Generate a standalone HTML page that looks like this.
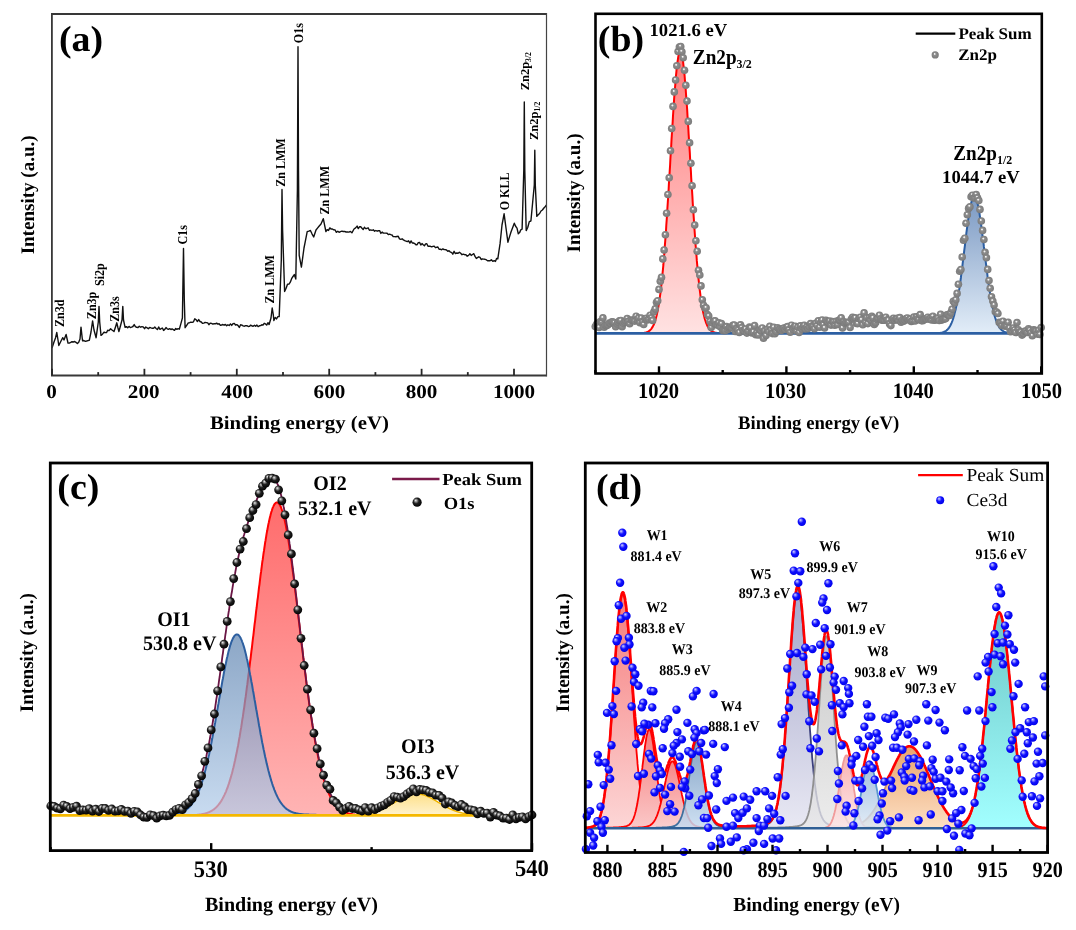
<!DOCTYPE html><html><head><meta charset="utf-8"><style>html,body{margin:0;padding:0;background:#fff;width:1076px;height:930px;overflow:hidden}svg{display:block;will-change:transform}</style></head><body><svg width="1076" height="930" viewBox="0 0 1076 930"><defs>
<radialGradient id="gd" cx="0.5" cy="0.5" r="0.55" fx="0.4" fy="0.34"><stop offset="0" stop-color="#ffffff"/><stop offset="0.14" stop-color="#e8e8e8"/><stop offset="0.32" stop-color="#8e8e8e"/><stop offset="0.8" stop-color="#7e7e7e"/><stop offset="1" stop-color="#767676"/></radialGradient>
<radialGradient id="bd" cx="0.45" cy="0.42" r="0.6" fx="0.34" fy="0.3"><stop offset="0" stop-color="#f0f0f0"/><stop offset="0.22" stop-color="#909090"/><stop offset="0.5" stop-color="#202020"/><stop offset="1" stop-color="#000"/></radialGradient>
<radialGradient id="ud" cx="0.45" cy="0.42" r="0.6" fx="0.34" fy="0.3"><stop offset="0" stop-color="#d8d8ff"/><stop offset="0.25" stop-color="#7070ff"/><stop offset="0.5" stop-color="#1010ff"/><stop offset="1" stop-color="#0000e8"/></radialGradient>
<linearGradient id="rb" x1="0" y1="0" x2="0" y2="1"><stop offset="0" stop-color="#ff7a7a"/><stop offset="1" stop-color="#ffe2e2"/></linearGradient>
<linearGradient id="bb" x1="0" y1="0" x2="0" y2="1"><stop offset="0" stop-color="#7a98c2"/><stop offset="1" stop-color="#e2edf8"/></linearGradient>
</defs><path d="M52 348 L54 342 L55.5 338 L56.8 332.5 L58 340 L58.8 345.5 L61 341 L62.8 337.7 L64 340 L66.1 334.5 L68 343 L69.3 343.1 L70.7 342.4 L72 341.7 L73.3 342 L74.7 341.5 L76 342.4 L77.4 343.5 L78.7 342.2 L80 339 L81 327.1 L82.2 338 L82.6 340.8 L83.9 340.5 L85.3 341.3 L86.6 341 L88 340.6 L89.3 340.3 L91 332 L92.6 320.9 L94 330 L96.1 337.7 L98.3 322 L99 306.4 L99.7 322 L101 335.4 L102.5 334.2 L104 332.2 L105.2 332.5 L106.5 332.6 L107.7 330.3 L109.1 330.6 L110.6 328.8 L112 330 L114 331.5 L115.5 327 L116.8 322.8 L118 328 L118.9 331.5 L120.5 325.8 L122 320 L122.8 306.4 L123.5 320 L125.1 327.4 L126.4 326.6 L127.7 327.7 L129 326.4 L130.3 327.5 L131.6 327.1 L132.9 326.5 L134.2 324.6 L135.4 326.6 L136.7 327.3 L138 327.6 L139.3 326.2 L140.6 327.2 L141.9 326.7 L143.2 326.9 L144.5 328.7 L145.8 327 L147.1 327.8 L148.4 328.7 L149.7 327.4 L151 327.9 L152.2 328.2 L153.5 328.2 L154.8 327.1 L156.1 328.4 L157.4 329.6 L158.7 327 L160 329.3 L161.2 328.7 L162.4 328 L163.6 330.4 L164.8 329.4 L166 327.6 L167.2 328.8 L168.4 329.3 L169.7 328.7 L170.9 329.5 L172.1 328.9 L173.3 329.6 L174.5 330.3 L175.7 328.5 L176.9 329.3 L178.1 328.7 L179.3 329.2 L180.9 323.6 L182.4 318 L183.5 248.4 L184.3 300 L185.1 327.7 L187 324.9 L188.3 322.9 L189.6 322.7 L190.9 322.2 L192.2 322.4 L193.5 321.8 L194.8 318.8 L196.1 319.8 L197.4 321.5 L198.7 319.6 L200 321.5 L201.3 322 L202.6 323.4 L203.8 323.1 L205.1 322.4 L206.4 322.6 L207.7 322.9 L208.9 324.7 L210.2 323.1 L211.5 323.4 L212.8 324.1 L214 323.8 L215.3 323.8 L216.6 323.1 L217.8 324.1 L219.1 323.8 L220.4 325.4 L221.6 325 L222.9 324.5 L224.1 325.2 L225.4 324.4 L226.7 325.7 L227.9 324.8 L229.2 325.5 L230.5 323.9 L231.7 325.4 L233 323.7 L234.3 323.4 L235.5 325 L236.8 324.6 L238.1 325.6 L239.3 327.5 L240.6 324.8 L241.9 325.1 L243.1 325.9 L244.4 326.2 L245.6 325.6 L246.9 325.7 L248.2 326.5 L249.4 326.4 L250.7 325.1 L252 326 L253.2 326.2 L254.5 325.3 L255.7 326.3 L256.9 325.1 L258.1 326.6 L259.4 325.8 L260.6 325.6 L261.8 324.8 L263 325.1 L264.2 323.3 L265.5 323.9 L266.7 325.1 L267.9 322.7 L269.1 324.5 L271 318 L272.2 308 L273.2 314 L273.9 320.6 L275.2 317.4 L276.5 318.9 L277.9 316.6 L279.2 316.6 L281.3 260 L282 189.5 L282.6 230 L284.6 291.5 L286.1 288.3 L287.5 284.2 L289 284.1 L290.3 282.2 L291.6 278.7 L293 276.5 L294.3 274.6 L295.8 279 L297.4 190 L298 46.8 L298.5 170 L299.2 255.3 L301.4 267.1 L302.7 257.6 L304 248 L305.6 239.8 L307.2 231.6 L308.8 231.1 L310.4 230.5 L312 233.8 L313.7 237 L316 230 L317.5 228.1 L319 226.2 L321 224 L323.3 218.7 L324.6 225.1 L325.9 231.5 L327.2 229.7 L328.5 230.5 L329.8 227.9 L331.1 229 L332.4 229 L333.7 229.8 L335 229.9 L336.4 232.3 L337.8 231.2 L339.1 232.3 L340.5 231.6 L341.9 231.1 L343.2 231.5 L344.6 231.4 L346 232 L347.5 231.9 L348.9 232.1 L350.4 231.4 L351.9 232.8 L354 229 L355.6 227.9 L357.1 226.1 L358.3 228.6 L359.5 226.8 L360.7 226.7 L362 228.3 L363.2 229.5 L364.4 227.2 L365.6 228.6 L366.8 228.5 L368.1 227.8 L369.4 230.3 L370.7 229.9 L372 230.3 L373.3 229.8 L374.6 231.2 L375.9 230.5 L377.2 231.2 L378.4 230.6 L379.7 230.8 L380.9 233.4 L382.1 232.1 L383.4 233.1 L384.6 233.1 L385.8 233.1 L387.1 233.3 L388.3 234.6 L389.5 234.1 L390.8 234.6 L392 235 L393.2 236.6 L394.5 236.6 L395.8 236.8 L397 236.5 L398.2 236.3 L399.5 238.9 L400.8 239.3 L402.1 238.8 L403.4 239.9 L404.7 240.6 L406 241.1 L407.3 241.6 L408.6 240.8 L409.9 243.1 L411.1 240.9 L412.3 243 L413.5 243 L414.7 243.6 L415.9 244.8 L417.1 244.7 L418.3 242.6 L419.5 242.4 L420.8 245 L422 243.6 L423.2 244.8 L424.4 245.8 L425.6 243.9 L426.8 243.7 L428 246.2 L429.2 246.2 L430.4 246.3 L431.7 246.9 L432.9 246.4 L434.2 246.1 L435.4 247.7 L436.6 247.3 L437.9 247 L439.1 249.3 L440.4 249.1 L441.6 249.8 L442.8 248.9 L444.1 249.5 L445.3 249.6 L446.5 250 L447.8 251.3 L449 250.7 L450.3 252.1 L451.5 252.4 L452.8 254.2 L454.1 251.3 L455.4 253.6 L456.8 253 L458.1 253.3 L459.4 252.2 L460.7 253.3 L462 254.7 L463.3 254.2 L464.6 254.7 L465.9 254.6 L467.2 256.2 L468.6 255.4 L469.9 253.8 L471.2 255.4 L472.5 254.5 L473.8 253.7 L475 256.4 L476.3 258.4 L477.5 257.6 L478.8 256.8 L480 257.3 L481.2 259.5 L482.5 258.9 L483.7 259.1 L485 259.3 L486.2 259.7 L487.5 260.7 L488.7 260.8 L490.1 260.7 L491.4 259.8 L492.8 261.4 L494.2 260.6 L495.4 261.4 L496.6 258.5 L497.8 258.8 L500.1 243.4 L502 225 L504.1 213.8 L506 228 L507.9 242.2 L509.4 237.1 L511 232 L512.6 227.7 L514.3 223.2 L515.6 226.3 L517 228.1 L518.3 233.8 L519.6 232.6 L520.8 229.8 L522.1 229.2 L523.8 170 L524.3 101.9 L524.8 170 L526.2 230.6 L527.8 227.3 L529.3 221.6 L530.9 221 L532.6 203 L534.3 185 L534.8 150.3 L535.3 185 L536.8 216.4 L538.2 214.7 L539.6 213.5 L541 211 L542.4 210 L543.7 208.3 L545.1 206.7 L546.5 205" fill="none" stroke="#111" stroke-width="1.4" stroke-linejoin="round"/><path d="M51.9 14.0 H546.5 M51.9 13.1 V376.4 M51.9 375.5 H546.5" fill="none" stroke="#383838" stroke-width="1.8"/><path d="M546.5 13.1 V376.4" stroke="#444" stroke-width="1.2"/><line x1="52" y1="375.5" x2="52" y2="368.8" stroke="#262626" stroke-width="1.8"/><line x1="98.2" y1="375.5" x2="98.2" y2="372.1" stroke="#262626" stroke-width="1.8"/><line x1="144.4" y1="375.5" x2="144.4" y2="368.8" stroke="#262626" stroke-width="1.8"/><line x1="190.6" y1="375.5" x2="190.6" y2="372.1" stroke="#262626" stroke-width="1.8"/><line x1="236.8" y1="375.5" x2="236.8" y2="368.8" stroke="#262626" stroke-width="1.8"/><line x1="283" y1="375.5" x2="283" y2="372.1" stroke="#262626" stroke-width="1.8"/><line x1="329.2" y1="375.5" x2="329.2" y2="368.8" stroke="#262626" stroke-width="1.8"/><line x1="375.4" y1="375.5" x2="375.4" y2="372.1" stroke="#262626" stroke-width="1.8"/><line x1="421.6" y1="375.5" x2="421.6" y2="368.8" stroke="#262626" stroke-width="1.8"/><line x1="467.8" y1="375.5" x2="467.8" y2="372.1" stroke="#262626" stroke-width="1.8"/><line x1="514" y1="375.5" x2="514" y2="368.8" stroke="#262626" stroke-width="1.8"/><path d="M643.3 333.3 L643.3 333 L643.6 332.9 L644 332.9 L644.4 332.8 L644.8 332.7 L645.1 332.7 L645.5 332.6 L645.9 332.5 L646.2 332.4 L646.6 332.2 L647 332.1 L647.4 332 L647.7 331.8 L648.1 331.6 L648.5 331.4 L648.9 331.1 L649.2 330.9 L649.6 330.6 L650 330.3 L650.3 329.9 L650.7 329.5 L651.1 329.1 L651.5 328.6 L651.8 328.1 L652.2 327.5 L652.6 326.9 L652.9 326.2 L653.3 325.5 L653.7 324.7 L654.1 323.8 L654.4 322.9 L654.8 321.8 L655.2 320.7 L655.5 319.5 L655.9 318.2 L656.3 316.8 L656.7 315.3 L657 313.7 L657.4 312 L657.8 310.1 L658.1 308.2 L658.5 306 L658.9 303.8 L659.3 301.4 L659.6 298.9 L660 296.2 L660.4 293.3 L660.8 290.4 L661.1 287.2 L661.5 283.9 L661.9 280.4 L662.2 276.7 L662.6 272.9 L663 268.9 L663.4 264.7 L663.7 260.3 L664.1 255.8 L664.5 251.1 L664.8 246.3 L665.2 241.3 L665.6 236.1 L666 230.8 L666.3 225.3 L666.7 219.7 L667.1 214 L667.4 208.2 L667.8 202.2 L668.2 196.2 L668.6 190.1 L668.9 183.9 L669.3 177.6 L669.7 171.3 L670.1 165 L670.4 158.7 L670.8 152.4 L671.2 146.1 L671.5 139.9 L671.9 133.7 L672.3 127.6 L672.7 121.6 L673 115.8 L673.4 110 L673.8 104.5 L674.1 99.1 L674.5 93.9 L674.9 89 L675.3 84.3 L675.6 79.8 L676 75.6 L676.4 71.7 L676.7 68.1 L677.1 64.9 L677.5 61.9 L677.9 59.3 L678.2 57.1 L678.6 55.2 L679 53.6 L679.3 52.5 L679.7 51.7 L680.1 51.3 L680.5 51.3 L680.8 51.7 L681.2 52.5 L681.6 53.7 L682 55.2 L682.3 57.1 L682.7 59.3 L683.1 61.9 L683.4 64.9 L683.8 68.2 L684.2 71.8 L684.6 75.7 L684.9 79.9 L685.3 84.3 L685.7 89 L686 94 L686.4 99.2 L686.8 104.5 L687.2 110.1 L687.5 115.8 L687.9 121.7 L688.3 127.7 L688.6 133.8 L689 139.9 L689.4 146.2 L689.8 152.4 L690.1 158.8 L690.5 165.1 L690.9 171.4 L691.2 177.7 L691.6 183.9 L692 190.1 L692.4 196.2 L692.7 202.3 L693.1 208.2 L693.5 214.1 L693.9 219.8 L694.2 225.4 L694.6 230.8 L695 236.2 L695.3 241.3 L695.7 246.3 L696.1 251.2 L696.5 255.9 L696.8 260.4 L697.2 264.7 L697.6 268.9 L697.9 272.9 L698.3 276.7 L698.7 280.4 L699.1 283.9 L699.4 287.2 L699.8 290.4 L700.2 293.4 L700.5 296.2 L700.9 298.9 L701.3 301.4 L701.7 303.8 L702 306.1 L702.4 308.2 L702.8 310.2 L703.1 312 L703.5 313.7 L703.9 315.3 L704.3 316.8 L704.6 318.2 L705 319.5 L705.4 320.7 L705.8 321.9 L706.1 322.9 L706.5 323.8 L706.9 324.7 L707.2 325.5 L707.6 326.3 L708 326.9 L708.4 327.6 L708.7 328.1 L709.1 328.6 L709.5 329.1 L709.8 329.5 L710.2 329.9 L710.6 330.3 L711 330.6 L711.3 330.9 L711.7 331.2 L712.1 331.4 L712.4 331.6 L712.8 331.8 L713.2 332 L713.6 332.1 L713.9 332.3 L714.3 332.4 L714.7 332.5 L715 332.6 L715.4 332.7 L715.8 332.7 L716.2 332.8 L716.5 332.9 L716.9 332.9 L717.3 333 L717.3 333.3 Z" fill="url(#rb)"/><path d="M643.3 333 L643.6 332.9 L644 332.9 L644.4 332.8 L644.8 332.7 L645.1 332.7 L645.5 332.6 L645.9 332.5 L646.2 332.4 L646.6 332.2 L647 332.1 L647.4 332 L647.7 331.8 L648.1 331.6 L648.5 331.4 L648.9 331.1 L649.2 330.9 L649.6 330.6 L650 330.3 L650.3 329.9 L650.7 329.5 L651.1 329.1 L651.5 328.6 L651.8 328.1 L652.2 327.5 L652.6 326.9 L652.9 326.2 L653.3 325.5 L653.7 324.7 L654.1 323.8 L654.4 322.9 L654.8 321.8 L655.2 320.7 L655.5 319.5 L655.9 318.2 L656.3 316.8 L656.7 315.3 L657 313.7 L657.4 312 L657.8 310.1 L658.1 308.2 L658.5 306 L658.9 303.8 L659.3 301.4 L659.6 298.9 L660 296.2 L660.4 293.3 L660.8 290.4 L661.1 287.2 L661.5 283.9 L661.9 280.4 L662.2 276.7 L662.6 272.9 L663 268.9 L663.4 264.7 L663.7 260.3 L664.1 255.8 L664.5 251.1 L664.8 246.3 L665.2 241.3 L665.6 236.1 L666 230.8 L666.3 225.3 L666.7 219.7 L667.1 214 L667.4 208.2 L667.8 202.2 L668.2 196.2 L668.6 190.1 L668.9 183.9 L669.3 177.6 L669.7 171.3 L670.1 165 L670.4 158.7 L670.8 152.4 L671.2 146.1 L671.5 139.9 L671.9 133.7 L672.3 127.6 L672.7 121.6 L673 115.8 L673.4 110 L673.8 104.5 L674.1 99.1 L674.5 93.9 L674.9 89 L675.3 84.3 L675.6 79.8 L676 75.6 L676.4 71.7 L676.7 68.1 L677.1 64.9 L677.5 61.9 L677.9 59.3 L678.2 57.1 L678.6 55.2 L679 53.6 L679.3 52.5 L679.7 51.7 L680.1 51.3 L680.5 51.3 L680.8 51.7 L681.2 52.5 L681.6 53.7 L682 55.2 L682.3 57.1 L682.7 59.3 L683.1 61.9 L683.4 64.9 L683.8 68.2 L684.2 71.8 L684.6 75.7 L684.9 79.9 L685.3 84.3 L685.7 89 L686 94 L686.4 99.2 L686.8 104.5 L687.2 110.1 L687.5 115.8 L687.9 121.7 L688.3 127.7 L688.6 133.8 L689 139.9 L689.4 146.2 L689.8 152.4 L690.1 158.8 L690.5 165.1 L690.9 171.4 L691.2 177.7 L691.6 183.9 L692 190.1 L692.4 196.2 L692.7 202.3 L693.1 208.2 L693.5 214.1 L693.9 219.8 L694.2 225.4 L694.6 230.8 L695 236.2 L695.3 241.3 L695.7 246.3 L696.1 251.2 L696.5 255.9 L696.8 260.4 L697.2 264.7 L697.6 268.9 L697.9 272.9 L698.3 276.7 L698.7 280.4 L699.1 283.9 L699.4 287.2 L699.8 290.4 L700.2 293.4 L700.5 296.2 L700.9 298.9 L701.3 301.4 L701.7 303.8 L702 306.1 L702.4 308.2 L702.8 310.2 L703.1 312 L703.5 313.7 L703.9 315.3 L704.3 316.8 L704.6 318.2 L705 319.5 L705.4 320.7 L705.8 321.9 L706.1 322.9 L706.5 323.8 L706.9 324.7 L707.2 325.5 L707.6 326.3 L708 326.9 L708.4 327.6 L708.7 328.1 L709.1 328.6 L709.5 329.1 L709.8 329.5 L710.2 329.9 L710.6 330.3 L711 330.6 L711.3 330.9 L711.7 331.2 L712.1 331.4 L712.4 331.6 L712.8 331.8 L713.2 332 L713.6 332.1 L713.9 332.3 L714.3 332.4 L714.7 332.5 L715 332.6 L715.4 332.7 L715.8 332.7 L716.2 332.8 L716.5 332.9 L716.9 332.9 L717.3 333" fill="none" stroke="#ff0000" stroke-width="2"/><path d="M939.3 333.3 L939.3 333 L939.7 333 L940 332.9 L940.4 332.9 L940.8 332.8 L941.2 332.7 L941.5 332.7 L941.9 332.6 L942.3 332.5 L942.6 332.4 L943 332.3 L943.4 332.1 L943.8 332 L944.1 331.8 L944.5 331.7 L944.9 331.5 L945.3 331.3 L945.6 331 L946 330.8 L946.4 330.5 L946.7 330.2 L947.1 329.9 L947.5 329.5 L947.9 329.1 L948.2 328.7 L948.6 328.3 L949 327.7 L949.3 327.2 L949.7 326.6 L950.1 326 L950.5 325.3 L950.8 324.6 L951.2 323.8 L951.6 322.9 L951.9 322 L952.3 321.1 L952.7 320 L953.1 318.9 L953.4 317.8 L953.8 316.5 L954.2 315.2 L954.5 313.8 L954.9 312.3 L955.3 310.8 L955.7 309.2 L956 307.4 L956.4 305.7 L956.8 303.8 L957.2 301.8 L957.5 299.8 L957.9 297.6 L958.3 295.4 L958.6 293.1 L959 290.7 L959.4 288.3 L959.8 285.7 L960.1 283.1 L960.5 280.5 L960.9 277.7 L961.2 274.9 L961.6 272.1 L962 269.1 L962.4 266.2 L962.7 263.2 L963.1 260.2 L963.5 257.1 L963.8 254 L964.2 250.9 L964.6 247.8 L965 244.8 L965.3 241.7 L965.7 238.7 L966.1 235.7 L966.4 232.7 L966.8 229.8 L967.2 226.9 L967.6 224.2 L967.9 221.5 L968.3 218.9 L968.7 216.4 L969.1 214 L969.4 211.7 L969.8 209.6 L970.2 207.6 L970.5 205.7 L970.9 204 L971.3 202.4 L971.7 201.1 L972 199.8 L972.4 198.8 L972.8 197.9 L973.1 197.2 L973.5 196.7 L973.9 196.4 L974.3 196.3 L974.6 196.4 L975 196.6 L975.4 197.1 L975.7 197.7 L976.1 198.5 L976.5 199.5 L976.9 200.7 L977.2 202 L977.6 203.5 L978 205.2 L978.4 207 L978.7 209 L979.1 211.1 L979.5 213.3 L979.8 215.6 L980.2 218.1 L980.6 220.7 L981 223.3 L981.3 226.1 L981.7 228.9 L982.1 231.8 L982.4 234.8 L982.8 237.8 L983.2 240.8 L983.6 243.8 L983.9 246.9 L984.3 250 L984.7 253.1 L985 256.2 L985.4 259.2 L985.8 262.3 L986.2 265.3 L986.5 268.3 L986.9 271.2 L987.3 274.1 L987.6 276.9 L988 279.6 L988.4 282.3 L988.8 285 L989.1 287.5 L989.5 290 L989.9 292.4 L990.3 294.7 L990.6 297 L991 299.1 L991.4 301.2 L991.7 303.2 L992.1 305.1 L992.5 306.9 L992.9 308.7 L993.2 310.3 L993.6 311.9 L994 313.4 L994.3 314.8 L994.7 316.1 L995.1 317.4 L995.5 318.6 L995.8 319.7 L996.2 320.8 L996.6 321.7 L996.9 322.7 L997.3 323.5 L997.7 324.3 L998.1 325.1 L998.4 325.8 L998.8 326.4 L999.2 327 L999.5 327.6 L999.9 328.1 L1000.3 328.6 L1000.7 329 L1001 329.4 L1001.4 329.8 L1001.8 330.1 L1002.2 330.4 L1002.5 330.7 L1002.9 331 L1003.3 331.2 L1003.6 331.4 L1004 331.6 L1004.4 331.8 L1004.8 332 L1005.1 332.1 L1005.5 332.2 L1005.9 332.3 L1006.2 332.5 L1006.6 332.5 L1007 332.6 L1007.4 332.7 L1007.7 332.8 L1008.1 332.8 L1008.5 332.9 L1008.8 332.9 L1009.2 333 L1009.2 333.3 Z" fill="url(#bb)"/><path d="M939.3 333 L939.7 333 L940 332.9 L940.4 332.9 L940.8 332.8 L941.2 332.7 L941.5 332.7 L941.9 332.6 L942.3 332.5 L942.6 332.4 L943 332.3 L943.4 332.1 L943.8 332 L944.1 331.8 L944.5 331.7 L944.9 331.5 L945.3 331.3 L945.6 331 L946 330.8 L946.4 330.5 L946.7 330.2 L947.1 329.9 L947.5 329.5 L947.9 329.1 L948.2 328.7 L948.6 328.3 L949 327.7 L949.3 327.2 L949.7 326.6 L950.1 326 L950.5 325.3 L950.8 324.6 L951.2 323.8 L951.6 322.9 L951.9 322 L952.3 321.1 L952.7 320 L953.1 318.9 L953.4 317.8 L953.8 316.5 L954.2 315.2 L954.5 313.8 L954.9 312.3 L955.3 310.8 L955.7 309.2 L956 307.4 L956.4 305.7 L956.8 303.8 L957.2 301.8 L957.5 299.8 L957.9 297.6 L958.3 295.4 L958.6 293.1 L959 290.7 L959.4 288.3 L959.8 285.7 L960.1 283.1 L960.5 280.5 L960.9 277.7 L961.2 274.9 L961.6 272.1 L962 269.1 L962.4 266.2 L962.7 263.2 L963.1 260.2 L963.5 257.1 L963.8 254 L964.2 250.9 L964.6 247.8 L965 244.8 L965.3 241.7 L965.7 238.7 L966.1 235.7 L966.4 232.7 L966.8 229.8 L967.2 226.9 L967.6 224.2 L967.9 221.5 L968.3 218.9 L968.7 216.4 L969.1 214 L969.4 211.7 L969.8 209.6 L970.2 207.6 L970.5 205.7 L970.9 204 L971.3 202.4 L971.7 201.1 L972 199.8 L972.4 198.8 L972.8 197.9 L973.1 197.2 L973.5 196.7 L973.9 196.4 L974.3 196.3 L974.6 196.4 L975 196.6 L975.4 197.1 L975.7 197.7 L976.1 198.5 L976.5 199.5 L976.9 200.7 L977.2 202 L977.6 203.5 L978 205.2 L978.4 207 L978.7 209 L979.1 211.1 L979.5 213.3 L979.8 215.6 L980.2 218.1 L980.6 220.7 L981 223.3 L981.3 226.1 L981.7 228.9 L982.1 231.8 L982.4 234.8 L982.8 237.8 L983.2 240.8 L983.6 243.8 L983.9 246.9 L984.3 250 L984.7 253.1 L985 256.2 L985.4 259.2 L985.8 262.3 L986.2 265.3 L986.5 268.3 L986.9 271.2 L987.3 274.1 L987.6 276.9 L988 279.6 L988.4 282.3 L988.8 285 L989.1 287.5 L989.5 290 L989.9 292.4 L990.3 294.7 L990.6 297 L991 299.1 L991.4 301.2 L991.7 303.2 L992.1 305.1 L992.5 306.9 L992.9 308.7 L993.2 310.3 L993.6 311.9 L994 313.4 L994.3 314.8 L994.7 316.1 L995.1 317.4 L995.5 318.6 L995.8 319.7 L996.2 320.8 L996.6 321.7 L996.9 322.7 L997.3 323.5 L997.7 324.3 L998.1 325.1 L998.4 325.8 L998.8 326.4 L999.2 327 L999.5 327.6 L999.9 328.1 L1000.3 328.6 L1000.7 329 L1001 329.4 L1001.4 329.8 L1001.8 330.1 L1002.2 330.4 L1002.5 330.7 L1002.9 331 L1003.3 331.2 L1003.6 331.4 L1004 331.6 L1004.4 331.8 L1004.8 332 L1005.1 332.1 L1005.5 332.2 L1005.9 332.3 L1006.2 332.5 L1006.6 332.5 L1007 332.6 L1007.4 332.7 L1007.7 332.8 L1008.1 332.8 L1008.5 332.9 L1008.8 332.9 L1009.2 333" fill="none" stroke="#2c5fa3" stroke-width="2"/><line x1="595.5" y1="333.3" x2="1041.8" y2="333.3" stroke="#2c5fa3" stroke-width="2.8"/><circle cx="595.3" cy="326.6" r="3.8" fill="url(#gd)"/><circle cx="596.6" cy="324.2" r="3.8" fill="url(#gd)"/><circle cx="597.8" cy="323.2" r="3.8" fill="url(#gd)"/><circle cx="599.1" cy="327.4" r="3.8" fill="url(#gd)"/><circle cx="600.4" cy="321.5" r="3.8" fill="url(#gd)"/><circle cx="601.7" cy="322" r="3.8" fill="url(#gd)"/><circle cx="602.9" cy="317.9" r="3.8" fill="url(#gd)"/><circle cx="604.2" cy="327.3" r="3.8" fill="url(#gd)"/><circle cx="605.5" cy="325.6" r="3.8" fill="url(#gd)"/><circle cx="606.8" cy="325.4" r="3.8" fill="url(#gd)"/><circle cx="608" cy="324.7" r="3.8" fill="url(#gd)"/><circle cx="609.3" cy="323.1" r="3.8" fill="url(#gd)"/><circle cx="610.6" cy="323.3" r="3.8" fill="url(#gd)"/><circle cx="611.9" cy="321.9" r="3.8" fill="url(#gd)"/><circle cx="613.1" cy="322" r="3.8" fill="url(#gd)"/><circle cx="614.4" cy="322.7" r="3.8" fill="url(#gd)"/><circle cx="615.7" cy="326.7" r="3.8" fill="url(#gd)"/><circle cx="617" cy="324" r="3.8" fill="url(#gd)"/><circle cx="618.2" cy="322.2" r="3.8" fill="url(#gd)"/><circle cx="619.5" cy="320.7" r="3.8" fill="url(#gd)"/><circle cx="620.8" cy="320.5" r="3.8" fill="url(#gd)"/><circle cx="622.1" cy="326.7" r="3.8" fill="url(#gd)"/><circle cx="623.3" cy="323.5" r="3.8" fill="url(#gd)"/><circle cx="624.6" cy="322.1" r="3.8" fill="url(#gd)"/><circle cx="625.9" cy="320.8" r="3.8" fill="url(#gd)"/><circle cx="627.2" cy="318.5" r="3.8" fill="url(#gd)"/><circle cx="628.4" cy="321.3" r="3.8" fill="url(#gd)"/><circle cx="629.7" cy="323.8" r="3.8" fill="url(#gd)"/><circle cx="631" cy="320.1" r="3.8" fill="url(#gd)"/><circle cx="632.2" cy="320.5" r="3.8" fill="url(#gd)"/><circle cx="633.5" cy="320.3" r="3.8" fill="url(#gd)"/><circle cx="634.8" cy="321.1" r="3.8" fill="url(#gd)"/><circle cx="636.1" cy="316.2" r="3.8" fill="url(#gd)"/><circle cx="637.3" cy="319.9" r="3.8" fill="url(#gd)"/><circle cx="638.6" cy="318" r="3.8" fill="url(#gd)"/><circle cx="639.9" cy="322.7" r="3.8" fill="url(#gd)"/><circle cx="641.2" cy="318.1" r="3.8" fill="url(#gd)"/><circle cx="642.4" cy="321.9" r="3.8" fill="url(#gd)"/><circle cx="643.7" cy="324.5" r="3.8" fill="url(#gd)"/><circle cx="645" cy="319.2" r="3.8" fill="url(#gd)"/><circle cx="646.3" cy="318.2" r="3.8" fill="url(#gd)"/><circle cx="647.5" cy="320" r="3.8" fill="url(#gd)"/><circle cx="648.8" cy="318.9" r="3.8" fill="url(#gd)"/><circle cx="650.1" cy="315.2" r="3.8" fill="url(#gd)"/><circle cx="651.4" cy="317.9" r="3.8" fill="url(#gd)"/><circle cx="652.6" cy="320.4" r="3.8" fill="url(#gd)"/><circle cx="653.9" cy="311.8" r="3.8" fill="url(#gd)"/><circle cx="655.2" cy="308.9" r="3.8" fill="url(#gd)"/><circle cx="656.5" cy="302.3" r="3.8" fill="url(#gd)"/><circle cx="657.7" cy="300.7" r="3.8" fill="url(#gd)"/><circle cx="659" cy="289.4" r="3.8" fill="url(#gd)"/><circle cx="660.3" cy="281.2" r="3.8" fill="url(#gd)"/><circle cx="661.5" cy="277.4" r="3.8" fill="url(#gd)"/><circle cx="662.8" cy="258.9" r="3.8" fill="url(#gd)"/><circle cx="664.1" cy="250" r="3.8" fill="url(#gd)"/><circle cx="665.4" cy="234.8" r="3.8" fill="url(#gd)"/><circle cx="666.6" cy="213.2" r="3.8" fill="url(#gd)"/><circle cx="667.9" cy="194.5" r="3.8" fill="url(#gd)"/><circle cx="669.2" cy="177.8" r="3.8" fill="url(#gd)"/><circle cx="670.5" cy="150.7" r="3.8" fill="url(#gd)"/><circle cx="671.7" cy="128.6" r="3.8" fill="url(#gd)"/><circle cx="673" cy="106.4" r="3.8" fill="url(#gd)"/><circle cx="674.3" cy="91.9" r="3.8" fill="url(#gd)"/><circle cx="675.6" cy="80" r="3.8" fill="url(#gd)"/><circle cx="676.8" cy="65.8" r="3.8" fill="url(#gd)"/><circle cx="678.1" cy="51.5" r="3.8" fill="url(#gd)"/><circle cx="679.4" cy="47" r="3.8" fill="url(#gd)"/><circle cx="680.7" cy="46.5" r="3.8" fill="url(#gd)"/><circle cx="681.9" cy="51.7" r="3.8" fill="url(#gd)"/><circle cx="683.2" cy="57.7" r="3.8" fill="url(#gd)"/><circle cx="684.5" cy="70.2" r="3.8" fill="url(#gd)"/><circle cx="685.8" cy="85.2" r="3.8" fill="url(#gd)"/><circle cx="687" cy="101.1" r="3.8" fill="url(#gd)"/><circle cx="688.3" cy="121.4" r="3.8" fill="url(#gd)"/><circle cx="689.6" cy="142.8" r="3.8" fill="url(#gd)"/><circle cx="690.9" cy="163.2" r="3.8" fill="url(#gd)"/><circle cx="692.1" cy="185.7" r="3.8" fill="url(#gd)"/><circle cx="693.4" cy="209.8" r="3.8" fill="url(#gd)"/><circle cx="694.7" cy="225.1" r="3.8" fill="url(#gd)"/><circle cx="695.9" cy="240.8" r="3.8" fill="url(#gd)"/><circle cx="697.2" cy="251.2" r="3.8" fill="url(#gd)"/><circle cx="698.5" cy="270.3" r="3.8" fill="url(#gd)"/><circle cx="699.8" cy="275" r="3.8" fill="url(#gd)"/><circle cx="701" cy="285.9" r="3.8" fill="url(#gd)"/><circle cx="702.3" cy="299.8" r="3.8" fill="url(#gd)"/><circle cx="703.6" cy="305.4" r="3.8" fill="url(#gd)"/><circle cx="704.9" cy="308.1" r="3.8" fill="url(#gd)"/><circle cx="706.1" cy="307.8" r="3.8" fill="url(#gd)"/><circle cx="707.4" cy="314.6" r="3.8" fill="url(#gd)"/><circle cx="708.7" cy="316" r="3.8" fill="url(#gd)"/><circle cx="710" cy="321.4" r="3.8" fill="url(#gd)"/><circle cx="711.2" cy="327.5" r="3.8" fill="url(#gd)"/><circle cx="712.5" cy="323" r="3.8" fill="url(#gd)"/><circle cx="713.8" cy="321.2" r="3.8" fill="url(#gd)"/><circle cx="715.1" cy="320.9" r="3.8" fill="url(#gd)"/><circle cx="716.3" cy="324.7" r="3.8" fill="url(#gd)"/><circle cx="717.6" cy="324.9" r="3.8" fill="url(#gd)"/><circle cx="718.9" cy="322.7" r="3.8" fill="url(#gd)"/><circle cx="720.2" cy="326.7" r="3.8" fill="url(#gd)"/><circle cx="721.4" cy="323.6" r="3.8" fill="url(#gd)"/><circle cx="722.7" cy="330.4" r="3.8" fill="url(#gd)"/><circle cx="724" cy="330.5" r="3.8" fill="url(#gd)"/><circle cx="725.2" cy="330.7" r="3.8" fill="url(#gd)"/><circle cx="726.5" cy="326.6" r="3.8" fill="url(#gd)"/><circle cx="727.8" cy="329.5" r="3.8" fill="url(#gd)"/><circle cx="729.1" cy="327.9" r="3.8" fill="url(#gd)"/><circle cx="730.3" cy="327.4" r="3.8" fill="url(#gd)"/><circle cx="731.6" cy="327.7" r="3.8" fill="url(#gd)"/><circle cx="732.9" cy="325.3" r="3.8" fill="url(#gd)"/><circle cx="734.2" cy="325.1" r="3.8" fill="url(#gd)"/><circle cx="735.4" cy="331.5" r="3.8" fill="url(#gd)"/><circle cx="736.7" cy="328.9" r="3.8" fill="url(#gd)"/><circle cx="738" cy="330.1" r="3.8" fill="url(#gd)"/><circle cx="739.3" cy="332.4" r="3.8" fill="url(#gd)"/><circle cx="740.5" cy="324.8" r="3.8" fill="url(#gd)"/><circle cx="741.8" cy="327.6" r="3.8" fill="url(#gd)"/><circle cx="743.1" cy="330.4" r="3.8" fill="url(#gd)"/><circle cx="744.4" cy="331.1" r="3.8" fill="url(#gd)"/><circle cx="745.6" cy="329" r="3.8" fill="url(#gd)"/><circle cx="746.9" cy="333.1" r="3.8" fill="url(#gd)"/><circle cx="748.2" cy="330.9" r="3.8" fill="url(#gd)"/><circle cx="749.5" cy="327" r="3.8" fill="url(#gd)"/><circle cx="750.7" cy="327.9" r="3.8" fill="url(#gd)"/><circle cx="752" cy="332.9" r="3.8" fill="url(#gd)"/><circle cx="753.3" cy="332" r="3.8" fill="url(#gd)"/><circle cx="754.6" cy="325.5" r="3.8" fill="url(#gd)"/><circle cx="755.8" cy="334.7" r="3.8" fill="url(#gd)"/><circle cx="757.1" cy="332.7" r="3.8" fill="url(#gd)"/><circle cx="758.4" cy="334.9" r="3.8" fill="url(#gd)"/><circle cx="759.6" cy="330.1" r="3.8" fill="url(#gd)"/><circle cx="760.9" cy="330.5" r="3.8" fill="url(#gd)"/><circle cx="762.2" cy="328.1" r="3.8" fill="url(#gd)"/><circle cx="763.5" cy="338.3" r="3.8" fill="url(#gd)"/><circle cx="764.7" cy="330.7" r="3.8" fill="url(#gd)"/><circle cx="766" cy="335.5" r="3.8" fill="url(#gd)"/><circle cx="767.3" cy="329.2" r="3.8" fill="url(#gd)"/><circle cx="768.6" cy="331.5" r="3.8" fill="url(#gd)"/><circle cx="769.8" cy="326.3" r="3.8" fill="url(#gd)"/><circle cx="771.1" cy="329.8" r="3.8" fill="url(#gd)"/><circle cx="772.4" cy="333.6" r="3.8" fill="url(#gd)"/><circle cx="773.7" cy="327.3" r="3.8" fill="url(#gd)"/><circle cx="774.9" cy="333.8" r="3.8" fill="url(#gd)"/><circle cx="776.2" cy="331.6" r="3.8" fill="url(#gd)"/><circle cx="777.5" cy="327.7" r="3.8" fill="url(#gd)"/><circle cx="778.8" cy="329.2" r="3.8" fill="url(#gd)"/><circle cx="780" cy="329.3" r="3.8" fill="url(#gd)"/><circle cx="781.3" cy="330.4" r="3.8" fill="url(#gd)"/><circle cx="782.6" cy="328.9" r="3.8" fill="url(#gd)"/><circle cx="783.9" cy="328.1" r="3.8" fill="url(#gd)"/><circle cx="785.1" cy="329.5" r="3.8" fill="url(#gd)"/><circle cx="786.4" cy="327.4" r="3.8" fill="url(#gd)"/><circle cx="787.7" cy="326.5" r="3.8" fill="url(#gd)"/><circle cx="788.9" cy="329.8" r="3.8" fill="url(#gd)"/><circle cx="790.2" cy="332.2" r="3.8" fill="url(#gd)"/><circle cx="791.5" cy="325.2" r="3.8" fill="url(#gd)"/><circle cx="792.8" cy="329.3" r="3.8" fill="url(#gd)"/><circle cx="794" cy="327.3" r="3.8" fill="url(#gd)"/><circle cx="795.3" cy="326.2" r="3.8" fill="url(#gd)"/><circle cx="796.6" cy="331.1" r="3.8" fill="url(#gd)"/><circle cx="797.9" cy="327" r="3.8" fill="url(#gd)"/><circle cx="799.1" cy="332.5" r="3.8" fill="url(#gd)"/><circle cx="800.4" cy="325.9" r="3.8" fill="url(#gd)"/><circle cx="801.7" cy="329" r="3.8" fill="url(#gd)"/><circle cx="803" cy="327.1" r="3.8" fill="url(#gd)"/><circle cx="804.2" cy="325.4" r="3.8" fill="url(#gd)"/><circle cx="805.5" cy="328.9" r="3.8" fill="url(#gd)"/><circle cx="806.8" cy="326.7" r="3.8" fill="url(#gd)"/><circle cx="808.1" cy="328.6" r="3.8" fill="url(#gd)"/><circle cx="809.3" cy="326.6" r="3.8" fill="url(#gd)"/><circle cx="810.6" cy="323.5" r="3.8" fill="url(#gd)"/><circle cx="811.9" cy="326" r="3.8" fill="url(#gd)"/><circle cx="813.2" cy="326.3" r="3.8" fill="url(#gd)"/><circle cx="814.4" cy="328.7" r="3.8" fill="url(#gd)"/><circle cx="815.7" cy="323.3" r="3.8" fill="url(#gd)"/><circle cx="817" cy="325.6" r="3.8" fill="url(#gd)"/><circle cx="818.3" cy="320.7" r="3.8" fill="url(#gd)"/><circle cx="819.5" cy="327.2" r="3.8" fill="url(#gd)"/><circle cx="820.8" cy="322.2" r="3.8" fill="url(#gd)"/><circle cx="822.1" cy="320" r="3.8" fill="url(#gd)"/><circle cx="823.3" cy="324.8" r="3.8" fill="url(#gd)"/><circle cx="824.6" cy="327.9" r="3.8" fill="url(#gd)"/><circle cx="825.9" cy="320.4" r="3.8" fill="url(#gd)"/><circle cx="827.2" cy="321.5" r="3.8" fill="url(#gd)"/><circle cx="828.4" cy="322.3" r="3.8" fill="url(#gd)"/><circle cx="829.7" cy="321" r="3.8" fill="url(#gd)"/><circle cx="831" cy="325.1" r="3.8" fill="url(#gd)"/><circle cx="832.3" cy="321.6" r="3.8" fill="url(#gd)"/><circle cx="833.5" cy="321.7" r="3.8" fill="url(#gd)"/><circle cx="834.8" cy="325.2" r="3.8" fill="url(#gd)"/><circle cx="836.1" cy="321.3" r="3.8" fill="url(#gd)"/><circle cx="837.4" cy="324.5" r="3.8" fill="url(#gd)"/><circle cx="838.6" cy="320.5" r="3.8" fill="url(#gd)"/><circle cx="839.9" cy="319.7" r="3.8" fill="url(#gd)"/><circle cx="841.2" cy="317.8" r="3.8" fill="url(#gd)"/><circle cx="842.5" cy="328" r="3.8" fill="url(#gd)"/><circle cx="843.7" cy="321.8" r="3.8" fill="url(#gd)"/><circle cx="845" cy="323.2" r="3.8" fill="url(#gd)"/><circle cx="846.3" cy="322.3" r="3.8" fill="url(#gd)"/><circle cx="847.6" cy="322.7" r="3.8" fill="url(#gd)"/><circle cx="848.8" cy="322.3" r="3.8" fill="url(#gd)"/><circle cx="850.1" cy="327.4" r="3.8" fill="url(#gd)"/><circle cx="851.4" cy="319" r="3.8" fill="url(#gd)"/><circle cx="852.6" cy="317.4" r="3.8" fill="url(#gd)"/><circle cx="853.9" cy="318.8" r="3.8" fill="url(#gd)"/><circle cx="855.2" cy="317.8" r="3.8" fill="url(#gd)"/><circle cx="856.5" cy="323.5" r="3.8" fill="url(#gd)"/><circle cx="857.7" cy="323.6" r="3.8" fill="url(#gd)"/><circle cx="859" cy="318.5" r="3.8" fill="url(#gd)"/><circle cx="860.3" cy="317.2" r="3.8" fill="url(#gd)"/><circle cx="861.6" cy="319.9" r="3.8" fill="url(#gd)"/><circle cx="862.8" cy="324.7" r="3.8" fill="url(#gd)"/><circle cx="864.1" cy="312.9" r="3.8" fill="url(#gd)"/><circle cx="865.4" cy="322.2" r="3.8" fill="url(#gd)"/><circle cx="866.7" cy="317.7" r="3.8" fill="url(#gd)"/><circle cx="867.9" cy="323.6" r="3.8" fill="url(#gd)"/><circle cx="869.2" cy="317.7" r="3.8" fill="url(#gd)"/><circle cx="870.5" cy="319.9" r="3.8" fill="url(#gd)"/><circle cx="871.8" cy="316.4" r="3.8" fill="url(#gd)"/><circle cx="873" cy="317.9" r="3.8" fill="url(#gd)"/><circle cx="874.3" cy="324.5" r="3.8" fill="url(#gd)"/><circle cx="875.6" cy="322.8" r="3.8" fill="url(#gd)"/><circle cx="876.9" cy="319.4" r="3.8" fill="url(#gd)"/><circle cx="878.1" cy="318.1" r="3.8" fill="url(#gd)"/><circle cx="879.4" cy="315.2" r="3.8" fill="url(#gd)"/><circle cx="880.7" cy="319.3" r="3.8" fill="url(#gd)"/><circle cx="882" cy="320.3" r="3.8" fill="url(#gd)"/><circle cx="883.2" cy="320.2" r="3.8" fill="url(#gd)"/><circle cx="884.5" cy="320.1" r="3.8" fill="url(#gd)"/><circle cx="885.8" cy="317.2" r="3.8" fill="url(#gd)"/><circle cx="887" cy="320.1" r="3.8" fill="url(#gd)"/><circle cx="888.3" cy="320.2" r="3.8" fill="url(#gd)"/><circle cx="889.6" cy="323.9" r="3.8" fill="url(#gd)"/><circle cx="890.9" cy="325.6" r="3.8" fill="url(#gd)"/><circle cx="892.1" cy="320" r="3.8" fill="url(#gd)"/><circle cx="893.4" cy="318.3" r="3.8" fill="url(#gd)"/><circle cx="894.7" cy="320.2" r="3.8" fill="url(#gd)"/><circle cx="896" cy="318.7" r="3.8" fill="url(#gd)"/><circle cx="897.2" cy="318.4" r="3.8" fill="url(#gd)"/><circle cx="898.5" cy="320.3" r="3.8" fill="url(#gd)"/><circle cx="899.8" cy="317.6" r="3.8" fill="url(#gd)"/><circle cx="901.1" cy="322.2" r="3.8" fill="url(#gd)"/><circle cx="902.3" cy="320.3" r="3.8" fill="url(#gd)"/><circle cx="903.6" cy="321.3" r="3.8" fill="url(#gd)"/><circle cx="904.9" cy="320.1" r="3.8" fill="url(#gd)"/><circle cx="906.2" cy="318.6" r="3.8" fill="url(#gd)"/><circle cx="907.4" cy="318" r="3.8" fill="url(#gd)"/><circle cx="908.7" cy="320" r="3.8" fill="url(#gd)"/><circle cx="910" cy="319.2" r="3.8" fill="url(#gd)"/><circle cx="911.3" cy="321.4" r="3.8" fill="url(#gd)"/><circle cx="912.5" cy="320.8" r="3.8" fill="url(#gd)"/><circle cx="913.8" cy="317" r="3.8" fill="url(#gd)"/><circle cx="915.1" cy="320.9" r="3.8" fill="url(#gd)"/><circle cx="916.3" cy="316.9" r="3.8" fill="url(#gd)"/><circle cx="917.6" cy="318.8" r="3.8" fill="url(#gd)"/><circle cx="918.9" cy="319.7" r="3.8" fill="url(#gd)"/><circle cx="920.2" cy="314.6" r="3.8" fill="url(#gd)"/><circle cx="921.4" cy="320.6" r="3.8" fill="url(#gd)"/><circle cx="922.7" cy="320.7" r="3.8" fill="url(#gd)"/><circle cx="924" cy="319.8" r="3.8" fill="url(#gd)"/><circle cx="925.3" cy="318.9" r="3.8" fill="url(#gd)"/><circle cx="926.5" cy="319" r="3.8" fill="url(#gd)"/><circle cx="927.8" cy="317.2" r="3.8" fill="url(#gd)"/><circle cx="929.1" cy="319.1" r="3.8" fill="url(#gd)"/><circle cx="930.4" cy="318.3" r="3.8" fill="url(#gd)"/><circle cx="931.6" cy="320" r="3.8" fill="url(#gd)"/><circle cx="932.9" cy="316.3" r="3.8" fill="url(#gd)"/><circle cx="934.2" cy="320.2" r="3.8" fill="url(#gd)"/><circle cx="935.5" cy="319.9" r="3.8" fill="url(#gd)"/><circle cx="936.7" cy="318.9" r="3.8" fill="url(#gd)"/><circle cx="938" cy="318" r="3.8" fill="url(#gd)"/><circle cx="939.3" cy="320.5" r="3.8" fill="url(#gd)"/><circle cx="940.6" cy="314.3" r="3.8" fill="url(#gd)"/><circle cx="941.8" cy="320.1" r="3.8" fill="url(#gd)"/><circle cx="943.1" cy="319.2" r="3.8" fill="url(#gd)"/><circle cx="944.4" cy="318.9" r="3.8" fill="url(#gd)"/><circle cx="945.7" cy="318.6" r="3.8" fill="url(#gd)"/><circle cx="946.9" cy="314.8" r="3.8" fill="url(#gd)"/><circle cx="948.2" cy="314.7" r="3.8" fill="url(#gd)"/><circle cx="949.5" cy="315.5" r="3.8" fill="url(#gd)"/><circle cx="950.7" cy="312.7" r="3.8" fill="url(#gd)"/><circle cx="952" cy="309.2" r="3.8" fill="url(#gd)"/><circle cx="953.3" cy="301.2" r="3.8" fill="url(#gd)"/><circle cx="954.6" cy="303" r="3.8" fill="url(#gd)"/><circle cx="955.8" cy="299.8" r="3.8" fill="url(#gd)"/><circle cx="957.1" cy="293.4" r="3.8" fill="url(#gd)"/><circle cx="958.4" cy="284.3" r="3.8" fill="url(#gd)"/><circle cx="959.7" cy="271.3" r="3.8" fill="url(#gd)"/><circle cx="960.9" cy="269.5" r="3.8" fill="url(#gd)"/><circle cx="962.2" cy="257" r="3.8" fill="url(#gd)"/><circle cx="963.5" cy="240.3" r="3.8" fill="url(#gd)"/><circle cx="964.8" cy="238.2" r="3.8" fill="url(#gd)"/><circle cx="966" cy="223.3" r="3.8" fill="url(#gd)"/><circle cx="967.3" cy="214.7" r="3.8" fill="url(#gd)"/><circle cx="968.6" cy="208.4" r="3.8" fill="url(#gd)"/><circle cx="969.9" cy="206.7" r="3.8" fill="url(#gd)"/><circle cx="971.1" cy="196.8" r="3.8" fill="url(#gd)"/><circle cx="972.4" cy="195.2" r="3.8" fill="url(#gd)"/><circle cx="973.7" cy="198" r="3.8" fill="url(#gd)"/><circle cx="975" cy="197.7" r="3.8" fill="url(#gd)"/><circle cx="976.2" cy="194.5" r="3.8" fill="url(#gd)"/><circle cx="977.5" cy="197.8" r="3.8" fill="url(#gd)"/><circle cx="978.8" cy="200.6" r="3.8" fill="url(#gd)"/><circle cx="980" cy="209.4" r="3.8" fill="url(#gd)"/><circle cx="981.3" cy="221" r="3.8" fill="url(#gd)"/><circle cx="982.6" cy="230.4" r="3.8" fill="url(#gd)"/><circle cx="983.9" cy="239.5" r="3.8" fill="url(#gd)"/><circle cx="985.1" cy="252.4" r="3.8" fill="url(#gd)"/><circle cx="986.4" cy="257.7" r="3.8" fill="url(#gd)"/><circle cx="987.7" cy="269.4" r="3.8" fill="url(#gd)"/><circle cx="989" cy="280.6" r="3.8" fill="url(#gd)"/><circle cx="990.2" cy="288.3" r="3.8" fill="url(#gd)"/><circle cx="991.5" cy="296.8" r="3.8" fill="url(#gd)"/><circle cx="992.8" cy="301.1" r="3.8" fill="url(#gd)"/><circle cx="994.1" cy="305" r="3.8" fill="url(#gd)"/><circle cx="995.3" cy="311.7" r="3.8" fill="url(#gd)"/><circle cx="996.6" cy="312" r="3.8" fill="url(#gd)"/><circle cx="997.9" cy="313.5" r="3.8" fill="url(#gd)"/><circle cx="999.2" cy="322.4" r="3.8" fill="url(#gd)"/><circle cx="1000.4" cy="322.8" r="3.8" fill="url(#gd)"/><circle cx="1001.7" cy="325.5" r="3.8" fill="url(#gd)"/><circle cx="1003" cy="321.2" r="3.8" fill="url(#gd)"/><circle cx="1004.3" cy="325.9" r="3.8" fill="url(#gd)"/><circle cx="1005.5" cy="325.9" r="3.8" fill="url(#gd)"/><circle cx="1006.8" cy="325.8" r="3.8" fill="url(#gd)"/><circle cx="1008.1" cy="322.3" r="3.8" fill="url(#gd)"/><circle cx="1009.4" cy="328.1" r="3.8" fill="url(#gd)"/><circle cx="1010.6" cy="331.8" r="3.8" fill="url(#gd)"/><circle cx="1011.9" cy="330.6" r="3.8" fill="url(#gd)"/><circle cx="1013.2" cy="328.1" r="3.8" fill="url(#gd)"/><circle cx="1014.4" cy="330" r="3.8" fill="url(#gd)"/><circle cx="1015.7" cy="332.4" r="3.8" fill="url(#gd)"/><circle cx="1017" cy="322.6" r="3.8" fill="url(#gd)"/><circle cx="1018.3" cy="329.9" r="3.8" fill="url(#gd)"/><circle cx="1019.5" cy="331.8" r="3.8" fill="url(#gd)"/><circle cx="1020.8" cy="332.2" r="3.8" fill="url(#gd)"/><circle cx="1022.1" cy="335.1" r="3.8" fill="url(#gd)"/><circle cx="1023.4" cy="333.5" r="3.8" fill="url(#gd)"/><circle cx="1024.6" cy="331.2" r="3.8" fill="url(#gd)"/><circle cx="1025.9" cy="331.1" r="3.8" fill="url(#gd)"/><circle cx="1027.2" cy="332.5" r="3.8" fill="url(#gd)"/><circle cx="1028.5" cy="328.8" r="3.8" fill="url(#gd)"/><circle cx="1029.7" cy="330.2" r="3.8" fill="url(#gd)"/><circle cx="1031" cy="332.8" r="3.8" fill="url(#gd)"/><circle cx="1032.3" cy="335.8" r="3.8" fill="url(#gd)"/><circle cx="1033.6" cy="329.9" r="3.8" fill="url(#gd)"/><circle cx="1034.8" cy="330.2" r="3.8" fill="url(#gd)"/><circle cx="1036.1" cy="330.9" r="3.8" fill="url(#gd)"/><circle cx="1037.4" cy="334.1" r="3.8" fill="url(#gd)"/><circle cx="1038.7" cy="330.2" r="3.8" fill="url(#gd)"/><circle cx="1039.9" cy="334.4" r="3.8" fill="url(#gd)"/><circle cx="1041.2" cy="327.6" r="3.8" fill="url(#gd)"/><rect x="595.5" y="13.8" width="446.3" height="359.7" fill="none" stroke="#000" stroke-width="2.6"/><line x1="595.3" y1="373.5" x2="595.3" y2="370" stroke="#000" stroke-width="2.4"/><line x1="659" y1="373.5" x2="659" y2="366.3" stroke="#000" stroke-width="2.4"/><line x1="722.7" y1="373.5" x2="722.7" y2="370" stroke="#000" stroke-width="2.4"/><line x1="786.4" y1="373.5" x2="786.4" y2="366.3" stroke="#000" stroke-width="2.4"/><line x1="850.1" y1="373.5" x2="850.1" y2="370" stroke="#000" stroke-width="2.4"/><line x1="913.8" y1="373.5" x2="913.8" y2="366.3" stroke="#000" stroke-width="2.4"/><line x1="977.5" y1="373.5" x2="977.5" y2="370" stroke="#000" stroke-width="2.4"/><line x1="1041.2" y1="373.5" x2="1041.2" y2="366.3" stroke="#000" stroke-width="2.4"/><line x1="915.7" y1="33.6" x2="955.3" y2="33.6" stroke="#000" stroke-width="2.4"/><circle cx="935.2" cy="54.9" r="3.6" fill="url(#gd)"/><defs><linearGradient id="cr" x1="0" y1="0" x2="0" y2="1"><stop offset="0" stop-color="#ff6c6c"/><stop offset="1" stop-color="#ffb4b4"/></linearGradient><linearGradient id="cb" x1="0" y1="0" x2="0" y2="1"><stop offset="0" stop-color="#5f84b0"/><stop offset="1" stop-color="#b3cdea"/></linearGradient><linearGradient id="cy" x1="0" y1="0" x2="0" y2="1"><stop offset="0" stop-color="#fde08a"/><stop offset="1" stop-color="#fff3cf"/></linearGradient></defs><path d="M193.3 815.4 L193.3 815.1 L193.7 815.1 L194 815.1 L194.3 815 L194.6 815 L194.9 815 L195.3 815 L195.6 815 L195.9 814.9 L196.2 814.9 L196.5 814.9 L196.9 814.9 L197.2 814.8 L197.5 814.8 L197.8 814.8 L198.1 814.7 L198.5 814.7 L198.8 814.7 L199.1 814.6 L199.4 814.6 L199.8 814.5 L200.1 814.5 L200.4 814.5 L200.7 814.4 L201 814.4 L201.4 814.3 L201.7 814.3 L202 814.2 L202.3 814.1 L202.6 814.1 L203 814 L203.3 813.9 L203.6 813.9 L203.9 813.8 L204.2 813.7 L204.6 813.7 L204.9 813.6 L205.2 813.5 L205.5 813.4 L205.8 813.3 L206.2 813.2 L206.5 813.1 L206.8 813 L207.1 812.9 L207.5 812.8 L207.8 812.7 L208.1 812.5 L208.4 812.4 L208.7 812.3 L209.1 812.1 L209.4 812 L209.7 811.8 L210 811.7 L210.3 811.5 L210.7 811.4 L211 811.2 L211.3 811 L211.6 810.8 L211.9 810.6 L212.3 810.4 L212.6 810.2 L212.9 810 L213.2 809.8 L213.6 809.5 L213.9 809.3 L214.2 809.1 L214.5 808.8 L214.8 808.5 L215.2 808.3 L215.5 808 L215.8 807.7 L216.1 807.4 L216.4 807.1 L216.8 806.7 L217.1 806.4 L217.4 806 L217.7 805.7 L218 805.3 L218.4 804.9 L218.7 804.5 L219 804.1 L219.3 803.7 L219.7 803.3 L220 802.8 L220.3 802.4 L220.6 801.9 L220.9 801.4 L221.3 800.9 L221.6 800.4 L221.9 799.8 L222.2 799.3 L222.5 798.7 L222.9 798.1 L223.2 797.5 L223.5 796.9 L223.8 796.3 L224.1 795.6 L224.5 794.9 L224.8 794.2 L225.1 793.5 L225.4 792.8 L225.8 792 L226.1 791.3 L226.4 790.5 L226.7 789.7 L227 788.8 L227.4 788 L227.7 787.1 L228 786.2 L228.3 785.3 L228.6 784.4 L229 783.4 L229.3 782.4 L229.6 781.4 L229.9 780.4 L230.2 779.3 L230.6 778.2 L230.9 777.1 L231.2 776 L231.5 774.8 L231.9 773.6 L232.2 772.4 L232.5 771.2 L232.8 769.9 L233.1 768.6 L233.5 767.3 L233.8 766 L234.1 764.6 L234.4 763.2 L234.7 761.8 L235.1 760.3 L235.4 758.8 L235.7 757.3 L236 755.8 L236.3 754.2 L236.7 752.6 L237 751 L237.3 749.4 L237.6 747.7 L238 746 L238.3 744.3 L238.6 742.5 L238.9 740.7 L239.2 738.9 L239.6 737 L239.9 735.2 L240.2 733.2 L240.5 731.3 L240.8 729.4 L241.2 727.4 L241.5 725.3 L241.8 723.3 L242.1 721.2 L242.4 719.1 L242.8 717 L243.1 714.9 L243.4 712.7 L243.7 710.5 L244.1 708.3 L244.4 706 L244.7 703.7 L245 701.4 L245.3 699.1 L245.7 696.7 L246 694.4 L246.3 692 L246.6 689.6 L246.9 687.1 L247.3 684.7 L247.6 682.2 L247.9 679.7 L248.2 677.2 L248.5 674.7 L248.9 672.1 L249.2 669.5 L249.5 667 L249.8 664.4 L250.1 661.7 L250.5 659.1 L250.8 656.5 L251.1 653.8 L251.4 651.2 L251.8 648.5 L252.1 645.8 L252.4 643.1 L252.7 640.5 L253 637.8 L253.4 635.1 L253.7 632.4 L254 629.6 L254.3 626.9 L254.6 624.2 L255 621.5 L255.3 618.8 L255.6 616.1 L255.9 613.4 L256.2 610.7 L256.6 608 L256.9 605.3 L257.2 602.6 L257.5 600 L257.9 597.3 L258.2 594.7 L258.5 592.1 L258.8 589.4 L259.1 586.9 L259.5 584.3 L259.8 581.7 L260.1 579.2 L260.4 576.6 L260.7 574.2 L261.1 571.7 L261.4 569.2 L261.7 566.8 L262 564.4 L262.3 562 L262.7 559.7 L263 557.4 L263.3 555.1 L263.6 552.9 L264 550.7 L264.3 548.5 L264.6 546.4 L264.9 544.3 L265.2 542.2 L265.6 540.2 L265.9 538.2 L266.2 536.3 L266.5 534.4 L266.8 532.6 L267.2 530.8 L267.5 529 L267.8 527.3 L268.1 525.7 L268.4 524.1 L268.8 522.5 L269.1 521 L269.4 519.6 L269.7 518.2 L270.1 516.9 L270.4 515.6 L270.7 514.3 L271 513.2 L271.3 512.1 L271.7 511 L272 510 L272.3 509.1 L272.6 508.2 L272.9 507.4 L273.3 506.6 L273.6 505.9 L273.9 505.3 L274.2 504.7 L274.5 504.2 L274.9 503.8 L275.2 503.4 L275.5 503.1 L275.8 502.8 L276.2 502.6 L276.5 502.5 L276.8 502.4 L277.1 502.4 L277.4 502.5 L277.8 502.6 L278.1 502.8 L278.4 503 L278.7 503.4 L279 503.7 L279.4 504.2 L279.7 504.7 L280 505.2 L280.3 505.9 L280.6 506.6 L281 507.3 L281.3 508.1 L281.6 509 L281.9 509.9 L282.3 510.9 L282.6 512 L282.9 513.1 L283.2 514.3 L283.5 515.5 L283.9 516.8 L284.2 518.1 L284.5 519.5 L284.8 520.9 L285.1 522.4 L285.5 524 L285.8 525.6 L286.1 527.2 L286.4 528.9 L286.7 530.7 L287.1 532.5 L287.4 534.3 L287.7 536.2 L288 538.1 L288.4 540.1 L288.7 542.1 L289 544.2 L289.3 546.2 L289.6 548.4 L290 550.5 L290.3 552.7 L290.6 555 L290.9 557.3 L291.2 559.6 L291.6 561.9 L291.9 564.3 L292.2 566.7 L292.5 569.1 L292.8 571.5 L293.2 574 L293.5 576.5 L293.8 579 L294.1 581.6 L294.4 584.1 L294.8 586.7 L295.1 589.3 L295.4 591.9 L295.7 594.5 L296.1 597.2 L296.4 599.8 L296.7 602.5 L297 605.2 L297.3 607.8 L297.7 610.5 L298 613.2 L298.3 615.9 L298.6 618.6 L298.9 621.3 L299.3 624.1 L299.6 626.8 L299.9 629.5 L300.2 632.2 L300.5 634.9 L300.9 637.6 L301.2 640.3 L301.5 643 L301.8 645.7 L302.2 648.4 L302.5 651 L302.8 653.7 L303.1 656.3 L303.4 659 L303.8 661.6 L304.1 664.2 L304.4 666.8 L304.7 669.4 L305 671.9 L305.4 674.5 L305.7 677 L306 679.6 L306.3 682 L306.6 684.5 L307 687 L307.3 689.4 L307.6 691.8 L307.9 694.2 L308.3 696.6 L308.6 699 L308.9 701.3 L309.2 703.6 L309.5 705.9 L309.9 708.1 L310.2 710.3 L310.5 712.6 L310.8 714.7 L311.1 716.9 L311.5 719 L311.8 721.1 L312.1 723.2 L312.4 725.2 L312.7 727.2 L313.1 729.2 L313.4 731.2 L313.7 733.1 L314 735 L314.4 736.9 L314.7 738.8 L315 740.6 L315.3 742.4 L315.6 744.1 L316 745.9 L316.3 747.6 L316.6 749.3 L316.9 750.9 L317.2 752.5 L317.6 754.1 L317.9 755.7 L318.2 757.2 L318.5 758.8 L318.8 760.2 L319.2 761.7 L319.5 763.1 L319.8 764.5 L320.1 765.9 L320.5 767.2 L320.8 768.5 L321.1 769.8 L321.4 771.1 L321.7 772.3 L322.1 773.6 L322.4 774.7 L322.7 775.9 L323 777 L323.3 778.1 L323.7 779.2 L324 780.3 L324.3 781.3 L324.6 782.3 L324.9 783.3 L325.3 784.3 L325.6 785.2 L325.9 786.2 L326.2 787.1 L326.6 787.9 L326.9 788.8 L327.2 789.6 L327.5 790.4 L327.8 791.2 L328.2 792 L328.5 792.7 L328.8 793.5 L329.1 794.2 L329.4 794.9 L329.8 795.6 L330.1 796.2 L330.4 796.9 L330.7 797.5 L331 798.1 L331.4 798.7 L331.7 799.2 L332 799.8 L332.3 800.3 L332.7 800.9 L333 801.4 L333.3 801.8 L333.6 802.3 L333.9 802.8 L334.3 803.2 L334.6 803.7 L334.9 804.1 L335.2 804.5 L335.5 804.9 L335.9 805.3 L336.2 805.7 L336.5 806 L336.8 806.4 L337.1 806.7 L337.5 807 L337.8 807.4 L338.1 807.7 L338.4 808 L338.7 808.2 L339.1 808.5 L339.4 808.8 L339.7 809 L340 809.3 L340.4 809.5 L340.7 809.8 L341 810 L341.3 810.2 L341.6 810.4 L342 810.6 L342.3 810.8 L342.6 811 L342.9 811.2 L343.2 811.3 L343.6 811.5 L343.9 811.7 L344.2 811.8 L344.5 812 L344.8 812.1 L345.2 812.3 L345.5 812.4 L345.8 812.5 L346.1 812.6 L346.5 812.8 L346.8 812.9 L347.1 813 L347.4 813.1 L347.7 813.2 L348.1 813.3 L348.4 813.4 L348.7 813.5 L349 813.6 L349.3 813.6 L349.7 813.7 L350 813.8 L350.3 813.9 L350.6 813.9 L350.9 814 L351.3 814.1 L351.6 814.1 L351.9 814.2 L352.2 814.2 L352.6 814.3 L352.9 814.4 L353.2 814.4 L353.5 814.5 L353.8 814.5 L354.2 814.5 L354.5 814.6 L354.8 814.6 L355.1 814.7 L355.4 814.7 L355.8 814.7 L356.1 814.8 L356.4 814.8 L356.7 814.8 L357 814.9 L357.4 814.9 L357.7 814.9 L358 814.9 L358.3 815 L358.7 815 L359 815 L359.3 815 L359.6 815 L359.9 815.1 L360.3 815.1 L360.6 815.1 L360.6 815.4 Z" fill="url(#cr)"/><path d="M193.3 815.1 L193.7 815.1 L194 815.1 L194.3 815 L194.6 815 L194.9 815 L195.3 815 L195.6 815 L195.9 814.9 L196.2 814.9 L196.5 814.9 L196.9 814.9 L197.2 814.8 L197.5 814.8 L197.8 814.8 L198.1 814.7 L198.5 814.7 L198.8 814.7 L199.1 814.6 L199.4 814.6 L199.8 814.5 L200.1 814.5 L200.4 814.5 L200.7 814.4 L201 814.4 L201.4 814.3 L201.7 814.3 L202 814.2 L202.3 814.1 L202.6 814.1 L203 814 L203.3 813.9 L203.6 813.9 L203.9 813.8 L204.2 813.7 L204.6 813.7 L204.9 813.6 L205.2 813.5 L205.5 813.4 L205.8 813.3 L206.2 813.2 L206.5 813.1 L206.8 813 L207.1 812.9 L207.5 812.8 L207.8 812.7 L208.1 812.5 L208.4 812.4 L208.7 812.3 L209.1 812.1 L209.4 812 L209.7 811.8 L210 811.7 L210.3 811.5 L210.7 811.4 L211 811.2 L211.3 811 L211.6 810.8 L211.9 810.6 L212.3 810.4 L212.6 810.2 L212.9 810 L213.2 809.8 L213.6 809.5 L213.9 809.3 L214.2 809.1 L214.5 808.8 L214.8 808.5 L215.2 808.3 L215.5 808 L215.8 807.7 L216.1 807.4 L216.4 807.1 L216.8 806.7 L217.1 806.4 L217.4 806 L217.7 805.7 L218 805.3 L218.4 804.9 L218.7 804.5 L219 804.1 L219.3 803.7 L219.7 803.3 L220 802.8 L220.3 802.4 L220.6 801.9 L220.9 801.4 L221.3 800.9 L221.6 800.4 L221.9 799.8 L222.2 799.3 L222.5 798.7 L222.9 798.1 L223.2 797.5 L223.5 796.9 L223.8 796.3 L224.1 795.6 L224.5 794.9 L224.8 794.2 L225.1 793.5 L225.4 792.8 L225.8 792 L226.1 791.3 L226.4 790.5 L226.7 789.7 L227 788.8 L227.4 788 L227.7 787.1 L228 786.2 L228.3 785.3 L228.6 784.4 L229 783.4 L229.3 782.4 L229.6 781.4 L229.9 780.4 L230.2 779.3 L230.6 778.2 L230.9 777.1 L231.2 776 L231.5 774.8 L231.9 773.6 L232.2 772.4 L232.5 771.2 L232.8 769.9 L233.1 768.6 L233.5 767.3 L233.8 766 L234.1 764.6 L234.4 763.2 L234.7 761.8 L235.1 760.3 L235.4 758.8 L235.7 757.3 L236 755.8 L236.3 754.2 L236.7 752.6 L237 751 L237.3 749.4 L237.6 747.7 L238 746 L238.3 744.3 L238.6 742.5 L238.9 740.7 L239.2 738.9 L239.6 737 L239.9 735.2 L240.2 733.2 L240.5 731.3 L240.8 729.4 L241.2 727.4 L241.5 725.3 L241.8 723.3 L242.1 721.2 L242.4 719.1 L242.8 717 L243.1 714.9 L243.4 712.7 L243.7 710.5 L244.1 708.3 L244.4 706 L244.7 703.7 L245 701.4 L245.3 699.1 L245.7 696.7 L246 694.4 L246.3 692 L246.6 689.6 L246.9 687.1 L247.3 684.7 L247.6 682.2 L247.9 679.7 L248.2 677.2 L248.5 674.7 L248.9 672.1 L249.2 669.5 L249.5 667 L249.8 664.4 L250.1 661.7 L250.5 659.1 L250.8 656.5 L251.1 653.8 L251.4 651.2 L251.8 648.5 L252.1 645.8 L252.4 643.1 L252.7 640.5 L253 637.8 L253.4 635.1 L253.7 632.4 L254 629.6 L254.3 626.9 L254.6 624.2 L255 621.5 L255.3 618.8 L255.6 616.1 L255.9 613.4 L256.2 610.7 L256.6 608 L256.9 605.3 L257.2 602.6 L257.5 600 L257.9 597.3 L258.2 594.7 L258.5 592.1 L258.8 589.4 L259.1 586.9 L259.5 584.3 L259.8 581.7 L260.1 579.2 L260.4 576.6 L260.7 574.2 L261.1 571.7 L261.4 569.2 L261.7 566.8 L262 564.4 L262.3 562 L262.7 559.7 L263 557.4 L263.3 555.1 L263.6 552.9 L264 550.7 L264.3 548.5 L264.6 546.4 L264.9 544.3 L265.2 542.2 L265.6 540.2 L265.9 538.2 L266.2 536.3 L266.5 534.4 L266.8 532.6 L267.2 530.8 L267.5 529 L267.8 527.3 L268.1 525.7 L268.4 524.1 L268.8 522.5 L269.1 521 L269.4 519.6 L269.7 518.2 L270.1 516.9 L270.4 515.6 L270.7 514.3 L271 513.2 L271.3 512.1 L271.7 511 L272 510 L272.3 509.1 L272.6 508.2 L272.9 507.4 L273.3 506.6 L273.6 505.9 L273.9 505.3 L274.2 504.7 L274.5 504.2 L274.9 503.8 L275.2 503.4 L275.5 503.1 L275.8 502.8 L276.2 502.6 L276.5 502.5 L276.8 502.4 L277.1 502.4 L277.4 502.5 L277.8 502.6 L278.1 502.8 L278.4 503 L278.7 503.4 L279 503.7 L279.4 504.2 L279.7 504.7 L280 505.2 L280.3 505.9 L280.6 506.6 L281 507.3 L281.3 508.1 L281.6 509 L281.9 509.9 L282.3 510.9 L282.6 512 L282.9 513.1 L283.2 514.3 L283.5 515.5 L283.9 516.8 L284.2 518.1 L284.5 519.5 L284.8 520.9 L285.1 522.4 L285.5 524 L285.8 525.6 L286.1 527.2 L286.4 528.9 L286.7 530.7 L287.1 532.5 L287.4 534.3 L287.7 536.2 L288 538.1 L288.4 540.1 L288.7 542.1 L289 544.2 L289.3 546.2 L289.6 548.4 L290 550.5 L290.3 552.7 L290.6 555 L290.9 557.3 L291.2 559.6 L291.6 561.9 L291.9 564.3 L292.2 566.7 L292.5 569.1 L292.8 571.5 L293.2 574 L293.5 576.5 L293.8 579 L294.1 581.6 L294.4 584.1 L294.8 586.7 L295.1 589.3 L295.4 591.9 L295.7 594.5 L296.1 597.2 L296.4 599.8 L296.7 602.5 L297 605.2 L297.3 607.8 L297.7 610.5 L298 613.2 L298.3 615.9 L298.6 618.6 L298.9 621.3 L299.3 624.1 L299.6 626.8 L299.9 629.5 L300.2 632.2 L300.5 634.9 L300.9 637.6 L301.2 640.3 L301.5 643 L301.8 645.7 L302.2 648.4 L302.5 651 L302.8 653.7 L303.1 656.3 L303.4 659 L303.8 661.6 L304.1 664.2 L304.4 666.8 L304.7 669.4 L305 671.9 L305.4 674.5 L305.7 677 L306 679.6 L306.3 682 L306.6 684.5 L307 687 L307.3 689.4 L307.6 691.8 L307.9 694.2 L308.3 696.6 L308.6 699 L308.9 701.3 L309.2 703.6 L309.5 705.9 L309.9 708.1 L310.2 710.3 L310.5 712.6 L310.8 714.7 L311.1 716.9 L311.5 719 L311.8 721.1 L312.1 723.2 L312.4 725.2 L312.7 727.2 L313.1 729.2 L313.4 731.2 L313.7 733.1 L314 735 L314.4 736.9 L314.7 738.8 L315 740.6 L315.3 742.4 L315.6 744.1 L316 745.9 L316.3 747.6 L316.6 749.3 L316.9 750.9 L317.2 752.5 L317.6 754.1 L317.9 755.7 L318.2 757.2 L318.5 758.8 L318.8 760.2 L319.2 761.7 L319.5 763.1 L319.8 764.5 L320.1 765.9 L320.5 767.2 L320.8 768.5 L321.1 769.8 L321.4 771.1 L321.7 772.3 L322.1 773.6 L322.4 774.7 L322.7 775.9 L323 777 L323.3 778.1 L323.7 779.2 L324 780.3 L324.3 781.3 L324.6 782.3 L324.9 783.3 L325.3 784.3 L325.6 785.2 L325.9 786.2 L326.2 787.1 L326.6 787.9 L326.9 788.8 L327.2 789.6 L327.5 790.4 L327.8 791.2 L328.2 792 L328.5 792.7 L328.8 793.5 L329.1 794.2 L329.4 794.9 L329.8 795.6 L330.1 796.2 L330.4 796.9 L330.7 797.5 L331 798.1 L331.4 798.7 L331.7 799.2 L332 799.8 L332.3 800.3 L332.7 800.9 L333 801.4 L333.3 801.8 L333.6 802.3 L333.9 802.8 L334.3 803.2 L334.6 803.7 L334.9 804.1 L335.2 804.5 L335.5 804.9 L335.9 805.3 L336.2 805.7 L336.5 806 L336.8 806.4 L337.1 806.7 L337.5 807 L337.8 807.4 L338.1 807.7 L338.4 808 L338.7 808.2 L339.1 808.5 L339.4 808.8 L339.7 809 L340 809.3 L340.4 809.5 L340.7 809.8 L341 810 L341.3 810.2 L341.6 810.4 L342 810.6 L342.3 810.8 L342.6 811 L342.9 811.2 L343.2 811.3 L343.6 811.5 L343.9 811.7 L344.2 811.8 L344.5 812 L344.8 812.1 L345.2 812.3 L345.5 812.4 L345.8 812.5 L346.1 812.6 L346.5 812.8 L346.8 812.9 L347.1 813 L347.4 813.1 L347.7 813.2 L348.1 813.3 L348.4 813.4 L348.7 813.5 L349 813.6 L349.3 813.6 L349.7 813.7 L350 813.8 L350.3 813.9 L350.6 813.9 L350.9 814 L351.3 814.1 L351.6 814.1 L351.9 814.2 L352.2 814.2 L352.6 814.3 L352.9 814.4 L353.2 814.4 L353.5 814.5 L353.8 814.5 L354.2 814.5 L354.5 814.6 L354.8 814.6 L355.1 814.7 L355.4 814.7 L355.8 814.7 L356.1 814.8 L356.4 814.8 L356.7 814.8 L357 814.9 L357.4 814.9 L357.7 814.9 L358 814.9 L358.3 815 L358.7 815 L359 815 L359.3 815 L359.6 815 L359.9 815.1 L360.3 815.1 L360.6 815.1" fill="none" stroke="#ff0000" stroke-width="2"/><path d="M130.4 815.4 L130.4 815.1 L130.7 815.1 L131.1 815.1 L131.4 815.1 L131.7 815.1 L132 815.1 L132.3 815.1 L132.7 815.1 L133 815.1 L133.3 815.1 L133.6 815.1 L133.9 815.1 L134.3 815.1 L134.6 815.1 L134.9 815.1 L135.2 815.1 L135.5 815.1 L135.9 815.1 L136.2 815.1 L136.5 815.1 L136.8 815.1 L137.2 815.1 L137.5 815.1 L137.8 815.1 L138.1 815.1 L138.4 815.1 L138.8 815 L139.1 815 L139.4 815 L139.7 815 L140 815 L140.4 815 L140.7 815 L141 815 L141.3 815 L141.6 815 L142 815 L142.3 815 L142.6 815 L142.9 815 L143.3 815 L143.6 815 L143.9 815 L144.2 815 L144.5 815 L144.9 815 L145.2 815 L145.5 815 L145.8 815 L146.1 815 L146.5 815 L146.8 815 L147.1 815 L147.4 815 L147.7 815 L148.1 815 L148.4 815 L148.7 815 L149 815 L149.4 815 L149.7 815 L150 815 L150.3 815 L150.6 814.9 L151 814.9 L151.3 814.9 L151.6 814.9 L151.9 814.9 L152.2 814.9 L152.6 814.9 L152.9 814.9 L153.2 814.9 L153.5 814.9 L153.8 814.9 L154.2 814.9 L154.5 814.9 L154.8 814.9 L155.1 814.9 L155.5 814.9 L155.8 814.9 L156.1 814.9 L156.4 814.9 L156.7 814.9 L157.1 814.9 L157.4 814.9 L157.7 814.9 L158 814.8 L158.3 814.8 L158.7 814.8 L159 814.8 L159.3 814.8 L159.6 814.8 L159.9 814.8 L160.3 814.8 L160.6 814.8 L160.9 814.8 L161.2 814.8 L161.5 814.8 L161.9 814.8 L162.2 814.8 L162.5 814.7 L162.8 814.7 L163.2 814.7 L163.5 814.7 L163.8 814.7 L164.1 814.7 L164.4 814.7 L164.8 814.7 L165.1 814.7 L165.4 814.6 L165.7 814.6 L166 814.6 L166.4 814.6 L166.7 814.6 L167 814.6 L167.3 814.5 L167.6 814.5 L168 814.5 L168.3 814.5 L168.6 814.5 L168.9 814.5 L169.3 814.4 L169.6 814.4 L169.9 814.4 L170.2 814.4 L170.5 814.3 L170.9 814.3 L171.2 814.3 L171.5 814.2 L171.8 814.2 L172.1 814.2 L172.5 814.1 L172.8 814.1 L173.1 814.1 L173.4 814 L173.7 814 L174.1 813.9 L174.4 813.9 L174.7 813.8 L175 813.8 L175.4 813.7 L175.7 813.7 L176 813.6 L176.3 813.6 L176.6 813.5 L177 813.4 L177.3 813.4 L177.6 813.3 L177.9 813.2 L178.2 813.2 L178.6 813.1 L178.9 813 L179.2 812.9 L179.5 812.8 L179.8 812.7 L180.2 812.6 L180.5 812.5 L180.8 812.4 L181.1 812.3 L181.5 812.1 L181.8 812 L182.1 811.9 L182.4 811.8 L182.7 811.6 L183.1 811.5 L183.4 811.3 L183.7 811.1 L184 811 L184.3 810.8 L184.7 810.6 L185 810.4 L185.3 810.2 L185.6 810 L185.9 809.8 L186.3 809.6 L186.6 809.4 L186.9 809.1 L187.2 808.9 L187.6 808.6 L187.9 808.3 L188.2 808.1 L188.5 807.8 L188.8 807.5 L189.2 807.2 L189.5 806.9 L189.8 806.5 L190.1 806.2 L190.4 805.8 L190.8 805.5 L191.1 805.1 L191.4 804.7 L191.7 804.3 L192 803.8 L192.4 803.4 L192.7 803 L193 802.5 L193.3 802 L193.7 801.5 L194 801 L194.3 800.5 L194.6 799.9 L194.9 799.4 L195.3 798.8 L195.6 798.2 L195.9 797.6 L196.2 797 L196.5 796.3 L196.9 795.6 L197.2 795 L197.5 794.2 L197.8 793.5 L198.1 792.8 L198.5 792 L198.8 791.2 L199.1 790.4 L199.4 789.6 L199.8 788.7 L200.1 787.9 L200.4 787 L200.7 786.1 L201 785.1 L201.4 784.2 L201.7 783.2 L202 782.2 L202.3 781.2 L202.6 780.1 L203 779.1 L203.3 778 L203.6 776.8 L203.9 775.7 L204.2 774.5 L204.6 773.4 L204.9 772.2 L205.2 770.9 L205.5 769.7 L205.8 768.4 L206.2 767.1 L206.5 765.8 L206.8 764.4 L207.1 763.1 L207.5 761.7 L207.8 760.3 L208.1 758.8 L208.4 757.4 L208.7 755.9 L209.1 754.4 L209.4 752.9 L209.7 751.3 L210 749.8 L210.3 748.2 L210.7 746.6 L211 745 L211.3 743.3 L211.6 741.7 L211.9 740 L212.3 738.3 L212.6 736.6 L212.9 734.9 L213.2 733.2 L213.6 731.4 L213.9 729.6 L214.2 727.9 L214.5 726.1 L214.8 724.3 L215.2 722.5 L215.5 720.7 L215.8 718.8 L216.1 717 L216.4 715.2 L216.8 713.3 L217.1 711.5 L217.4 709.6 L217.7 707.8 L218 705.9 L218.4 704 L218.7 702.2 L219 700.3 L219.3 698.5 L219.7 696.6 L220 694.8 L220.3 692.9 L220.6 691.1 L220.9 689.3 L221.3 687.4 L221.6 685.6 L221.9 683.8 L222.2 682.1 L222.5 680.3 L222.9 678.5 L223.2 676.8 L223.5 675.1 L223.8 673.4 L224.1 671.7 L224.5 670.1 L224.8 668.4 L225.1 666.8 L225.4 665.3 L225.8 663.7 L226.1 662.2 L226.4 660.7 L226.7 659.2 L227 657.8 L227.4 656.4 L227.7 655 L228 653.7 L228.3 652.4 L228.6 651.1 L229 649.9 L229.3 648.7 L229.6 647.6 L229.9 646.5 L230.2 645.4 L230.6 644.4 L230.9 643.4 L231.2 642.5 L231.5 641.6 L231.9 640.8 L232.2 640 L232.5 639.3 L232.8 638.6 L233.1 638 L233.5 637.4 L233.8 636.9 L234.1 636.4 L234.4 635.9 L234.7 635.6 L235.1 635.2 L235.4 635 L235.7 634.8 L236 634.6 L236.3 634.5 L236.7 634.4 L237 634.4 L237.3 634.5 L237.6 634.6 L238 634.7 L238.3 634.9 L238.6 635.2 L238.9 635.5 L239.2 635.9 L239.6 636.3 L239.9 636.7 L240.2 637.3 L240.5 637.8 L240.8 638.5 L241.2 639.1 L241.5 639.9 L241.8 640.6 L242.1 641.5 L242.4 642.3 L242.8 643.2 L243.1 644.2 L243.4 645.2 L243.7 646.2 L244.1 647.3 L244.4 648.5 L244.7 649.6 L245 650.8 L245.3 652.1 L245.7 653.4 L246 654.7 L246.3 656.1 L246.6 657.5 L246.9 658.9 L247.3 660.3 L247.6 661.8 L247.9 663.4 L248.2 664.9 L248.5 666.5 L248.9 668.1 L249.2 669.7 L249.5 671.4 L249.8 673 L250.1 674.7 L250.5 676.4 L250.8 678.2 L251.1 679.9 L251.4 681.7 L251.8 683.4 L252.1 685.2 L252.4 687 L252.7 688.8 L253 690.7 L253.4 692.5 L253.7 694.3 L254 696.2 L254.3 698 L254.6 699.9 L255 701.8 L255.3 703.6 L255.6 705.5 L255.9 707.3 L256.2 709.2 L256.6 711 L256.9 712.9 L257.2 714.7 L257.5 716.6 L257.9 718.4 L258.2 720.2 L258.5 722.1 L258.8 723.9 L259.1 725.7 L259.5 727.5 L259.8 729.2 L260.1 731 L260.4 732.8 L260.7 734.5 L261.1 736.2 L261.4 737.9 L261.7 739.6 L262 741.3 L262.3 743 L262.7 744.6 L263 746.2 L263.3 747.8 L263.6 749.4 L264 751 L264.3 752.5 L264.6 754 L264.9 755.5 L265.2 757 L265.6 758.5 L265.9 759.9 L266.2 761.3 L266.5 762.7 L266.8 764.1 L267.2 765.5 L267.5 766.8 L267.8 768.1 L268.1 769.4 L268.4 770.6 L268.8 771.9 L269.1 773.1 L269.4 774.3 L269.7 775.4 L270.1 776.6 L270.4 777.7 L270.7 778.8 L271 779.9 L271.3 780.9 L271.7 782 L272 783 L272.3 784 L272.6 784.9 L272.9 785.9 L273.3 786.8 L273.6 787.7 L273.9 788.5 L274.2 789.4 L274.5 790.2 L274.9 791 L275.2 791.8 L275.5 792.6 L275.8 793.4 L276.2 794.1 L276.5 794.8 L276.8 795.5 L277.1 796.2 L277.4 796.8 L277.8 797.4 L278.1 798.1 L278.4 798.7 L278.7 799.2 L279 799.8 L279.4 800.4 L279.7 800.9 L280 801.4 L280.3 801.9 L280.6 802.4 L281 802.9 L281.3 803.3 L281.6 803.7 L281.9 804.2 L282.3 804.6 L282.6 805 L282.9 805.4 L283.2 805.7 L283.5 806.1 L283.9 806.4 L284.2 806.8 L284.5 807.1 L284.8 807.4 L285.1 807.7 L285.5 808 L285.8 808.3 L286.1 808.6 L286.4 808.8 L286.7 809.1 L287.1 809.3 L287.4 809.5 L287.7 809.8 L288 810 L288.4 810.2 L288.7 810.4 L289 810.6 L289.3 810.8 L289.6 810.9 L290 811.1 L290.3 811.3 L290.6 811.4 L290.9 811.6 L291.2 811.7 L291.6 811.9 L291.9 812 L292.2 812.1 L292.5 812.2 L292.8 812.4 L293.2 812.5 L293.5 812.6 L293.8 812.7 L294.1 812.8 L294.4 812.9 L294.8 813 L295.1 813.1 L295.4 813.1 L295.7 813.2 L296.1 813.3 L296.4 813.4 L296.7 813.4 L297 813.5 L297.3 813.6 L297.7 813.6 L298 813.7 L298.3 813.7 L298.6 813.8 L298.9 813.8 L299.3 813.9 L299.6 813.9 L299.9 814 L300.2 814 L300.5 814.1 L300.9 814.1 L301.2 814.1 L301.5 814.2 L301.8 814.2 L302.2 814.2 L302.5 814.3 L302.8 814.3 L303.1 814.3 L303.4 814.4 L303.8 814.4 L304.1 814.4 L304.4 814.4 L304.7 814.4 L305 814.5 L305.4 814.5 L305.7 814.5 L306 814.5 L306.3 814.5 L306.6 814.6 L307 814.6 L307.3 814.6 L307.6 814.6 L307.9 814.6 L308.3 814.6 L308.6 814.6 L308.9 814.7 L309.2 814.7 L309.5 814.7 L309.9 814.7 L310.2 814.7 L310.5 814.7 L310.8 814.7 L311.1 814.7 L311.5 814.7 L311.8 814.8 L312.1 814.8 L312.4 814.8 L312.7 814.8 L313.1 814.8 L313.4 814.8 L313.7 814.8 L314 814.8 L314.4 814.8 L314.7 814.8 L315 814.8 L315.3 814.8 L315.6 814.8 L316 814.8 L316.3 814.9 L316.6 814.9 L316.9 814.9 L317.2 814.9 L317.6 814.9 L317.9 814.9 L318.2 814.9 L318.5 814.9 L318.8 814.9 L319.2 814.9 L319.5 814.9 L319.8 814.9 L320.1 814.9 L320.5 814.9 L320.8 814.9 L321.1 814.9 L321.4 814.9 L321.7 814.9 L322.1 814.9 L322.4 814.9 L322.7 814.9 L323 814.9 L323.3 815 L323.7 815 L324 815 L324.3 815 L324.6 815 L324.9 815 L325.3 815 L325.6 815 L325.9 815 L326.2 815 L326.6 815 L326.9 815 L327.2 815 L327.5 815 L327.8 815 L328.2 815 L328.5 815 L328.8 815 L329.1 815 L329.4 815 L329.8 815 L330.1 815 L330.4 815 L330.7 815 L331 815 L331.4 815 L331.7 815 L332 815 L332.3 815 L332.7 815 L333 815 L333.3 815 L333.6 815 L333.9 815 L334.3 815 L334.6 815 L334.9 815 L335.2 815.1 L335.5 815.1 L335.9 815.1 L336.2 815.1 L336.5 815.1 L336.8 815.1 L337.1 815.1 L337.5 815.1 L337.8 815.1 L338.1 815.1 L338.4 815.1 L338.7 815.1 L339.1 815.1 L339.4 815.1 L339.7 815.1 L340 815.1 L340.4 815.1 L340.7 815.1 L341 815.1 L341.3 815.1 L341.6 815.1 L342 815.1 L342.3 815.1 L342.6 815.1 L342.9 815.1 L343.2 815.1 L343.2 815.4 Z" fill="url(#cb)" fill-opacity="0.72"/><path d="M130.4 815.1 L130.7 815.1 L131.1 815.1 L131.4 815.1 L131.7 815.1 L132 815.1 L132.3 815.1 L132.7 815.1 L133 815.1 L133.3 815.1 L133.6 815.1 L133.9 815.1 L134.3 815.1 L134.6 815.1 L134.9 815.1 L135.2 815.1 L135.5 815.1 L135.9 815.1 L136.2 815.1 L136.5 815.1 L136.8 815.1 L137.2 815.1 L137.5 815.1 L137.8 815.1 L138.1 815.1 L138.4 815.1 L138.8 815 L139.1 815 L139.4 815 L139.7 815 L140 815 L140.4 815 L140.7 815 L141 815 L141.3 815 L141.6 815 L142 815 L142.3 815 L142.6 815 L142.9 815 L143.3 815 L143.6 815 L143.9 815 L144.2 815 L144.5 815 L144.9 815 L145.2 815 L145.5 815 L145.8 815 L146.1 815 L146.5 815 L146.8 815 L147.1 815 L147.4 815 L147.7 815 L148.1 815 L148.4 815 L148.7 815 L149 815 L149.4 815 L149.7 815 L150 815 L150.3 815 L150.6 814.9 L151 814.9 L151.3 814.9 L151.6 814.9 L151.9 814.9 L152.2 814.9 L152.6 814.9 L152.9 814.9 L153.2 814.9 L153.5 814.9 L153.8 814.9 L154.2 814.9 L154.5 814.9 L154.8 814.9 L155.1 814.9 L155.5 814.9 L155.8 814.9 L156.1 814.9 L156.4 814.9 L156.7 814.9 L157.1 814.9 L157.4 814.9 L157.7 814.9 L158 814.8 L158.3 814.8 L158.7 814.8 L159 814.8 L159.3 814.8 L159.6 814.8 L159.9 814.8 L160.3 814.8 L160.6 814.8 L160.9 814.8 L161.2 814.8 L161.5 814.8 L161.9 814.8 L162.2 814.8 L162.5 814.7 L162.8 814.7 L163.2 814.7 L163.5 814.7 L163.8 814.7 L164.1 814.7 L164.4 814.7 L164.8 814.7 L165.1 814.7 L165.4 814.6 L165.7 814.6 L166 814.6 L166.4 814.6 L166.7 814.6 L167 814.6 L167.3 814.5 L167.6 814.5 L168 814.5 L168.3 814.5 L168.6 814.5 L168.9 814.5 L169.3 814.4 L169.6 814.4 L169.9 814.4 L170.2 814.4 L170.5 814.3 L170.9 814.3 L171.2 814.3 L171.5 814.2 L171.8 814.2 L172.1 814.2 L172.5 814.1 L172.8 814.1 L173.1 814.1 L173.4 814 L173.7 814 L174.1 813.9 L174.4 813.9 L174.7 813.8 L175 813.8 L175.4 813.7 L175.7 813.7 L176 813.6 L176.3 813.6 L176.6 813.5 L177 813.4 L177.3 813.4 L177.6 813.3 L177.9 813.2 L178.2 813.2 L178.6 813.1 L178.9 813 L179.2 812.9 L179.5 812.8 L179.8 812.7 L180.2 812.6 L180.5 812.5 L180.8 812.4 L181.1 812.3 L181.5 812.1 L181.8 812 L182.1 811.9 L182.4 811.8 L182.7 811.6 L183.1 811.5 L183.4 811.3 L183.7 811.1 L184 811 L184.3 810.8 L184.7 810.6 L185 810.4 L185.3 810.2 L185.6 810 L185.9 809.8 L186.3 809.6 L186.6 809.4 L186.9 809.1 L187.2 808.9 L187.6 808.6 L187.9 808.3 L188.2 808.1 L188.5 807.8 L188.8 807.5 L189.2 807.2 L189.5 806.9 L189.8 806.5 L190.1 806.2 L190.4 805.8 L190.8 805.5 L191.1 805.1 L191.4 804.7 L191.7 804.3 L192 803.8 L192.4 803.4 L192.7 803 L193 802.5 L193.3 802 L193.7 801.5 L194 801 L194.3 800.5 L194.6 799.9 L194.9 799.4 L195.3 798.8 L195.6 798.2 L195.9 797.6 L196.2 797 L196.5 796.3 L196.9 795.6 L197.2 795 L197.5 794.2 L197.8 793.5 L198.1 792.8 L198.5 792 L198.8 791.2 L199.1 790.4 L199.4 789.6 L199.8 788.7 L200.1 787.9 L200.4 787 L200.7 786.1 L201 785.1 L201.4 784.2 L201.7 783.2 L202 782.2 L202.3 781.2 L202.6 780.1 L203 779.1 L203.3 778 L203.6 776.8 L203.9 775.7 L204.2 774.5 L204.6 773.4 L204.9 772.2 L205.2 770.9 L205.5 769.7 L205.8 768.4 L206.2 767.1 L206.5 765.8 L206.8 764.4 L207.1 763.1 L207.5 761.7 L207.8 760.3 L208.1 758.8 L208.4 757.4 L208.7 755.9 L209.1 754.4 L209.4 752.9 L209.7 751.3 L210 749.8 L210.3 748.2 L210.7 746.6 L211 745 L211.3 743.3 L211.6 741.7 L211.9 740 L212.3 738.3 L212.6 736.6 L212.9 734.9 L213.2 733.2 L213.6 731.4 L213.9 729.6 L214.2 727.9 L214.5 726.1 L214.8 724.3 L215.2 722.5 L215.5 720.7 L215.8 718.8 L216.1 717 L216.4 715.2 L216.8 713.3 L217.1 711.5 L217.4 709.6 L217.7 707.8 L218 705.9 L218.4 704 L218.7 702.2 L219 700.3 L219.3 698.5 L219.7 696.6 L220 694.8 L220.3 692.9 L220.6 691.1 L220.9 689.3 L221.3 687.4 L221.6 685.6 L221.9 683.8 L222.2 682.1 L222.5 680.3 L222.9 678.5 L223.2 676.8 L223.5 675.1 L223.8 673.4 L224.1 671.7 L224.5 670.1 L224.8 668.4 L225.1 666.8 L225.4 665.3 L225.8 663.7 L226.1 662.2 L226.4 660.7 L226.7 659.2 L227 657.8 L227.4 656.4 L227.7 655 L228 653.7 L228.3 652.4 L228.6 651.1 L229 649.9 L229.3 648.7 L229.6 647.6 L229.9 646.5 L230.2 645.4 L230.6 644.4 L230.9 643.4 L231.2 642.5 L231.5 641.6 L231.9 640.8 L232.2 640 L232.5 639.3 L232.8 638.6 L233.1 638 L233.5 637.4 L233.8 636.9 L234.1 636.4 L234.4 635.9 L234.7 635.6 L235.1 635.2 L235.4 635 L235.7 634.8 L236 634.6 L236.3 634.5 L236.7 634.4 L237 634.4 L237.3 634.5 L237.6 634.6 L238 634.7 L238.3 634.9 L238.6 635.2 L238.9 635.5 L239.2 635.9 L239.6 636.3 L239.9 636.7 L240.2 637.3 L240.5 637.8 L240.8 638.5 L241.2 639.1 L241.5 639.9 L241.8 640.6 L242.1 641.5 L242.4 642.3 L242.8 643.2 L243.1 644.2 L243.4 645.2 L243.7 646.2 L244.1 647.3 L244.4 648.5 L244.7 649.6 L245 650.8 L245.3 652.1 L245.7 653.4 L246 654.7 L246.3 656.1 L246.6 657.5 L246.9 658.9 L247.3 660.3 L247.6 661.8 L247.9 663.4 L248.2 664.9 L248.5 666.5 L248.9 668.1 L249.2 669.7 L249.5 671.4 L249.8 673 L250.1 674.7 L250.5 676.4 L250.8 678.2 L251.1 679.9 L251.4 681.7 L251.8 683.4 L252.1 685.2 L252.4 687 L252.7 688.8 L253 690.7 L253.4 692.5 L253.7 694.3 L254 696.2 L254.3 698 L254.6 699.9 L255 701.8 L255.3 703.6 L255.6 705.5 L255.9 707.3 L256.2 709.2 L256.6 711 L256.9 712.9 L257.2 714.7 L257.5 716.6 L257.9 718.4 L258.2 720.2 L258.5 722.1 L258.8 723.9 L259.1 725.7 L259.5 727.5 L259.8 729.2 L260.1 731 L260.4 732.8 L260.7 734.5 L261.1 736.2 L261.4 737.9 L261.7 739.6 L262 741.3 L262.3 743 L262.7 744.6 L263 746.2 L263.3 747.8 L263.6 749.4 L264 751 L264.3 752.5 L264.6 754 L264.9 755.5 L265.2 757 L265.6 758.5 L265.9 759.9 L266.2 761.3 L266.5 762.7 L266.8 764.1 L267.2 765.5 L267.5 766.8 L267.8 768.1 L268.1 769.4 L268.4 770.6 L268.8 771.9 L269.1 773.1 L269.4 774.3 L269.7 775.4 L270.1 776.6 L270.4 777.7 L270.7 778.8 L271 779.9 L271.3 780.9 L271.7 782 L272 783 L272.3 784 L272.6 784.9 L272.9 785.9 L273.3 786.8 L273.6 787.7 L273.9 788.5 L274.2 789.4 L274.5 790.2 L274.9 791 L275.2 791.8 L275.5 792.6 L275.8 793.4 L276.2 794.1 L276.5 794.8 L276.8 795.5 L277.1 796.2 L277.4 796.8 L277.8 797.4 L278.1 798.1 L278.4 798.7 L278.7 799.2 L279 799.8 L279.4 800.4 L279.7 800.9 L280 801.4 L280.3 801.9 L280.6 802.4 L281 802.9 L281.3 803.3 L281.6 803.7 L281.9 804.2 L282.3 804.6 L282.6 805 L282.9 805.4 L283.2 805.7 L283.5 806.1 L283.9 806.4 L284.2 806.8 L284.5 807.1 L284.8 807.4 L285.1 807.7 L285.5 808 L285.8 808.3 L286.1 808.6 L286.4 808.8 L286.7 809.1 L287.1 809.3 L287.4 809.5 L287.7 809.8 L288 810 L288.4 810.2 L288.7 810.4 L289 810.6 L289.3 810.8 L289.6 810.9 L290 811.1 L290.3 811.3 L290.6 811.4 L290.9 811.6 L291.2 811.7 L291.6 811.9 L291.9 812 L292.2 812.1 L292.5 812.2 L292.8 812.4 L293.2 812.5 L293.5 812.6 L293.8 812.7 L294.1 812.8 L294.4 812.9 L294.8 813 L295.1 813.1 L295.4 813.1 L295.7 813.2 L296.1 813.3 L296.4 813.4 L296.7 813.4 L297 813.5 L297.3 813.6 L297.7 813.6 L298 813.7 L298.3 813.7 L298.6 813.8 L298.9 813.8 L299.3 813.9 L299.6 813.9 L299.9 814 L300.2 814 L300.5 814.1 L300.9 814.1 L301.2 814.1 L301.5 814.2 L301.8 814.2 L302.2 814.2 L302.5 814.3 L302.8 814.3 L303.1 814.3 L303.4 814.4 L303.8 814.4 L304.1 814.4 L304.4 814.4 L304.7 814.4 L305 814.5 L305.4 814.5 L305.7 814.5 L306 814.5 L306.3 814.5 L306.6 814.6 L307 814.6 L307.3 814.6 L307.6 814.6 L307.9 814.6 L308.3 814.6 L308.6 814.6 L308.9 814.7 L309.2 814.7 L309.5 814.7 L309.9 814.7 L310.2 814.7 L310.5 814.7 L310.8 814.7 L311.1 814.7 L311.5 814.7 L311.8 814.8 L312.1 814.8 L312.4 814.8 L312.7 814.8 L313.1 814.8 L313.4 814.8 L313.7 814.8 L314 814.8 L314.4 814.8 L314.7 814.8 L315 814.8 L315.3 814.8 L315.6 814.8 L316 814.8 L316.3 814.9 L316.6 814.9 L316.9 814.9 L317.2 814.9 L317.6 814.9 L317.9 814.9 L318.2 814.9 L318.5 814.9 L318.8 814.9 L319.2 814.9 L319.5 814.9 L319.8 814.9 L320.1 814.9 L320.5 814.9 L320.8 814.9 L321.1 814.9 L321.4 814.9 L321.7 814.9 L322.1 814.9 L322.4 814.9 L322.7 814.9 L323 814.9 L323.3 815 L323.7 815 L324 815 L324.3 815 L324.6 815 L324.9 815 L325.3 815 L325.6 815 L325.9 815 L326.2 815 L326.6 815 L326.9 815 L327.2 815 L327.5 815 L327.8 815 L328.2 815 L328.5 815 L328.8 815 L329.1 815 L329.4 815 L329.8 815 L330.1 815 L330.4 815 L330.7 815 L331 815 L331.4 815 L331.7 815 L332 815 L332.3 815 L332.7 815 L333 815 L333.3 815 L333.6 815 L333.9 815 L334.3 815 L334.6 815 L334.9 815 L335.2 815.1 L335.5 815.1 L335.9 815.1 L336.2 815.1 L336.5 815.1 L336.8 815.1 L337.1 815.1 L337.5 815.1 L337.8 815.1 L338.1 815.1 L338.4 815.1 L338.7 815.1 L339.1 815.1 L339.4 815.1 L339.7 815.1 L340 815.1 L340.4 815.1 L340.7 815.1 L341 815.1 L341.3 815.1 L341.6 815.1 L342 815.1 L342.3 815.1 L342.6 815.1 L342.9 815.1 L343.2 815.1" fill="none" stroke="#2d5fa0" stroke-width="2"/><path d="M352.9 815.4 L352.9 815.1 L353.2 815.1 L353.5 815.1 L353.8 815.1 L354.2 815 L354.5 815 L354.8 815 L355.1 815 L355.4 815 L355.8 815 L356.1 814.9 L356.4 814.9 L356.7 814.9 L357 814.9 L357.4 814.9 L357.7 814.8 L358 814.8 L358.3 814.8 L358.7 814.8 L359 814.7 L359.3 814.7 L359.6 814.7 L359.9 814.7 L360.3 814.6 L360.6 814.6 L360.9 814.6 L361.2 814.5 L361.5 814.5 L361.9 814.5 L362.2 814.4 L362.5 814.4 L362.8 814.4 L363.1 814.3 L363.5 814.3 L363.8 814.2 L364.1 814.2 L364.4 814.2 L364.8 814.1 L365.1 814.1 L365.4 814 L365.7 814 L366 813.9 L366.4 813.9 L366.7 813.8 L367 813.8 L367.3 813.7 L367.6 813.7 L368 813.6 L368.3 813.5 L368.6 813.5 L368.9 813.4 L369.2 813.3 L369.6 813.3 L369.9 813.2 L370.2 813.1 L370.5 813.1 L370.9 813 L371.2 812.9 L371.5 812.8 L371.8 812.8 L372.1 812.7 L372.5 812.6 L372.8 812.5 L373.1 812.4 L373.4 812.3 L373.7 812.2 L374.1 812.2 L374.4 812.1 L374.7 812 L375 811.9 L375.3 811.8 L375.7 811.7 L376 811.6 L376.3 811.5 L376.6 811.3 L377 811.2 L377.3 811.1 L377.6 811 L377.9 810.9 L378.2 810.8 L378.6 810.7 L378.9 810.5 L379.2 810.4 L379.5 810.3 L379.8 810.2 L380.2 810 L380.5 809.9 L380.8 809.8 L381.1 809.6 L381.4 809.5 L381.8 809.3 L382.1 809.2 L382.4 809 L382.7 808.9 L383 808.8 L383.4 808.6 L383.7 808.4 L384 808.3 L384.3 808.1 L384.7 808 L385 807.8 L385.3 807.7 L385.6 807.5 L385.9 807.3 L386.3 807.2 L386.6 807 L386.9 806.8 L387.2 806.6 L387.5 806.5 L387.9 806.3 L388.2 806.1 L388.5 805.9 L388.8 805.8 L389.1 805.6 L389.5 805.4 L389.8 805.2 L390.1 805 L390.4 804.8 L390.8 804.7 L391.1 804.5 L391.4 804.3 L391.7 804.1 L392 803.9 L392.4 803.7 L392.7 803.5 L393 803.3 L393.3 803.1 L393.6 802.9 L394 802.8 L394.3 802.6 L394.6 802.4 L394.9 802.2 L395.2 802 L395.6 801.8 L395.9 801.6 L396.2 801.4 L396.5 801.2 L396.9 801 L397.2 800.8 L397.5 800.6 L397.8 800.4 L398.1 800.3 L398.5 800.1 L398.8 799.9 L399.1 799.7 L399.4 799.5 L399.7 799.3 L400.1 799.2 L400.4 799 L400.7 798.8 L401 798.6 L401.3 798.4 L401.7 798.3 L402 798.1 L402.3 797.9 L402.6 797.8 L403 797.6 L403.3 797.4 L403.6 797.3 L403.9 797.1 L404.2 797 L404.6 796.8 L404.9 796.7 L405.2 796.5 L405.5 796.4 L405.8 796.2 L406.2 796.1 L406.5 796 L406.8 795.8 L407.1 795.7 L407.4 795.6 L407.8 795.5 L408.1 795.4 L408.4 795.2 L408.7 795.1 L409.1 795 L409.4 794.9 L409.7 794.8 L410 794.7 L410.3 794.6 L410.7 794.6 L411 794.5 L411.3 794.4 L411.6 794.3 L411.9 794.3 L412.3 794.2 L412.6 794.1 L412.9 794.1 L413.2 794 L413.5 794 L413.9 794 L414.2 793.9 L414.5 793.9 L414.8 793.9 L415.2 793.8 L415.5 793.8 L415.8 793.8 L416.1 793.8 L416.4 793.8 L416.8 793.8 L417.1 793.8 L417.4 793.8 L417.7 793.8 L418 793.9 L418.4 793.9 L418.7 793.9 L419 793.9 L419.3 794 L419.6 794 L420 794.1 L420.3 794.1 L420.6 794.2 L420.9 794.2 L421.3 794.3 L421.6 794.4 L421.9 794.4 L422.2 794.5 L422.5 794.6 L422.9 794.7 L423.2 794.8 L423.5 794.9 L423.8 795 L424.1 795.1 L424.5 795.2 L424.8 795.3 L425.1 795.4 L425.4 795.5 L425.7 795.7 L426.1 795.8 L426.4 795.9 L426.7 796 L427 796.2 L427.3 796.3 L427.7 796.5 L428 796.6 L428.3 796.7 L428.6 796.9 L429 797 L429.3 797.2 L429.6 797.4 L429.9 797.5 L430.2 797.7 L430.6 797.9 L430.9 798 L431.2 798.2 L431.5 798.4 L431.8 798.5 L432.2 798.7 L432.5 798.9 L432.8 799.1 L433.1 799.2 L433.4 799.4 L433.8 799.6 L434.1 799.8 L434.4 800 L434.7 800.2 L435.1 800.4 L435.4 800.5 L435.7 800.7 L436 800.9 L436.3 801.1 L436.7 801.3 L437 801.5 L437.3 801.7 L437.6 801.9 L437.9 802.1 L438.3 802.3 L438.6 802.5 L438.9 802.7 L439.2 802.9 L439.5 803 L439.9 803.2 L440.2 803.4 L440.5 803.6 L440.8 803.8 L441.2 804 L441.5 804.2 L441.8 804.4 L442.1 804.6 L442.4 804.8 L442.8 804.9 L443.1 805.1 L443.4 805.3 L443.7 805.5 L444 805.7 L444.4 805.9 L444.7 806 L445 806.2 L445.3 806.4 L445.6 806.6 L446 806.7 L446.3 806.9 L446.6 807.1 L446.9 807.2 L447.3 807.4 L447.6 807.6 L447.9 807.7 L448.2 807.9 L448.5 808.1 L448.9 808.2 L449.2 808.4 L449.5 808.5 L449.8 808.7 L450.1 808.8 L450.5 809 L450.8 809.1 L451.1 809.3 L451.4 809.4 L451.7 809.6 L452.1 809.7 L452.4 809.8 L452.7 810 L453 810.1 L453.4 810.2 L453.7 810.3 L454 810.5 L454.3 810.6 L454.6 810.7 L455 810.8 L455.3 811 L455.6 811.1 L455.9 811.2 L456.2 811.3 L456.6 811.4 L456.9 811.5 L457.2 811.6 L457.5 811.7 L457.8 811.8 L458.2 811.9 L458.5 812 L458.8 812.1 L459.1 812.2 L459.5 812.3 L459.8 812.4 L460.1 812.5 L460.4 812.6 L460.7 812.6 L461.1 812.7 L461.4 812.8 L461.7 812.9 L462 813 L462.3 813 L462.7 813.1 L463 813.2 L463.3 813.2 L463.6 813.3 L463.9 813.4 L464.3 813.4 L464.6 813.5 L464.9 813.6 L465.2 813.6 L465.6 813.7 L465.9 813.7 L466.2 813.8 L466.5 813.8 L466.8 813.9 L467.2 813.9 L467.5 814 L467.8 814 L468.1 814.1 L468.4 814.1 L468.8 814.2 L469.1 814.2 L469.4 814.3 L469.7 814.3 L470 814.3 L470.4 814.4 L470.7 814.4 L471 814.5 L471.3 814.5 L471.6 814.5 L472 814.6 L472.3 814.6 L472.6 814.6 L472.9 814.6 L473.3 814.7 L473.6 814.7 L473.9 814.7 L474.2 814.8 L474.5 814.8 L474.9 814.8 L475.2 814.8 L475.5 814.8 L475.8 814.9 L476.1 814.9 L476.5 814.9 L476.8 814.9 L477.1 814.9 L477.4 815 L477.7 815 L478.1 815 L478.4 815 L478.7 815 L479 815 L479.4 815.1 L479.7 815.1 L480 815.1 L480 815.4 Z" fill="url(#cy)"/><path d="M352.9 815.1 L353.2 815.1 L353.5 815.1 L353.8 815.1 L354.2 815 L354.5 815 L354.8 815 L355.1 815 L355.4 815 L355.8 815 L356.1 814.9 L356.4 814.9 L356.7 814.9 L357 814.9 L357.4 814.9 L357.7 814.8 L358 814.8 L358.3 814.8 L358.7 814.8 L359 814.7 L359.3 814.7 L359.6 814.7 L359.9 814.7 L360.3 814.6 L360.6 814.6 L360.9 814.6 L361.2 814.5 L361.5 814.5 L361.9 814.5 L362.2 814.4 L362.5 814.4 L362.8 814.4 L363.1 814.3 L363.5 814.3 L363.8 814.2 L364.1 814.2 L364.4 814.2 L364.8 814.1 L365.1 814.1 L365.4 814 L365.7 814 L366 813.9 L366.4 813.9 L366.7 813.8 L367 813.8 L367.3 813.7 L367.6 813.7 L368 813.6 L368.3 813.5 L368.6 813.5 L368.9 813.4 L369.2 813.3 L369.6 813.3 L369.9 813.2 L370.2 813.1 L370.5 813.1 L370.9 813 L371.2 812.9 L371.5 812.8 L371.8 812.8 L372.1 812.7 L372.5 812.6 L372.8 812.5 L373.1 812.4 L373.4 812.3 L373.7 812.2 L374.1 812.2 L374.4 812.1 L374.7 812 L375 811.9 L375.3 811.8 L375.7 811.7 L376 811.6 L376.3 811.5 L376.6 811.3 L377 811.2 L377.3 811.1 L377.6 811 L377.9 810.9 L378.2 810.8 L378.6 810.7 L378.9 810.5 L379.2 810.4 L379.5 810.3 L379.8 810.2 L380.2 810 L380.5 809.9 L380.8 809.8 L381.1 809.6 L381.4 809.5 L381.8 809.3 L382.1 809.2 L382.4 809 L382.7 808.9 L383 808.8 L383.4 808.6 L383.7 808.4 L384 808.3 L384.3 808.1 L384.7 808 L385 807.8 L385.3 807.7 L385.6 807.5 L385.9 807.3 L386.3 807.2 L386.6 807 L386.9 806.8 L387.2 806.6 L387.5 806.5 L387.9 806.3 L388.2 806.1 L388.5 805.9 L388.8 805.8 L389.1 805.6 L389.5 805.4 L389.8 805.2 L390.1 805 L390.4 804.8 L390.8 804.7 L391.1 804.5 L391.4 804.3 L391.7 804.1 L392 803.9 L392.4 803.7 L392.7 803.5 L393 803.3 L393.3 803.1 L393.6 802.9 L394 802.8 L394.3 802.6 L394.6 802.4 L394.9 802.2 L395.2 802 L395.6 801.8 L395.9 801.6 L396.2 801.4 L396.5 801.2 L396.9 801 L397.2 800.8 L397.5 800.6 L397.8 800.4 L398.1 800.3 L398.5 800.1 L398.8 799.9 L399.1 799.7 L399.4 799.5 L399.7 799.3 L400.1 799.2 L400.4 799 L400.7 798.8 L401 798.6 L401.3 798.4 L401.7 798.3 L402 798.1 L402.3 797.9 L402.6 797.8 L403 797.6 L403.3 797.4 L403.6 797.3 L403.9 797.1 L404.2 797 L404.6 796.8 L404.9 796.7 L405.2 796.5 L405.5 796.4 L405.8 796.2 L406.2 796.1 L406.5 796 L406.8 795.8 L407.1 795.7 L407.4 795.6 L407.8 795.5 L408.1 795.4 L408.4 795.2 L408.7 795.1 L409.1 795 L409.4 794.9 L409.7 794.8 L410 794.7 L410.3 794.6 L410.7 794.6 L411 794.5 L411.3 794.4 L411.6 794.3 L411.9 794.3 L412.3 794.2 L412.6 794.1 L412.9 794.1 L413.2 794 L413.5 794 L413.9 794 L414.2 793.9 L414.5 793.9 L414.8 793.9 L415.2 793.8 L415.5 793.8 L415.8 793.8 L416.1 793.8 L416.4 793.8 L416.8 793.8 L417.1 793.8 L417.4 793.8 L417.7 793.8 L418 793.9 L418.4 793.9 L418.7 793.9 L419 793.9 L419.3 794 L419.6 794 L420 794.1 L420.3 794.1 L420.6 794.2 L420.9 794.2 L421.3 794.3 L421.6 794.4 L421.9 794.4 L422.2 794.5 L422.5 794.6 L422.9 794.7 L423.2 794.8 L423.5 794.9 L423.8 795 L424.1 795.1 L424.5 795.2 L424.8 795.3 L425.1 795.4 L425.4 795.5 L425.7 795.7 L426.1 795.8 L426.4 795.9 L426.7 796 L427 796.2 L427.3 796.3 L427.7 796.5 L428 796.6 L428.3 796.7 L428.6 796.9 L429 797 L429.3 797.2 L429.6 797.4 L429.9 797.5 L430.2 797.7 L430.6 797.9 L430.9 798 L431.2 798.2 L431.5 798.4 L431.8 798.5 L432.2 798.7 L432.5 798.9 L432.8 799.1 L433.1 799.2 L433.4 799.4 L433.8 799.6 L434.1 799.8 L434.4 800 L434.7 800.2 L435.1 800.4 L435.4 800.5 L435.7 800.7 L436 800.9 L436.3 801.1 L436.7 801.3 L437 801.5 L437.3 801.7 L437.6 801.9 L437.9 802.1 L438.3 802.3 L438.6 802.5 L438.9 802.7 L439.2 802.9 L439.5 803 L439.9 803.2 L440.2 803.4 L440.5 803.6 L440.8 803.8 L441.2 804 L441.5 804.2 L441.8 804.4 L442.1 804.6 L442.4 804.8 L442.8 804.9 L443.1 805.1 L443.4 805.3 L443.7 805.5 L444 805.7 L444.4 805.9 L444.7 806 L445 806.2 L445.3 806.4 L445.6 806.6 L446 806.7 L446.3 806.9 L446.6 807.1 L446.9 807.2 L447.3 807.4 L447.6 807.6 L447.9 807.7 L448.2 807.9 L448.5 808.1 L448.9 808.2 L449.2 808.4 L449.5 808.5 L449.8 808.7 L450.1 808.8 L450.5 809 L450.8 809.1 L451.1 809.3 L451.4 809.4 L451.7 809.6 L452.1 809.7 L452.4 809.8 L452.7 810 L453 810.1 L453.4 810.2 L453.7 810.3 L454 810.5 L454.3 810.6 L454.6 810.7 L455 810.8 L455.3 811 L455.6 811.1 L455.9 811.2 L456.2 811.3 L456.6 811.4 L456.9 811.5 L457.2 811.6 L457.5 811.7 L457.8 811.8 L458.2 811.9 L458.5 812 L458.8 812.1 L459.1 812.2 L459.5 812.3 L459.8 812.4 L460.1 812.5 L460.4 812.6 L460.7 812.6 L461.1 812.7 L461.4 812.8 L461.7 812.9 L462 813 L462.3 813 L462.7 813.1 L463 813.2 L463.3 813.2 L463.6 813.3 L463.9 813.4 L464.3 813.4 L464.6 813.5 L464.9 813.6 L465.2 813.6 L465.6 813.7 L465.9 813.7 L466.2 813.8 L466.5 813.8 L466.8 813.9 L467.2 813.9 L467.5 814 L467.8 814 L468.1 814.1 L468.4 814.1 L468.8 814.2 L469.1 814.2 L469.4 814.3 L469.7 814.3 L470 814.3 L470.4 814.4 L470.7 814.4 L471 814.5 L471.3 814.5 L471.6 814.5 L472 814.6 L472.3 814.6 L472.6 814.6 L472.9 814.6 L473.3 814.7 L473.6 814.7 L473.9 814.7 L474.2 814.8 L474.5 814.8 L474.9 814.8 L475.2 814.8 L475.5 814.8 L475.8 814.9 L476.1 814.9 L476.5 814.9 L476.8 814.9 L477.1 814.9 L477.4 815 L477.7 815 L478.1 815 L478.4 815 L478.7 815 L479 815 L479.4 815.1 L479.7 815.1 L480 815.1" fill="none" stroke="#f0b400" stroke-width="1.5"/><line x1="50.3" y1="815.4" x2="531.7" y2="815.4" stroke="#f5b800" stroke-width="2.6"/><path d="M50.8 806.3 L51.1 806.3 L51.4 806.4 L51.8 806.4 L52.1 806.4 L52.4 806.4 L52.7 806.5 L53 806.5 L53.4 806.5 L53.7 806.6 L54 806.6 L54.3 806.6 L54.7 806.7 L55 806.7 L55.3 806.7 L55.6 806.7 L55.9 806.8 L56.3 806.8 L56.6 806.8 L56.9 806.9 L57.2 806.9 L57.5 806.9 L57.9 807 L58.2 807 L58.5 807 L58.8 807 L59.1 807.1 L59.5 807.1 L59.8 807.1 L60.1 807.2 L60.4 807.2 L60.8 807.2 L61.1 807.2 L61.4 807.3 L61.7 807.3 L62 807.3 L62.4 807.4 L62.7 807.4 L63 807.4 L63.3 807.5 L63.6 807.5 L64 807.5 L64.3 807.5 L64.6 807.6 L64.9 807.6 L65.2 807.6 L65.6 807.7 L65.9 807.7 L66.2 807.7 L66.5 807.8 L66.9 807.8 L67.2 807.8 L67.5 807.8 L67.8 807.9 L68.1 807.9 L68.5 807.9 L68.8 808 L69.1 808 L69.4 808 L69.7 808 L70.1 808.1 L70.4 808.1 L70.7 808.1 L71 808.2 L71.3 808.2 L71.7 808.2 L72 808.3 L72.3 808.3 L72.6 808.3 L72.9 808.3 L73.3 808.4 L73.6 808.4 L73.9 808.4 L74.2 808.5 L74.6 808.5 L74.9 808.5 L75.2 808.5 L75.5 808.6 L75.8 808.6 L76.2 808.6 L76.5 808.7 L76.8 808.7 L77.1 808.7 L77.4 808.8 L77.8 808.8 L78.1 808.8 L78.4 808.8 L78.7 808.9 L79 808.9 L79.4 808.9 L79.7 809 L80 809 L80.3 809 L80.7 809 L81 809.1 L81.3 809.1 L81.6 809.1 L81.9 809.2 L82.3 809.2 L82.6 809.2 L82.9 809.3 L83.2 809.3 L83.5 809.3 L83.9 809.3 L84.2 809.3 L84.5 809.3 L84.8 809.3 L85.1 809.3 L85.5 809.3 L85.8 809.3 L86.1 809.3 L86.4 809.4 L86.8 809.4 L87.1 809.4 L87.4 809.4 L87.7 809.4 L88 809.4 L88.4 809.4 L88.7 809.4 L89 809.4 L89.3 809.4 L89.6 809.5 L90 809.5 L90.3 809.5 L90.6 809.5 L90.9 809.5 L91.2 809.5 L91.6 809.5 L91.9 809.5 L92.2 809.5 L92.5 809.5 L92.9 809.5 L93.2 809.6 L93.5 809.6 L93.8 809.6 L94.1 809.6 L94.5 809.6 L94.8 809.6 L95.1 809.6 L95.4 809.6 L95.7 809.6 L96.1 809.6 L96.4 809.6 L96.7 809.7 L97 809.7 L97.3 809.7 L97.7 809.7 L98 809.7 L98.3 809.7 L98.6 809.7 L99 809.7 L99.3 809.7 L99.6 809.7 L99.9 809.7 L100.2 809.8 L100.6 809.8 L100.9 809.8 L101.2 809.8 L101.5 809.8 L101.8 809.8 L102.2 809.8 L102.5 809.8 L102.8 809.8 L103.1 809.8 L103.4 809.8 L103.8 809.9 L104.1 809.9 L104.4 809.9 L104.7 809.9 L105.1 809.9 L105.4 809.9 L105.7 809.9 L106 809.9 L106.3 809.9 L106.7 809.9 L107 809.9 L107.3 810 L107.6 810 L107.9 810 L108.3 810 L108.6 810 L108.9 810 L109.2 810 L109.5 810 L109.9 810 L110.2 810 L110.5 810 L110.8 810.1 L111.2 810.1 L111.5 810.1 L111.8 810.1 L112.1 810.1 L112.4 810.1 L112.8 810.1 L113.1 810.1 L113.4 810.1 L113.7 810.1 L114 810.1 L114.4 810.2 L114.7 810.2 L115 810.2 L115.3 810.2 L115.6 810.2 L116 810.3 L116.3 810.3 L116.6 810.4 L116.9 810.4 L117.2 810.4 L117.6 810.5 L117.9 810.5 L118.2 810.5 L118.5 810.6 L118.9 810.6 L119.2 810.6 L119.5 810.7 L119.8 810.7 L120.1 810.8 L120.5 810.8 L120.8 810.8 L121.1 810.9 L121.4 810.9 L121.7 810.9 L122.1 811 L122.4 811 L122.7 811 L123 811.1 L123.3 811.1 L123.7 811.2 L124 811.2 L124.3 811.2 L124.6 811.3 L125 811.3 L125.3 811.3 L125.6 811.4 L125.9 811.4 L126.2 811.4 L126.6 811.5 L126.9 811.5 L127.2 811.5 L127.5 811.6 L127.8 811.6 L128.2 811.7 L128.5 811.7 L128.8 811.7 L129.1 811.8 L129.4 811.8 L129.8 811.8 L130.1 811.9 L130.4 811.9 L130.7 811.9 L131.1 812 L131.4 812 L131.7 812 L132 812.1 L132.3 812.1 L132.7 812.2 L133 812.2 L133.3 812.2 L133.6 812.3 L133.9 812.3 L134.3 812.3 L134.6 812.4 L134.9 812.4 L135.2 812.4 L135.5 812.5 L135.9 812.5 L136.2 812.5 L136.5 812.6 L136.8 812.6 L137.2 812.7 L137.5 812.7 L137.8 812.7 L138.1 812.8 L138.4 812.8 L138.8 812.8 L139.1 812.9 L139.4 812.9 L139.7 812.9 L140 813 L140.4 813 L140.7 813 L141 813.1 L141.3 813.2 L141.6 813.2 L142 813.3 L142.3 813.3 L142.6 813.4 L142.9 813.4 L143.3 813.5 L143.6 813.5 L143.9 813.6 L144.2 813.6 L144.5 813.7 L144.9 813.8 L145.2 813.8 L145.5 813.9 L145.8 813.9 L146.1 814 L146.5 814 L146.8 814.1 L147.1 814.1 L147.4 814.2 L147.7 814.2 L148.1 814.3 L148.4 814.4 L148.7 814.4 L149 814.5 L149.4 814.5 L149.7 814.6 L150 814.6 L150.3 814.7 L150.6 814.7 L151 814.8 L151.3 814.8 L151.6 814.9 L151.9 814.9 L152.2 815 L152.6 815.1 L152.9 815.1 L153.2 815.2 L153.5 815.2 L153.8 815.3 L154.2 815.3 L154.5 815.4 L154.8 815.4 L155.1 815.5 L155.5 815.5 L155.8 815.6 L156.1 815.6 L156.4 815.7 L156.7 815.7 L157.1 815.8 L157.4 815.8 L157.7 815.9 L158 815.9 L158.3 816 L158.7 816 L159 816.1 L159.3 816.1 L159.6 816.2 L159.9 816.2 L160.3 816.3 L160.6 816.3 L160.9 816.4 L161.2 816.4 L161.5 816.5 L161.9 816.5 L162.2 816.6 L162.5 816.6 L162.8 816.7 L163.2 816.7 L163.5 816.6 L163.8 816.5 L164.1 816.4 L164.4 816.3 L164.8 816.2 L165.1 816.1 L165.4 816 L165.7 815.9 L166 815.8 L166.4 815.7 L166.7 815.6 L167 815.5 L167.3 815.4 L167.6 815.3 L168 815.2 L168.3 815.1 L168.6 815 L168.9 814.9 L169.3 814.8 L169.6 814.7 L169.9 814.6 L170.2 814.4 L170.5 814.3 L170.9 814.2 L171.2 814.1 L171.5 814 L171.8 813.9 L172.1 813.8 L172.5 813.6 L172.8 813.5 L173.1 813.4 L173.4 813.3 L173.7 813.1 L174.1 813 L174.4 812.9 L174.7 812.7 L175 812.6 L175.4 812.5 L175.7 812.3 L176 812.2 L176.3 812 L176.6 811.9 L177 811.7 L177.3 811.6 L177.6 811.4 L177.9 811.2 L178.2 811.1 L178.6 810.9 L178.9 810.7 L179.2 810.6 L179.5 810.4 L179.8 810.2 L180.2 810 L180.5 809.8 L180.8 809.6 L181.1 809.4 L181.5 809.2 L181.8 809 L182.1 808.8 L182.4 808.5 L182.7 808.3 L183.1 808.1 L183.4 807.8 L183.7 807.6 L184 807.3 L184.3 807.1 L184.7 806.8 L185 806.5 L185.3 806.2 L185.6 805.9 L185.9 805.6 L186.3 805.3 L186.6 805 L186.9 804.7 L187.2 804.4 L187.6 804.1 L187.9 803.7 L188.2 803.4 L188.5 803 L188.8 802.7 L189.2 802.3 L189.5 801.9 L189.8 801.5 L190.1 801 L190.4 800.6 L190.8 800.2 L191.1 799.7 L191.4 799.2 L191.7 798.7 L192 798.2 L192.4 797.7 L192.7 797.2 L193 796.6 L193.3 796.1 L193.7 795.5 L194 794.9 L194.3 794.3 L194.6 793.7 L194.9 793 L195.3 792.4 L195.6 791.7 L195.9 791 L196.2 790.2 L196.5 789.5 L196.9 788.7 L197.2 788 L197.5 787.2 L197.8 786.3 L198.1 785.5 L198.5 784.6 L198.8 783.7 L199.1 782.8 L199.4 781.9 L199.8 780.9 L200.1 780 L200.4 779 L200.7 777.9 L201 776.9 L201.4 775.8 L201.7 774.7 L202 773.6 L202.3 772.4 L202.6 771.3 L203 770.1 L203.3 768.8 L203.6 767.6 L203.9 766.3 L204.2 765 L204.6 763.7 L204.9 762.3 L205.2 761 L205.5 759.7 L205.8 758.3 L206.2 756.9 L206.5 755.5 L206.8 754 L207.1 752.5 L207.5 751 L207.8 749.5 L208.1 748 L208.4 746.4 L208.7 744.8 L209.1 743.1 L209.4 741.5 L209.7 739.8 L210 738 L210.3 736.3 L210.7 734.5 L211 732.7 L211.3 730.9 L211.6 729.1 L211.9 727.2 L212.3 725.3 L212.6 723.4 L212.9 721.5 L213.2 719.5 L213.6 717.6 L213.9 715.5 L214.2 713.5 L214.5 711.5 L214.8 709.4 L215.2 707.3 L215.5 705.2 L215.8 703.1 L216.1 701 L216.4 698.8 L216.8 696.6 L217.1 694.5 L217.4 692.3 L217.7 690 L218 687.8 L218.4 685.6 L218.7 683.3 L219 681 L219.3 678.8 L219.7 676.5 L220 674.2 L220.3 671.9 L220.6 669.6 L220.9 667.2 L221.3 664.9 L221.6 662.6 L221.9 660.3 L222.2 657.9 L222.5 655.6 L222.9 653.3 L223.2 650.9 L223.5 648.6 L223.8 646.3 L224.1 643.9 L224.5 641.6 L224.8 639.3 L225.1 637 L225.4 634.6 L225.8 632.3 L226.1 630 L226.4 627.8 L226.7 625.5 L227 623.2 L227.4 621 L227.7 618.8 L228 616.6 L228.3 614.4 L228.6 612.3 L229 610.2 L229.3 608 L229.6 605.9 L229.9 603.9 L230.2 601.8 L230.6 599.7 L230.9 597.7 L231.2 595.7 L231.5 593.7 L231.9 591.8 L232.2 589.8 L232.5 587.9 L232.8 586 L233.1 584.1 L233.5 582.3 L233.8 580.4 L234.1 578.6 L234.4 576.9 L234.7 575.1 L235.1 573.4 L235.4 571.7 L235.7 570 L236 568.4 L236.3 566.7 L236.7 565.1 L237 563.5 L237.3 562 L237.6 560.5 L238 559 L238.3 557.5 L238.6 556 L238.9 554.6 L239.2 553.2 L239.6 551.8 L239.9 550.5 L240.2 549.1 L240.5 547.8 L240.8 546.5 L241.2 545.3 L241.5 544 L241.8 542.8 L242.1 541.6 L242.4 540.4 L242.8 539.3 L243.1 538.1 L243.4 537 L243.7 535.9 L244.1 534.8 L244.4 533.7 L244.7 532.7 L245 531.6 L245.3 530.6 L245.7 529.6 L246 528.6 L246.3 527.6 L246.6 526.6 L246.9 525.7 L247.3 524.7 L247.6 523.8 L247.9 522.9 L248.2 522 L248.5 521.1 L248.9 520.2 L249.2 519.3 L249.5 518.4 L249.8 517.5 L250.1 516.6 L250.5 515.8 L250.8 514.9 L251.1 514.1 L251.4 513.2 L251.8 512.4 L252.1 511.5 L252.4 510.7 L252.7 509.9 L253 509.1 L253.4 508.2 L253.7 507.4 L254 506.6 L254.3 505.8 L254.6 505 L255 504.2 L255.3 503.4 L255.6 502.6 L255.9 501.8 L256.2 501 L256.6 500.2 L256.9 499.4 L257.2 498.7 L257.5 497.9 L257.9 497.1 L258.2 496.4 L258.5 495.6 L258.8 494.8 L259.1 494.1 L259.5 493.4 L259.8 492.6 L260.1 491.9 L260.4 491.2 L260.7 490.5 L261.1 489.8 L261.4 489.1 L261.7 488.5 L262 487.8 L262.3 487.2 L262.7 486.5 L263 485.9 L263.3 485.3 L263.6 484.7 L264 484.1 L264.3 483.5 L264.6 483 L264.9 482.5 L265.2 482 L265.6 481.5 L265.9 481 L266.2 480.5 L266.5 480.1 L266.8 479.7 L267.2 479.3 L267.5 479 L267.8 478.6 L268.1 478.3 L268.4 478 L268.8 477.8 L269.1 477.5 L269.4 477.4 L269.7 477.2 L270.1 477.1 L270.4 476.9 L270.7 476.9 L271 476.8 L271.3 476.8 L271.7 476.9 L272 476.9 L272.3 477.1 L272.6 477.2 L272.9 477.4 L273.3 477.6 L273.6 477.9 L273.9 478.2 L274.2 478.5 L274.5 478.9 L274.9 479.3 L275.2 479.8 L275.5 480.3 L275.8 480.8 L276.2 481.3 L276.5 481.9 L276.8 482.5 L277.1 483.2 L277.4 483.9 L277.8 484.6 L278.1 485.4 L278.4 486.3 L278.7 487.2 L279 488.1 L279.4 489.1 L279.7 490.2 L280 491.3 L280.3 492.4 L280.6 493.6 L281 494.8 L281.3 496 L281.6 497.4 L281.9 498.7 L282.3 500.1 L282.6 501.6 L282.9 503.1 L283.2 504.6 L283.5 506.2 L283.9 507.8 L284.2 509.5 L284.5 511.2 L284.8 513 L285.1 514.8 L285.5 516.6 L285.8 518.5 L286.1 520.4 L286.4 522.3 L286.7 524.3 L287.1 526.4 L287.4 528.4 L287.7 530.6 L288 532.7 L288.4 534.9 L288.7 537.1 L289 539.3 L289.3 541.6 L289.6 543.9 L290 546.2 L290.3 548.6 L290.6 551 L290.9 553.4 L291.2 555.9 L291.6 558.4 L291.9 560.9 L292.2 563.4 L292.5 565.9 L292.8 568.5 L293.2 571.1 L293.5 573.7 L293.8 576.3 L294.1 578.9 L294.4 581.6 L294.8 584.3 L295.1 586.9 L295.4 589.6 L295.7 592.3 L296.1 595.1 L296.4 597.8 L296.7 600.5 L297 603.3 L297.3 606 L297.7 608.8 L298 611.5 L298.3 614.3 L298.6 617 L298.9 619.8 L299.3 622.5 L299.6 625.3 L299.9 628.1 L300.2 630.8 L300.5 633.6 L300.9 636.3 L301.2 639 L301.5 641.8 L301.8 644.5 L302.2 647.2 L302.5 649.9 L302.8 652.6 L303.1 655.3 L303.4 657.9 L303.8 660.6 L304.1 663.2 L304.4 665.8 L304.7 668.4 L305 671 L305.4 673.6 L305.7 676.1 L306 678.7 L306.3 681.2 L306.6 683.7 L307 686.2 L307.3 688.6 L307.6 691 L307.9 693.4 L308.3 695.7 L308.6 698.1 L308.9 700.4 L309.2 702.6 L309.5 704.9 L309.9 707.1 L310.2 709.3 L310.5 711.5 L310.8 713.6 L311.1 715.8 L311.5 717.9 L311.8 719.9 L312.1 722 L312.4 724 L312.7 726 L313.1 727.9 L313.4 729.9 L313.7 731.8 L314 733.6 L314.4 735.5 L314.7 737.3 L315 739.1 L315.3 740.8 L315.6 742.6 L316 744.3 L316.3 745.9 L316.6 747.6 L316.9 749.2 L317.2 750.8 L317.6 752.4 L317.9 753.9 L318.2 755.4 L318.5 756.9 L318.8 758.3 L319.2 759.7 L319.5 761.1 L319.8 762.5 L320.1 763.8 L320.5 765.1 L320.8 766.4 L321.1 767.7 L321.4 768.9 L321.7 770.1 L322.1 771.3 L322.4 772.4 L322.7 773.5 L323 774.6 L323.3 775.7 L323.7 776.8 L324 777.8 L324.3 778.8 L324.6 779.8 L324.9 780.8 L325.3 781.7 L325.6 782.6 L325.9 783.5 L326.2 784.4 L326.6 785.3 L326.9 786.1 L327.2 786.9 L327.5 787.7 L327.8 788.5 L328.2 789.2 L328.5 790 L328.8 790.7 L329.1 791.3 L329.4 792 L329.8 792.7 L330.1 793.3 L330.4 793.9 L330.7 794.5 L331 795.1 L331.4 795.7 L331.7 796.2 L332 796.7 L332.3 797.3 L332.7 797.8 L333 798.2 L333.3 798.7 L333.6 799.2 L333.9 799.6 L334.3 800 L334.6 800.4 L334.9 800.8 L335.2 801.2 L335.5 801.6 L335.9 802 L336.2 802.3 L336.5 802.6 L336.8 803 L337.1 803.3 L337.5 803.6 L337.8 803.9 L338.1 804.2 L338.4 804.4 L338.7 804.7 L339.1 804.9 L339.4 805.2 L339.7 805.4 L340 805.6 L340.4 805.9 L340.7 806.1 L341 806.3 L341.3 806.4 L341.6 806.6 L342 806.8 L342.3 807 L342.6 807.1 L342.9 807.3 L343.2 807.4 L343.6 807.6 L343.9 807.7 L344.2 807.8 L344.5 808 L344.8 808.1 L345.2 808.2 L345.5 808.3 L345.8 808.4 L346.1 808.5 L346.5 808.6 L346.8 808.7 L347.1 808.7 L347.4 808.8 L347.7 808.9 L348.1 808.9 L348.4 809 L348.7 809.1 L349 809.1 L349.3 809.2 L349.7 809.3 L350 809.4 L350.3 809.5 L350.6 809.6 L350.9 809.6 L351.3 809.7 L351.6 809.8 L351.9 809.9 L352.2 809.9 L352.6 810 L352.9 810 L353.2 810.1 L353.5 810.2 L353.8 810.2 L354.2 810.3 L354.5 810.3 L354.8 810.4 L355.1 810.4 L355.4 810.4 L355.8 810.5 L356.1 810.5 L356.4 810.6 L356.7 810.6 L357 810.6 L357.4 810.6 L357.7 810.7 L358 810.7 L358.3 810.7 L358.7 810.7 L359 810.8 L359.3 810.8 L359.6 810.8 L359.9 810.8 L360.3 810.8 L360.6 810.8 L360.9 810.8 L361.2 810.8 L361.5 810.8 L361.9 810.8 L362.2 810.8 L362.5 810.8 L362.8 810.8 L363.1 810.8 L363.5 810.8 L363.8 810.8 L364.1 810.8 L364.4 810.8 L364.8 810.8 L365.1 810.8 L365.4 810.8 L365.7 810.7 L366 810.7 L366.4 810.7 L366.7 810.7 L367 810.6 L367.3 810.6 L367.6 810.6 L368 810.6 L368.3 810.5 L368.6 810.5 L368.9 810.5 L369.2 810.4 L369.6 810.4 L369.9 810.3 L370.2 810.3 L370.5 810.2 L370.9 810.2 L371.2 810.1 L371.5 810.1 L371.8 810 L372.1 809.9 L372.5 809.8 L372.8 809.7 L373.1 809.7 L373.4 809.6 L373.7 809.5 L374.1 809.4 L374.4 809.3 L374.7 809.1 L375 809 L375.3 808.9 L375.7 808.8 L376 808.7 L376.3 808.6 L376.6 808.5 L377 808.4 L377.3 808.2 L377.6 808.1 L377.9 808 L378.2 807.9 L378.6 807.7 L378.9 807.6 L379.2 807.5 L379.5 807.3 L379.8 807.2 L380.2 807 L380.5 806.9 L380.8 806.7 L381.1 806.6 L381.4 806.5 L381.8 806.3 L382.1 806.1 L382.4 806 L382.7 805.8 L383 805.7 L383.4 805.5 L383.7 805.3 L384 805.2 L384.3 805 L384.7 804.8 L385 804.7 L385.3 804.5 L385.6 804.3 L385.9 804.1 L386.3 804 L386.6 803.8 L386.9 803.6 L387.2 803.4 L387.5 803.2 L387.9 803.1 L388.2 802.9 L388.5 802.7 L388.8 802.5 L389.1 802.3 L389.5 802.1 L389.8 801.9 L390.1 801.7 L390.4 801.5 L390.8 801.3 L391.1 801.1 L391.4 800.9 L391.7 800.7 L392 800.5 L392.4 800.3 L392.7 800.1 L393 799.9 L393.3 799.7 L393.6 799.5 L394 799.3 L394.3 799.1 L394.6 798.9 L394.9 798.7 L395.2 798.5 L395.6 798.3 L395.9 798.1 L396.2 797.9 L396.5 797.7 L396.9 797.5 L397.2 797.3 L397.5 797.1 L397.8 796.9 L398.1 796.7 L398.5 796.5 L398.8 796.3 L399.1 796.1 L399.4 795.9 L399.7 795.7 L400.1 795.5 L400.4 795.3 L400.7 795.1 L401 794.9 L401.3 794.7 L401.7 794.6 L402 794.4 L402.3 794.2 L402.6 794 L403 793.8 L403.3 793.7 L403.6 793.5 L403.9 793.3 L404.2 793.2 L404.6 793 L404.9 792.8 L405.2 792.7 L405.5 792.5 L405.8 792.4 L406.2 792.2 L406.5 792.1 L406.8 792 L407.1 791.8 L407.4 791.7 L407.8 791.5 L408.1 791.4 L408.4 791.3 L408.7 791.2 L409.1 791.1 L409.4 791 L409.7 790.8 L410 790.7 L410.3 790.6 L410.7 790.5 L411 790.5 L411.3 790.4 L411.6 790.3 L411.9 790.2 L412.3 790.1 L412.6 790.1 L412.9 790 L413.2 789.9 L413.5 789.9 L413.9 789.8 L414.2 789.8 L414.5 789.7 L414.8 789.7 L415.2 789.6 L415.5 789.6 L415.8 789.5 L416.1 789.5 L416.4 789.5 L416.8 789.5 L417.1 789.5 L417.4 789.5 L417.7 789.5 L418 789.5 L418.4 789.5 L418.7 789.5 L419 789.5 L419.3 789.5 L419.6 789.5 L420 789.5 L420.3 789.6 L420.6 789.6 L420.9 789.7 L421.3 789.7 L421.6 789.8 L421.9 789.8 L422.2 789.9 L422.5 789.9 L422.9 790 L423.2 790.1 L423.5 790.1 L423.8 790.2 L424.1 790.3 L424.5 790.4 L424.8 790.5 L425.1 790.6 L425.4 790.7 L425.7 790.8 L426.1 790.9 L426.4 791 L426.7 791.1 L427 791.2 L427.3 791.3 L427.7 791.5 L428 791.6 L428.3 791.7 L428.6 791.8 L429 792 L429.3 792.1 L429.6 792.3 L429.9 792.4 L430.2 792.5 L430.6 792.7 L430.9 792.8 L431.2 793 L431.5 793.1 L431.8 793.3 L432.2 793.4 L432.5 793.6 L432.8 793.8 L433.1 793.9 L433.4 794.1 L433.8 794.2 L434.1 794.4 L434.4 794.6 L434.7 794.7 L435.1 794.9 L435.4 795.1 L435.7 795.3 L436 795.4 L436.3 795.6 L436.7 795.8 L437 795.9 L437.3 796.1 L437.6 796.3 L437.9 796.5 L438.3 796.6 L438.6 796.8 L438.9 797 L439.2 797.1 L439.5 797.3 L439.9 797.5 L440.2 797.7 L440.5 797.8 L440.8 798 L441.2 798.2 L441.5 798.3 L441.8 798.5 L442.1 798.7 L442.4 798.9 L442.8 799 L443.1 799.2 L443.4 799.3 L443.7 799.5 L444 799.7 L444.4 799.8 L444.7 800 L445 800.2 L445.3 800.3 L445.6 800.5 L446 800.6 L446.3 800.8 L446.6 801 L446.9 801.1 L447.3 801.3 L447.6 801.4 L447.9 801.6 L448.2 801.7 L448.5 801.9 L448.9 802 L449.2 802.2 L449.5 802.3 L449.8 802.5 L450.1 802.6 L450.5 802.8 L450.8 802.9 L451.1 803 L451.4 803.2 L451.7 803.3 L452.1 803.4 L452.4 803.6 L452.7 803.7 L453 803.8 L453.4 803.9 L453.7 804.1 L454 804.2 L454.3 804.3 L454.6 804.4 L455 804.5 L455.3 804.6 L455.6 804.7 L455.9 804.8 L456.2 804.9 L456.6 805 L456.9 805.1 L457.2 805.2 L457.5 805.3 L457.8 805.4 L458.2 805.5 L458.5 805.6 L458.8 805.7 L459.1 805.8 L459.5 805.9 L459.8 805.9 L460.1 806 L460.4 806.1 L460.7 806.2 L461.1 806.2 L461.4 806.3 L461.7 806.4 L462 806.5 L462.3 806.5 L462.7 806.6 L463 806.6 L463.3 806.7 L463.6 806.8 L463.9 806.8 L464.3 806.9 L464.6 806.9 L464.9 807.1 L465.2 807.2 L465.6 807.3 L465.9 807.5 L466.2 807.6 L466.5 807.7 L466.8 807.8 L467.2 808 L467.5 808.1 L467.8 808.2 L468.1 808.3 L468.4 808.5 L468.8 808.6 L469.1 808.7 L469.4 808.8 L469.7 808.9 L470 809 L470.4 809.2 L470.7 809.3 L471 809.4 L471.3 809.5 L471.6 809.6 L472 809.7 L472.3 809.8 L472.6 809.9 L472.9 810 L473.3 810.1 L473.6 810.2 L473.9 810.3 L474.2 810.4 L474.5 810.5 L474.9 810.6 L475.2 810.7 L475.5 810.8 L475.8 810.9 L476.1 811 L476.5 811.1 L476.8 811.2 L477.1 811.3 L477.4 811.4 L477.7 811.5 L478.1 811.6 L478.4 811.7 L478.7 811.8 L479 811.9 L479.4 811.9 L479.7 812 L480 812.1 L480.3 812.2 L480.6 812.3 L481 812.4 L481.3 812.5 L481.6 812.6 L481.9 812.6 L482.2 812.7 L482.6 812.8 L482.9 812.9 L483.2 813 L483.5 813.1 L483.8 813.2 L484.2 813.2 L484.5 813.3 L484.8 813.4 L485.1 813.5 L485.5 813.5 L485.8 813.6 L486.1 813.7 L486.4 813.8 L486.7 813.8 L487.1 813.9 L487.4 814 L487.7 814.1 L488 814.1 L488.3 814.2 L488.7 814.3 L489 814.4 L489.3 814.4 L489.6 814.5 L489.9 814.6 L490.3 814.7 L490.6 814.7 L490.9 814.8 L491.2 814.9 L491.6 815 L491.9 815 L492.2 815.1 L492.5 815.2 L492.8 815.3 L493.2 815.3 L493.5 815.4 L493.8 815.5 L494.1 815.5 L494.4 815.6 L494.8 815.7 L495.1 815.8 L495.4 815.8 L495.7 815.9 L496 816 L496.4 816 L496.7 816.1 L497 816.2 L497.3 816.3 L497.7 816.3 L498 816.4 L498.3 816.5 L498.6 816.5 L498.9 816.6 L499.3 816.7 L499.6 816.8 L499.9 816.8 L500.2 816.8 L500.5 816.9 L500.9 816.9 L501.2 816.9 L501.5 816.9 L501.8 816.9 L502.1 816.9 L502.5 817 L502.8 817 L503.1 817 L503.4 817 L503.8 817 L504.1 817 L504.4 817.1 L504.7 817.1 L505 817.1 L505.4 817.1 L505.7 817.1 L506 817.1 L506.3 817.1 L506.6 817.2 L507 817.2 L507.3 817.2 L507.6 817.2 L507.9 817.2 L508.2 817.2 L508.6 817.3 L508.9 817.3 L509.2 817.3 L509.5 817.3 L509.9 817.3 L510.2 817.3 L510.5 817.3 L510.8 817.4 L511.1 817.4 L511.5 817.4 L511.8 817.4 L512.1 817.4 L512.4 817.4 L512.7 817.5 L513.1 817.5 L513.4 817.5 L513.7 817.5 L514 817.5 L514.3 817.5 L514.7 817.5 L515 817.6 L515.3 817.6 L515.6 817.6 L515.9 817.6 L516.3 817.6 L516.6 817.6 L516.9 817.6 L517.2 817.7 L517.6 817.7 L517.9 817.7 L518.2 817.7 L518.5 817.7 L518.8 817.7 L519.2 817.8 L519.5 817.8 L519.8 817.8 L520.1 817.8 L520.4 817.8 L520.8 817.8 L521.1 817.8 L521.4 817.9 L521.7 817.9 L522 817.9 L522.4 817.9 L522.7 817.9 L523 817.9 L523.3 818 L523.7 818 L524 818 L524.3 818 L524.6 818 L524.9 818 L525.3 818 L525.6 818.1 L525.9 818.1 L526.2 818.1 L526.5 818.1 L526.9 818.1 L527.2 818.1 L527.5 818.1 L527.8 818.2 L528.1 818.2 L528.5 818.2 L528.8 818.2 L529.1 818.2 L529.4 818.2 L529.8 818.3 L530.1 818.3 L530.4 818.3 L530.7 818.3 L531 818.3 L531.4 818.3 L531.7 818.3 L532 818.4" fill="none" stroke="#6a1645" stroke-width="1.8"/><circle cx="50.8" cy="806" r="4.4" fill="url(#bd)"/><circle cx="54" cy="806.3" r="4.4" fill="url(#bd)"/><circle cx="57.2" cy="808.2" r="4.4" fill="url(#bd)"/><circle cx="60.4" cy="808.9" r="4.4" fill="url(#bd)"/><circle cx="63.6" cy="805.1" r="4.4" fill="url(#bd)"/><circle cx="66.8" cy="806.3" r="4.4" fill="url(#bd)"/><circle cx="70" cy="808.6" r="4.4" fill="url(#bd)"/><circle cx="73.3" cy="807.3" r="4.4" fill="url(#bd)"/><circle cx="76.5" cy="806.2" r="4.4" fill="url(#bd)"/><circle cx="79.7" cy="810.6" r="4.4" fill="url(#bd)"/><circle cx="82.9" cy="810" r="4.4" fill="url(#bd)"/><circle cx="86.1" cy="810.1" r="4.4" fill="url(#bd)"/><circle cx="89.3" cy="808.7" r="4.4" fill="url(#bd)"/><circle cx="92.5" cy="811.2" r="4.4" fill="url(#bd)"/><circle cx="95.7" cy="809.2" r="4.4" fill="url(#bd)"/><circle cx="98.9" cy="811.5" r="4.4" fill="url(#bd)"/><circle cx="102.1" cy="808.4" r="4.4" fill="url(#bd)"/><circle cx="105.3" cy="808.5" r="4.4" fill="url(#bd)"/><circle cx="108.5" cy="810.3" r="4.4" fill="url(#bd)"/><circle cx="111.8" cy="809" r="4.4" fill="url(#bd)"/><circle cx="115" cy="811.2" r="4.4" fill="url(#bd)"/><circle cx="118.2" cy="810.9" r="4.4" fill="url(#bd)"/><circle cx="121.4" cy="809.4" r="4.4" fill="url(#bd)"/><circle cx="124.6" cy="811.4" r="4.4" fill="url(#bd)"/><circle cx="127.8" cy="811.1" r="4.4" fill="url(#bd)"/><circle cx="131" cy="813.4" r="4.4" fill="url(#bd)"/><circle cx="134.2" cy="811.3" r="4.4" fill="url(#bd)"/><circle cx="137.4" cy="812" r="4.4" fill="url(#bd)"/><circle cx="140.6" cy="815" r="4.4" fill="url(#bd)"/><circle cx="143.8" cy="817.2" r="4.4" fill="url(#bd)"/><circle cx="147" cy="817.3" r="4.4" fill="url(#bd)"/><circle cx="150.2" cy="814.8" r="4.4" fill="url(#bd)"/><circle cx="153.5" cy="815.6" r="4.4" fill="url(#bd)"/><circle cx="156.7" cy="818.2" r="4.4" fill="url(#bd)"/><circle cx="159.9" cy="816" r="4.4" fill="url(#bd)"/><circle cx="163.1" cy="815.2" r="4.4" fill="url(#bd)"/><circle cx="166.3" cy="815.9" r="4.4" fill="url(#bd)"/><circle cx="169.5" cy="815.4" r="4.4" fill="url(#bd)"/><circle cx="172.7" cy="812.2" r="4.4" fill="url(#bd)"/><circle cx="175.9" cy="809.6" r="4.4" fill="url(#bd)"/><circle cx="179.1" cy="808.3" r="4.4" fill="url(#bd)"/><circle cx="182.3" cy="809.7" r="4.4" fill="url(#bd)"/><circle cx="185.5" cy="804.8" r="4.4" fill="url(#bd)"/><circle cx="188.7" cy="802.5" r="4.4" fill="url(#bd)"/><circle cx="192" cy="798.7" r="4.4" fill="url(#bd)"/><circle cx="195.2" cy="793.5" r="4.4" fill="url(#bd)"/><circle cx="198.4" cy="784.4" r="4.4" fill="url(#bd)"/><circle cx="201.6" cy="775.8" r="4.4" fill="url(#bd)"/><circle cx="204.8" cy="761.3" r="4.4" fill="url(#bd)"/><circle cx="208" cy="747.9" r="4.4" fill="url(#bd)"/><circle cx="211.2" cy="729.9" r="4.4" fill="url(#bd)"/><circle cx="214.4" cy="714" r="4.4" fill="url(#bd)"/><circle cx="217.6" cy="690.8" r="4.4" fill="url(#bd)"/><circle cx="220.8" cy="666.9" r="4.4" fill="url(#bd)"/><circle cx="224" cy="644.2" r="4.4" fill="url(#bd)"/><circle cx="227.2" cy="621.4" r="4.4" fill="url(#bd)"/><circle cx="230.4" cy="601.6" r="4.4" fill="url(#bd)"/><circle cx="233.7" cy="578.6" r="4.4" fill="url(#bd)"/><circle cx="236.9" cy="562.5" r="4.4" fill="url(#bd)"/><circle cx="240.1" cy="549.1" r="4.4" fill="url(#bd)"/><circle cx="243.3" cy="541.5" r="4.4" fill="url(#bd)"/><circle cx="246.5" cy="528.6" r="4.4" fill="url(#bd)"/><circle cx="249.7" cy="517.7" r="4.4" fill="url(#bd)"/><circle cx="252.9" cy="510.5" r="4.4" fill="url(#bd)"/><circle cx="256.1" cy="504.6" r="4.4" fill="url(#bd)"/><circle cx="259.3" cy="493.3" r="4.4" fill="url(#bd)"/><circle cx="262.5" cy="486.2" r="4.4" fill="url(#bd)"/><circle cx="265.7" cy="483.1" r="4.4" fill="url(#bd)"/><circle cx="268.9" cy="478.4" r="4.4" fill="url(#bd)"/><circle cx="272.2" cy="478.1" r="4.4" fill="url(#bd)"/><circle cx="275.4" cy="479.2" r="4.4" fill="url(#bd)"/><circle cx="278.6" cy="489.8" r="4.4" fill="url(#bd)"/><circle cx="281.8" cy="500.8" r="4.4" fill="url(#bd)"/><circle cx="285" cy="514.8" r="4.4" fill="url(#bd)"/><circle cx="288.2" cy="534.9" r="4.4" fill="url(#bd)"/><circle cx="291.4" cy="553.9" r="4.4" fill="url(#bd)"/><circle cx="294.6" cy="583.9" r="4.4" fill="url(#bd)"/><circle cx="297.8" cy="609.8" r="4.4" fill="url(#bd)"/><circle cx="301" cy="638.3" r="4.4" fill="url(#bd)"/><circle cx="304.2" cy="665.5" r="4.4" fill="url(#bd)"/><circle cx="307.4" cy="689.2" r="4.4" fill="url(#bd)"/><circle cx="310.6" cy="709.8" r="4.4" fill="url(#bd)"/><circle cx="313.9" cy="733.2" r="4.4" fill="url(#bd)"/><circle cx="317.1" cy="748.7" r="4.4" fill="url(#bd)"/><circle cx="320.3" cy="763.9" r="4.4" fill="url(#bd)"/><circle cx="323.5" cy="775.2" r="4.4" fill="url(#bd)"/><circle cx="326.7" cy="785.1" r="4.4" fill="url(#bd)"/><circle cx="329.9" cy="789.2" r="4.4" fill="url(#bd)"/><circle cx="333.1" cy="800.4" r="4.4" fill="url(#bd)"/><circle cx="336.3" cy="802.8" r="4.4" fill="url(#bd)"/><circle cx="339.5" cy="807.1" r="4.4" fill="url(#bd)"/><circle cx="342.7" cy="810.4" r="4.4" fill="url(#bd)"/><circle cx="345.9" cy="808.5" r="4.4" fill="url(#bd)"/><circle cx="349.1" cy="806.3" r="4.4" fill="url(#bd)"/><circle cx="352.4" cy="808.5" r="4.4" fill="url(#bd)"/><circle cx="355.6" cy="808.5" r="4.4" fill="url(#bd)"/><circle cx="358.8" cy="809.9" r="4.4" fill="url(#bd)"/><circle cx="362" cy="811" r="4.4" fill="url(#bd)"/><circle cx="365.2" cy="807.6" r="4.4" fill="url(#bd)"/><circle cx="368.4" cy="811.1" r="4.4" fill="url(#bd)"/><circle cx="371.6" cy="807.7" r="4.4" fill="url(#bd)"/><circle cx="374.8" cy="809.6" r="4.4" fill="url(#bd)"/><circle cx="378" cy="807.8" r="4.4" fill="url(#bd)"/><circle cx="381.2" cy="806.1" r="4.4" fill="url(#bd)"/><circle cx="384.4" cy="804.8" r="4.4" fill="url(#bd)"/><circle cx="387.6" cy="802.3" r="4.4" fill="url(#bd)"/><circle cx="390.8" cy="800.3" r="4.4" fill="url(#bd)"/><circle cx="394.1" cy="796.6" r="4.4" fill="url(#bd)"/><circle cx="397.3" cy="797.2" r="4.4" fill="url(#bd)"/><circle cx="400.5" cy="798.2" r="4.4" fill="url(#bd)"/><circle cx="403.7" cy="796.6" r="4.4" fill="url(#bd)"/><circle cx="406.9" cy="794" r="4.4" fill="url(#bd)"/><circle cx="410.1" cy="791.8" r="4.4" fill="url(#bd)"/><circle cx="413.3" cy="788.8" r="4.4" fill="url(#bd)"/><circle cx="416.5" cy="791.8" r="4.4" fill="url(#bd)"/><circle cx="419.7" cy="789.4" r="4.4" fill="url(#bd)"/><circle cx="422.9" cy="789.9" r="4.4" fill="url(#bd)"/><circle cx="426.1" cy="790.4" r="4.4" fill="url(#bd)"/><circle cx="429.3" cy="792.3" r="4.4" fill="url(#bd)"/><circle cx="432.6" cy="792.9" r="4.4" fill="url(#bd)"/><circle cx="435.8" cy="795.2" r="4.4" fill="url(#bd)"/><circle cx="439" cy="795.3" r="4.4" fill="url(#bd)"/><circle cx="442.2" cy="798.1" r="4.4" fill="url(#bd)"/><circle cx="445.4" cy="804" r="4.4" fill="url(#bd)"/><circle cx="448.6" cy="801.8" r="4.4" fill="url(#bd)"/><circle cx="451.8" cy="803" r="4.4" fill="url(#bd)"/><circle cx="455" cy="805.4" r="4.4" fill="url(#bd)"/><circle cx="458.2" cy="806.7" r="4.4" fill="url(#bd)"/><circle cx="461.4" cy="804.5" r="4.4" fill="url(#bd)"/><circle cx="464.6" cy="806.6" r="4.4" fill="url(#bd)"/><circle cx="467.8" cy="809.7" r="4.4" fill="url(#bd)"/><circle cx="471" cy="809.8" r="4.4" fill="url(#bd)"/><circle cx="474.3" cy="810.6" r="4.4" fill="url(#bd)"/><circle cx="477.5" cy="813.9" r="4.4" fill="url(#bd)"/><circle cx="480.7" cy="811.2" r="4.4" fill="url(#bd)"/><circle cx="483.9" cy="813.3" r="4.4" fill="url(#bd)"/><circle cx="487.1" cy="813.1" r="4.4" fill="url(#bd)"/><circle cx="490.3" cy="817.1" r="4.4" fill="url(#bd)"/><circle cx="493.5" cy="812.3" r="4.4" fill="url(#bd)"/><circle cx="496.7" cy="815.1" r="4.4" fill="url(#bd)"/><circle cx="499.9" cy="816" r="4.4" fill="url(#bd)"/><circle cx="503.1" cy="818.1" r="4.4" fill="url(#bd)"/><circle cx="506.3" cy="818.1" r="4.4" fill="url(#bd)"/><circle cx="509.5" cy="819.5" r="4.4" fill="url(#bd)"/><circle cx="512.8" cy="814.9" r="4.4" fill="url(#bd)"/><circle cx="516" cy="818.8" r="4.4" fill="url(#bd)"/><circle cx="519.2" cy="817.3" r="4.4" fill="url(#bd)"/><circle cx="522.4" cy="816.8" r="4.4" fill="url(#bd)"/><circle cx="525.6" cy="818.9" r="4.4" fill="url(#bd)"/><circle cx="528.8" cy="816.7" r="4.4" fill="url(#bd)"/><circle cx="532" cy="815" r="4.4" fill="url(#bd)"/><rect x="50.3" y="463.0" width="481.4" height="387.6" fill="none" stroke="#000" stroke-width="2.8"/><line x1="50.8" y1="850.6" x2="50.8" y2="847.1" stroke="#000" stroke-width="2.4"/><line x1="211.2" y1="850.6" x2="211.2" y2="843.1" stroke="#000" stroke-width="2.4"/><line x1="371.6" y1="850.6" x2="371.6" y2="847.1" stroke="#000" stroke-width="2.4"/><line x1="532" y1="850.6" x2="532" y2="843.1" stroke="#000" stroke-width="2.4"/><line x1="392.1" y1="479" x2="439.5" y2="479" stroke="#7a1a4a" stroke-width="2.4"/><circle cx="417.1" cy="502.2" r="4.6" fill="url(#bd)"/><defs><linearGradient id="dg0" x1="0" y1="0" x2="0" y2="1"><stop offset="0" stop-color="#f67c7c"/><stop offset="1" stop-color="#fcd6d6"/></linearGradient><linearGradient id="dg1" x1="0" y1="0" x2="0" y2="1"><stop offset="0" stop-color="#f57a7a"/><stop offset="1" stop-color="#fbc8c8"/></linearGradient><linearGradient id="dg2" x1="0" y1="0" x2="0" y2="1"><stop offset="0" stop-color="#f78484"/><stop offset="1" stop-color="#fbd0d0"/></linearGradient><linearGradient id="dg3" x1="0" y1="0" x2="0" y2="1"><stop offset="0" stop-color="#6f93bb"/><stop offset="1" stop-color="#c6dbf0"/></linearGradient><linearGradient id="dg4" x1="0" y1="0" x2="0" y2="1"><stop offset="0" stop-color="#9a9cc4"/><stop offset="1" stop-color="#e6e6f2"/></linearGradient><linearGradient id="dg5" x1="0" y1="0" x2="0" y2="1"><stop offset="0" stop-color="#bdbdbd"/><stop offset="1" stop-color="#e8e8e8"/></linearGradient><linearGradient id="dg6" x1="0" y1="0" x2="0" y2="1"><stop offset="0" stop-color="#f7a4a4"/><stop offset="1" stop-color="#fde6e6"/></linearGradient><linearGradient id="dg7" x1="0" y1="0" x2="0" y2="1"><stop offset="0" stop-color="#86acd4"/><stop offset="1" stop-color="#dde9f6"/></linearGradient><linearGradient id="dg8" x1="0" y1="0" x2="0" y2="1"><stop offset="0" stop-color="#e9a46e"/><stop offset="1" stop-color="#fde0c4"/></linearGradient><linearGradient id="dg9" x1="0" y1="0" x2="0" y2="1"><stop offset="0" stop-color="#6ec7c7"/><stop offset="1" stop-color="#a2ffff"/></linearGradient></defs><path d="M842.5 828.3 L842.5 827.9 L842.7 827.9 L842.9 827.9 L843 827.9 L843.2 827.8 L843.4 827.8 L843.6 827.8 L843.8 827.8 L844 827.8 L844.1 827.8 L844.3 827.8 L844.5 827.7 L844.7 827.7 L844.9 827.7 L845.1 827.7 L845.3 827.7 L845.4 827.7 L845.6 827.6 L845.8 827.6 L846 827.6 L846.2 827.6 L846.4 827.6 L846.6 827.5 L846.7 827.5 L846.9 827.5 L847.1 827.5 L847.3 827.5 L847.5 827.4 L847.7 827.4 L847.8 827.4 L848 827.4 L848.2 827.3 L848.4 827.3 L848.6 827.3 L848.8 827.3 L849 827.2 L849.1 827.2 L849.3 827.2 L849.5 827.1 L849.7 827.1 L849.9 827.1 L850.1 827 L850.2 827 L850.4 827 L850.6 826.9 L850.8 826.9 L851 826.9 L851.2 826.8 L851.4 826.8 L851.5 826.8 L851.7 826.7 L851.9 826.7 L852.1 826.6 L852.3 826.6 L852.5 826.6 L852.7 826.5 L852.8 826.5 L853 826.4 L853.2 826.4 L853.4 826.3 L853.6 826.3 L853.8 826.2 L853.9 826.2 L854.1 826.1 L854.3 826.1 L854.5 826 L854.7 826 L854.9 825.9 L855.1 825.8 L855.2 825.8 L855.4 825.7 L855.6 825.7 L855.8 825.6 L856 825.5 L856.2 825.5 L856.4 825.4 L856.5 825.3 L856.7 825.3 L856.9 825.2 L857.1 825.1 L857.3 825.1 L857.5 825 L857.6 824.9 L857.8 824.8 L858 824.7 L858.2 824.7 L858.4 824.6 L858.6 824.5 L858.8 824.4 L858.9 824.3 L859.1 824.2 L859.3 824.1 L859.5 824.1 L859.7 824 L859.9 823.9 L860.1 823.8 L860.2 823.7 L860.4 823.6 L860.6 823.5 L860.8 823.4 L861 823.3 L861.2 823.1 L861.3 823 L861.5 822.9 L861.7 822.8 L861.9 822.7 L862.1 822.6 L862.3 822.5 L862.5 822.3 L862.6 822.2 L862.8 822.1 L863 822 L863.2 821.8 L863.4 821.7 L863.6 821.6 L863.8 821.4 L863.9 821.3 L864.1 821.2 L864.3 821 L864.5 820.9 L864.7 820.7 L864.9 820.6 L865 820.4 L865.2 820.3 L865.4 820.1 L865.6 819.9 L865.8 819.8 L866 819.6 L866.2 819.5 L866.3 819.3 L866.5 819.1 L866.7 818.9 L866.9 818.8 L867.1 818.6 L867.3 818.4 L867.5 818.2 L867.6 818 L867.8 817.8 L868 817.6 L868.2 817.5 L868.4 817.3 L868.6 817.1 L868.7 816.9 L868.9 816.6 L869.1 816.4 L869.3 816.2 L869.5 816 L869.7 815.8 L869.9 815.6 L870 815.4 L870.2 815.1 L870.4 814.9 L870.6 814.7 L870.8 814.4 L871 814.2 L871.2 814 L871.3 813.7 L871.5 813.5 L871.7 813.2 L871.9 813 L872.1 812.7 L872.3 812.5 L872.4 812.2 L872.6 812 L872.8 811.7 L873 811.4 L873.2 811.1 L873.4 810.9 L873.6 810.6 L873.7 810.3 L873.9 810 L874.1 809.7 L874.3 809.5 L874.5 809.2 L874.7 808.9 L874.8 808.6 L875 808.3 L875.2 808 L875.4 807.7 L875.6 807.4 L875.8 807 L876 806.7 L876.1 806.4 L876.3 806.1 L876.5 805.8 L876.7 805.4 L876.9 805.1 L877.1 804.8 L877.3 804.4 L877.4 804.1 L877.6 803.8 L877.8 803.4 L878 803.1 L878.2 802.7 L878.4 802.4 L878.5 802 L878.7 801.7 L878.9 801.3 L879.1 800.9 L879.3 800.6 L879.5 800.2 L879.7 799.8 L879.8 799.5 L880 799.1 L880.2 798.7 L880.4 798.3 L880.6 798 L880.8 797.6 L881 797.2 L881.1 796.8 L881.3 796.4 L881.5 796 L881.7 795.6 L881.9 795.2 L882.1 794.8 L882.2 794.4 L882.4 794 L882.6 793.6 L882.8 793.2 L883 792.8 L883.2 792.4 L883.4 791.9 L883.5 791.5 L883.7 791.1 L883.9 790.7 L884.1 790.3 L884.3 789.8 L884.5 789.4 L884.7 789 L884.8 788.6 L885 788.1 L885.2 787.7 L885.4 787.3 L885.6 786.8 L885.8 786.4 L885.9 786 L886.1 785.5 L886.3 785.1 L886.5 784.7 L886.7 784.2 L886.9 783.8 L887.1 783.3 L887.2 782.9 L887.4 782.5 L887.6 782 L887.8 781.6 L888 781.1 L888.2 780.7 L888.4 780.2 L888.5 779.8 L888.7 779.4 L888.9 778.9 L889.1 778.5 L889.3 778 L889.5 777.6 L889.6 777.1 L889.8 776.7 L890 776.2 L890.2 775.8 L890.4 775.4 L890.6 774.9 L890.8 774.5 L890.9 774 L891.1 773.6 L891.3 773.2 L891.5 772.7 L891.7 772.3 L891.9 771.8 L892.1 771.4 L892.2 771 L892.4 770.5 L892.6 770.1 L892.8 769.7 L893 769.3 L893.2 768.8 L893.3 768.4 L893.5 768 L893.7 767.6 L893.9 767.2 L894.1 766.7 L894.3 766.3 L894.5 765.9 L894.6 765.5 L894.8 765.1 L895 764.7 L895.2 764.3 L895.4 763.9 L895.6 763.5 L895.7 763.1 L895.9 762.7 L896.1 762.3 L896.3 761.9 L896.5 761.6 L896.7 761.2 L896.9 760.8 L897 760.4 L897.2 760.1 L897.4 759.7 L897.6 759.3 L897.8 759 L898 758.6 L898.2 758.3 L898.3 757.9 L898.5 757.6 L898.7 757.3 L898.9 756.9 L899.1 756.6 L899.3 756.3 L899.4 756 L899.6 755.6 L899.8 755.3 L900 755 L900.2 754.7 L900.4 754.4 L900.6 754.1 L900.7 753.8 L900.9 753.6 L901.1 753.3 L901.3 753 L901.5 752.7 L901.7 752.5 L901.9 752.2 L902 752 L902.2 751.7 L902.4 751.5 L902.6 751.3 L902.8 751 L903 750.8 L903.1 750.6 L903.3 750.4 L903.5 750.2 L903.7 750 L903.9 749.8 L904.1 749.6 L904.3 749.4 L904.4 749.2 L904.6 749 L904.8 748.9 L905 748.7 L905.2 748.6 L905.4 748.4 L905.6 748.3 L905.7 748.1 L905.9 748 L906.1 747.9 L906.3 747.8 L906.5 747.7 L906.7 747.6 L906.8 747.5 L907 747.4 L907.2 747.3 L907.4 747.2 L907.6 747.1 L907.8 747.1 L908 747 L908.1 747 L908.3 746.9 L908.5 746.9 L908.7 746.9 L908.9 746.8 L909.1 746.8 L909.3 746.8 L909.4 746.8 L909.6 746.8 L909.8 746.8 L910 746.8 L910.2 746.8 L910.4 746.9 L910.5 746.9 L910.7 746.9 L910.9 747 L911.1 747.1 L911.3 747.1 L911.5 747.2 L911.7 747.3 L911.8 747.3 L912 747.4 L912.2 747.5 L912.4 747.6 L912.6 747.7 L912.8 747.8 L913 747.9 L913.1 748.1 L913.3 748.2 L913.5 748.3 L913.7 748.5 L913.9 748.6 L914.1 748.8 L914.2 749 L914.4 749.1 L914.6 749.3 L914.8 749.5 L915 749.7 L915.2 749.9 L915.4 750.1 L915.5 750.3 L915.7 750.5 L915.9 750.7 L916.1 750.9 L916.3 751.1 L916.5 751.4 L916.6 751.6 L916.8 751.8 L917 752.1 L917.2 752.3 L917.4 752.6 L917.6 752.9 L917.8 753.1 L917.9 753.4 L918.1 753.7 L918.3 754 L918.5 754.3 L918.7 754.6 L918.9 754.9 L919.1 755.2 L919.2 755.5 L919.4 755.8 L919.6 756.1 L919.8 756.4 L920 756.7 L920.2 757.1 L920.3 757.4 L920.5 757.8 L920.7 758.1 L920.9 758.4 L921.1 758.8 L921.3 759.1 L921.5 759.5 L921.6 759.9 L921.8 760.2 L922 760.6 L922.2 761 L922.4 761.4 L922.6 761.7 L922.8 762.1 L922.9 762.5 L923.1 762.9 L923.3 763.3 L923.5 763.7 L923.7 764.1 L923.9 764.5 L924 764.9 L924.2 765.3 L924.4 765.7 L924.6 766.1 L924.8 766.5 L925 766.9 L925.2 767.3 L925.3 767.8 L925.5 768.2 L925.7 768.6 L925.9 769 L926.1 769.5 L926.3 769.9 L926.5 770.3 L926.6 770.7 L926.8 771.2 L927 771.6 L927.2 772 L927.4 772.5 L927.6 772.9 L927.7 773.4 L927.9 773.8 L928.1 774.2 L928.3 774.7 L928.5 775.1 L928.7 775.6 L928.9 776 L929 776.4 L929.2 776.9 L929.4 777.3 L929.6 777.8 L929.8 778.2 L930 778.7 L930.2 779.1 L930.3 779.6 L930.5 780 L930.7 780.4 L930.9 780.9 L931.1 781.3 L931.3 781.8 L931.4 782.2 L931.6 782.7 L931.8 783.1 L932 783.5 L932.2 784 L932.4 784.4 L932.6 784.9 L932.7 785.3 L932.9 785.7 L933.1 786.2 L933.3 786.6 L933.5 787 L933.7 787.5 L933.9 787.9 L934 788.3 L934.2 788.8 L934.4 789.2 L934.6 789.6 L934.8 790 L935 790.5 L935.1 790.9 L935.3 791.3 L935.5 791.7 L935.7 792.1 L935.9 792.5 L936.1 793 L936.3 793.4 L936.4 793.8 L936.6 794.2 L936.8 794.6 L937 795 L937.2 795.4 L937.4 795.8 L937.5 796.2 L937.7 796.6 L937.9 797 L938.1 797.4 L938.3 797.7 L938.5 798.1 L938.7 798.5 L938.8 798.9 L939 799.3 L939.2 799.6 L939.4 800 L939.6 800.4 L939.8 800.7 L940 801.1 L940.1 801.5 L940.3 801.8 L940.5 802.2 L940.7 802.5 L940.9 802.9 L941.1 803.2 L941.2 803.6 L941.4 803.9 L941.6 804.3 L941.8 804.6 L942 804.9 L942.2 805.3 L942.4 805.6 L942.5 805.9 L942.7 806.2 L942.9 806.6 L943.1 806.9 L943.3 807.2 L943.5 807.5 L943.7 807.8 L943.8 808.1 L944 808.4 L944.2 808.7 L944.4 809 L944.6 809.3 L944.8 809.6 L944.9 809.9 L945.1 810.2 L945.3 810.4 L945.5 810.7 L945.7 811 L945.9 811.3 L946.1 811.5 L946.2 811.8 L946.4 812.1 L946.6 812.3 L946.8 812.6 L947 812.8 L947.2 813.1 L947.4 813.3 L947.5 813.6 L947.7 813.8 L947.9 814.1 L948.1 814.3 L948.3 814.5 L948.5 814.8 L948.6 815 L948.8 815.2 L949 815.5 L949.2 815.7 L949.4 815.9 L949.6 816.1 L949.8 816.3 L949.9 816.5 L950.1 816.7 L950.3 816.9 L950.5 817.1 L950.7 817.3 L950.9 817.5 L951.1 817.7 L951.2 817.9 L951.4 818.1 L951.6 818.3 L951.8 818.5 L952 818.7 L952.2 818.8 L952.3 819 L952.5 819.2 L952.7 819.4 L952.9 819.5 L953.1 819.7 L953.3 819.9 L953.5 820 L953.6 820.2 L953.8 820.3 L954 820.5 L954.2 820.6 L954.4 820.8 L954.6 820.9 L954.8 821.1 L954.9 821.2 L955.1 821.4 L955.3 821.5 L955.5 821.6 L955.7 821.8 L955.9 821.9 L956 822 L956.2 822.1 L956.4 822.3 L956.6 822.4 L956.8 822.5 L957 822.6 L957.2 822.8 L957.3 822.9 L957.5 823 L957.7 823.1 L957.9 823.2 L958.1 823.3 L958.3 823.4 L958.5 823.5 L958.6 823.6 L958.8 823.7 L959 823.8 L959.2 823.9 L959.4 824 L959.6 824.1 L959.7 824.2 L959.9 824.3 L960.1 824.4 L960.3 824.5 L960.5 824.5 L960.7 824.6 L960.9 824.7 L961 824.8 L961.2 824.9 L961.4 824.9 L961.6 825 L961.8 825.1 L962 825.2 L962.1 825.2 L962.3 825.3 L962.5 825.4 L962.7 825.4 L962.9 825.5 L963.1 825.6 L963.3 825.6 L963.4 825.7 L963.6 825.8 L963.8 825.8 L964 825.9 L964.2 825.9 L964.4 826 L964.6 826 L964.7 826.1 L964.9 826.1 L965.1 826.2 L965.3 826.2 L965.5 826.3 L965.7 826.3 L965.8 826.4 L966 826.4 L966.2 826.5 L966.4 826.5 L966.6 826.6 L966.8 826.6 L967 826.7 L967.1 826.7 L967.3 826.7 L967.5 826.8 L967.7 826.8 L967.9 826.9 L968.1 826.9 L968.3 826.9 L968.4 827 L968.6 827 L968.8 827 L969 827.1 L969.2 827.1 L969.4 827.1 L969.5 827.2 L969.7 827.2 L969.9 827.2 L970.1 827.2 L970.3 827.3 L970.5 827.3 L970.7 827.3 L970.8 827.3 L971 827.4 L971.2 827.4 L971.4 827.4 L971.6 827.4 L971.8 827.5 L972 827.5 L972.1 827.5 L972.3 827.5 L972.5 827.6 L972.7 827.6 L972.9 827.6 L973.1 827.6 L973.2 827.6 L973.4 827.7 L973.6 827.7 L973.8 827.7 L974 827.7 L974.2 827.7 L974.4 827.7 L974.5 827.8 L974.7 827.8 L974.9 827.8 L975.1 827.8 L975.3 827.8 L975.5 827.8 L975.7 827.8 L975.8 827.9 L976 827.9 L976.2 827.9 L976.4 827.9 L976.4 828.3 Z" fill="url(#dg8)" fill-opacity="1.0"/><path d="M842.5 827.9 L842.7 827.9 L842.9 827.9 L843 827.9 L843.2 827.8 L843.4 827.8 L843.6 827.8 L843.8 827.8 L844 827.8 L844.1 827.8 L844.3 827.8 L844.5 827.7 L844.7 827.7 L844.9 827.7 L845.1 827.7 L845.3 827.7 L845.4 827.7 L845.6 827.6 L845.8 827.6 L846 827.6 L846.2 827.6 L846.4 827.6 L846.6 827.5 L846.7 827.5 L846.9 827.5 L847.1 827.5 L847.3 827.5 L847.5 827.4 L847.7 827.4 L847.8 827.4 L848 827.4 L848.2 827.3 L848.4 827.3 L848.6 827.3 L848.8 827.3 L849 827.2 L849.1 827.2 L849.3 827.2 L849.5 827.1 L849.7 827.1 L849.9 827.1 L850.1 827 L850.2 827 L850.4 827 L850.6 826.9 L850.8 826.9 L851 826.9 L851.2 826.8 L851.4 826.8 L851.5 826.8 L851.7 826.7 L851.9 826.7 L852.1 826.6 L852.3 826.6 L852.5 826.6 L852.7 826.5 L852.8 826.5 L853 826.4 L853.2 826.4 L853.4 826.3 L853.6 826.3 L853.8 826.2 L853.9 826.2 L854.1 826.1 L854.3 826.1 L854.5 826 L854.7 826 L854.9 825.9 L855.1 825.8 L855.2 825.8 L855.4 825.7 L855.6 825.7 L855.8 825.6 L856 825.5 L856.2 825.5 L856.4 825.4 L856.5 825.3 L856.7 825.3 L856.9 825.2 L857.1 825.1 L857.3 825.1 L857.5 825 L857.6 824.9 L857.8 824.8 L858 824.7 L858.2 824.7 L858.4 824.6 L858.6 824.5 L858.8 824.4 L858.9 824.3 L859.1 824.2 L859.3 824.1 L859.5 824.1 L859.7 824 L859.9 823.9 L860.1 823.8 L860.2 823.7 L860.4 823.6 L860.6 823.5 L860.8 823.4 L861 823.3 L861.2 823.1 L861.3 823 L861.5 822.9 L861.7 822.8 L861.9 822.7 L862.1 822.6 L862.3 822.5 L862.5 822.3 L862.6 822.2 L862.8 822.1 L863 822 L863.2 821.8 L863.4 821.7 L863.6 821.6 L863.8 821.4 L863.9 821.3 L864.1 821.2 L864.3 821 L864.5 820.9 L864.7 820.7 L864.9 820.6 L865 820.4 L865.2 820.3 L865.4 820.1 L865.6 819.9 L865.8 819.8 L866 819.6 L866.2 819.5 L866.3 819.3 L866.5 819.1 L866.7 818.9 L866.9 818.8 L867.1 818.6 L867.3 818.4 L867.5 818.2 L867.6 818 L867.8 817.8 L868 817.6 L868.2 817.5 L868.4 817.3 L868.6 817.1 L868.7 816.9 L868.9 816.6 L869.1 816.4 L869.3 816.2 L869.5 816 L869.7 815.8 L869.9 815.6 L870 815.4 L870.2 815.1 L870.4 814.9 L870.6 814.7 L870.8 814.4 L871 814.2 L871.2 814 L871.3 813.7 L871.5 813.5 L871.7 813.2 L871.9 813 L872.1 812.7 L872.3 812.5 L872.4 812.2 L872.6 812 L872.8 811.7 L873 811.4 L873.2 811.1 L873.4 810.9 L873.6 810.6 L873.7 810.3 L873.9 810 L874.1 809.7 L874.3 809.5 L874.5 809.2 L874.7 808.9 L874.8 808.6 L875 808.3 L875.2 808 L875.4 807.7 L875.6 807.4 L875.8 807 L876 806.7 L876.1 806.4 L876.3 806.1 L876.5 805.8 L876.7 805.4 L876.9 805.1 L877.1 804.8 L877.3 804.4 L877.4 804.1 L877.6 803.8 L877.8 803.4 L878 803.1 L878.2 802.7 L878.4 802.4 L878.5 802 L878.7 801.7 L878.9 801.3 L879.1 800.9 L879.3 800.6 L879.5 800.2 L879.7 799.8 L879.8 799.5 L880 799.1 L880.2 798.7 L880.4 798.3 L880.6 798 L880.8 797.6 L881 797.2 L881.1 796.8 L881.3 796.4 L881.5 796 L881.7 795.6 L881.9 795.2 L882.1 794.8 L882.2 794.4 L882.4 794 L882.6 793.6 L882.8 793.2 L883 792.8 L883.2 792.4 L883.4 791.9 L883.5 791.5 L883.7 791.1 L883.9 790.7 L884.1 790.3 L884.3 789.8 L884.5 789.4 L884.7 789 L884.8 788.6 L885 788.1 L885.2 787.7 L885.4 787.3 L885.6 786.8 L885.8 786.4 L885.9 786 L886.1 785.5 L886.3 785.1 L886.5 784.7 L886.7 784.2 L886.9 783.8 L887.1 783.3 L887.2 782.9 L887.4 782.5 L887.6 782 L887.8 781.6 L888 781.1 L888.2 780.7 L888.4 780.2 L888.5 779.8 L888.7 779.4 L888.9 778.9 L889.1 778.5 L889.3 778 L889.5 777.6 L889.6 777.1 L889.8 776.7 L890 776.2 L890.2 775.8 L890.4 775.4 L890.6 774.9 L890.8 774.5 L890.9 774 L891.1 773.6 L891.3 773.2 L891.5 772.7 L891.7 772.3 L891.9 771.8 L892.1 771.4 L892.2 771 L892.4 770.5 L892.6 770.1 L892.8 769.7 L893 769.3 L893.2 768.8 L893.3 768.4 L893.5 768 L893.7 767.6 L893.9 767.2 L894.1 766.7 L894.3 766.3 L894.5 765.9 L894.6 765.5 L894.8 765.1 L895 764.7 L895.2 764.3 L895.4 763.9 L895.6 763.5 L895.7 763.1 L895.9 762.7 L896.1 762.3 L896.3 761.9 L896.5 761.6 L896.7 761.2 L896.9 760.8 L897 760.4 L897.2 760.1 L897.4 759.7 L897.6 759.3 L897.8 759 L898 758.6 L898.2 758.3 L898.3 757.9 L898.5 757.6 L898.7 757.3 L898.9 756.9 L899.1 756.6 L899.3 756.3 L899.4 756 L899.6 755.6 L899.8 755.3 L900 755 L900.2 754.7 L900.4 754.4 L900.6 754.1 L900.7 753.8 L900.9 753.6 L901.1 753.3 L901.3 753 L901.5 752.7 L901.7 752.5 L901.9 752.2 L902 752 L902.2 751.7 L902.4 751.5 L902.6 751.3 L902.8 751 L903 750.8 L903.1 750.6 L903.3 750.4 L903.5 750.2 L903.7 750 L903.9 749.8 L904.1 749.6 L904.3 749.4 L904.4 749.2 L904.6 749 L904.8 748.9 L905 748.7 L905.2 748.6 L905.4 748.4 L905.6 748.3 L905.7 748.1 L905.9 748 L906.1 747.9 L906.3 747.8 L906.5 747.7 L906.7 747.6 L906.8 747.5 L907 747.4 L907.2 747.3 L907.4 747.2 L907.6 747.1 L907.8 747.1 L908 747 L908.1 747 L908.3 746.9 L908.5 746.9 L908.7 746.9 L908.9 746.8 L909.1 746.8 L909.3 746.8 L909.4 746.8 L909.6 746.8 L909.8 746.8 L910 746.8 L910.2 746.8 L910.4 746.9 L910.5 746.9 L910.7 746.9 L910.9 747 L911.1 747.1 L911.3 747.1 L911.5 747.2 L911.7 747.3 L911.8 747.3 L912 747.4 L912.2 747.5 L912.4 747.6 L912.6 747.7 L912.8 747.8 L913 747.9 L913.1 748.1 L913.3 748.2 L913.5 748.3 L913.7 748.5 L913.9 748.6 L914.1 748.8 L914.2 749 L914.4 749.1 L914.6 749.3 L914.8 749.5 L915 749.7 L915.2 749.9 L915.4 750.1 L915.5 750.3 L915.7 750.5 L915.9 750.7 L916.1 750.9 L916.3 751.1 L916.5 751.4 L916.6 751.6 L916.8 751.8 L917 752.1 L917.2 752.3 L917.4 752.6 L917.6 752.9 L917.8 753.1 L917.9 753.4 L918.1 753.7 L918.3 754 L918.5 754.3 L918.7 754.6 L918.9 754.9 L919.1 755.2 L919.2 755.5 L919.4 755.8 L919.6 756.1 L919.8 756.4 L920 756.7 L920.2 757.1 L920.3 757.4 L920.5 757.8 L920.7 758.1 L920.9 758.4 L921.1 758.8 L921.3 759.1 L921.5 759.5 L921.6 759.9 L921.8 760.2 L922 760.6 L922.2 761 L922.4 761.4 L922.6 761.7 L922.8 762.1 L922.9 762.5 L923.1 762.9 L923.3 763.3 L923.5 763.7 L923.7 764.1 L923.9 764.5 L924 764.9 L924.2 765.3 L924.4 765.7 L924.6 766.1 L924.8 766.5 L925 766.9 L925.2 767.3 L925.3 767.8 L925.5 768.2 L925.7 768.6 L925.9 769 L926.1 769.5 L926.3 769.9 L926.5 770.3 L926.6 770.7 L926.8 771.2 L927 771.6 L927.2 772 L927.4 772.5 L927.6 772.9 L927.7 773.4 L927.9 773.8 L928.1 774.2 L928.3 774.7 L928.5 775.1 L928.7 775.6 L928.9 776 L929 776.4 L929.2 776.9 L929.4 777.3 L929.6 777.8 L929.8 778.2 L930 778.7 L930.2 779.1 L930.3 779.6 L930.5 780 L930.7 780.4 L930.9 780.9 L931.1 781.3 L931.3 781.8 L931.4 782.2 L931.6 782.7 L931.8 783.1 L932 783.5 L932.2 784 L932.4 784.4 L932.6 784.9 L932.7 785.3 L932.9 785.7 L933.1 786.2 L933.3 786.6 L933.5 787 L933.7 787.5 L933.9 787.9 L934 788.3 L934.2 788.8 L934.4 789.2 L934.6 789.6 L934.8 790 L935 790.5 L935.1 790.9 L935.3 791.3 L935.5 791.7 L935.7 792.1 L935.9 792.5 L936.1 793 L936.3 793.4 L936.4 793.8 L936.6 794.2 L936.8 794.6 L937 795 L937.2 795.4 L937.4 795.8 L937.5 796.2 L937.7 796.6 L937.9 797 L938.1 797.4 L938.3 797.7 L938.5 798.1 L938.7 798.5 L938.8 798.9 L939 799.3 L939.2 799.6 L939.4 800 L939.6 800.4 L939.8 800.7 L940 801.1 L940.1 801.5 L940.3 801.8 L940.5 802.2 L940.7 802.5 L940.9 802.9 L941.1 803.2 L941.2 803.6 L941.4 803.9 L941.6 804.3 L941.8 804.6 L942 804.9 L942.2 805.3 L942.4 805.6 L942.5 805.9 L942.7 806.2 L942.9 806.6 L943.1 806.9 L943.3 807.2 L943.5 807.5 L943.7 807.8 L943.8 808.1 L944 808.4 L944.2 808.7 L944.4 809 L944.6 809.3 L944.8 809.6 L944.9 809.9 L945.1 810.2 L945.3 810.4 L945.5 810.7 L945.7 811 L945.9 811.3 L946.1 811.5 L946.2 811.8 L946.4 812.1 L946.6 812.3 L946.8 812.6 L947 812.8 L947.2 813.1 L947.4 813.3 L947.5 813.6 L947.7 813.8 L947.9 814.1 L948.1 814.3 L948.3 814.5 L948.5 814.8 L948.6 815 L948.8 815.2 L949 815.5 L949.2 815.7 L949.4 815.9 L949.6 816.1 L949.8 816.3 L949.9 816.5 L950.1 816.7 L950.3 816.9 L950.5 817.1 L950.7 817.3 L950.9 817.5 L951.1 817.7 L951.2 817.9 L951.4 818.1 L951.6 818.3 L951.8 818.5 L952 818.7 L952.2 818.8 L952.3 819 L952.5 819.2 L952.7 819.4 L952.9 819.5 L953.1 819.7 L953.3 819.9 L953.5 820 L953.6 820.2 L953.8 820.3 L954 820.5 L954.2 820.6 L954.4 820.8 L954.6 820.9 L954.8 821.1 L954.9 821.2 L955.1 821.4 L955.3 821.5 L955.5 821.6 L955.7 821.8 L955.9 821.9 L956 822 L956.2 822.1 L956.4 822.3 L956.6 822.4 L956.8 822.5 L957 822.6 L957.2 822.8 L957.3 822.9 L957.5 823 L957.7 823.1 L957.9 823.2 L958.1 823.3 L958.3 823.4 L958.5 823.5 L958.6 823.6 L958.8 823.7 L959 823.8 L959.2 823.9 L959.4 824 L959.6 824.1 L959.7 824.2 L959.9 824.3 L960.1 824.4 L960.3 824.5 L960.5 824.5 L960.7 824.6 L960.9 824.7 L961 824.8 L961.2 824.9 L961.4 824.9 L961.6 825 L961.8 825.1 L962 825.2 L962.1 825.2 L962.3 825.3 L962.5 825.4 L962.7 825.4 L962.9 825.5 L963.1 825.6 L963.3 825.6 L963.4 825.7 L963.6 825.8 L963.8 825.8 L964 825.9 L964.2 825.9 L964.4 826 L964.6 826 L964.7 826.1 L964.9 826.1 L965.1 826.2 L965.3 826.2 L965.5 826.3 L965.7 826.3 L965.8 826.4 L966 826.4 L966.2 826.5 L966.4 826.5 L966.6 826.6 L966.8 826.6 L967 826.7 L967.1 826.7 L967.3 826.7 L967.5 826.8 L967.7 826.8 L967.9 826.9 L968.1 826.9 L968.3 826.9 L968.4 827 L968.6 827 L968.8 827 L969 827.1 L969.2 827.1 L969.4 827.1 L969.5 827.2 L969.7 827.2 L969.9 827.2 L970.1 827.2 L970.3 827.3 L970.5 827.3 L970.7 827.3 L970.8 827.3 L971 827.4 L971.2 827.4 L971.4 827.4 L971.6 827.4 L971.8 827.5 L972 827.5 L972.1 827.5 L972.3 827.5 L972.5 827.6 L972.7 827.6 L972.9 827.6 L973.1 827.6 L973.2 827.6 L973.4 827.7 L973.6 827.7 L973.8 827.7 L974 827.7 L974.2 827.7 L974.4 827.7 L974.5 827.8 L974.7 827.8 L974.9 827.8 L975.1 827.8 L975.3 827.8 L975.5 827.8 L975.7 827.8 L975.8 827.9 L976 827.9 L976.2 827.9 L976.4 827.9" fill="none" stroke="#c99070" stroke-width="1.8"/><path d="M590 828.3 L590 827.9 L590.2 827.9 L590.4 827.8 L590.6 827.8 L590.8 827.8 L590.9 827.7 L591.1 827.7 L591.3 827.6 L591.5 827.6 L591.7 827.5 L591.9 827.5 L592 827.4 L592.2 827.4 L592.4 827.3 L592.6 827.2 L592.8 827.2 L593 827.1 L593.2 827 L593.3 826.9 L593.5 826.8 L593.7 826.7 L593.9 826.6 L594.1 826.5 L594.3 826.4 L594.5 826.3 L594.6 826.1 L594.8 826 L595 825.8 L595.2 825.7 L595.4 825.5 L595.6 825.4 L595.7 825.2 L595.9 825 L596.1 824.8 L596.3 824.6 L596.5 824.4 L596.7 824.1 L596.9 823.9 L597 823.6 L597.2 823.4 L597.4 823.1 L597.6 822.8 L597.8 822.5 L598 822.2 L598.2 821.8 L598.3 821.5 L598.5 821.1 L598.7 820.7 L598.9 820.3 L599.1 819.9 L599.3 819.4 L599.4 818.9 L599.6 818.5 L599.8 817.9 L600 817.4 L600.2 816.9 L600.4 816.3 L600.6 815.7 L600.7 815.1 L600.9 814.4 L601.1 813.7 L601.3 813 L601.5 812.3 L601.7 811.5 L601.9 810.8 L602 809.9 L602.2 809.1 L602.4 808.2 L602.6 807.3 L602.8 806.4 L603 805.4 L603.1 804.4 L603.3 803.3 L603.5 802.2 L603.7 801.1 L603.9 800 L604.1 798.8 L604.3 797.6 L604.4 796.3 L604.6 795 L604.8 793.7 L605 792.3 L605.2 790.9 L605.4 789.4 L605.6 787.9 L605.7 786.4 L605.9 784.8 L606.1 783.2 L606.3 781.5 L606.5 779.8 L606.7 778 L606.8 776.2 L607 774.4 L607.2 772.5 L607.4 770.6 L607.6 768.7 L607.8 766.6 L608 764.6 L608.1 762.5 L608.3 760.4 L608.5 758.2 L608.7 756 L608.9 753.8 L609.1 751.5 L609.2 749.2 L609.4 746.8 L609.6 744.4 L609.8 742 L610 739.5 L610.2 737 L610.4 734.5 L610.5 731.9 L610.7 729.3 L610.9 726.7 L611.1 724.1 L611.3 721.4 L611.5 718.7 L611.7 716 L611.8 713.2 L612 710.4 L612.2 707.7 L612.4 704.9 L612.6 702.1 L612.8 699.2 L612.9 696.4 L613.1 693.6 L613.3 690.7 L613.5 687.9 L613.7 685 L613.9 682.2 L614.1 679.3 L614.2 676.5 L614.4 673.6 L614.6 670.8 L614.8 668 L615 665.2 L615.2 662.4 L615.4 659.7 L615.5 657 L615.7 654.3 L615.9 651.6 L616.1 648.9 L616.3 646.3 L616.5 643.8 L616.6 641.2 L616.8 638.7 L617 636.3 L617.2 633.9 L617.4 631.5 L617.6 629.2 L617.8 627 L617.9 624.8 L618.1 622.7 L618.3 620.6 L618.5 618.6 L618.7 616.6 L618.9 614.8 L619.1 613 L619.2 611.2 L619.4 609.6 L619.6 608 L619.8 606.5 L620 605.1 L620.2 603.8 L620.3 602.5 L620.5 601.3 L620.7 600.3 L620.9 599.3 L621.1 598.3 L621.3 597.5 L621.5 596.8 L621.6 596.2 L621.8 595.6 L622 595.2 L622.2 594.8 L622.4 594.5 L622.6 594.4 L622.8 594.3 L622.9 594.3 L623.1 594.4 L623.3 594.6 L623.5 594.9 L623.7 595.3 L623.9 595.8 L624 596.4 L624.2 597.1 L624.4 597.8 L624.6 598.7 L624.8 599.6 L625 600.7 L625.2 601.8 L625.3 603 L625.5 604.3 L625.7 605.7 L625.9 607.1 L626.1 608.6 L626.3 610.2 L626.5 611.9 L626.6 613.7 L626.8 615.5 L627 617.4 L627.2 619.4 L627.4 621.4 L627.6 623.5 L627.7 625.7 L627.9 627.9 L628.1 630.1 L628.3 632.5 L628.5 634.8 L628.7 637.2 L628.9 639.7 L629 642.2 L629.2 644.8 L629.4 647.4 L629.6 650 L629.8 652.6 L630 655.3 L630.1 658.1 L630.3 660.8 L630.5 663.6 L630.7 666.3 L630.9 669.1 L631.1 671.9 L631.3 674.8 L631.4 677.6 L631.6 680.5 L631.8 683.3 L632 686.2 L632.2 689 L632.4 691.9 L632.6 694.7 L632.7 697.5 L632.9 700.4 L633.1 703.2 L633.3 706 L633.5 708.8 L633.7 711.6 L633.8 714.3 L634 717 L634.2 719.8 L634.4 722.5 L634.6 725.1 L634.8 727.8 L635 730.4 L635.1 733 L635.3 735.5 L635.5 738 L635.7 740.5 L635.9 743 L636.1 745.4 L636.3 747.8 L636.4 750.1 L636.6 752.4 L636.8 754.7 L637 756.9 L637.2 759.1 L637.4 761.2 L637.5 763.4 L637.7 765.4 L637.9 767.5 L638.1 769.4 L638.3 771.4 L638.5 773.3 L638.7 775.1 L638.8 777 L639 778.7 L639.2 780.5 L639.4 782.2 L639.6 783.8 L639.8 785.4 L640 787 L640.1 788.5 L640.3 790 L640.5 791.4 L640.7 792.8 L640.9 794.2 L641.1 795.5 L641.2 796.8 L641.4 798.1 L641.6 799.3 L641.8 800.4 L642 801.6 L642.2 802.7 L642.4 803.7 L642.5 804.8 L642.7 805.8 L642.9 806.7 L643.1 807.7 L643.3 808.6 L643.5 809.4 L643.7 810.3 L643.8 811.1 L644 811.8 L644.2 812.6 L644.4 813.3 L644.6 814 L644.8 814.7 L644.9 815.3 L645.1 815.9 L645.3 816.5 L645.5 817.1 L645.7 817.6 L645.9 818.2 L646.1 818.7 L646.2 819.1 L646.4 819.6 L646.6 820 L646.8 820.4 L647 820.9 L647.2 821.2 L647.4 821.6 L647.5 822 L647.7 822.3 L647.9 822.6 L648.1 822.9 L648.3 823.2 L648.5 823.5 L648.6 823.7 L648.8 824 L649 824.2 L649.2 824.5 L649.4 824.7 L649.6 824.9 L649.8 825.1 L649.9 825.3 L650.1 825.4 L650.3 825.6 L650.5 825.8 L650.7 825.9 L650.9 826 L651.1 826.2 L651.2 826.3 L651.4 826.4 L651.6 826.5 L651.8 826.7 L652 826.8 L652.2 826.8 L652.3 826.9 L652.5 827 L652.7 827.1 L652.9 827.2 L653.1 827.3 L653.3 827.3 L653.5 827.4 L653.6 827.4 L653.8 827.5 L654 827.6 L654.2 827.6 L654.4 827.6 L654.6 827.7 L654.7 827.7 L654.9 827.8 L655.1 827.8 L655.3 827.8 L655.5 827.9 L655.5 828.3 Z" fill="url(#dg0)" fill-opacity="1.0"/><path d="M590 827.9 L590.2 827.9 L590.4 827.8 L590.6 827.8 L590.8 827.8 L590.9 827.7 L591.1 827.7 L591.3 827.6 L591.5 827.6 L591.7 827.5 L591.9 827.5 L592 827.4 L592.2 827.4 L592.4 827.3 L592.6 827.2 L592.8 827.2 L593 827.1 L593.2 827 L593.3 826.9 L593.5 826.8 L593.7 826.7 L593.9 826.6 L594.1 826.5 L594.3 826.4 L594.5 826.3 L594.6 826.1 L594.8 826 L595 825.8 L595.2 825.7 L595.4 825.5 L595.6 825.4 L595.7 825.2 L595.9 825 L596.1 824.8 L596.3 824.6 L596.5 824.4 L596.7 824.1 L596.9 823.9 L597 823.6 L597.2 823.4 L597.4 823.1 L597.6 822.8 L597.8 822.5 L598 822.2 L598.2 821.8 L598.3 821.5 L598.5 821.1 L598.7 820.7 L598.9 820.3 L599.1 819.9 L599.3 819.4 L599.4 818.9 L599.6 818.5 L599.8 817.9 L600 817.4 L600.2 816.9 L600.4 816.3 L600.6 815.7 L600.7 815.1 L600.9 814.4 L601.1 813.7 L601.3 813 L601.5 812.3 L601.7 811.5 L601.9 810.8 L602 809.9 L602.2 809.1 L602.4 808.2 L602.6 807.3 L602.8 806.4 L603 805.4 L603.1 804.4 L603.3 803.3 L603.5 802.2 L603.7 801.1 L603.9 800 L604.1 798.8 L604.3 797.6 L604.4 796.3 L604.6 795 L604.8 793.7 L605 792.3 L605.2 790.9 L605.4 789.4 L605.6 787.9 L605.7 786.4 L605.9 784.8 L606.1 783.2 L606.3 781.5 L606.5 779.8 L606.7 778 L606.8 776.2 L607 774.4 L607.2 772.5 L607.4 770.6 L607.6 768.7 L607.8 766.6 L608 764.6 L608.1 762.5 L608.3 760.4 L608.5 758.2 L608.7 756 L608.9 753.8 L609.1 751.5 L609.2 749.2 L609.4 746.8 L609.6 744.4 L609.8 742 L610 739.5 L610.2 737 L610.4 734.5 L610.5 731.9 L610.7 729.3 L610.9 726.7 L611.1 724.1 L611.3 721.4 L611.5 718.7 L611.7 716 L611.8 713.2 L612 710.4 L612.2 707.7 L612.4 704.9 L612.6 702.1 L612.8 699.2 L612.9 696.4 L613.1 693.6 L613.3 690.7 L613.5 687.9 L613.7 685 L613.9 682.2 L614.1 679.3 L614.2 676.5 L614.4 673.6 L614.6 670.8 L614.8 668 L615 665.2 L615.2 662.4 L615.4 659.7 L615.5 657 L615.7 654.3 L615.9 651.6 L616.1 648.9 L616.3 646.3 L616.5 643.8 L616.6 641.2 L616.8 638.7 L617 636.3 L617.2 633.9 L617.4 631.5 L617.6 629.2 L617.8 627 L617.9 624.8 L618.1 622.7 L618.3 620.6 L618.5 618.6 L618.7 616.6 L618.9 614.8 L619.1 613 L619.2 611.2 L619.4 609.6 L619.6 608 L619.8 606.5 L620 605.1 L620.2 603.8 L620.3 602.5 L620.5 601.3 L620.7 600.3 L620.9 599.3 L621.1 598.3 L621.3 597.5 L621.5 596.8 L621.6 596.2 L621.8 595.6 L622 595.2 L622.2 594.8 L622.4 594.5 L622.6 594.4 L622.8 594.3 L622.9 594.3 L623.1 594.4 L623.3 594.6 L623.5 594.9 L623.7 595.3 L623.9 595.8 L624 596.4 L624.2 597.1 L624.4 597.8 L624.6 598.7 L624.8 599.6 L625 600.7 L625.2 601.8 L625.3 603 L625.5 604.3 L625.7 605.7 L625.9 607.1 L626.1 608.6 L626.3 610.2 L626.5 611.9 L626.6 613.7 L626.8 615.5 L627 617.4 L627.2 619.4 L627.4 621.4 L627.6 623.5 L627.7 625.7 L627.9 627.9 L628.1 630.1 L628.3 632.5 L628.5 634.8 L628.7 637.2 L628.9 639.7 L629 642.2 L629.2 644.8 L629.4 647.4 L629.6 650 L629.8 652.6 L630 655.3 L630.1 658.1 L630.3 660.8 L630.5 663.6 L630.7 666.3 L630.9 669.1 L631.1 671.9 L631.3 674.8 L631.4 677.6 L631.6 680.5 L631.8 683.3 L632 686.2 L632.2 689 L632.4 691.9 L632.6 694.7 L632.7 697.5 L632.9 700.4 L633.1 703.2 L633.3 706 L633.5 708.8 L633.7 711.6 L633.8 714.3 L634 717 L634.2 719.8 L634.4 722.5 L634.6 725.1 L634.8 727.8 L635 730.4 L635.1 733 L635.3 735.5 L635.5 738 L635.7 740.5 L635.9 743 L636.1 745.4 L636.3 747.8 L636.4 750.1 L636.6 752.4 L636.8 754.7 L637 756.9 L637.2 759.1 L637.4 761.2 L637.5 763.4 L637.7 765.4 L637.9 767.5 L638.1 769.4 L638.3 771.4 L638.5 773.3 L638.7 775.1 L638.8 777 L639 778.7 L639.2 780.5 L639.4 782.2 L639.6 783.8 L639.8 785.4 L640 787 L640.1 788.5 L640.3 790 L640.5 791.4 L640.7 792.8 L640.9 794.2 L641.1 795.5 L641.2 796.8 L641.4 798.1 L641.6 799.3 L641.8 800.4 L642 801.6 L642.2 802.7 L642.4 803.7 L642.5 804.8 L642.7 805.8 L642.9 806.7 L643.1 807.7 L643.3 808.6 L643.5 809.4 L643.7 810.3 L643.8 811.1 L644 811.8 L644.2 812.6 L644.4 813.3 L644.6 814 L644.8 814.7 L644.9 815.3 L645.1 815.9 L645.3 816.5 L645.5 817.1 L645.7 817.6 L645.9 818.2 L646.1 818.7 L646.2 819.1 L646.4 819.6 L646.6 820 L646.8 820.4 L647 820.9 L647.2 821.2 L647.4 821.6 L647.5 822 L647.7 822.3 L647.9 822.6 L648.1 822.9 L648.3 823.2 L648.5 823.5 L648.6 823.7 L648.8 824 L649 824.2 L649.2 824.5 L649.4 824.7 L649.6 824.9 L649.8 825.1 L649.9 825.3 L650.1 825.4 L650.3 825.6 L650.5 825.8 L650.7 825.9 L650.9 826 L651.1 826.2 L651.2 826.3 L651.4 826.4 L651.6 826.5 L651.8 826.7 L652 826.8 L652.2 826.8 L652.3 826.9 L652.5 827 L652.7 827.1 L652.9 827.2 L653.1 827.3 L653.3 827.3 L653.5 827.4 L653.6 827.4 L653.8 827.5 L654 827.6 L654.2 827.6 L654.4 827.6 L654.6 827.7 L654.7 827.7 L654.9 827.8 L655.1 827.8 L655.3 827.8 L655.5 827.9" fill="none" stroke="#ff0000" stroke-width="1.8"/><path d="M599.6 828.3 L599.6 827.9 L599.8 827.9 L600 827.9 L600.2 827.9 L600.4 827.9 L600.6 827.9 L600.7 827.9 L600.9 827.9 L601.1 827.9 L601.3 827.9 L601.5 827.9 L601.7 827.9 L601.9 827.9 L602 827.9 L602.2 827.9 L602.4 827.9 L602.6 827.8 L602.8 827.8 L603 827.8 L603.1 827.8 L603.3 827.8 L603.5 827.8 L603.7 827.8 L603.9 827.8 L604.1 827.8 L604.3 827.8 L604.4 827.8 L604.6 827.8 L604.8 827.8 L605 827.8 L605.2 827.8 L605.4 827.8 L605.6 827.8 L605.7 827.8 L605.9 827.8 L606.1 827.8 L606.3 827.8 L606.5 827.8 L606.7 827.8 L606.8 827.8 L607 827.8 L607.2 827.7 L607.4 827.7 L607.6 827.7 L607.8 827.7 L608 827.7 L608.1 827.7 L608.3 827.7 L608.5 827.7 L608.7 827.7 L608.9 827.7 L609.1 827.7 L609.2 827.7 L609.4 827.7 L609.6 827.7 L609.8 827.7 L610 827.7 L610.2 827.7 L610.4 827.7 L610.5 827.7 L610.7 827.6 L610.9 827.6 L611.1 827.6 L611.3 827.6 L611.5 827.6 L611.7 827.6 L611.8 827.6 L612 827.6 L612.2 827.6 L612.4 827.6 L612.6 827.6 L612.8 827.6 L612.9 827.6 L613.1 827.6 L613.3 827.6 L613.5 827.5 L613.7 827.5 L613.9 827.5 L614.1 827.5 L614.2 827.5 L614.4 827.5 L614.6 827.5 L614.8 827.5 L615 827.5 L615.2 827.5 L615.4 827.5 L615.5 827.5 L615.7 827.4 L615.9 827.4 L616.1 827.4 L616.3 827.4 L616.5 827.4 L616.6 827.4 L616.8 827.4 L617 827.4 L617.2 827.4 L617.4 827.4 L617.6 827.4 L617.8 827.3 L617.9 827.3 L618.1 827.3 L618.3 827.3 L618.5 827.3 L618.7 827.3 L618.9 827.3 L619.1 827.3 L619.2 827.2 L619.4 827.2 L619.6 827.2 L619.8 827.2 L620 827.2 L620.2 827.2 L620.3 827.2 L620.5 827.1 L620.7 827.1 L620.9 827.1 L621.1 827.1 L621.3 827.1 L621.5 827.1 L621.6 827 L621.8 827 L622 827 L622.2 827 L622.4 827 L622.6 826.9 L622.8 826.9 L622.9 826.9 L623.1 826.9 L623.3 826.8 L623.5 826.8 L623.7 826.8 L623.9 826.8 L624 826.7 L624.2 826.7 L624.4 826.7 L624.6 826.6 L624.8 826.6 L625 826.5 L625.2 826.5 L625.3 826.5 L625.5 826.4 L625.7 826.4 L625.9 826.3 L626.1 826.3 L626.3 826.2 L626.5 826.1 L626.6 826.1 L626.8 826 L627 825.9 L627.2 825.9 L627.4 825.8 L627.6 825.7 L627.7 825.6 L627.9 825.5 L628.1 825.4 L628.3 825.3 L628.5 825.2 L628.7 825.1 L628.9 825 L629 824.8 L629.2 824.7 L629.4 824.6 L629.6 824.4 L629.8 824.2 L630 824.1 L630.1 823.9 L630.3 823.7 L630.5 823.5 L630.7 823.3 L630.9 823 L631.1 822.8 L631.3 822.5 L631.4 822.3 L631.6 822 L631.8 821.7 L632 821.4 L632.2 821.1 L632.4 820.7 L632.6 820.4 L632.7 820 L632.9 819.6 L633.1 819.2 L633.3 818.8 L633.5 818.3 L633.7 817.9 L633.8 817.4 L634 816.9 L634.2 816.3 L634.4 815.8 L634.6 815.2 L634.8 814.6 L635 813.9 L635.1 813.3 L635.3 812.6 L635.5 811.9 L635.7 811.2 L635.9 810.4 L636.1 809.6 L636.3 808.8 L636.4 808 L636.6 807.1 L636.8 806.2 L637 805.3 L637.2 804.3 L637.4 803.3 L637.5 802.3 L637.7 801.3 L637.9 800.2 L638.1 799.1 L638.3 798 L638.5 796.8 L638.7 795.6 L638.8 794.4 L639 793.2 L639.2 791.9 L639.4 790.6 L639.6 789.3 L639.8 788 L640 786.6 L640.1 785.2 L640.3 783.8 L640.5 782.4 L640.7 781 L640.9 779.5 L641.1 778 L641.2 776.5 L641.4 775 L641.6 773.5 L641.8 772 L642 770.5 L642.2 768.9 L642.4 767.4 L642.5 765.9 L642.7 764.3 L642.9 762.8 L643.1 761.3 L643.3 759.7 L643.5 758.2 L643.7 756.7 L643.8 755.2 L644 753.7 L644.2 752.3 L644.4 750.8 L644.6 749.4 L644.8 748.1 L644.9 746.7 L645.1 745.4 L645.3 744.1 L645.5 742.8 L645.7 741.6 L645.9 740.5 L646.1 739.3 L646.2 738.3 L646.4 737.2 L646.6 736.3 L646.8 735.4 L647 734.5 L647.2 733.7 L647.4 733 L647.5 732.3 L647.7 731.7 L647.9 731.1 L648.1 730.7 L648.3 730.2 L648.5 729.9 L648.6 729.7 L648.8 729.5 L649 729.3 L649.2 729.3 L649.4 729.3 L649.6 729.4 L649.8 729.6 L649.9 729.9 L650.1 730.2 L650.3 730.6 L650.5 731 L650.7 731.6 L650.9 732.2 L651.1 732.8 L651.2 733.5 L651.4 734.3 L651.6 735.2 L651.8 736.1 L652 737 L652.2 738.1 L652.3 739.1 L652.5 740.2 L652.7 741.4 L652.9 742.6 L653.1 743.8 L653.3 745.1 L653.5 746.4 L653.6 747.8 L653.8 749.2 L654 750.6 L654.2 752 L654.4 753.4 L654.6 754.9 L654.7 756.4 L654.9 757.9 L655.1 759.4 L655.3 760.9 L655.5 762.5 L655.7 764 L655.9 765.6 L656 767.1 L656.2 768.6 L656.4 770.2 L656.6 771.7 L656.8 773.2 L657 774.7 L657.2 776.2 L657.3 777.7 L657.5 779.2 L657.7 780.7 L657.9 782.1 L658.1 783.5 L658.3 784.9 L658.4 786.3 L658.6 787.7 L658.8 789 L659 790.4 L659.2 791.6 L659.4 792.9 L659.6 794.2 L659.7 795.4 L659.9 796.6 L660.1 797.7 L660.3 798.9 L660.5 800 L660.7 801 L660.9 802.1 L661 803.1 L661.2 804.1 L661.4 805.1 L661.6 806 L661.8 806.9 L662 807.8 L662.1 808.6 L662.3 809.5 L662.5 810.3 L662.7 811 L662.9 811.8 L663.1 812.5 L663.3 813.2 L663.4 813.8 L663.6 814.5 L663.8 815.1 L664 815.6 L664.2 816.2 L664.4 816.8 L664.6 817.3 L664.7 817.8 L664.9 818.2 L665.1 818.7 L665.3 819.1 L665.5 819.5 L665.7 819.9 L665.8 820.3 L666 820.7 L666.2 821 L666.4 821.3 L666.6 821.7 L666.8 821.9 L667 822.2 L667.1 822.5 L667.3 822.8 L667.5 823 L667.7 823.2 L667.9 823.4 L668.1 823.6 L668.3 823.8 L668.4 824 L668.6 824.2 L668.8 824.4 L669 824.5 L669.2 824.7 L669.4 824.8 L669.5 824.9 L669.7 825.1 L669.9 825.2 L670.1 825.3 L670.3 825.4 L670.5 825.5 L670.7 825.6 L670.8 825.7 L671 825.8 L671.2 825.9 L671.4 825.9 L671.6 826 L671.8 826.1 L672 826.1 L672.1 826.2 L672.3 826.3 L672.5 826.3 L672.7 826.4 L672.9 826.4 L673.1 826.5 L673.2 826.5 L673.4 826.5 L673.6 826.6 L673.8 826.6 L674 826.7 L674.2 826.7 L674.4 826.7 L674.5 826.8 L674.7 826.8 L674.9 826.8 L675.1 826.8 L675.3 826.9 L675.5 826.9 L675.6 826.9 L675.8 826.9 L676 827 L676.2 827 L676.4 827 L676.6 827 L676.8 827 L676.9 827.1 L677.1 827.1 L677.3 827.1 L677.5 827.1 L677.7 827.1 L677.9 827.1 L678.1 827.2 L678.2 827.2 L678.4 827.2 L678.6 827.2 L678.8 827.2 L679 827.2 L679.2 827.2 L679.3 827.3 L679.5 827.3 L679.7 827.3 L679.9 827.3 L680.1 827.3 L680.3 827.3 L680.5 827.3 L680.6 827.3 L680.8 827.3 L681 827.4 L681.2 827.4 L681.4 827.4 L681.6 827.4 L681.8 827.4 L681.9 827.4 L682.1 827.4 L682.3 827.4 L682.5 827.4 L682.7 827.4 L682.9 827.5 L683 827.5 L683.2 827.5 L683.4 827.5 L683.6 827.5 L683.8 827.5 L684 827.5 L684.2 827.5 L684.3 827.5 L684.5 827.5 L684.7 827.5 L684.9 827.5 L685.1 827.6 L685.3 827.6 L685.5 827.6 L685.6 827.6 L685.8 827.6 L686 827.6 L686.2 827.6 L686.4 827.6 L686.6 827.6 L686.7 827.6 L686.9 827.6 L687.1 827.6 L687.3 827.6 L687.5 827.6 L687.7 827.6 L687.9 827.7 L688 827.7 L688.2 827.7 L688.4 827.7 L688.6 827.7 L688.8 827.7 L689 827.7 L689.2 827.7 L689.3 827.7 L689.5 827.7 L689.7 827.7 L689.9 827.7 L690.1 827.7 L690.3 827.7 L690.4 827.7 L690.6 827.7 L690.8 827.7 L691 827.7 L691.2 827.7 L691.4 827.8 L691.6 827.8 L691.7 827.8 L691.9 827.8 L692.1 827.8 L692.3 827.8 L692.5 827.8 L692.7 827.8 L692.9 827.8 L693 827.8 L693.2 827.8 L693.4 827.8 L693.6 827.8 L693.8 827.8 L694 827.8 L694.1 827.8 L694.3 827.8 L694.5 827.8 L694.7 827.8 L694.9 827.8 L695.1 827.8 L695.3 827.8 L695.4 827.8 L695.6 827.8 L695.8 827.8 L696 827.9 L696.2 827.9 L696.4 827.9 L696.5 827.9 L696.7 827.9 L696.9 827.9 L697.1 827.9 L697.3 827.9 L697.5 827.9 L697.7 827.9 L697.8 827.9 L698 827.9 L698.2 827.9 L698.4 827.9 L698.6 827.9 L698.8 827.9 L698.8 828.3 Z" fill="url(#dg1)" fill-opacity="1.0"/><path d="M599.6 827.9 L599.8 827.9 L600 827.9 L600.2 827.9 L600.4 827.9 L600.6 827.9 L600.7 827.9 L600.9 827.9 L601.1 827.9 L601.3 827.9 L601.5 827.9 L601.7 827.9 L601.9 827.9 L602 827.9 L602.2 827.9 L602.4 827.9 L602.6 827.8 L602.8 827.8 L603 827.8 L603.1 827.8 L603.3 827.8 L603.5 827.8 L603.7 827.8 L603.9 827.8 L604.1 827.8 L604.3 827.8 L604.4 827.8 L604.6 827.8 L604.8 827.8 L605 827.8 L605.2 827.8 L605.4 827.8 L605.6 827.8 L605.7 827.8 L605.9 827.8 L606.1 827.8 L606.3 827.8 L606.5 827.8 L606.7 827.8 L606.8 827.8 L607 827.8 L607.2 827.7 L607.4 827.7 L607.6 827.7 L607.8 827.7 L608 827.7 L608.1 827.7 L608.3 827.7 L608.5 827.7 L608.7 827.7 L608.9 827.7 L609.1 827.7 L609.2 827.7 L609.4 827.7 L609.6 827.7 L609.8 827.7 L610 827.7 L610.2 827.7 L610.4 827.7 L610.5 827.7 L610.7 827.6 L610.9 827.6 L611.1 827.6 L611.3 827.6 L611.5 827.6 L611.7 827.6 L611.8 827.6 L612 827.6 L612.2 827.6 L612.4 827.6 L612.6 827.6 L612.8 827.6 L612.9 827.6 L613.1 827.6 L613.3 827.6 L613.5 827.5 L613.7 827.5 L613.9 827.5 L614.1 827.5 L614.2 827.5 L614.4 827.5 L614.6 827.5 L614.8 827.5 L615 827.5 L615.2 827.5 L615.4 827.5 L615.5 827.5 L615.7 827.4 L615.9 827.4 L616.1 827.4 L616.3 827.4 L616.5 827.4 L616.6 827.4 L616.8 827.4 L617 827.4 L617.2 827.4 L617.4 827.4 L617.6 827.4 L617.8 827.3 L617.9 827.3 L618.1 827.3 L618.3 827.3 L618.5 827.3 L618.7 827.3 L618.9 827.3 L619.1 827.3 L619.2 827.2 L619.4 827.2 L619.6 827.2 L619.8 827.2 L620 827.2 L620.2 827.2 L620.3 827.2 L620.5 827.1 L620.7 827.1 L620.9 827.1 L621.1 827.1 L621.3 827.1 L621.5 827.1 L621.6 827 L621.8 827 L622 827 L622.2 827 L622.4 827 L622.6 826.9 L622.8 826.9 L622.9 826.9 L623.1 826.9 L623.3 826.8 L623.5 826.8 L623.7 826.8 L623.9 826.8 L624 826.7 L624.2 826.7 L624.4 826.7 L624.6 826.6 L624.8 826.6 L625 826.5 L625.2 826.5 L625.3 826.5 L625.5 826.4 L625.7 826.4 L625.9 826.3 L626.1 826.3 L626.3 826.2 L626.5 826.1 L626.6 826.1 L626.8 826 L627 825.9 L627.2 825.9 L627.4 825.8 L627.6 825.7 L627.7 825.6 L627.9 825.5 L628.1 825.4 L628.3 825.3 L628.5 825.2 L628.7 825.1 L628.9 825 L629 824.8 L629.2 824.7 L629.4 824.6 L629.6 824.4 L629.8 824.2 L630 824.1 L630.1 823.9 L630.3 823.7 L630.5 823.5 L630.7 823.3 L630.9 823 L631.1 822.8 L631.3 822.5 L631.4 822.3 L631.6 822 L631.8 821.7 L632 821.4 L632.2 821.1 L632.4 820.7 L632.6 820.4 L632.7 820 L632.9 819.6 L633.1 819.2 L633.3 818.8 L633.5 818.3 L633.7 817.9 L633.8 817.4 L634 816.9 L634.2 816.3 L634.4 815.8 L634.6 815.2 L634.8 814.6 L635 813.9 L635.1 813.3 L635.3 812.6 L635.5 811.9 L635.7 811.2 L635.9 810.4 L636.1 809.6 L636.3 808.8 L636.4 808 L636.6 807.1 L636.8 806.2 L637 805.3 L637.2 804.3 L637.4 803.3 L637.5 802.3 L637.7 801.3 L637.9 800.2 L638.1 799.1 L638.3 798 L638.5 796.8 L638.7 795.6 L638.8 794.4 L639 793.2 L639.2 791.9 L639.4 790.6 L639.6 789.3 L639.8 788 L640 786.6 L640.1 785.2 L640.3 783.8 L640.5 782.4 L640.7 781 L640.9 779.5 L641.1 778 L641.2 776.5 L641.4 775 L641.6 773.5 L641.8 772 L642 770.5 L642.2 768.9 L642.4 767.4 L642.5 765.9 L642.7 764.3 L642.9 762.8 L643.1 761.3 L643.3 759.7 L643.5 758.2 L643.7 756.7 L643.8 755.2 L644 753.7 L644.2 752.3 L644.4 750.8 L644.6 749.4 L644.8 748.1 L644.9 746.7 L645.1 745.4 L645.3 744.1 L645.5 742.8 L645.7 741.6 L645.9 740.5 L646.1 739.3 L646.2 738.3 L646.4 737.2 L646.6 736.3 L646.8 735.4 L647 734.5 L647.2 733.7 L647.4 733 L647.5 732.3 L647.7 731.7 L647.9 731.1 L648.1 730.7 L648.3 730.2 L648.5 729.9 L648.6 729.7 L648.8 729.5 L649 729.3 L649.2 729.3 L649.4 729.3 L649.6 729.4 L649.8 729.6 L649.9 729.9 L650.1 730.2 L650.3 730.6 L650.5 731 L650.7 731.6 L650.9 732.2 L651.1 732.8 L651.2 733.5 L651.4 734.3 L651.6 735.2 L651.8 736.1 L652 737 L652.2 738.1 L652.3 739.1 L652.5 740.2 L652.7 741.4 L652.9 742.6 L653.1 743.8 L653.3 745.1 L653.5 746.4 L653.6 747.8 L653.8 749.2 L654 750.6 L654.2 752 L654.4 753.4 L654.6 754.9 L654.7 756.4 L654.9 757.9 L655.1 759.4 L655.3 760.9 L655.5 762.5 L655.7 764 L655.9 765.6 L656 767.1 L656.2 768.6 L656.4 770.2 L656.6 771.7 L656.8 773.2 L657 774.7 L657.2 776.2 L657.3 777.7 L657.5 779.2 L657.7 780.7 L657.9 782.1 L658.1 783.5 L658.3 784.9 L658.4 786.3 L658.6 787.7 L658.8 789 L659 790.4 L659.2 791.6 L659.4 792.9 L659.6 794.2 L659.7 795.4 L659.9 796.6 L660.1 797.7 L660.3 798.9 L660.5 800 L660.7 801 L660.9 802.1 L661 803.1 L661.2 804.1 L661.4 805.1 L661.6 806 L661.8 806.9 L662 807.8 L662.1 808.6 L662.3 809.5 L662.5 810.3 L662.7 811 L662.9 811.8 L663.1 812.5 L663.3 813.2 L663.4 813.8 L663.6 814.5 L663.8 815.1 L664 815.6 L664.2 816.2 L664.4 816.8 L664.6 817.3 L664.7 817.8 L664.9 818.2 L665.1 818.7 L665.3 819.1 L665.5 819.5 L665.7 819.9 L665.8 820.3 L666 820.7 L666.2 821 L666.4 821.3 L666.6 821.7 L666.8 821.9 L667 822.2 L667.1 822.5 L667.3 822.8 L667.5 823 L667.7 823.2 L667.9 823.4 L668.1 823.6 L668.3 823.8 L668.4 824 L668.6 824.2 L668.8 824.4 L669 824.5 L669.2 824.7 L669.4 824.8 L669.5 824.9 L669.7 825.1 L669.9 825.2 L670.1 825.3 L670.3 825.4 L670.5 825.5 L670.7 825.6 L670.8 825.7 L671 825.8 L671.2 825.9 L671.4 825.9 L671.6 826 L671.8 826.1 L672 826.1 L672.1 826.2 L672.3 826.3 L672.5 826.3 L672.7 826.4 L672.9 826.4 L673.1 826.5 L673.2 826.5 L673.4 826.5 L673.6 826.6 L673.8 826.6 L674 826.7 L674.2 826.7 L674.4 826.7 L674.5 826.8 L674.7 826.8 L674.9 826.8 L675.1 826.8 L675.3 826.9 L675.5 826.9 L675.6 826.9 L675.8 826.9 L676 827 L676.2 827 L676.4 827 L676.6 827 L676.8 827 L676.9 827.1 L677.1 827.1 L677.3 827.1 L677.5 827.1 L677.7 827.1 L677.9 827.1 L678.1 827.2 L678.2 827.2 L678.4 827.2 L678.6 827.2 L678.8 827.2 L679 827.2 L679.2 827.2 L679.3 827.3 L679.5 827.3 L679.7 827.3 L679.9 827.3 L680.1 827.3 L680.3 827.3 L680.5 827.3 L680.6 827.3 L680.8 827.3 L681 827.4 L681.2 827.4 L681.4 827.4 L681.6 827.4 L681.8 827.4 L681.9 827.4 L682.1 827.4 L682.3 827.4 L682.5 827.4 L682.7 827.4 L682.9 827.5 L683 827.5 L683.2 827.5 L683.4 827.5 L683.6 827.5 L683.8 827.5 L684 827.5 L684.2 827.5 L684.3 827.5 L684.5 827.5 L684.7 827.5 L684.9 827.5 L685.1 827.6 L685.3 827.6 L685.5 827.6 L685.6 827.6 L685.8 827.6 L686 827.6 L686.2 827.6 L686.4 827.6 L686.6 827.6 L686.7 827.6 L686.9 827.6 L687.1 827.6 L687.3 827.6 L687.5 827.6 L687.7 827.6 L687.9 827.7 L688 827.7 L688.2 827.7 L688.4 827.7 L688.6 827.7 L688.8 827.7 L689 827.7 L689.2 827.7 L689.3 827.7 L689.5 827.7 L689.7 827.7 L689.9 827.7 L690.1 827.7 L690.3 827.7 L690.4 827.7 L690.6 827.7 L690.8 827.7 L691 827.7 L691.2 827.7 L691.4 827.8 L691.6 827.8 L691.7 827.8 L691.9 827.8 L692.1 827.8 L692.3 827.8 L692.5 827.8 L692.7 827.8 L692.9 827.8 L693 827.8 L693.2 827.8 L693.4 827.8 L693.6 827.8 L693.8 827.8 L694 827.8 L694.1 827.8 L694.3 827.8 L694.5 827.8 L694.7 827.8 L694.9 827.8 L695.1 827.8 L695.3 827.8 L695.4 827.8 L695.6 827.8 L695.8 827.8 L696 827.9 L696.2 827.9 L696.4 827.9 L696.5 827.9 L696.7 827.9 L696.9 827.9 L697.1 827.9 L697.3 827.9 L697.5 827.9 L697.7 827.9 L697.8 827.9 L698 827.9 L698.2 827.9 L698.4 827.9 L698.6 827.9 L698.8 827.9" fill="none" stroke="#ff0000" stroke-width="1.8"/><path d="M625.2 828.3 L625.2 827.9 L625.3 827.9 L625.5 827.9 L625.7 827.9 L625.9 827.9 L626.1 827.9 L626.3 827.9 L626.5 827.9 L626.6 827.9 L626.8 827.9 L627 827.9 L627.2 827.9 L627.4 827.9 L627.6 827.9 L627.7 827.9 L627.9 827.8 L628.1 827.8 L628.3 827.8 L628.5 827.8 L628.7 827.8 L628.9 827.8 L629 827.8 L629.2 827.8 L629.4 827.8 L629.6 827.8 L629.8 827.8 L630 827.8 L630.1 827.8 L630.3 827.8 L630.5 827.8 L630.7 827.8 L630.9 827.8 L631.1 827.8 L631.3 827.8 L631.4 827.8 L631.6 827.8 L631.8 827.8 L632 827.8 L632.2 827.8 L632.4 827.7 L632.6 827.7 L632.7 827.7 L632.9 827.7 L633.1 827.7 L633.3 827.7 L633.5 827.7 L633.7 827.7 L633.8 827.7 L634 827.7 L634.2 827.7 L634.4 827.7 L634.6 827.7 L634.8 827.7 L635 827.7 L635.1 827.7 L635.3 827.7 L635.5 827.7 L635.7 827.6 L635.9 827.6 L636.1 827.6 L636.3 827.6 L636.4 827.6 L636.6 827.6 L636.8 827.6 L637 827.6 L637.2 827.6 L637.4 827.6 L637.5 827.6 L637.7 827.6 L637.9 827.6 L638.1 827.6 L638.3 827.5 L638.5 827.5 L638.7 827.5 L638.8 827.5 L639 827.5 L639.2 827.5 L639.4 827.5 L639.6 827.5 L639.8 827.5 L640 827.5 L640.1 827.5 L640.3 827.4 L640.5 827.4 L640.7 827.4 L640.9 827.4 L641.1 827.4 L641.2 827.4 L641.4 827.4 L641.6 827.4 L641.8 827.3 L642 827.3 L642.2 827.3 L642.4 827.3 L642.5 827.3 L642.7 827.3 L642.9 827.2 L643.1 827.2 L643.3 827.2 L643.5 827.2 L643.7 827.2 L643.8 827.1 L644 827.1 L644.2 827.1 L644.4 827.1 L644.6 827 L644.8 827 L644.9 827 L645.1 827 L645.3 826.9 L645.5 826.9 L645.7 826.9 L645.9 826.8 L646.1 826.8 L646.2 826.7 L646.4 826.7 L646.6 826.7 L646.8 826.6 L647 826.6 L647.2 826.5 L647.4 826.5 L647.5 826.4 L647.7 826.3 L647.9 826.3 L648.1 826.2 L648.3 826.2 L648.5 826.1 L648.6 826 L648.8 825.9 L649 825.9 L649.2 825.8 L649.4 825.7 L649.6 825.6 L649.8 825.5 L649.9 825.4 L650.1 825.3 L650.3 825.2 L650.5 825.1 L650.7 824.9 L650.9 824.8 L651.1 824.7 L651.2 824.5 L651.4 824.4 L651.6 824.2 L651.8 824.1 L652 823.9 L652.2 823.7 L652.3 823.5 L652.5 823.3 L652.7 823.1 L652.9 822.9 L653.1 822.7 L653.3 822.5 L653.5 822.3 L653.6 822 L653.8 821.8 L654 821.5 L654.2 821.2 L654.4 820.9 L654.6 820.6 L654.7 820.3 L654.9 820 L655.1 819.7 L655.3 819.3 L655.5 819 L655.7 818.6 L655.9 818.2 L656 817.9 L656.2 817.5 L656.4 817 L656.6 816.6 L656.8 816.2 L657 815.7 L657.2 815.2 L657.3 814.7 L657.5 814.3 L657.7 813.7 L657.9 813.2 L658.1 812.7 L658.3 812.1 L658.4 811.5 L658.6 811 L658.8 810.4 L659 809.8 L659.2 809.1 L659.4 808.5 L659.6 807.8 L659.7 807.2 L659.9 806.5 L660.1 805.8 L660.3 805.1 L660.5 804.4 L660.7 803.6 L660.9 802.9 L661 802.1 L661.2 801.3 L661.4 800.6 L661.6 799.8 L661.8 799 L662 798.1 L662.1 797.3 L662.3 796.5 L662.5 795.6 L662.7 794.8 L662.9 793.9 L663.1 793.1 L663.3 792.2 L663.4 791.3 L663.6 790.4 L663.8 789.5 L664 788.7 L664.2 787.8 L664.4 786.9 L664.6 786 L664.7 785.1 L664.9 784.2 L665.1 783.3 L665.3 782.4 L665.5 781.5 L665.7 780.7 L665.8 779.8 L666 778.9 L666.2 778.1 L666.4 777.2 L666.6 776.4 L666.8 775.6 L667 774.7 L667.1 773.9 L667.3 773.2 L667.5 772.4 L667.7 771.6 L667.9 770.9 L668.1 770.2 L668.3 769.5 L668.4 768.8 L668.6 768.2 L668.8 767.5 L669 766.9 L669.2 766.4 L669.4 765.8 L669.5 765.3 L669.7 764.8 L669.9 764.3 L670.1 763.9 L670.3 763.5 L670.5 763.1 L670.7 762.8 L670.8 762.5 L671 762.2 L671.2 762 L671.4 761.8 L671.6 761.6 L671.8 761.5 L672 761.4 L672.1 761.3 L672.3 761.3 L672.5 761.3 L672.7 761.4 L672.9 761.5 L673.1 761.6 L673.2 761.7 L673.4 761.9 L673.6 762.2 L673.8 762.4 L674 762.7 L674.2 763.1 L674.4 763.4 L674.5 763.8 L674.7 764.3 L674.9 764.7 L675.1 765.2 L675.3 765.7 L675.5 766.3 L675.6 766.9 L675.8 767.5 L676 768.1 L676.2 768.7 L676.4 769.4 L676.6 770.1 L676.8 770.8 L676.9 771.6 L677.1 772.3 L677.3 773.1 L677.5 773.9 L677.7 774.7 L677.9 775.5 L678.1 776.3 L678.2 777.1 L678.4 778 L678.6 778.8 L678.8 779.7 L679 780.6 L679.2 781.5 L679.3 782.3 L679.5 783.2 L679.7 784.1 L679.9 785 L680.1 785.9 L680.3 786.8 L680.5 787.7 L680.6 788.6 L680.8 789.5 L681 790.3 L681.2 791.2 L681.4 792.1 L681.6 793 L681.8 793.8 L681.9 794.7 L682.1 795.6 L682.3 796.4 L682.5 797.2 L682.7 798.1 L682.9 798.9 L683 799.7 L683.2 800.5 L683.4 801.3 L683.6 802 L683.8 802.8 L684 803.5 L684.2 804.3 L684.3 805 L684.5 805.7 L684.7 806.4 L684.9 807.1 L685.1 807.8 L685.3 808.4 L685.5 809.1 L685.6 809.7 L685.8 810.3 L686 810.9 L686.2 811.5 L686.4 812.1 L686.6 812.6 L686.7 813.2 L686.9 813.7 L687.1 814.2 L687.3 814.7 L687.5 815.2 L687.7 815.7 L687.9 816.1 L688 816.6 L688.2 817 L688.4 817.4 L688.6 817.8 L688.8 818.2 L689 818.6 L689.2 819 L689.3 819.3 L689.5 819.6 L689.7 820 L689.9 820.3 L690.1 820.6 L690.3 820.9 L690.4 821.2 L690.6 821.5 L690.8 821.7 L691 822 L691.2 822.2 L691.4 822.5 L691.6 822.7 L691.7 822.9 L691.9 823.1 L692.1 823.3 L692.3 823.5 L692.5 823.7 L692.7 823.9 L692.9 824 L693 824.2 L693.2 824.4 L693.4 824.5 L693.6 824.6 L693.8 824.8 L694 824.9 L694.1 825 L694.3 825.2 L694.5 825.3 L694.7 825.4 L694.9 825.5 L695.1 825.6 L695.3 825.7 L695.4 825.8 L695.6 825.8 L695.8 825.9 L696 826 L696.2 826.1 L696.4 826.2 L696.5 826.2 L696.7 826.3 L696.9 826.3 L697.1 826.4 L697.3 826.5 L697.5 826.5 L697.7 826.6 L697.8 826.6 L698 826.7 L698.2 826.7 L698.4 826.7 L698.6 826.8 L698.8 826.8 L699 826.9 L699.1 826.9 L699.3 826.9 L699.5 827 L699.7 827 L699.9 827 L700.1 827 L700.2 827.1 L700.4 827.1 L700.6 827.1 L700.8 827.1 L701 827.2 L701.2 827.2 L701.4 827.2 L701.5 827.2 L701.7 827.2 L701.9 827.3 L702.1 827.3 L702.3 827.3 L702.5 827.3 L702.7 827.3 L702.8 827.3 L703 827.3 L703.2 827.4 L703.4 827.4 L703.6 827.4 L703.8 827.4 L703.9 827.4 L704.1 827.4 L704.3 827.4 L704.5 827.4 L704.7 827.5 L704.9 827.5 L705.1 827.5 L705.2 827.5 L705.4 827.5 L705.6 827.5 L705.8 827.5 L706 827.5 L706.2 827.5 L706.4 827.5 L706.5 827.6 L706.7 827.6 L706.9 827.6 L707.1 827.6 L707.3 827.6 L707.5 827.6 L707.6 827.6 L707.8 827.6 L708 827.6 L708.2 827.6 L708.4 827.6 L708.6 827.6 L708.8 827.6 L708.9 827.6 L709.1 827.7 L709.3 827.7 L709.5 827.7 L709.7 827.7 L709.9 827.7 L710.1 827.7 L710.2 827.7 L710.4 827.7 L710.6 827.7 L710.8 827.7 L711 827.7 L711.2 827.7 L711.3 827.7 L711.5 827.7 L711.7 827.7 L711.9 827.7 L712.1 827.7 L712.3 827.7 L712.5 827.8 L712.6 827.8 L712.8 827.8 L713 827.8 L713.2 827.8 L713.4 827.8 L713.6 827.8 L713.8 827.8 L713.9 827.8 L714.1 827.8 L714.3 827.8 L714.5 827.8 L714.7 827.8 L714.9 827.8 L715 827.8 L715.2 827.8 L715.4 827.8 L715.6 827.8 L715.8 827.8 L716 827.8 L716.2 827.8 L716.3 827.8 L716.5 827.8 L716.7 827.8 L716.9 827.9 L717.1 827.9 L717.3 827.9 L717.5 827.9 L717.6 827.9 L717.8 827.9 L718 827.9 L718.2 827.9 L718.4 827.9 L718.6 827.9 L718.7 827.9 L718.9 827.9 L719.1 827.9 L719.3 827.9 L719.5 827.9 L719.5 828.3 Z" fill="url(#dg2)" fill-opacity="1.0"/><path d="M625.2 827.9 L625.3 827.9 L625.5 827.9 L625.7 827.9 L625.9 827.9 L626.1 827.9 L626.3 827.9 L626.5 827.9 L626.6 827.9 L626.8 827.9 L627 827.9 L627.2 827.9 L627.4 827.9 L627.6 827.9 L627.7 827.9 L627.9 827.8 L628.1 827.8 L628.3 827.8 L628.5 827.8 L628.7 827.8 L628.9 827.8 L629 827.8 L629.2 827.8 L629.4 827.8 L629.6 827.8 L629.8 827.8 L630 827.8 L630.1 827.8 L630.3 827.8 L630.5 827.8 L630.7 827.8 L630.9 827.8 L631.1 827.8 L631.3 827.8 L631.4 827.8 L631.6 827.8 L631.8 827.8 L632 827.8 L632.2 827.8 L632.4 827.7 L632.6 827.7 L632.7 827.7 L632.9 827.7 L633.1 827.7 L633.3 827.7 L633.5 827.7 L633.7 827.7 L633.8 827.7 L634 827.7 L634.2 827.7 L634.4 827.7 L634.6 827.7 L634.8 827.7 L635 827.7 L635.1 827.7 L635.3 827.7 L635.5 827.7 L635.7 827.6 L635.9 827.6 L636.1 827.6 L636.3 827.6 L636.4 827.6 L636.6 827.6 L636.8 827.6 L637 827.6 L637.2 827.6 L637.4 827.6 L637.5 827.6 L637.7 827.6 L637.9 827.6 L638.1 827.6 L638.3 827.5 L638.5 827.5 L638.7 827.5 L638.8 827.5 L639 827.5 L639.2 827.5 L639.4 827.5 L639.6 827.5 L639.8 827.5 L640 827.5 L640.1 827.5 L640.3 827.4 L640.5 827.4 L640.7 827.4 L640.9 827.4 L641.1 827.4 L641.2 827.4 L641.4 827.4 L641.6 827.4 L641.8 827.3 L642 827.3 L642.2 827.3 L642.4 827.3 L642.5 827.3 L642.7 827.3 L642.9 827.2 L643.1 827.2 L643.3 827.2 L643.5 827.2 L643.7 827.2 L643.8 827.1 L644 827.1 L644.2 827.1 L644.4 827.1 L644.6 827 L644.8 827 L644.9 827 L645.1 827 L645.3 826.9 L645.5 826.9 L645.7 826.9 L645.9 826.8 L646.1 826.8 L646.2 826.7 L646.4 826.7 L646.6 826.7 L646.8 826.6 L647 826.6 L647.2 826.5 L647.4 826.5 L647.5 826.4 L647.7 826.3 L647.9 826.3 L648.1 826.2 L648.3 826.2 L648.5 826.1 L648.6 826 L648.8 825.9 L649 825.9 L649.2 825.8 L649.4 825.7 L649.6 825.6 L649.8 825.5 L649.9 825.4 L650.1 825.3 L650.3 825.2 L650.5 825.1 L650.7 824.9 L650.9 824.8 L651.1 824.7 L651.2 824.5 L651.4 824.4 L651.6 824.2 L651.8 824.1 L652 823.9 L652.2 823.7 L652.3 823.5 L652.5 823.3 L652.7 823.1 L652.9 822.9 L653.1 822.7 L653.3 822.5 L653.5 822.3 L653.6 822 L653.8 821.8 L654 821.5 L654.2 821.2 L654.4 820.9 L654.6 820.6 L654.7 820.3 L654.9 820 L655.1 819.7 L655.3 819.3 L655.5 819 L655.7 818.6 L655.9 818.2 L656 817.9 L656.2 817.5 L656.4 817 L656.6 816.6 L656.8 816.2 L657 815.7 L657.2 815.2 L657.3 814.7 L657.5 814.3 L657.7 813.7 L657.9 813.2 L658.1 812.7 L658.3 812.1 L658.4 811.5 L658.6 811 L658.8 810.4 L659 809.8 L659.2 809.1 L659.4 808.5 L659.6 807.8 L659.7 807.2 L659.9 806.5 L660.1 805.8 L660.3 805.1 L660.5 804.4 L660.7 803.6 L660.9 802.9 L661 802.1 L661.2 801.3 L661.4 800.6 L661.6 799.8 L661.8 799 L662 798.1 L662.1 797.3 L662.3 796.5 L662.5 795.6 L662.7 794.8 L662.9 793.9 L663.1 793.1 L663.3 792.2 L663.4 791.3 L663.6 790.4 L663.8 789.5 L664 788.7 L664.2 787.8 L664.4 786.9 L664.6 786 L664.7 785.1 L664.9 784.2 L665.1 783.3 L665.3 782.4 L665.5 781.5 L665.7 780.7 L665.8 779.8 L666 778.9 L666.2 778.1 L666.4 777.2 L666.6 776.4 L666.8 775.6 L667 774.7 L667.1 773.9 L667.3 773.2 L667.5 772.4 L667.7 771.6 L667.9 770.9 L668.1 770.2 L668.3 769.5 L668.4 768.8 L668.6 768.2 L668.8 767.5 L669 766.9 L669.2 766.4 L669.4 765.8 L669.5 765.3 L669.7 764.8 L669.9 764.3 L670.1 763.9 L670.3 763.5 L670.5 763.1 L670.7 762.8 L670.8 762.5 L671 762.2 L671.2 762 L671.4 761.8 L671.6 761.6 L671.8 761.5 L672 761.4 L672.1 761.3 L672.3 761.3 L672.5 761.3 L672.7 761.4 L672.9 761.5 L673.1 761.6 L673.2 761.7 L673.4 761.9 L673.6 762.2 L673.8 762.4 L674 762.7 L674.2 763.1 L674.4 763.4 L674.5 763.8 L674.7 764.3 L674.9 764.7 L675.1 765.2 L675.3 765.7 L675.5 766.3 L675.6 766.9 L675.8 767.5 L676 768.1 L676.2 768.7 L676.4 769.4 L676.6 770.1 L676.8 770.8 L676.9 771.6 L677.1 772.3 L677.3 773.1 L677.5 773.9 L677.7 774.7 L677.9 775.5 L678.1 776.3 L678.2 777.1 L678.4 778 L678.6 778.8 L678.8 779.7 L679 780.6 L679.2 781.5 L679.3 782.3 L679.5 783.2 L679.7 784.1 L679.9 785 L680.1 785.9 L680.3 786.8 L680.5 787.7 L680.6 788.6 L680.8 789.5 L681 790.3 L681.2 791.2 L681.4 792.1 L681.6 793 L681.8 793.8 L681.9 794.7 L682.1 795.6 L682.3 796.4 L682.5 797.2 L682.7 798.1 L682.9 798.9 L683 799.7 L683.2 800.5 L683.4 801.3 L683.6 802 L683.8 802.8 L684 803.5 L684.2 804.3 L684.3 805 L684.5 805.7 L684.7 806.4 L684.9 807.1 L685.1 807.8 L685.3 808.4 L685.5 809.1 L685.6 809.7 L685.8 810.3 L686 810.9 L686.2 811.5 L686.4 812.1 L686.6 812.6 L686.7 813.2 L686.9 813.7 L687.1 814.2 L687.3 814.7 L687.5 815.2 L687.7 815.7 L687.9 816.1 L688 816.6 L688.2 817 L688.4 817.4 L688.6 817.8 L688.8 818.2 L689 818.6 L689.2 819 L689.3 819.3 L689.5 819.6 L689.7 820 L689.9 820.3 L690.1 820.6 L690.3 820.9 L690.4 821.2 L690.6 821.5 L690.8 821.7 L691 822 L691.2 822.2 L691.4 822.5 L691.6 822.7 L691.7 822.9 L691.9 823.1 L692.1 823.3 L692.3 823.5 L692.5 823.7 L692.7 823.9 L692.9 824 L693 824.2 L693.2 824.4 L693.4 824.5 L693.6 824.6 L693.8 824.8 L694 824.9 L694.1 825 L694.3 825.2 L694.5 825.3 L694.7 825.4 L694.9 825.5 L695.1 825.6 L695.3 825.7 L695.4 825.8 L695.6 825.8 L695.8 825.9 L696 826 L696.2 826.1 L696.4 826.2 L696.5 826.2 L696.7 826.3 L696.9 826.3 L697.1 826.4 L697.3 826.5 L697.5 826.5 L697.7 826.6 L697.8 826.6 L698 826.7 L698.2 826.7 L698.4 826.7 L698.6 826.8 L698.8 826.8 L699 826.9 L699.1 826.9 L699.3 826.9 L699.5 827 L699.7 827 L699.9 827 L700.1 827 L700.2 827.1 L700.4 827.1 L700.6 827.1 L700.8 827.1 L701 827.2 L701.2 827.2 L701.4 827.2 L701.5 827.2 L701.7 827.2 L701.9 827.3 L702.1 827.3 L702.3 827.3 L702.5 827.3 L702.7 827.3 L702.8 827.3 L703 827.3 L703.2 827.4 L703.4 827.4 L703.6 827.4 L703.8 827.4 L703.9 827.4 L704.1 827.4 L704.3 827.4 L704.5 827.4 L704.7 827.5 L704.9 827.5 L705.1 827.5 L705.2 827.5 L705.4 827.5 L705.6 827.5 L705.8 827.5 L706 827.5 L706.2 827.5 L706.4 827.5 L706.5 827.6 L706.7 827.6 L706.9 827.6 L707.1 827.6 L707.3 827.6 L707.5 827.6 L707.6 827.6 L707.8 827.6 L708 827.6 L708.2 827.6 L708.4 827.6 L708.6 827.6 L708.8 827.6 L708.9 827.6 L709.1 827.7 L709.3 827.7 L709.5 827.7 L709.7 827.7 L709.9 827.7 L710.1 827.7 L710.2 827.7 L710.4 827.7 L710.6 827.7 L710.8 827.7 L711 827.7 L711.2 827.7 L711.3 827.7 L711.5 827.7 L711.7 827.7 L711.9 827.7 L712.1 827.7 L712.3 827.7 L712.5 827.8 L712.6 827.8 L712.8 827.8 L713 827.8 L713.2 827.8 L713.4 827.8 L713.6 827.8 L713.8 827.8 L713.9 827.8 L714.1 827.8 L714.3 827.8 L714.5 827.8 L714.7 827.8 L714.9 827.8 L715 827.8 L715.2 827.8 L715.4 827.8 L715.6 827.8 L715.8 827.8 L716 827.8 L716.2 827.8 L716.3 827.8 L716.5 827.8 L716.7 827.8 L716.9 827.9 L717.1 827.9 L717.3 827.9 L717.5 827.9 L717.6 827.9 L717.8 827.9 L718 827.9 L718.2 827.9 L718.4 827.9 L718.6 827.9 L718.7 827.9 L718.9 827.9 L719.1 827.9 L719.3 827.9 L719.5 827.9" fill="none" stroke="#ff0000" stroke-width="1.8"/><path d="M649 828.3 L649 827.9 L649.2 827.9 L649.4 827.9 L649.6 827.9 L649.8 827.9 L649.9 827.9 L650.1 827.9 L650.3 827.9 L650.5 827.9 L650.7 827.9 L650.9 827.9 L651.1 827.9 L651.2 827.9 L651.4 827.9 L651.6 827.9 L651.8 827.8 L652 827.8 L652.2 827.8 L652.3 827.8 L652.5 827.8 L652.7 827.8 L652.9 827.8 L653.1 827.8 L653.3 827.8 L653.5 827.8 L653.6 827.8 L653.8 827.8 L654 827.8 L654.2 827.8 L654.4 827.8 L654.6 827.8 L654.7 827.8 L654.9 827.8 L655.1 827.8 L655.3 827.8 L655.5 827.8 L655.7 827.8 L655.9 827.8 L656 827.8 L656.2 827.7 L656.4 827.7 L656.6 827.7 L656.8 827.7 L657 827.7 L657.2 827.7 L657.3 827.7 L657.5 827.7 L657.7 827.7 L657.9 827.7 L658.1 827.7 L658.3 827.7 L658.4 827.7 L658.6 827.7 L658.8 827.7 L659 827.7 L659.2 827.7 L659.4 827.7 L659.6 827.6 L659.7 827.6 L659.9 827.6 L660.1 827.6 L660.3 827.6 L660.5 827.6 L660.7 827.6 L660.9 827.6 L661 827.6 L661.2 827.6 L661.4 827.6 L661.6 827.6 L661.8 827.6 L662 827.6 L662.1 827.6 L662.3 827.5 L662.5 827.5 L662.7 827.5 L662.9 827.5 L663.1 827.5 L663.3 827.5 L663.4 827.5 L663.6 827.5 L663.8 827.5 L664 827.5 L664.2 827.5 L664.4 827.4 L664.6 827.4 L664.7 827.4 L664.9 827.4 L665.1 827.4 L665.3 827.4 L665.5 827.4 L665.7 827.4 L665.8 827.4 L666 827.4 L666.2 827.3 L666.4 827.3 L666.6 827.3 L666.8 827.3 L667 827.3 L667.1 827.3 L667.3 827.3 L667.5 827.3 L667.7 827.2 L667.9 827.2 L668.1 827.2 L668.3 827.2 L668.4 827.2 L668.6 827.2 L668.8 827.1 L669 827.1 L669.2 827.1 L669.4 827.1 L669.5 827.1 L669.7 827 L669.9 827 L670.1 827 L670.3 827 L670.5 826.9 L670.7 826.9 L670.8 826.9 L671 826.9 L671.2 826.8 L671.4 826.8 L671.6 826.8 L671.8 826.7 L672 826.7 L672.1 826.6 L672.3 826.6 L672.5 826.6 L672.7 826.5 L672.9 826.5 L673.1 826.4 L673.2 826.4 L673.4 826.3 L673.6 826.2 L673.8 826.2 L674 826.1 L674.2 826 L674.4 826 L674.5 825.9 L674.7 825.8 L674.9 825.7 L675.1 825.6 L675.3 825.5 L675.5 825.4 L675.6 825.3 L675.8 825.2 L676 825.1 L676.2 824.9 L676.4 824.8 L676.6 824.7 L676.8 824.5 L676.9 824.4 L677.1 824.2 L677.3 824 L677.5 823.8 L677.7 823.6 L677.9 823.4 L678.1 823.2 L678.2 823 L678.4 822.8 L678.6 822.5 L678.8 822.2 L679 822 L679.2 821.7 L679.3 821.4 L679.5 821.1 L679.7 820.7 L679.9 820.4 L680.1 820 L680.3 819.6 L680.5 819.3 L680.6 818.8 L680.8 818.4 L681 818 L681.2 817.5 L681.4 817 L681.6 816.5 L681.8 816 L681.9 815.4 L682.1 814.9 L682.3 814.3 L682.5 813.7 L682.7 813 L682.9 812.4 L683 811.7 L683.2 811 L683.4 810.3 L683.6 809.6 L683.8 808.8 L684 808 L684.2 807.2 L684.3 806.4 L684.5 805.5 L684.7 804.6 L684.9 803.7 L685.1 802.8 L685.3 801.8 L685.5 800.9 L685.6 799.9 L685.8 798.8 L686 797.8 L686.2 796.7 L686.4 795.7 L686.6 794.5 L686.7 793.4 L686.9 792.3 L687.1 791.1 L687.3 790 L687.5 788.8 L687.7 787.6 L687.9 786.3 L688 785.1 L688.2 783.9 L688.4 782.6 L688.6 781.3 L688.8 780.1 L689 778.8 L689.2 777.5 L689.3 776.2 L689.5 774.9 L689.7 773.6 L689.9 772.3 L690.1 771 L690.3 769.7 L690.4 768.4 L690.6 767.2 L690.8 765.9 L691 764.7 L691.2 763.4 L691.4 762.2 L691.6 761 L691.7 759.8 L691.9 758.6 L692.1 757.5 L692.3 756.4 L692.5 755.3 L692.7 754.3 L692.9 753.2 L693 752.2 L693.2 751.3 L693.4 750.4 L693.6 749.5 L693.8 748.7 L694 747.9 L694.1 747.1 L694.3 746.4 L694.5 745.8 L694.7 745.2 L694.9 744.7 L695.1 744.2 L695.3 743.7 L695.4 743.4 L695.6 743 L695.8 742.8 L696 742.6 L696.2 742.4 L696.4 742.3 L696.5 742.3 L696.7 742.3 L696.9 742.4 L697.1 742.6 L697.3 742.8 L697.5 743.1 L697.7 743.4 L697.8 743.8 L698 744.2 L698.2 744.7 L698.4 745.3 L698.6 745.9 L698.8 746.5 L699 747.2 L699.1 748 L699.3 748.7 L699.5 749.6 L699.7 750.5 L699.9 751.4 L700.1 752.3 L700.2 753.3 L700.4 754.4 L700.6 755.4 L700.8 756.5 L701 757.6 L701.2 758.8 L701.4 759.9 L701.5 761.1 L701.7 762.3 L701.9 763.5 L702.1 764.8 L702.3 766 L702.5 767.3 L702.7 768.6 L702.8 769.9 L703 771.1 L703.2 772.4 L703.4 773.7 L703.6 775 L703.8 776.3 L703.9 777.6 L704.1 778.9 L704.3 780.2 L704.5 781.5 L704.7 782.7 L704.9 784 L705.1 785.2 L705.2 786.5 L705.4 787.7 L705.6 788.9 L705.8 790.1 L706 791.2 L706.2 792.4 L706.4 793.5 L706.5 794.7 L706.7 795.8 L706.9 796.8 L707.1 797.9 L707.3 798.9 L707.5 800 L707.6 801 L707.8 801.9 L708 802.9 L708.2 803.8 L708.4 804.7 L708.6 805.6 L708.8 806.4 L708.9 807.3 L709.1 808.1 L709.3 808.9 L709.5 809.6 L709.7 810.4 L709.9 811.1 L710.1 811.8 L710.2 812.5 L710.4 813.1 L710.6 813.7 L710.8 814.3 L711 814.9 L711.2 815.5 L711.3 816 L711.5 816.6 L711.7 817.1 L711.9 817.5 L712.1 818 L712.3 818.5 L712.5 818.9 L712.6 819.3 L712.8 819.7 L713 820.1 L713.2 820.4 L713.4 820.8 L713.6 821.1 L713.8 821.4 L713.9 821.7 L714.1 822 L714.3 822.3 L714.5 822.5 L714.7 822.8 L714.9 823 L715 823.2 L715.2 823.5 L715.4 823.7 L715.6 823.9 L715.8 824 L716 824.2 L716.2 824.4 L716.3 824.5 L716.5 824.7 L716.7 824.8 L716.9 825 L717.1 825.1 L717.3 825.2 L717.5 825.3 L717.6 825.4 L717.8 825.5 L718 825.6 L718.2 825.7 L718.4 825.8 L718.6 825.9 L718.7 826 L718.9 826 L719.1 826.1 L719.3 826.2 L719.5 826.2 L719.7 826.3 L719.9 826.4 L720 826.4 L720.2 826.5 L720.4 826.5 L720.6 826.6 L720.8 826.6 L721 826.6 L721.1 826.7 L721.3 826.7 L721.5 826.8 L721.7 826.8 L721.9 826.8 L722.1 826.9 L722.3 826.9 L722.4 826.9 L722.6 826.9 L722.8 827 L723 827 L723.2 827 L723.4 827 L723.6 827.1 L723.7 827.1 L723.9 827.1 L724.1 827.1 L724.3 827.1 L724.5 827.2 L724.7 827.2 L724.8 827.2 L725 827.2 L725.2 827.2 L725.4 827.2 L725.6 827.3 L725.8 827.3 L726 827.3 L726.1 827.3 L726.3 827.3 L726.5 827.3 L726.7 827.3 L726.9 827.3 L727.1 827.4 L727.3 827.4 L727.4 827.4 L727.6 827.4 L727.8 827.4 L728 827.4 L728.2 827.4 L728.4 827.4 L728.5 827.4 L728.7 827.5 L728.9 827.5 L729.1 827.5 L729.3 827.5 L729.5 827.5 L729.7 827.5 L729.8 827.5 L730 827.5 L730.2 827.5 L730.4 827.5 L730.6 827.5 L730.8 827.5 L731 827.6 L731.1 827.6 L731.3 827.6 L731.5 827.6 L731.7 827.6 L731.9 827.6 L732.1 827.6 L732.2 827.6 L732.4 827.6 L732.6 827.6 L732.8 827.6 L733 827.6 L733.2 827.6 L733.4 827.6 L733.5 827.6 L733.7 827.7 L733.9 827.7 L734.1 827.7 L734.3 827.7 L734.5 827.7 L734.7 827.7 L734.8 827.7 L735 827.7 L735.2 827.7 L735.4 827.7 L735.6 827.7 L735.8 827.7 L735.9 827.7 L736.1 827.7 L736.3 827.7 L736.5 827.7 L736.7 827.7 L736.9 827.7 L737.1 827.8 L737.2 827.8 L737.4 827.8 L737.6 827.8 L737.8 827.8 L738 827.8 L738.2 827.8 L738.4 827.8 L738.5 827.8 L738.7 827.8 L738.9 827.8 L739.1 827.8 L739.3 827.8 L739.5 827.8 L739.6 827.8 L739.8 827.8 L740 827.8 L740.2 827.8 L740.4 827.8 L740.6 827.8 L740.8 827.8 L740.9 827.8 L741.1 827.8 L741.3 827.8 L741.5 827.9 L741.7 827.9 L741.9 827.9 L742 827.9 L742.2 827.9 L742.4 827.9 L742.6 827.9 L742.8 827.9 L743 827.9 L743.2 827.9 L743.3 827.9 L743.5 827.9 L743.7 827.9 L743.9 827.9 L744.1 827.9 L744.1 828.3 Z" fill="url(#dg3)" fill-opacity="0.85"/><path d="M649 827.9 L649.2 827.9 L649.4 827.9 L649.6 827.9 L649.8 827.9 L649.9 827.9 L650.1 827.9 L650.3 827.9 L650.5 827.9 L650.7 827.9 L650.9 827.9 L651.1 827.9 L651.2 827.9 L651.4 827.9 L651.6 827.9 L651.8 827.8 L652 827.8 L652.2 827.8 L652.3 827.8 L652.5 827.8 L652.7 827.8 L652.9 827.8 L653.1 827.8 L653.3 827.8 L653.5 827.8 L653.6 827.8 L653.8 827.8 L654 827.8 L654.2 827.8 L654.4 827.8 L654.6 827.8 L654.7 827.8 L654.9 827.8 L655.1 827.8 L655.3 827.8 L655.5 827.8 L655.7 827.8 L655.9 827.8 L656 827.8 L656.2 827.7 L656.4 827.7 L656.6 827.7 L656.8 827.7 L657 827.7 L657.2 827.7 L657.3 827.7 L657.5 827.7 L657.7 827.7 L657.9 827.7 L658.1 827.7 L658.3 827.7 L658.4 827.7 L658.6 827.7 L658.8 827.7 L659 827.7 L659.2 827.7 L659.4 827.7 L659.6 827.6 L659.7 827.6 L659.9 827.6 L660.1 827.6 L660.3 827.6 L660.5 827.6 L660.7 827.6 L660.9 827.6 L661 827.6 L661.2 827.6 L661.4 827.6 L661.6 827.6 L661.8 827.6 L662 827.6 L662.1 827.6 L662.3 827.5 L662.5 827.5 L662.7 827.5 L662.9 827.5 L663.1 827.5 L663.3 827.5 L663.4 827.5 L663.6 827.5 L663.8 827.5 L664 827.5 L664.2 827.5 L664.4 827.4 L664.6 827.4 L664.7 827.4 L664.9 827.4 L665.1 827.4 L665.3 827.4 L665.5 827.4 L665.7 827.4 L665.8 827.4 L666 827.4 L666.2 827.3 L666.4 827.3 L666.6 827.3 L666.8 827.3 L667 827.3 L667.1 827.3 L667.3 827.3 L667.5 827.3 L667.7 827.2 L667.9 827.2 L668.1 827.2 L668.3 827.2 L668.4 827.2 L668.6 827.2 L668.8 827.1 L669 827.1 L669.2 827.1 L669.4 827.1 L669.5 827.1 L669.7 827 L669.9 827 L670.1 827 L670.3 827 L670.5 826.9 L670.7 826.9 L670.8 826.9 L671 826.9 L671.2 826.8 L671.4 826.8 L671.6 826.8 L671.8 826.7 L672 826.7 L672.1 826.6 L672.3 826.6 L672.5 826.6 L672.7 826.5 L672.9 826.5 L673.1 826.4 L673.2 826.4 L673.4 826.3 L673.6 826.2 L673.8 826.2 L674 826.1 L674.2 826 L674.4 826 L674.5 825.9 L674.7 825.8 L674.9 825.7 L675.1 825.6 L675.3 825.5 L675.5 825.4 L675.6 825.3 L675.8 825.2 L676 825.1 L676.2 824.9 L676.4 824.8 L676.6 824.7 L676.8 824.5 L676.9 824.4 L677.1 824.2 L677.3 824 L677.5 823.8 L677.7 823.6 L677.9 823.4 L678.1 823.2 L678.2 823 L678.4 822.8 L678.6 822.5 L678.8 822.2 L679 822 L679.2 821.7 L679.3 821.4 L679.5 821.1 L679.7 820.7 L679.9 820.4 L680.1 820 L680.3 819.6 L680.5 819.3 L680.6 818.8 L680.8 818.4 L681 818 L681.2 817.5 L681.4 817 L681.6 816.5 L681.8 816 L681.9 815.4 L682.1 814.9 L682.3 814.3 L682.5 813.7 L682.7 813 L682.9 812.4 L683 811.7 L683.2 811 L683.4 810.3 L683.6 809.6 L683.8 808.8 L684 808 L684.2 807.2 L684.3 806.4 L684.5 805.5 L684.7 804.6 L684.9 803.7 L685.1 802.8 L685.3 801.8 L685.5 800.9 L685.6 799.9 L685.8 798.8 L686 797.8 L686.2 796.7 L686.4 795.7 L686.6 794.5 L686.7 793.4 L686.9 792.3 L687.1 791.1 L687.3 790 L687.5 788.8 L687.7 787.6 L687.9 786.3 L688 785.1 L688.2 783.9 L688.4 782.6 L688.6 781.3 L688.8 780.1 L689 778.8 L689.2 777.5 L689.3 776.2 L689.5 774.9 L689.7 773.6 L689.9 772.3 L690.1 771 L690.3 769.7 L690.4 768.4 L690.6 767.2 L690.8 765.9 L691 764.7 L691.2 763.4 L691.4 762.2 L691.6 761 L691.7 759.8 L691.9 758.6 L692.1 757.5 L692.3 756.4 L692.5 755.3 L692.7 754.3 L692.9 753.2 L693 752.2 L693.2 751.3 L693.4 750.4 L693.6 749.5 L693.8 748.7 L694 747.9 L694.1 747.1 L694.3 746.4 L694.5 745.8 L694.7 745.2 L694.9 744.7 L695.1 744.2 L695.3 743.7 L695.4 743.4 L695.6 743 L695.8 742.8 L696 742.6 L696.2 742.4 L696.4 742.3 L696.5 742.3 L696.7 742.3 L696.9 742.4 L697.1 742.6 L697.3 742.8 L697.5 743.1 L697.7 743.4 L697.8 743.8 L698 744.2 L698.2 744.7 L698.4 745.3 L698.6 745.9 L698.8 746.5 L699 747.2 L699.1 748 L699.3 748.7 L699.5 749.6 L699.7 750.5 L699.9 751.4 L700.1 752.3 L700.2 753.3 L700.4 754.4 L700.6 755.4 L700.8 756.5 L701 757.6 L701.2 758.8 L701.4 759.9 L701.5 761.1 L701.7 762.3 L701.9 763.5 L702.1 764.8 L702.3 766 L702.5 767.3 L702.7 768.6 L702.8 769.9 L703 771.1 L703.2 772.4 L703.4 773.7 L703.6 775 L703.8 776.3 L703.9 777.6 L704.1 778.9 L704.3 780.2 L704.5 781.5 L704.7 782.7 L704.9 784 L705.1 785.2 L705.2 786.5 L705.4 787.7 L705.6 788.9 L705.8 790.1 L706 791.2 L706.2 792.4 L706.4 793.5 L706.5 794.7 L706.7 795.8 L706.9 796.8 L707.1 797.9 L707.3 798.9 L707.5 800 L707.6 801 L707.8 801.9 L708 802.9 L708.2 803.8 L708.4 804.7 L708.6 805.6 L708.8 806.4 L708.9 807.3 L709.1 808.1 L709.3 808.9 L709.5 809.6 L709.7 810.4 L709.9 811.1 L710.1 811.8 L710.2 812.5 L710.4 813.1 L710.6 813.7 L710.8 814.3 L711 814.9 L711.2 815.5 L711.3 816 L711.5 816.6 L711.7 817.1 L711.9 817.5 L712.1 818 L712.3 818.5 L712.5 818.9 L712.6 819.3 L712.8 819.7 L713 820.1 L713.2 820.4 L713.4 820.8 L713.6 821.1 L713.8 821.4 L713.9 821.7 L714.1 822 L714.3 822.3 L714.5 822.5 L714.7 822.8 L714.9 823 L715 823.2 L715.2 823.5 L715.4 823.7 L715.6 823.9 L715.8 824 L716 824.2 L716.2 824.4 L716.3 824.5 L716.5 824.7 L716.7 824.8 L716.9 825 L717.1 825.1 L717.3 825.2 L717.5 825.3 L717.6 825.4 L717.8 825.5 L718 825.6 L718.2 825.7 L718.4 825.8 L718.6 825.9 L718.7 826 L718.9 826 L719.1 826.1 L719.3 826.2 L719.5 826.2 L719.7 826.3 L719.9 826.4 L720 826.4 L720.2 826.5 L720.4 826.5 L720.6 826.6 L720.8 826.6 L721 826.6 L721.1 826.7 L721.3 826.7 L721.5 826.8 L721.7 826.8 L721.9 826.8 L722.1 826.9 L722.3 826.9 L722.4 826.9 L722.6 826.9 L722.8 827 L723 827 L723.2 827 L723.4 827 L723.6 827.1 L723.7 827.1 L723.9 827.1 L724.1 827.1 L724.3 827.1 L724.5 827.2 L724.7 827.2 L724.8 827.2 L725 827.2 L725.2 827.2 L725.4 827.2 L725.6 827.3 L725.8 827.3 L726 827.3 L726.1 827.3 L726.3 827.3 L726.5 827.3 L726.7 827.3 L726.9 827.3 L727.1 827.4 L727.3 827.4 L727.4 827.4 L727.6 827.4 L727.8 827.4 L728 827.4 L728.2 827.4 L728.4 827.4 L728.5 827.4 L728.7 827.5 L728.9 827.5 L729.1 827.5 L729.3 827.5 L729.5 827.5 L729.7 827.5 L729.8 827.5 L730 827.5 L730.2 827.5 L730.4 827.5 L730.6 827.5 L730.8 827.5 L731 827.6 L731.1 827.6 L731.3 827.6 L731.5 827.6 L731.7 827.6 L731.9 827.6 L732.1 827.6 L732.2 827.6 L732.4 827.6 L732.6 827.6 L732.8 827.6 L733 827.6 L733.2 827.6 L733.4 827.6 L733.5 827.6 L733.7 827.7 L733.9 827.7 L734.1 827.7 L734.3 827.7 L734.5 827.7 L734.7 827.7 L734.8 827.7 L735 827.7 L735.2 827.7 L735.4 827.7 L735.6 827.7 L735.8 827.7 L735.9 827.7 L736.1 827.7 L736.3 827.7 L736.5 827.7 L736.7 827.7 L736.9 827.7 L737.1 827.8 L737.2 827.8 L737.4 827.8 L737.6 827.8 L737.8 827.8 L738 827.8 L738.2 827.8 L738.4 827.8 L738.5 827.8 L738.7 827.8 L738.9 827.8 L739.1 827.8 L739.3 827.8 L739.5 827.8 L739.6 827.8 L739.8 827.8 L740 827.8 L740.2 827.8 L740.4 827.8 L740.6 827.8 L740.8 827.8 L740.9 827.8 L741.1 827.8 L741.3 827.8 L741.5 827.9 L741.7 827.9 L741.9 827.9 L742 827.9 L742.2 827.9 L742.4 827.9 L742.6 827.9 L742.8 827.9 L743 827.9 L743.2 827.9 L743.3 827.9 L743.5 827.9 L743.7 827.9 L743.9 827.9 L744.1 827.9" fill="none" stroke="#3f6f9e" stroke-width="1.8"/><path d="M707.5 828.3 L707.5 827.9 L707.6 827.9 L707.8 827.9 L708 827.9 L708.2 827.9 L708.4 827.9 L708.6 827.9 L708.8 827.9 L708.9 827.9 L709.1 827.9 L709.3 827.9 L709.5 827.9 L709.7 827.9 L709.9 827.9 L710.1 827.9 L710.2 827.9 L710.4 827.9 L710.6 827.9 L710.8 827.9 L711 827.9 L711.2 827.9 L711.3 827.9 L711.5 827.9 L711.7 827.9 L711.9 827.9 L712.1 827.9 L712.3 827.9 L712.5 827.9 L712.6 827.8 L712.8 827.8 L713 827.8 L713.2 827.8 L713.4 827.8 L713.6 827.8 L713.8 827.8 L713.9 827.8 L714.1 827.8 L714.3 827.8 L714.5 827.8 L714.7 827.8 L714.9 827.8 L715 827.8 L715.2 827.8 L715.4 827.8 L715.6 827.8 L715.8 827.8 L716 827.8 L716.2 827.8 L716.3 827.8 L716.5 827.8 L716.7 827.8 L716.9 827.8 L717.1 827.8 L717.3 827.8 L717.5 827.8 L717.6 827.8 L717.8 827.8 L718 827.8 L718.2 827.8 L718.4 827.8 L718.6 827.8 L718.7 827.8 L718.9 827.8 L719.1 827.8 L719.3 827.8 L719.5 827.8 L719.7 827.8 L719.9 827.8 L720 827.8 L720.2 827.8 L720.4 827.8 L720.6 827.8 L720.8 827.8 L721 827.7 L721.1 827.7 L721.3 827.7 L721.5 827.7 L721.7 827.7 L721.9 827.7 L722.1 827.7 L722.3 827.7 L722.4 827.7 L722.6 827.7 L722.8 827.7 L723 827.7 L723.2 827.7 L723.4 827.7 L723.6 827.7 L723.7 827.7 L723.9 827.7 L724.1 827.7 L724.3 827.7 L724.5 827.7 L724.7 827.7 L724.8 827.7 L725 827.7 L725.2 827.7 L725.4 827.7 L725.6 827.7 L725.8 827.7 L726 827.7 L726.1 827.7 L726.3 827.7 L726.5 827.7 L726.7 827.7 L726.9 827.7 L727.1 827.7 L727.3 827.6 L727.4 827.6 L727.6 827.6 L727.8 827.6 L728 827.6 L728.2 827.6 L728.4 827.6 L728.5 827.6 L728.7 827.6 L728.9 827.6 L729.1 827.6 L729.3 827.6 L729.5 827.6 L729.7 827.6 L729.8 827.6 L730 827.6 L730.2 827.6 L730.4 827.6 L730.6 827.6 L730.8 827.6 L731 827.6 L731.1 827.6 L731.3 827.6 L731.5 827.6 L731.7 827.6 L731.9 827.6 L732.1 827.6 L732.2 827.5 L732.4 827.5 L732.6 827.5 L732.8 827.5 L733 827.5 L733.2 827.5 L733.4 827.5 L733.5 827.5 L733.7 827.5 L733.9 827.5 L734.1 827.5 L734.3 827.5 L734.5 827.5 L734.7 827.5 L734.8 827.5 L735 827.5 L735.2 827.5 L735.4 827.5 L735.6 827.5 L735.8 827.5 L735.9 827.5 L736.1 827.5 L736.3 827.4 L736.5 827.4 L736.7 827.4 L736.9 827.4 L737.1 827.4 L737.2 827.4 L737.4 827.4 L737.6 827.4 L737.8 827.4 L738 827.4 L738.2 827.4 L738.4 827.4 L738.5 827.4 L738.7 827.4 L738.9 827.4 L739.1 827.4 L739.3 827.4 L739.5 827.4 L739.6 827.4 L739.8 827.3 L740 827.3 L740.2 827.3 L740.4 827.3 L740.6 827.3 L740.8 827.3 L740.9 827.3 L741.1 827.3 L741.3 827.3 L741.5 827.3 L741.7 827.3 L741.9 827.3 L742 827.3 L742.2 827.3 L742.4 827.3 L742.6 827.3 L742.8 827.2 L743 827.2 L743.2 827.2 L743.3 827.2 L743.5 827.2 L743.7 827.2 L743.9 827.2 L744.1 827.2 L744.3 827.2 L744.5 827.2 L744.6 827.2 L744.8 827.2 L745 827.2 L745.2 827.1 L745.4 827.1 L745.6 827.1 L745.7 827.1 L745.9 827.1 L746.1 827.1 L746.3 827.1 L746.5 827.1 L746.7 827.1 L746.9 827.1 L747 827.1 L747.2 827.1 L747.4 827 L747.6 827 L747.8 827 L748 827 L748.2 827 L748.3 827 L748.5 827 L748.7 827 L748.9 827 L749.1 827 L749.3 827 L749.4 826.9 L749.6 826.9 L749.8 826.9 L750 826.9 L750.2 826.9 L750.4 826.9 L750.6 826.9 L750.7 826.9 L750.9 826.9 L751.1 826.9 L751.3 826.8 L751.5 826.8 L751.7 826.8 L751.9 826.8 L752 826.8 L752.2 826.8 L752.4 826.8 L752.6 826.8 L752.8 826.8 L753 826.7 L753.1 826.7 L753.3 826.7 L753.5 826.7 L753.7 826.7 L753.9 826.7 L754.1 826.7 L754.3 826.6 L754.4 826.6 L754.6 826.6 L754.8 826.6 L755 826.6 L755.2 826.6 L755.4 826.6 L755.6 826.5 L755.7 826.5 L755.9 826.5 L756.1 826.5 L756.3 826.5 L756.5 826.5 L756.7 826.5 L756.8 826.4 L757 826.4 L757.2 826.4 L757.4 826.4 L757.6 826.4 L757.8 826.4 L758 826.3 L758.1 826.3 L758.3 826.3 L758.5 826.3 L758.7 826.3 L758.9 826.2 L759.1 826.2 L759.3 826.2 L759.4 826.2 L759.6 826.2 L759.8 826.1 L760 826.1 L760.2 826.1 L760.4 826.1 L760.5 826 L760.7 826 L760.9 826 L761.1 826 L761.3 825.9 L761.5 825.9 L761.7 825.9 L761.8 825.9 L762 825.8 L762.2 825.8 L762.4 825.8 L762.6 825.7 L762.8 825.7 L762.9 825.7 L763.1 825.6 L763.3 825.6 L763.5 825.6 L763.7 825.5 L763.9 825.5 L764.1 825.4 L764.2 825.4 L764.4 825.3 L764.6 825.3 L764.8 825.2 L765 825.2 L765.2 825.1 L765.4 825.1 L765.5 825 L765.7 825 L765.9 824.9 L766.1 824.8 L766.3 824.8 L766.5 824.7 L766.6 824.6 L766.8 824.6 L767 824.5 L767.2 824.4 L767.4 824.3 L767.6 824.2 L767.8 824.1 L767.9 824 L768.1 823.9 L768.3 823.8 L768.5 823.7 L768.7 823.6 L768.9 823.4 L769.1 823.3 L769.2 823.2 L769.4 823 L769.6 822.9 L769.8 822.7 L770 822.6 L770.2 822.4 L770.3 822.2 L770.5 822 L770.7 821.8 L770.9 821.6 L771.1 821.4 L771.3 821.2 L771.5 820.9 L771.6 820.7 L771.8 820.4 L772 820.2 L772.2 819.9 L772.4 819.6 L772.6 819.3 L772.8 819 L772.9 818.6 L773.1 818.3 L773.3 817.9 L773.5 817.6 L773.7 817.2 L773.9 816.7 L774 816.3 L774.2 815.9 L774.4 815.4 L774.6 814.9 L774.8 814.4 L775 813.9 L775.2 813.3 L775.3 812.8 L775.5 812.2 L775.7 811.6 L775.9 810.9 L776.1 810.3 L776.3 809.6 L776.5 808.9 L776.6 808.1 L776.8 807.3 L777 806.5 L777.2 805.7 L777.4 804.9 L777.6 804 L777.7 803.1 L777.9 802.1 L778.1 801.1 L778.3 800.1 L778.5 799.1 L778.7 798 L778.9 796.9 L779 795.7 L779.2 794.5 L779.4 793.3 L779.6 792.1 L779.8 790.8 L780 789.4 L780.2 788 L780.3 786.6 L780.5 785.2 L780.7 783.7 L780.9 782.2 L781.1 780.6 L781.3 779 L781.4 777.3 L781.6 775.6 L781.8 773.9 L782 772.1 L782.2 770.3 L782.4 768.4 L782.6 766.5 L782.7 764.5 L782.9 762.6 L783.1 760.5 L783.3 758.5 L783.5 756.3 L783.7 754.2 L783.8 752 L784 749.8 L784.2 747.5 L784.4 745.2 L784.6 742.8 L784.8 740.4 L785 738 L785.1 735.6 L785.3 733.1 L785.5 730.5 L785.7 728 L785.9 725.4 L786.1 722.8 L786.3 720.1 L786.4 717.4 L786.6 714.7 L786.8 712 L787 709.2 L787.2 706.5 L787.4 703.7 L787.5 700.9 L787.7 698 L787.9 695.2 L788.1 692.3 L788.3 689.5 L788.5 686.6 L788.7 683.7 L788.8 680.8 L789 677.9 L789.2 675 L789.4 672.2 L789.6 669.3 L789.8 666.4 L790 663.5 L790.1 660.7 L790.3 657.9 L790.5 655 L790.7 652.3 L790.9 649.5 L791.1 646.7 L791.2 644 L791.4 641.3 L791.6 638.7 L791.8 636.1 L792 633.5 L792.2 631 L792.4 628.5 L792.5 626.1 L792.7 623.7 L792.9 621.4 L793.1 619.1 L793.3 616.9 L793.5 614.7 L793.7 612.7 L793.8 610.7 L794 608.7 L794.2 606.9 L794.4 605.1 L794.6 603.4 L794.8 601.7 L794.9 600.2 L795.1 598.7 L795.3 597.4 L795.5 596.1 L795.7 594.9 L795.9 593.8 L796.1 592.8 L796.2 591.9 L796.4 591.1 L796.6 590.4 L796.8 589.8 L797 589.3 L797.2 588.9 L797.4 588.6 L797.5 588.4 L797.7 588.3 L797.9 588.3 L798.1 588.4 L798.3 588.7 L798.5 589 L798.6 589.4 L798.8 590 L799 590.6 L799.2 591.3 L799.4 592.2 L799.6 593.1 L799.8 594.1 L799.9 595.2 L800.1 596.5 L800.3 597.8 L800.5 599.2 L800.7 600.6 L800.9 602.2 L801.1 603.9 L801.2 605.6 L801.4 607.4 L801.6 609.3 L801.8 611.3 L802 613.3 L802.2 615.4 L802.3 617.5 L802.5 619.8 L802.7 622.1 L802.9 624.4 L803.1 626.8 L803.3 629.2 L803.5 631.7 L803.6 634.3 L803.8 636.9 L804 639.5 L804.2 642.1 L804.4 644.8 L804.6 647.6 L804.8 650.3 L804.9 653.1 L805.1 655.9 L805.3 658.7 L805.5 661.5 L805.7 664.4 L805.9 667.3 L806 670.1 L806.2 673 L806.4 675.9 L806.6 678.8 L806.8 681.7 L807 684.6 L807.2 687.4 L807.3 690.3 L807.5 693.2 L807.7 696 L807.9 698.9 L808.1 701.7 L808.3 704.5 L808.4 707.3 L808.6 710.1 L808.8 712.8 L809 715.5 L809.2 718.2 L809.4 720.9 L809.6 723.5 L809.7 726.2 L809.9 728.7 L810.1 731.3 L810.3 733.8 L810.5 736.3 L810.7 738.7 L810.9 741.2 L811 743.5 L811.2 745.9 L811.4 748.2 L811.6 750.4 L811.8 752.7 L812 754.8 L812.1 757 L812.3 759.1 L812.5 761.1 L812.7 763.2 L812.9 765.1 L813.1 767.1 L813.3 769 L813.4 770.8 L813.6 772.6 L813.8 774.4 L814 776.1 L814.2 777.8 L814.4 779.5 L814.6 781.1 L814.7 782.6 L814.9 784.1 L815.1 785.6 L815.3 787.1 L815.5 788.5 L815.7 789.8 L815.8 791.2 L816 792.4 L816.2 793.7 L816.4 794.9 L816.6 796.1 L816.8 797.2 L817 798.3 L817.1 799.4 L817.3 800.4 L817.5 801.4 L817.7 802.4 L817.9 803.3 L818.1 804.2 L818.3 805.1 L818.4 806 L818.6 806.8 L818.8 807.6 L819 808.3 L819.2 809.1 L819.4 809.8 L819.5 810.5 L819.7 811.1 L819.9 811.7 L820.1 812.4 L820.3 812.9 L820.5 813.5 L820.7 814 L820.8 814.6 L821 815.1 L821.2 815.5 L821.4 816 L821.6 816.4 L821.8 816.9 L822 817.3 L822.1 817.7 L822.3 818 L822.5 818.4 L822.7 818.7 L822.9 819.1 L823.1 819.4 L823.2 819.7 L823.4 820 L823.6 820.3 L823.8 820.5 L824 820.8 L824.2 821 L824.4 821.2 L824.5 821.5 L824.7 821.7 L824.9 821.9 L825.1 822.1 L825.3 822.3 L825.5 822.4 L825.7 822.6 L825.8 822.8 L826 822.9 L826.2 823.1 L826.4 823.2 L826.6 823.3 L826.8 823.5 L826.9 823.6 L827.1 823.7 L827.3 823.8 L827.5 823.9 L827.7 824 L827.9 824.1 L828.1 824.2 L828.2 824.3 L828.4 824.4 L828.6 824.5 L828.8 824.6 L829 824.6 L829.2 824.7 L829.3 824.8 L829.5 824.9 L829.7 824.9 L829.9 825 L830.1 825 L830.3 825.1 L830.5 825.2 L830.6 825.2 L830.8 825.3 L831 825.3 L831.2 825.4 L831.4 825.4 L831.6 825.4 L831.8 825.5 L831.9 825.5 L832.1 825.6 L832.3 825.6 L832.5 825.6 L832.7 825.7 L832.9 825.7 L833 825.7 L833.2 825.8 L833.4 825.8 L833.6 825.8 L833.8 825.9 L834 825.9 L834.2 825.9 L834.3 825.9 L834.5 826 L834.7 826 L834.9 826 L835.1 826 L835.3 826.1 L835.5 826.1 L835.6 826.1 L835.8 826.1 L836 826.2 L836.2 826.2 L836.4 826.2 L836.6 826.2 L836.7 826.2 L836.9 826.3 L837.1 826.3 L837.3 826.3 L837.5 826.3 L837.7 826.3 L837.9 826.4 L838 826.4 L838.2 826.4 L838.4 826.4 L838.6 826.4 L838.8 826.4 L839 826.5 L839.2 826.5 L839.3 826.5 L839.5 826.5 L839.7 826.5 L839.9 826.5 L840.1 826.6 L840.3 826.6 L840.4 826.6 L840.6 826.6 L840.8 826.6 L841 826.6 L841.2 826.6 L841.4 826.7 L841.6 826.7 L841.7 826.7 L841.9 826.7 L842.1 826.7 L842.3 826.7 L842.5 826.7 L842.7 826.7 L842.9 826.8 L843 826.8 L843.2 826.8 L843.4 826.8 L843.6 826.8 L843.8 826.8 L844 826.8 L844.1 826.8 L844.3 826.8 L844.5 826.9 L844.7 826.9 L844.9 826.9 L845.1 826.9 L845.3 826.9 L845.4 826.9 L845.6 826.9 L845.8 826.9 L846 826.9 L846.2 827 L846.4 827 L846.6 827 L846.7 827 L846.9 827 L847.1 827 L847.3 827 L847.5 827 L847.7 827 L847.8 827 L848 827 L848.2 827.1 L848.4 827.1 L848.6 827.1 L848.8 827.1 L849 827.1 L849.1 827.1 L849.3 827.1 L849.5 827.1 L849.7 827.1 L849.9 827.1 L850.1 827.1 L850.2 827.1 L850.4 827.2 L850.6 827.2 L850.8 827.2 L851 827.2 L851.2 827.2 L851.4 827.2 L851.5 827.2 L851.7 827.2 L851.9 827.2 L852.1 827.2 L852.3 827.2 L852.5 827.2 L852.7 827.2 L852.8 827.2 L853 827.3 L853.2 827.3 L853.4 827.3 L853.6 827.3 L853.8 827.3 L853.9 827.3 L854.1 827.3 L854.3 827.3 L854.5 827.3 L854.7 827.3 L854.9 827.3 L855.1 827.3 L855.2 827.3 L855.4 827.3 L855.6 827.3 L855.8 827.3 L856 827.4 L856.2 827.4 L856.4 827.4 L856.5 827.4 L856.7 827.4 L856.9 827.4 L857.1 827.4 L857.3 827.4 L857.5 827.4 L857.6 827.4 L857.8 827.4 L858 827.4 L858.2 827.4 L858.4 827.4 L858.6 827.4 L858.8 827.4 L858.9 827.4 L859.1 827.4 L859.3 827.4 L859.5 827.5 L859.7 827.5 L859.9 827.5 L860.1 827.5 L860.2 827.5 L860.4 827.5 L860.6 827.5 L860.8 827.5 L861 827.5 L861.2 827.5 L861.3 827.5 L861.5 827.5 L861.7 827.5 L861.9 827.5 L862.1 827.5 L862.3 827.5 L862.5 827.5 L862.6 827.5 L862.8 827.5 L863 827.5 L863.2 827.5 L863.4 827.5 L863.6 827.6 L863.8 827.6 L863.9 827.6 L864.1 827.6 L864.3 827.6 L864.5 827.6 L864.7 827.6 L864.9 827.6 L865 827.6 L865.2 827.6 L865.4 827.6 L865.6 827.6 L865.8 827.6 L866 827.6 L866.2 827.6 L866.3 827.6 L866.5 827.6 L866.7 827.6 L866.9 827.6 L867.1 827.6 L867.3 827.6 L867.5 827.6 L867.6 827.6 L867.8 827.6 L868 827.6 L868.2 827.6 L868.4 827.6 L868.6 827.7 L868.7 827.7 L868.9 827.7 L869.1 827.7 L869.3 827.7 L869.5 827.7 L869.7 827.7 L869.9 827.7 L870 827.7 L870.2 827.7 L870.4 827.7 L870.6 827.7 L870.8 827.7 L871 827.7 L871.2 827.7 L871.3 827.7 L871.5 827.7 L871.7 827.7 L871.9 827.7 L872.1 827.7 L872.3 827.7 L872.4 827.7 L872.6 827.7 L872.8 827.7 L873 827.7 L873.2 827.7 L873.4 827.7 L873.6 827.7 L873.7 827.7 L873.9 827.7 L874.1 827.7 L874.3 827.7 L874.5 827.7 L874.7 827.7 L874.8 827.8 L875 827.8 L875.2 827.8 L875.4 827.8 L875.6 827.8 L875.8 827.8 L876 827.8 L876.1 827.8 L876.3 827.8 L876.5 827.8 L876.7 827.8 L876.9 827.8 L877.1 827.8 L877.3 827.8 L877.4 827.8 L877.6 827.8 L877.8 827.8 L878 827.8 L878.2 827.8 L878.4 827.8 L878.5 827.8 L878.7 827.8 L878.9 827.8 L879.1 827.8 L879.3 827.8 L879.5 827.8 L879.7 827.8 L879.8 827.8 L880 827.8 L880.2 827.8 L880.4 827.8 L880.6 827.8 L880.8 827.8 L881 827.8 L881.1 827.8 L881.3 827.8 L881.5 827.8 L881.7 827.8 L881.9 827.8 L882.1 827.8 L882.2 827.8 L882.4 827.8 L882.6 827.8 L882.8 827.8 L883 827.9 L883.2 827.9 L883.4 827.9 L883.5 827.9 L883.7 827.9 L883.9 827.9 L884.1 827.9 L884.3 827.9 L884.5 827.9 L884.7 827.9 L884.8 827.9 L885 827.9 L885.2 827.9 L885.4 827.9 L885.6 827.9 L885.8 827.9 L885.9 827.9 L886.1 827.9 L886.3 827.9 L886.5 827.9 L886.7 827.9 L886.9 827.9 L887.1 827.9 L887.2 827.9 L887.4 827.9 L887.6 827.9 L887.8 827.9 L888 827.9 L888.2 827.9 L888.2 828.3 Z" fill="url(#dg4)" fill-opacity="0.9"/><path d="M707.5 827.9 L707.6 827.9 L707.8 827.9 L708 827.9 L708.2 827.9 L708.4 827.9 L708.6 827.9 L708.8 827.9 L708.9 827.9 L709.1 827.9 L709.3 827.9 L709.5 827.9 L709.7 827.9 L709.9 827.9 L710.1 827.9 L710.2 827.9 L710.4 827.9 L710.6 827.9 L710.8 827.9 L711 827.9 L711.2 827.9 L711.3 827.9 L711.5 827.9 L711.7 827.9 L711.9 827.9 L712.1 827.9 L712.3 827.9 L712.5 827.9 L712.6 827.8 L712.8 827.8 L713 827.8 L713.2 827.8 L713.4 827.8 L713.6 827.8 L713.8 827.8 L713.9 827.8 L714.1 827.8 L714.3 827.8 L714.5 827.8 L714.7 827.8 L714.9 827.8 L715 827.8 L715.2 827.8 L715.4 827.8 L715.6 827.8 L715.8 827.8 L716 827.8 L716.2 827.8 L716.3 827.8 L716.5 827.8 L716.7 827.8 L716.9 827.8 L717.1 827.8 L717.3 827.8 L717.5 827.8 L717.6 827.8 L717.8 827.8 L718 827.8 L718.2 827.8 L718.4 827.8 L718.6 827.8 L718.7 827.8 L718.9 827.8 L719.1 827.8 L719.3 827.8 L719.5 827.8 L719.7 827.8 L719.9 827.8 L720 827.8 L720.2 827.8 L720.4 827.8 L720.6 827.8 L720.8 827.8 L721 827.7 L721.1 827.7 L721.3 827.7 L721.5 827.7 L721.7 827.7 L721.9 827.7 L722.1 827.7 L722.3 827.7 L722.4 827.7 L722.6 827.7 L722.8 827.7 L723 827.7 L723.2 827.7 L723.4 827.7 L723.6 827.7 L723.7 827.7 L723.9 827.7 L724.1 827.7 L724.3 827.7 L724.5 827.7 L724.7 827.7 L724.8 827.7 L725 827.7 L725.2 827.7 L725.4 827.7 L725.6 827.7 L725.8 827.7 L726 827.7 L726.1 827.7 L726.3 827.7 L726.5 827.7 L726.7 827.7 L726.9 827.7 L727.1 827.7 L727.3 827.6 L727.4 827.6 L727.6 827.6 L727.8 827.6 L728 827.6 L728.2 827.6 L728.4 827.6 L728.5 827.6 L728.7 827.6 L728.9 827.6 L729.1 827.6 L729.3 827.6 L729.5 827.6 L729.7 827.6 L729.8 827.6 L730 827.6 L730.2 827.6 L730.4 827.6 L730.6 827.6 L730.8 827.6 L731 827.6 L731.1 827.6 L731.3 827.6 L731.5 827.6 L731.7 827.6 L731.9 827.6 L732.1 827.6 L732.2 827.5 L732.4 827.5 L732.6 827.5 L732.8 827.5 L733 827.5 L733.2 827.5 L733.4 827.5 L733.5 827.5 L733.7 827.5 L733.9 827.5 L734.1 827.5 L734.3 827.5 L734.5 827.5 L734.7 827.5 L734.8 827.5 L735 827.5 L735.2 827.5 L735.4 827.5 L735.6 827.5 L735.8 827.5 L735.9 827.5 L736.1 827.5 L736.3 827.4 L736.5 827.4 L736.7 827.4 L736.9 827.4 L737.1 827.4 L737.2 827.4 L737.4 827.4 L737.6 827.4 L737.8 827.4 L738 827.4 L738.2 827.4 L738.4 827.4 L738.5 827.4 L738.7 827.4 L738.9 827.4 L739.1 827.4 L739.3 827.4 L739.5 827.4 L739.6 827.4 L739.8 827.3 L740 827.3 L740.2 827.3 L740.4 827.3 L740.6 827.3 L740.8 827.3 L740.9 827.3 L741.1 827.3 L741.3 827.3 L741.5 827.3 L741.7 827.3 L741.9 827.3 L742 827.3 L742.2 827.3 L742.4 827.3 L742.6 827.3 L742.8 827.2 L743 827.2 L743.2 827.2 L743.3 827.2 L743.5 827.2 L743.7 827.2 L743.9 827.2 L744.1 827.2 L744.3 827.2 L744.5 827.2 L744.6 827.2 L744.8 827.2 L745 827.2 L745.2 827.1 L745.4 827.1 L745.6 827.1 L745.7 827.1 L745.9 827.1 L746.1 827.1 L746.3 827.1 L746.5 827.1 L746.7 827.1 L746.9 827.1 L747 827.1 L747.2 827.1 L747.4 827 L747.6 827 L747.8 827 L748 827 L748.2 827 L748.3 827 L748.5 827 L748.7 827 L748.9 827 L749.1 827 L749.3 827 L749.4 826.9 L749.6 826.9 L749.8 826.9 L750 826.9 L750.2 826.9 L750.4 826.9 L750.6 826.9 L750.7 826.9 L750.9 826.9 L751.1 826.9 L751.3 826.8 L751.5 826.8 L751.7 826.8 L751.9 826.8 L752 826.8 L752.2 826.8 L752.4 826.8 L752.6 826.8 L752.8 826.8 L753 826.7 L753.1 826.7 L753.3 826.7 L753.5 826.7 L753.7 826.7 L753.9 826.7 L754.1 826.7 L754.3 826.6 L754.4 826.6 L754.6 826.6 L754.8 826.6 L755 826.6 L755.2 826.6 L755.4 826.6 L755.6 826.5 L755.7 826.5 L755.9 826.5 L756.1 826.5 L756.3 826.5 L756.5 826.5 L756.7 826.5 L756.8 826.4 L757 826.4 L757.2 826.4 L757.4 826.4 L757.6 826.4 L757.8 826.4 L758 826.3 L758.1 826.3 L758.3 826.3 L758.5 826.3 L758.7 826.3 L758.9 826.2 L759.1 826.2 L759.3 826.2 L759.4 826.2 L759.6 826.2 L759.8 826.1 L760 826.1 L760.2 826.1 L760.4 826.1 L760.5 826 L760.7 826 L760.9 826 L761.1 826 L761.3 825.9 L761.5 825.9 L761.7 825.9 L761.8 825.9 L762 825.8 L762.2 825.8 L762.4 825.8 L762.6 825.7 L762.8 825.7 L762.9 825.7 L763.1 825.6 L763.3 825.6 L763.5 825.6 L763.7 825.5 L763.9 825.5 L764.1 825.4 L764.2 825.4 L764.4 825.3 L764.6 825.3 L764.8 825.2 L765 825.2 L765.2 825.1 L765.4 825.1 L765.5 825 L765.7 825 L765.9 824.9 L766.1 824.8 L766.3 824.8 L766.5 824.7 L766.6 824.6 L766.8 824.6 L767 824.5 L767.2 824.4 L767.4 824.3 L767.6 824.2 L767.8 824.1 L767.9 824 L768.1 823.9 L768.3 823.8 L768.5 823.7 L768.7 823.6 L768.9 823.4 L769.1 823.3 L769.2 823.2 L769.4 823 L769.6 822.9 L769.8 822.7 L770 822.6 L770.2 822.4 L770.3 822.2 L770.5 822 L770.7 821.8 L770.9 821.6 L771.1 821.4 L771.3 821.2 L771.5 820.9 L771.6 820.7 L771.8 820.4 L772 820.2 L772.2 819.9 L772.4 819.6 L772.6 819.3 L772.8 819 L772.9 818.6 L773.1 818.3 L773.3 817.9 L773.5 817.6 L773.7 817.2 L773.9 816.7 L774 816.3 L774.2 815.9 L774.4 815.4 L774.6 814.9 L774.8 814.4 L775 813.9 L775.2 813.3 L775.3 812.8 L775.5 812.2 L775.7 811.6 L775.9 810.9 L776.1 810.3 L776.3 809.6 L776.5 808.9 L776.6 808.1 L776.8 807.3 L777 806.5 L777.2 805.7 L777.4 804.9 L777.6 804 L777.7 803.1 L777.9 802.1 L778.1 801.1 L778.3 800.1 L778.5 799.1 L778.7 798 L778.9 796.9 L779 795.7 L779.2 794.5 L779.4 793.3 L779.6 792.1 L779.8 790.8 L780 789.4 L780.2 788 L780.3 786.6 L780.5 785.2 L780.7 783.7 L780.9 782.2 L781.1 780.6 L781.3 779 L781.4 777.3 L781.6 775.6 L781.8 773.9 L782 772.1 L782.2 770.3 L782.4 768.4 L782.6 766.5 L782.7 764.5 L782.9 762.6 L783.1 760.5 L783.3 758.5 L783.5 756.3 L783.7 754.2 L783.8 752 L784 749.8 L784.2 747.5 L784.4 745.2 L784.6 742.8 L784.8 740.4 L785 738 L785.1 735.6 L785.3 733.1 L785.5 730.5 L785.7 728 L785.9 725.4 L786.1 722.8 L786.3 720.1 L786.4 717.4 L786.6 714.7 L786.8 712 L787 709.2 L787.2 706.5 L787.4 703.7 L787.5 700.9 L787.7 698 L787.9 695.2 L788.1 692.3 L788.3 689.5 L788.5 686.6 L788.7 683.7 L788.8 680.8 L789 677.9 L789.2 675 L789.4 672.2 L789.6 669.3 L789.8 666.4 L790 663.5 L790.1 660.7 L790.3 657.9 L790.5 655 L790.7 652.3 L790.9 649.5 L791.1 646.7 L791.2 644 L791.4 641.3 L791.6 638.7 L791.8 636.1 L792 633.5 L792.2 631 L792.4 628.5 L792.5 626.1 L792.7 623.7 L792.9 621.4 L793.1 619.1 L793.3 616.9 L793.5 614.7 L793.7 612.7 L793.8 610.7 L794 608.7 L794.2 606.9 L794.4 605.1 L794.6 603.4 L794.8 601.7 L794.9 600.2 L795.1 598.7 L795.3 597.4 L795.5 596.1 L795.7 594.9 L795.9 593.8 L796.1 592.8 L796.2 591.9 L796.4 591.1 L796.6 590.4 L796.8 589.8 L797 589.3 L797.2 588.9 L797.4 588.6 L797.5 588.4 L797.7 588.3 L797.9 588.3 L798.1 588.4 L798.3 588.7 L798.5 589 L798.6 589.4 L798.8 590 L799 590.6 L799.2 591.3 L799.4 592.2 L799.6 593.1 L799.8 594.1 L799.9 595.2 L800.1 596.5 L800.3 597.8 L800.5 599.2 L800.7 600.6 L800.9 602.2 L801.1 603.9 L801.2 605.6 L801.4 607.4 L801.6 609.3 L801.8 611.3 L802 613.3 L802.2 615.4 L802.3 617.5 L802.5 619.8 L802.7 622.1 L802.9 624.4 L803.1 626.8 L803.3 629.2 L803.5 631.7 L803.6 634.3 L803.8 636.9 L804 639.5 L804.2 642.1 L804.4 644.8 L804.6 647.6 L804.8 650.3 L804.9 653.1 L805.1 655.9 L805.3 658.7 L805.5 661.5 L805.7 664.4 L805.9 667.3 L806 670.1 L806.2 673 L806.4 675.9 L806.6 678.8 L806.8 681.7 L807 684.6 L807.2 687.4 L807.3 690.3 L807.5 693.2 L807.7 696 L807.9 698.9 L808.1 701.7 L808.3 704.5 L808.4 707.3 L808.6 710.1 L808.8 712.8 L809 715.5 L809.2 718.2 L809.4 720.9 L809.6 723.5 L809.7 726.2 L809.9 728.7 L810.1 731.3 L810.3 733.8 L810.5 736.3 L810.7 738.7 L810.9 741.2 L811 743.5 L811.2 745.9 L811.4 748.2 L811.6 750.4 L811.8 752.7 L812 754.8 L812.1 757 L812.3 759.1 L812.5 761.1 L812.7 763.2 L812.9 765.1 L813.1 767.1 L813.3 769 L813.4 770.8 L813.6 772.6 L813.8 774.4 L814 776.1 L814.2 777.8 L814.4 779.5 L814.6 781.1 L814.7 782.6 L814.9 784.1 L815.1 785.6 L815.3 787.1 L815.5 788.5 L815.7 789.8 L815.8 791.2 L816 792.4 L816.2 793.7 L816.4 794.9 L816.6 796.1 L816.8 797.2 L817 798.3 L817.1 799.4 L817.3 800.4 L817.5 801.4 L817.7 802.4 L817.9 803.3 L818.1 804.2 L818.3 805.1 L818.4 806 L818.6 806.8 L818.8 807.6 L819 808.3 L819.2 809.1 L819.4 809.8 L819.5 810.5 L819.7 811.1 L819.9 811.7 L820.1 812.4 L820.3 812.9 L820.5 813.5 L820.7 814 L820.8 814.6 L821 815.1 L821.2 815.5 L821.4 816 L821.6 816.4 L821.8 816.9 L822 817.3 L822.1 817.7 L822.3 818 L822.5 818.4 L822.7 818.7 L822.9 819.1 L823.1 819.4 L823.2 819.7 L823.4 820 L823.6 820.3 L823.8 820.5 L824 820.8 L824.2 821 L824.4 821.2 L824.5 821.5 L824.7 821.7 L824.9 821.9 L825.1 822.1 L825.3 822.3 L825.5 822.4 L825.7 822.6 L825.8 822.8 L826 822.9 L826.2 823.1 L826.4 823.2 L826.6 823.3 L826.8 823.5 L826.9 823.6 L827.1 823.7 L827.3 823.8 L827.5 823.9 L827.7 824 L827.9 824.1 L828.1 824.2 L828.2 824.3 L828.4 824.4 L828.6 824.5 L828.8 824.6 L829 824.6 L829.2 824.7 L829.3 824.8 L829.5 824.9 L829.7 824.9 L829.9 825 L830.1 825 L830.3 825.1 L830.5 825.2 L830.6 825.2 L830.8 825.3 L831 825.3 L831.2 825.4 L831.4 825.4 L831.6 825.4 L831.8 825.5 L831.9 825.5 L832.1 825.6 L832.3 825.6 L832.5 825.6 L832.7 825.7 L832.9 825.7 L833 825.7 L833.2 825.8 L833.4 825.8 L833.6 825.8 L833.8 825.9 L834 825.9 L834.2 825.9 L834.3 825.9 L834.5 826 L834.7 826 L834.9 826 L835.1 826 L835.3 826.1 L835.5 826.1 L835.6 826.1 L835.8 826.1 L836 826.2 L836.2 826.2 L836.4 826.2 L836.6 826.2 L836.7 826.2 L836.9 826.3 L837.1 826.3 L837.3 826.3 L837.5 826.3 L837.7 826.3 L837.9 826.4 L838 826.4 L838.2 826.4 L838.4 826.4 L838.6 826.4 L838.8 826.4 L839 826.5 L839.2 826.5 L839.3 826.5 L839.5 826.5 L839.7 826.5 L839.9 826.5 L840.1 826.6 L840.3 826.6 L840.4 826.6 L840.6 826.6 L840.8 826.6 L841 826.6 L841.2 826.6 L841.4 826.7 L841.6 826.7 L841.7 826.7 L841.9 826.7 L842.1 826.7 L842.3 826.7 L842.5 826.7 L842.7 826.7 L842.9 826.8 L843 826.8 L843.2 826.8 L843.4 826.8 L843.6 826.8 L843.8 826.8 L844 826.8 L844.1 826.8 L844.3 826.8 L844.5 826.9 L844.7 826.9 L844.9 826.9 L845.1 826.9 L845.3 826.9 L845.4 826.9 L845.6 826.9 L845.8 826.9 L846 826.9 L846.2 827 L846.4 827 L846.6 827 L846.7 827 L846.9 827 L847.1 827 L847.3 827 L847.5 827 L847.7 827 L847.8 827 L848 827 L848.2 827.1 L848.4 827.1 L848.6 827.1 L848.8 827.1 L849 827.1 L849.1 827.1 L849.3 827.1 L849.5 827.1 L849.7 827.1 L849.9 827.1 L850.1 827.1 L850.2 827.1 L850.4 827.2 L850.6 827.2 L850.8 827.2 L851 827.2 L851.2 827.2 L851.4 827.2 L851.5 827.2 L851.7 827.2 L851.9 827.2 L852.1 827.2 L852.3 827.2 L852.5 827.2 L852.7 827.2 L852.8 827.2 L853 827.3 L853.2 827.3 L853.4 827.3 L853.6 827.3 L853.8 827.3 L853.9 827.3 L854.1 827.3 L854.3 827.3 L854.5 827.3 L854.7 827.3 L854.9 827.3 L855.1 827.3 L855.2 827.3 L855.4 827.3 L855.6 827.3 L855.8 827.3 L856 827.4 L856.2 827.4 L856.4 827.4 L856.5 827.4 L856.7 827.4 L856.9 827.4 L857.1 827.4 L857.3 827.4 L857.5 827.4 L857.6 827.4 L857.8 827.4 L858 827.4 L858.2 827.4 L858.4 827.4 L858.6 827.4 L858.8 827.4 L858.9 827.4 L859.1 827.4 L859.3 827.4 L859.5 827.5 L859.7 827.5 L859.9 827.5 L860.1 827.5 L860.2 827.5 L860.4 827.5 L860.6 827.5 L860.8 827.5 L861 827.5 L861.2 827.5 L861.3 827.5 L861.5 827.5 L861.7 827.5 L861.9 827.5 L862.1 827.5 L862.3 827.5 L862.5 827.5 L862.6 827.5 L862.8 827.5 L863 827.5 L863.2 827.5 L863.4 827.5 L863.6 827.6 L863.8 827.6 L863.9 827.6 L864.1 827.6 L864.3 827.6 L864.5 827.6 L864.7 827.6 L864.9 827.6 L865 827.6 L865.2 827.6 L865.4 827.6 L865.6 827.6 L865.8 827.6 L866 827.6 L866.2 827.6 L866.3 827.6 L866.5 827.6 L866.7 827.6 L866.9 827.6 L867.1 827.6 L867.3 827.6 L867.5 827.6 L867.6 827.6 L867.8 827.6 L868 827.6 L868.2 827.6 L868.4 827.6 L868.6 827.7 L868.7 827.7 L868.9 827.7 L869.1 827.7 L869.3 827.7 L869.5 827.7 L869.7 827.7 L869.9 827.7 L870 827.7 L870.2 827.7 L870.4 827.7 L870.6 827.7 L870.8 827.7 L871 827.7 L871.2 827.7 L871.3 827.7 L871.5 827.7 L871.7 827.7 L871.9 827.7 L872.1 827.7 L872.3 827.7 L872.4 827.7 L872.6 827.7 L872.8 827.7 L873 827.7 L873.2 827.7 L873.4 827.7 L873.6 827.7 L873.7 827.7 L873.9 827.7 L874.1 827.7 L874.3 827.7 L874.5 827.7 L874.7 827.7 L874.8 827.8 L875 827.8 L875.2 827.8 L875.4 827.8 L875.6 827.8 L875.8 827.8 L876 827.8 L876.1 827.8 L876.3 827.8 L876.5 827.8 L876.7 827.8 L876.9 827.8 L877.1 827.8 L877.3 827.8 L877.4 827.8 L877.6 827.8 L877.8 827.8 L878 827.8 L878.2 827.8 L878.4 827.8 L878.5 827.8 L878.7 827.8 L878.9 827.8 L879.1 827.8 L879.3 827.8 L879.5 827.8 L879.7 827.8 L879.8 827.8 L880 827.8 L880.2 827.8 L880.4 827.8 L880.6 827.8 L880.8 827.8 L881 827.8 L881.1 827.8 L881.3 827.8 L881.5 827.8 L881.7 827.8 L881.9 827.8 L882.1 827.8 L882.2 827.8 L882.4 827.8 L882.6 827.8 L882.8 827.8 L883 827.9 L883.2 827.9 L883.4 827.9 L883.5 827.9 L883.7 827.9 L883.9 827.9 L884.1 827.9 L884.3 827.9 L884.5 827.9 L884.7 827.9 L884.8 827.9 L885 827.9 L885.2 827.9 L885.4 827.9 L885.6 827.9 L885.8 827.9 L885.9 827.9 L886.1 827.9 L886.3 827.9 L886.5 827.9 L886.7 827.9 L886.9 827.9 L887.1 827.9 L887.2 827.9 L887.4 827.9 L887.6 827.9 L887.8 827.9 L888 827.9 L888.2 827.9" fill="none" stroke="#3a3f7c" stroke-width="1.8"/><path d="M759.4 828.3 L759.4 827.9 L759.6 827.9 L759.8 827.9 L760 827.9 L760.2 827.9 L760.4 827.9 L760.5 827.9 L760.7 827.9 L760.9 827.9 L761.1 827.9 L761.3 827.9 L761.5 827.9 L761.7 827.9 L761.8 827.9 L762 827.9 L762.2 827.9 L762.4 827.9 L762.6 827.9 L762.8 827.9 L762.9 827.9 L763.1 827.9 L763.3 827.8 L763.5 827.8 L763.7 827.8 L763.9 827.8 L764.1 827.8 L764.2 827.8 L764.4 827.8 L764.6 827.8 L764.8 827.8 L765 827.8 L765.2 827.8 L765.4 827.8 L765.5 827.8 L765.7 827.8 L765.9 827.8 L766.1 827.8 L766.3 827.8 L766.5 827.8 L766.6 827.8 L766.8 827.8 L767 827.8 L767.2 827.8 L767.4 827.8 L767.6 827.8 L767.8 827.8 L767.9 827.8 L768.1 827.8 L768.3 827.8 L768.5 827.8 L768.7 827.8 L768.9 827.8 L769.1 827.8 L769.2 827.8 L769.4 827.7 L769.6 827.7 L769.8 827.7 L770 827.7 L770.2 827.7 L770.3 827.7 L770.5 827.7 L770.7 827.7 L770.9 827.7 L771.1 827.7 L771.3 827.7 L771.5 827.7 L771.6 827.7 L771.8 827.7 L772 827.7 L772.2 827.7 L772.4 827.7 L772.6 827.7 L772.8 827.7 L772.9 827.7 L773.1 827.7 L773.3 827.7 L773.5 827.7 L773.7 827.7 L773.9 827.7 L774 827.7 L774.2 827.6 L774.4 827.6 L774.6 827.6 L774.8 827.6 L775 827.6 L775.2 827.6 L775.3 827.6 L775.5 827.6 L775.7 827.6 L775.9 827.6 L776.1 827.6 L776.3 827.6 L776.5 827.6 L776.6 827.6 L776.8 827.6 L777 827.6 L777.2 827.6 L777.4 827.6 L777.6 827.6 L777.7 827.6 L777.9 827.5 L778.1 827.5 L778.3 827.5 L778.5 827.5 L778.7 827.5 L778.9 827.5 L779 827.5 L779.2 827.5 L779.4 827.5 L779.6 827.5 L779.8 827.5 L780 827.5 L780.2 827.5 L780.3 827.5 L780.5 827.5 L780.7 827.5 L780.9 827.4 L781.1 827.4 L781.3 827.4 L781.4 827.4 L781.6 827.4 L781.8 827.4 L782 827.4 L782.2 827.4 L782.4 827.4 L782.6 827.4 L782.7 827.4 L782.9 827.4 L783.1 827.4 L783.3 827.4 L783.5 827.3 L783.7 827.3 L783.8 827.3 L784 827.3 L784.2 827.3 L784.4 827.3 L784.6 827.3 L784.8 827.3 L785 827.3 L785.1 827.3 L785.3 827.3 L785.5 827.3 L785.7 827.2 L785.9 827.2 L786.1 827.2 L786.3 827.2 L786.4 827.2 L786.6 827.2 L786.8 827.2 L787 827.2 L787.2 827.2 L787.4 827.2 L787.5 827.1 L787.7 827.1 L787.9 827.1 L788.1 827.1 L788.3 827.1 L788.5 827.1 L788.7 827.1 L788.8 827.1 L789 827.1 L789.2 827 L789.4 827 L789.6 827 L789.8 827 L790 827 L790.1 827 L790.3 827 L790.5 827 L790.7 826.9 L790.9 826.9 L791.1 826.9 L791.2 826.9 L791.4 826.9 L791.6 826.9 L791.8 826.9 L792 826.8 L792.2 826.8 L792.4 826.8 L792.5 826.8 L792.7 826.8 L792.9 826.8 L793.1 826.7 L793.3 826.7 L793.5 826.7 L793.7 826.7 L793.8 826.7 L794 826.7 L794.2 826.6 L794.4 826.6 L794.6 826.6 L794.8 826.6 L794.9 826.6 L795.1 826.5 L795.3 826.5 L795.5 826.5 L795.7 826.5 L795.9 826.4 L796.1 826.4 L796.2 826.4 L796.4 826.4 L796.6 826.3 L796.8 826.3 L797 826.3 L797.2 826.2 L797.4 826.2 L797.5 826.2 L797.7 826.1 L797.9 826.1 L798.1 826.1 L798.3 826 L798.5 826 L798.6 825.9 L798.8 825.9 L799 825.8 L799.2 825.8 L799.4 825.7 L799.6 825.7 L799.8 825.6 L799.9 825.6 L800.1 825.5 L800.3 825.4 L800.5 825.4 L800.7 825.3 L800.9 825.2 L801.1 825.1 L801.2 825.1 L801.4 825 L801.6 824.9 L801.8 824.8 L802 824.7 L802.2 824.6 L802.3 824.4 L802.5 824.3 L802.7 824.2 L802.9 824 L803.1 823.9 L803.3 823.7 L803.5 823.6 L803.6 823.4 L803.8 823.2 L804 823 L804.2 822.8 L804.4 822.6 L804.6 822.4 L804.8 822.1 L804.9 821.9 L805.1 821.6 L805.3 821.3 L805.5 821 L805.7 820.7 L805.9 820.4 L806 820 L806.2 819.7 L806.4 819.3 L806.6 818.9 L806.8 818.5 L807 818 L807.2 817.6 L807.3 817.1 L807.5 816.5 L807.7 816 L807.9 815.4 L808.1 814.8 L808.3 814.2 L808.4 813.6 L808.6 812.9 L808.8 812.2 L809 811.4 L809.2 810.7 L809.4 809.9 L809.6 809 L809.7 808.1 L809.9 807.2 L810.1 806.3 L810.3 805.3 L810.5 804.3 L810.7 803.2 L810.9 802.1 L811 800.9 L811.2 799.7 L811.4 798.5 L811.6 797.2 L811.8 795.9 L812 794.5 L812.1 793.1 L812.3 791.6 L812.5 790.1 L812.7 788.5 L812.9 786.9 L813.1 785.3 L813.3 783.6 L813.4 781.8 L813.6 780 L813.8 778.2 L814 776.3 L814.2 774.3 L814.4 772.3 L814.6 770.3 L814.7 768.2 L814.9 766.1 L815.1 763.9 L815.3 761.7 L815.5 759.4 L815.7 757.1 L815.8 754.7 L816 752.3 L816.2 749.9 L816.4 747.4 L816.6 744.9 L816.8 742.4 L817 739.8 L817.1 737.2 L817.3 734.6 L817.5 731.9 L817.7 729.2 L817.9 726.5 L818.1 723.8 L818.3 721.1 L818.4 718.3 L818.6 715.5 L818.8 712.8 L819 710 L819.2 707.2 L819.4 704.4 L819.5 701.6 L819.7 698.9 L819.9 696.1 L820.1 693.4 L820.3 690.7 L820.5 688 L820.7 685.3 L820.8 682.7 L821 680.1 L821.2 677.5 L821.4 675 L821.6 672.5 L821.8 670.1 L822 667.7 L822.1 665.4 L822.3 663.1 L822.5 660.9 L822.7 658.8 L822.9 656.8 L823.1 654.8 L823.2 652.9 L823.4 651.1 L823.6 649.4 L823.8 647.8 L824 646.2 L824.2 644.8 L824.4 643.5 L824.5 642.3 L824.7 641.2 L824.9 640.2 L825.1 639.3 L825.3 638.5 L825.5 637.8 L825.7 637.3 L825.8 636.9 L826 636.6 L826.2 636.4 L826.4 636.3 L826.6 636.4 L826.8 636.5 L826.9 636.8 L827.1 637.2 L827.3 637.8 L827.5 638.4 L827.7 639.2 L827.9 640.1 L828.1 641.1 L828.2 642.2 L828.4 643.4 L828.6 644.7 L828.8 646.1 L829 647.6 L829.2 649.2 L829.3 650.9 L829.5 652.7 L829.7 654.6 L829.9 656.6 L830.1 658.6 L830.3 660.7 L830.5 662.9 L830.6 665.1 L830.8 667.4 L831 669.8 L831.2 672.2 L831.4 674.7 L831.6 677.2 L831.8 679.8 L831.9 682.4 L832.1 685 L832.3 687.7 L832.5 690.4 L832.7 693.1 L832.9 695.9 L833 698.6 L833.2 701.4 L833.4 704.1 L833.6 706.9 L833.8 709.7 L834 712.5 L834.2 715.3 L834.3 718 L834.5 720.8 L834.7 723.5 L834.9 726.3 L835.1 729 L835.3 731.6 L835.5 734.3 L835.6 736.9 L835.8 739.6 L836 742.1 L836.2 744.7 L836.4 747.2 L836.6 749.7 L836.7 752.1 L836.9 754.5 L837.1 756.9 L837.3 759.2 L837.5 761.4 L837.7 763.7 L837.9 765.9 L838 768 L838.2 770.1 L838.4 772.1 L838.6 774.1 L838.8 776.1 L839 778 L839.2 779.8 L839.3 781.7 L839.5 783.4 L839.7 785.1 L839.9 786.8 L840.1 788.4 L840.3 790 L840.4 791.5 L840.6 792.9 L840.8 794.4 L841 795.7 L841.2 797.1 L841.4 798.4 L841.6 799.6 L841.7 800.8 L841.9 802 L842.1 803.1 L842.3 804.2 L842.5 805.2 L842.7 806.2 L842.9 807.1 L843 808.1 L843.2 808.9 L843.4 809.8 L843.6 810.6 L843.8 811.4 L844 812.1 L844.1 812.8 L844.3 813.5 L844.5 814.2 L844.7 814.8 L844.9 815.4 L845.1 816 L845.3 816.5 L845.4 817 L845.6 817.5 L845.8 818 L846 818.4 L846.2 818.8 L846.4 819.3 L846.6 819.6 L846.7 820 L846.9 820.4 L847.1 820.7 L847.3 821 L847.5 821.3 L847.7 821.6 L847.8 821.8 L848 822.1 L848.2 822.3 L848.4 822.6 L848.6 822.8 L848.8 823 L849 823.2 L849.1 823.4 L849.3 823.5 L849.5 823.7 L849.7 823.9 L849.9 824 L850.1 824.2 L850.2 824.3 L850.4 824.4 L850.6 824.5 L850.8 824.7 L851 824.8 L851.2 824.9 L851.4 825 L851.5 825 L851.7 825.1 L851.9 825.2 L852.1 825.3 L852.3 825.4 L852.5 825.4 L852.7 825.5 L852.8 825.6 L853 825.6 L853.2 825.7 L853.4 825.7 L853.6 825.8 L853.8 825.8 L853.9 825.9 L854.1 825.9 L854.3 826 L854.5 826 L854.7 826.1 L854.9 826.1 L855.1 826.1 L855.2 826.2 L855.4 826.2 L855.6 826.2 L855.8 826.3 L856 826.3 L856.2 826.3 L856.4 826.4 L856.5 826.4 L856.7 826.4 L856.9 826.4 L857.1 826.5 L857.3 826.5 L857.5 826.5 L857.6 826.5 L857.8 826.6 L858 826.6 L858.2 826.6 L858.4 826.6 L858.6 826.6 L858.8 826.7 L858.9 826.7 L859.1 826.7 L859.3 826.7 L859.5 826.7 L859.7 826.7 L859.9 826.8 L860.1 826.8 L860.2 826.8 L860.4 826.8 L860.6 826.8 L860.8 826.8 L861 826.9 L861.2 826.9 L861.3 826.9 L861.5 826.9 L861.7 826.9 L861.9 826.9 L862.1 826.9 L862.3 827 L862.5 827 L862.6 827 L862.8 827 L863 827 L863.2 827 L863.4 827 L863.6 827 L863.8 827.1 L863.9 827.1 L864.1 827.1 L864.3 827.1 L864.5 827.1 L864.7 827.1 L864.9 827.1 L865 827.1 L865.2 827.1 L865.4 827.2 L865.6 827.2 L865.8 827.2 L866 827.2 L866.2 827.2 L866.3 827.2 L866.5 827.2 L866.7 827.2 L866.9 827.2 L867.1 827.2 L867.3 827.3 L867.5 827.3 L867.6 827.3 L867.8 827.3 L868 827.3 L868.2 827.3 L868.4 827.3 L868.6 827.3 L868.7 827.3 L868.9 827.3 L869.1 827.3 L869.3 827.3 L869.5 827.4 L869.7 827.4 L869.9 827.4 L870 827.4 L870.2 827.4 L870.4 827.4 L870.6 827.4 L870.8 827.4 L871 827.4 L871.2 827.4 L871.3 827.4 L871.5 827.4 L871.7 827.4 L871.9 827.4 L872.1 827.5 L872.3 827.5 L872.4 827.5 L872.6 827.5 L872.8 827.5 L873 827.5 L873.2 827.5 L873.4 827.5 L873.6 827.5 L873.7 827.5 L873.9 827.5 L874.1 827.5 L874.3 827.5 L874.5 827.5 L874.7 827.5 L874.8 827.5 L875 827.6 L875.2 827.6 L875.4 827.6 L875.6 827.6 L875.8 827.6 L876 827.6 L876.1 827.6 L876.3 827.6 L876.5 827.6 L876.7 827.6 L876.9 827.6 L877.1 827.6 L877.3 827.6 L877.4 827.6 L877.6 827.6 L877.8 827.6 L878 827.6 L878.2 827.6 L878.4 827.6 L878.5 827.6 L878.7 827.7 L878.9 827.7 L879.1 827.7 L879.3 827.7 L879.5 827.7 L879.7 827.7 L879.8 827.7 L880 827.7 L880.2 827.7 L880.4 827.7 L880.6 827.7 L880.8 827.7 L881 827.7 L881.1 827.7 L881.3 827.7 L881.5 827.7 L881.7 827.7 L881.9 827.7 L882.1 827.7 L882.2 827.7 L882.4 827.7 L882.6 827.7 L882.8 827.7 L883 827.7 L883.2 827.7 L883.4 827.7 L883.5 827.8 L883.7 827.8 L883.9 827.8 L884.1 827.8 L884.3 827.8 L884.5 827.8 L884.7 827.8 L884.8 827.8 L885 827.8 L885.2 827.8 L885.4 827.8 L885.6 827.8 L885.8 827.8 L885.9 827.8 L886.1 827.8 L886.3 827.8 L886.5 827.8 L886.7 827.8 L886.9 827.8 L887.1 827.8 L887.2 827.8 L887.4 827.8 L887.6 827.8 L887.8 827.8 L888 827.8 L888.2 827.8 L888.4 827.8 L888.5 827.8 L888.7 827.8 L888.9 827.8 L889.1 827.8 L889.3 827.8 L889.5 827.8 L889.6 827.9 L889.8 827.9 L890 827.9 L890.2 827.9 L890.4 827.9 L890.6 827.9 L890.8 827.9 L890.9 827.9 L891.1 827.9 L891.3 827.9 L891.5 827.9 L891.7 827.9 L891.9 827.9 L892.1 827.9 L892.2 827.9 L892.4 827.9 L892.6 827.9 L892.8 827.9 L893 827.9 L893.2 827.9 L893.3 827.9 L893.3 828.3 Z" fill="url(#dg5)" fill-opacity="0.8"/><path d="M759.4 827.9 L759.6 827.9 L759.8 827.9 L760 827.9 L760.2 827.9 L760.4 827.9 L760.5 827.9 L760.7 827.9 L760.9 827.9 L761.1 827.9 L761.3 827.9 L761.5 827.9 L761.7 827.9 L761.8 827.9 L762 827.9 L762.2 827.9 L762.4 827.9 L762.6 827.9 L762.8 827.9 L762.9 827.9 L763.1 827.9 L763.3 827.8 L763.5 827.8 L763.7 827.8 L763.9 827.8 L764.1 827.8 L764.2 827.8 L764.4 827.8 L764.6 827.8 L764.8 827.8 L765 827.8 L765.2 827.8 L765.4 827.8 L765.5 827.8 L765.7 827.8 L765.9 827.8 L766.1 827.8 L766.3 827.8 L766.5 827.8 L766.6 827.8 L766.8 827.8 L767 827.8 L767.2 827.8 L767.4 827.8 L767.6 827.8 L767.8 827.8 L767.9 827.8 L768.1 827.8 L768.3 827.8 L768.5 827.8 L768.7 827.8 L768.9 827.8 L769.1 827.8 L769.2 827.8 L769.4 827.7 L769.6 827.7 L769.8 827.7 L770 827.7 L770.2 827.7 L770.3 827.7 L770.5 827.7 L770.7 827.7 L770.9 827.7 L771.1 827.7 L771.3 827.7 L771.5 827.7 L771.6 827.7 L771.8 827.7 L772 827.7 L772.2 827.7 L772.4 827.7 L772.6 827.7 L772.8 827.7 L772.9 827.7 L773.1 827.7 L773.3 827.7 L773.5 827.7 L773.7 827.7 L773.9 827.7 L774 827.7 L774.2 827.6 L774.4 827.6 L774.6 827.6 L774.8 827.6 L775 827.6 L775.2 827.6 L775.3 827.6 L775.5 827.6 L775.7 827.6 L775.9 827.6 L776.1 827.6 L776.3 827.6 L776.5 827.6 L776.6 827.6 L776.8 827.6 L777 827.6 L777.2 827.6 L777.4 827.6 L777.6 827.6 L777.7 827.6 L777.9 827.5 L778.1 827.5 L778.3 827.5 L778.5 827.5 L778.7 827.5 L778.9 827.5 L779 827.5 L779.2 827.5 L779.4 827.5 L779.6 827.5 L779.8 827.5 L780 827.5 L780.2 827.5 L780.3 827.5 L780.5 827.5 L780.7 827.5 L780.9 827.4 L781.1 827.4 L781.3 827.4 L781.4 827.4 L781.6 827.4 L781.8 827.4 L782 827.4 L782.2 827.4 L782.4 827.4 L782.6 827.4 L782.7 827.4 L782.9 827.4 L783.1 827.4 L783.3 827.4 L783.5 827.3 L783.7 827.3 L783.8 827.3 L784 827.3 L784.2 827.3 L784.4 827.3 L784.6 827.3 L784.8 827.3 L785 827.3 L785.1 827.3 L785.3 827.3 L785.5 827.3 L785.7 827.2 L785.9 827.2 L786.1 827.2 L786.3 827.2 L786.4 827.2 L786.6 827.2 L786.8 827.2 L787 827.2 L787.2 827.2 L787.4 827.2 L787.5 827.1 L787.7 827.1 L787.9 827.1 L788.1 827.1 L788.3 827.1 L788.5 827.1 L788.7 827.1 L788.8 827.1 L789 827.1 L789.2 827 L789.4 827 L789.6 827 L789.8 827 L790 827 L790.1 827 L790.3 827 L790.5 827 L790.7 826.9 L790.9 826.9 L791.1 826.9 L791.2 826.9 L791.4 826.9 L791.6 826.9 L791.8 826.9 L792 826.8 L792.2 826.8 L792.4 826.8 L792.5 826.8 L792.7 826.8 L792.9 826.8 L793.1 826.7 L793.3 826.7 L793.5 826.7 L793.7 826.7 L793.8 826.7 L794 826.7 L794.2 826.6 L794.4 826.6 L794.6 826.6 L794.8 826.6 L794.9 826.6 L795.1 826.5 L795.3 826.5 L795.5 826.5 L795.7 826.5 L795.9 826.4 L796.1 826.4 L796.2 826.4 L796.4 826.4 L796.6 826.3 L796.8 826.3 L797 826.3 L797.2 826.2 L797.4 826.2 L797.5 826.2 L797.7 826.1 L797.9 826.1 L798.1 826.1 L798.3 826 L798.5 826 L798.6 825.9 L798.8 825.9 L799 825.8 L799.2 825.8 L799.4 825.7 L799.6 825.7 L799.8 825.6 L799.9 825.6 L800.1 825.5 L800.3 825.4 L800.5 825.4 L800.7 825.3 L800.9 825.2 L801.1 825.1 L801.2 825.1 L801.4 825 L801.6 824.9 L801.8 824.8 L802 824.7 L802.2 824.6 L802.3 824.4 L802.5 824.3 L802.7 824.2 L802.9 824 L803.1 823.9 L803.3 823.7 L803.5 823.6 L803.6 823.4 L803.8 823.2 L804 823 L804.2 822.8 L804.4 822.6 L804.6 822.4 L804.8 822.1 L804.9 821.9 L805.1 821.6 L805.3 821.3 L805.5 821 L805.7 820.7 L805.9 820.4 L806 820 L806.2 819.7 L806.4 819.3 L806.6 818.9 L806.8 818.5 L807 818 L807.2 817.6 L807.3 817.1 L807.5 816.5 L807.7 816 L807.9 815.4 L808.1 814.8 L808.3 814.2 L808.4 813.6 L808.6 812.9 L808.8 812.2 L809 811.4 L809.2 810.7 L809.4 809.9 L809.6 809 L809.7 808.1 L809.9 807.2 L810.1 806.3 L810.3 805.3 L810.5 804.3 L810.7 803.2 L810.9 802.1 L811 800.9 L811.2 799.7 L811.4 798.5 L811.6 797.2 L811.8 795.9 L812 794.5 L812.1 793.1 L812.3 791.6 L812.5 790.1 L812.7 788.5 L812.9 786.9 L813.1 785.3 L813.3 783.6 L813.4 781.8 L813.6 780 L813.8 778.2 L814 776.3 L814.2 774.3 L814.4 772.3 L814.6 770.3 L814.7 768.2 L814.9 766.1 L815.1 763.9 L815.3 761.7 L815.5 759.4 L815.7 757.1 L815.8 754.7 L816 752.3 L816.2 749.9 L816.4 747.4 L816.6 744.9 L816.8 742.4 L817 739.8 L817.1 737.2 L817.3 734.6 L817.5 731.9 L817.7 729.2 L817.9 726.5 L818.1 723.8 L818.3 721.1 L818.4 718.3 L818.6 715.5 L818.8 712.8 L819 710 L819.2 707.2 L819.4 704.4 L819.5 701.6 L819.7 698.9 L819.9 696.1 L820.1 693.4 L820.3 690.7 L820.5 688 L820.7 685.3 L820.8 682.7 L821 680.1 L821.2 677.5 L821.4 675 L821.6 672.5 L821.8 670.1 L822 667.7 L822.1 665.4 L822.3 663.1 L822.5 660.9 L822.7 658.8 L822.9 656.8 L823.1 654.8 L823.2 652.9 L823.4 651.1 L823.6 649.4 L823.8 647.8 L824 646.2 L824.2 644.8 L824.4 643.5 L824.5 642.3 L824.7 641.2 L824.9 640.2 L825.1 639.3 L825.3 638.5 L825.5 637.8 L825.7 637.3 L825.8 636.9 L826 636.6 L826.2 636.4 L826.4 636.3 L826.6 636.4 L826.8 636.5 L826.9 636.8 L827.1 637.2 L827.3 637.8 L827.5 638.4 L827.7 639.2 L827.9 640.1 L828.1 641.1 L828.2 642.2 L828.4 643.4 L828.6 644.7 L828.8 646.1 L829 647.6 L829.2 649.2 L829.3 650.9 L829.5 652.7 L829.7 654.6 L829.9 656.6 L830.1 658.6 L830.3 660.7 L830.5 662.9 L830.6 665.1 L830.8 667.4 L831 669.8 L831.2 672.2 L831.4 674.7 L831.6 677.2 L831.8 679.8 L831.9 682.4 L832.1 685 L832.3 687.7 L832.5 690.4 L832.7 693.1 L832.9 695.9 L833 698.6 L833.2 701.4 L833.4 704.1 L833.6 706.9 L833.8 709.7 L834 712.5 L834.2 715.3 L834.3 718 L834.5 720.8 L834.7 723.5 L834.9 726.3 L835.1 729 L835.3 731.6 L835.5 734.3 L835.6 736.9 L835.8 739.6 L836 742.1 L836.2 744.7 L836.4 747.2 L836.6 749.7 L836.7 752.1 L836.9 754.5 L837.1 756.9 L837.3 759.2 L837.5 761.4 L837.7 763.7 L837.9 765.9 L838 768 L838.2 770.1 L838.4 772.1 L838.6 774.1 L838.8 776.1 L839 778 L839.2 779.8 L839.3 781.7 L839.5 783.4 L839.7 785.1 L839.9 786.8 L840.1 788.4 L840.3 790 L840.4 791.5 L840.6 792.9 L840.8 794.4 L841 795.7 L841.2 797.1 L841.4 798.4 L841.6 799.6 L841.7 800.8 L841.9 802 L842.1 803.1 L842.3 804.2 L842.5 805.2 L842.7 806.2 L842.9 807.1 L843 808.1 L843.2 808.9 L843.4 809.8 L843.6 810.6 L843.8 811.4 L844 812.1 L844.1 812.8 L844.3 813.5 L844.5 814.2 L844.7 814.8 L844.9 815.4 L845.1 816 L845.3 816.5 L845.4 817 L845.6 817.5 L845.8 818 L846 818.4 L846.2 818.8 L846.4 819.3 L846.6 819.6 L846.7 820 L846.9 820.4 L847.1 820.7 L847.3 821 L847.5 821.3 L847.7 821.6 L847.8 821.8 L848 822.1 L848.2 822.3 L848.4 822.6 L848.6 822.8 L848.8 823 L849 823.2 L849.1 823.4 L849.3 823.5 L849.5 823.7 L849.7 823.9 L849.9 824 L850.1 824.2 L850.2 824.3 L850.4 824.4 L850.6 824.5 L850.8 824.7 L851 824.8 L851.2 824.9 L851.4 825 L851.5 825 L851.7 825.1 L851.9 825.2 L852.1 825.3 L852.3 825.4 L852.5 825.4 L852.7 825.5 L852.8 825.6 L853 825.6 L853.2 825.7 L853.4 825.7 L853.6 825.8 L853.8 825.8 L853.9 825.9 L854.1 825.9 L854.3 826 L854.5 826 L854.7 826.1 L854.9 826.1 L855.1 826.1 L855.2 826.2 L855.4 826.2 L855.6 826.2 L855.8 826.3 L856 826.3 L856.2 826.3 L856.4 826.4 L856.5 826.4 L856.7 826.4 L856.9 826.4 L857.1 826.5 L857.3 826.5 L857.5 826.5 L857.6 826.5 L857.8 826.6 L858 826.6 L858.2 826.6 L858.4 826.6 L858.6 826.6 L858.8 826.7 L858.9 826.7 L859.1 826.7 L859.3 826.7 L859.5 826.7 L859.7 826.7 L859.9 826.8 L860.1 826.8 L860.2 826.8 L860.4 826.8 L860.6 826.8 L860.8 826.8 L861 826.9 L861.2 826.9 L861.3 826.9 L861.5 826.9 L861.7 826.9 L861.9 826.9 L862.1 826.9 L862.3 827 L862.5 827 L862.6 827 L862.8 827 L863 827 L863.2 827 L863.4 827 L863.6 827 L863.8 827.1 L863.9 827.1 L864.1 827.1 L864.3 827.1 L864.5 827.1 L864.7 827.1 L864.9 827.1 L865 827.1 L865.2 827.1 L865.4 827.2 L865.6 827.2 L865.8 827.2 L866 827.2 L866.2 827.2 L866.3 827.2 L866.5 827.2 L866.7 827.2 L866.9 827.2 L867.1 827.2 L867.3 827.3 L867.5 827.3 L867.6 827.3 L867.8 827.3 L868 827.3 L868.2 827.3 L868.4 827.3 L868.6 827.3 L868.7 827.3 L868.9 827.3 L869.1 827.3 L869.3 827.3 L869.5 827.4 L869.7 827.4 L869.9 827.4 L870 827.4 L870.2 827.4 L870.4 827.4 L870.6 827.4 L870.8 827.4 L871 827.4 L871.2 827.4 L871.3 827.4 L871.5 827.4 L871.7 827.4 L871.9 827.4 L872.1 827.5 L872.3 827.5 L872.4 827.5 L872.6 827.5 L872.8 827.5 L873 827.5 L873.2 827.5 L873.4 827.5 L873.6 827.5 L873.7 827.5 L873.9 827.5 L874.1 827.5 L874.3 827.5 L874.5 827.5 L874.7 827.5 L874.8 827.5 L875 827.6 L875.2 827.6 L875.4 827.6 L875.6 827.6 L875.8 827.6 L876 827.6 L876.1 827.6 L876.3 827.6 L876.5 827.6 L876.7 827.6 L876.9 827.6 L877.1 827.6 L877.3 827.6 L877.4 827.6 L877.6 827.6 L877.8 827.6 L878 827.6 L878.2 827.6 L878.4 827.6 L878.5 827.6 L878.7 827.7 L878.9 827.7 L879.1 827.7 L879.3 827.7 L879.5 827.7 L879.7 827.7 L879.8 827.7 L880 827.7 L880.2 827.7 L880.4 827.7 L880.6 827.7 L880.8 827.7 L881 827.7 L881.1 827.7 L881.3 827.7 L881.5 827.7 L881.7 827.7 L881.9 827.7 L882.1 827.7 L882.2 827.7 L882.4 827.7 L882.6 827.7 L882.8 827.7 L883 827.7 L883.2 827.7 L883.4 827.7 L883.5 827.8 L883.7 827.8 L883.9 827.8 L884.1 827.8 L884.3 827.8 L884.5 827.8 L884.7 827.8 L884.8 827.8 L885 827.8 L885.2 827.8 L885.4 827.8 L885.6 827.8 L885.8 827.8 L885.9 827.8 L886.1 827.8 L886.3 827.8 L886.5 827.8 L886.7 827.8 L886.9 827.8 L887.1 827.8 L887.2 827.8 L887.4 827.8 L887.6 827.8 L887.8 827.8 L888 827.8 L888.2 827.8 L888.4 827.8 L888.5 827.8 L888.7 827.8 L888.9 827.8 L889.1 827.8 L889.3 827.8 L889.5 827.8 L889.6 827.9 L889.8 827.9 L890 827.9 L890.2 827.9 L890.4 827.9 L890.6 827.9 L890.8 827.9 L890.9 827.9 L891.1 827.9 L891.3 827.9 L891.5 827.9 L891.7 827.9 L891.9 827.9 L892.1 827.9 L892.2 827.9 L892.4 827.9 L892.6 827.9 L892.8 827.9 L893 827.9 L893.2 827.9 L893.3 827.9" fill="none" stroke="#909090" stroke-width="1.8"/><path d="M824.7 828.3 L824.7 827.9 L824.9 827.8 L825.1 827.8 L825.3 827.7 L825.5 827.7 L825.7 827.6 L825.8 827.6 L826 827.5 L826.2 827.5 L826.4 827.4 L826.6 827.3 L826.8 827.2 L826.9 827.1 L827.1 827 L827.3 826.9 L827.5 826.8 L827.7 826.7 L827.9 826.6 L828.1 826.5 L828.2 826.3 L828.4 826.2 L828.6 826 L828.8 825.8 L829 825.6 L829.2 825.5 L829.3 825.3 L829.5 825 L829.7 824.8 L829.9 824.6 L830.1 824.3 L830.3 824 L830.5 823.8 L830.6 823.5 L830.8 823.1 L831 822.8 L831.2 822.5 L831.4 822.1 L831.6 821.7 L831.8 821.3 L831.9 820.9 L832.1 820.4 L832.3 820 L832.5 819.5 L832.7 819 L832.9 818.5 L833 817.9 L833.2 817.3 L833.4 816.7 L833.6 816.1 L833.8 815.5 L834 814.8 L834.2 814.1 L834.3 813.4 L834.5 812.7 L834.7 811.9 L834.9 811.1 L835.1 810.3 L835.3 809.5 L835.5 808.6 L835.6 807.8 L835.8 806.8 L836 805.9 L836.2 805 L836.4 804 L836.6 803 L836.7 802 L836.9 801 L837.1 799.9 L837.3 798.8 L837.5 797.7 L837.7 796.6 L837.9 795.5 L838 794.4 L838.2 793.2 L838.4 792 L838.6 790.9 L838.8 789.7 L839 788.5 L839.2 787.3 L839.3 786.1 L839.5 784.9 L839.7 783.7 L839.9 782.5 L840.1 781.3 L840.3 780 L840.4 778.9 L840.6 777.7 L840.8 776.5 L841 775.3 L841.2 774.2 L841.4 773 L841.6 771.9 L841.7 770.8 L841.9 769.8 L842.1 768.7 L842.3 767.7 L842.5 766.7 L842.7 765.7 L842.9 764.8 L843 763.9 L843.2 763 L843.4 762.2 L843.6 761.4 L843.8 760.7 L844 760 L844.1 759.3 L844.3 758.7 L844.5 758.2 L844.7 757.6 L844.9 757.2 L845.1 756.8 L845.3 756.4 L845.4 756.1 L845.6 755.8 L845.8 755.6 L846 755.4 L846.2 755.3 L846.4 755.3 L846.6 755.3 L846.7 755.4 L846.9 755.5 L847.1 755.7 L847.3 755.9 L847.5 756.2 L847.7 756.5 L847.8 756.9 L848 757.3 L848.2 757.8 L848.4 758.3 L848.6 758.9 L848.8 759.5 L849 760.2 L849.1 760.9 L849.3 761.7 L849.5 762.5 L849.7 763.3 L849.9 764.2 L850.1 765.1 L850.2 766 L850.4 767 L850.6 768 L850.8 769 L851 770.1 L851.2 771.2 L851.4 772.3 L851.5 773.4 L851.7 774.5 L851.9 775.7 L852.1 776.9 L852.3 778 L852.5 779.2 L852.7 780.4 L852.8 781.6 L853 782.8 L853.2 784.1 L853.4 785.3 L853.6 786.5 L853.8 787.7 L853.9 788.9 L854.1 790.1 L854.3 791.2 L854.5 792.4 L854.7 793.6 L854.9 794.7 L855.1 795.9 L855.2 797 L855.4 798.1 L855.6 799.2 L855.8 800.2 L856 801.3 L856.2 802.3 L856.4 803.3 L856.5 804.3 L856.7 805.3 L856.9 806.2 L857.1 807.1 L857.3 808 L857.5 808.9 L857.6 809.8 L857.8 810.6 L858 811.4 L858.2 812.2 L858.4 812.9 L858.6 813.6 L858.8 814.4 L858.9 815 L859.1 815.7 L859.3 816.3 L859.5 816.9 L859.7 817.5 L859.9 818.1 L860.1 818.6 L860.2 819.1 L860.4 819.6 L860.6 820.1 L860.8 820.6 L861 821 L861.2 821.4 L861.3 821.8 L861.5 822.2 L861.7 822.6 L861.9 822.9 L862.1 823.2 L862.3 823.6 L862.5 823.8 L862.6 824.1 L862.8 824.4 L863 824.6 L863.2 824.9 L863.4 825.1 L863.6 825.3 L863.8 825.5 L863.9 825.7 L864.1 825.9 L864.3 826.1 L864.5 826.2 L864.7 826.4 L864.9 826.5 L865 826.6 L865.2 826.7 L865.4 826.9 L865.6 827 L865.8 827.1 L866 827.2 L866.2 827.2 L866.3 827.3 L866.5 827.4 L866.7 827.5 L866.9 827.5 L867.1 827.6 L867.3 827.7 L867.5 827.7 L867.6 827.8 L867.8 827.8 L868 827.8 L868.2 827.9 L868.2 828.3 Z" fill="url(#dg6)" fill-opacity="0.85"/><path d="M824.7 827.9 L824.9 827.8 L825.1 827.8 L825.3 827.7 L825.5 827.7 L825.7 827.6 L825.8 827.6 L826 827.5 L826.2 827.5 L826.4 827.4 L826.6 827.3 L826.8 827.2 L826.9 827.1 L827.1 827 L827.3 826.9 L827.5 826.8 L827.7 826.7 L827.9 826.6 L828.1 826.5 L828.2 826.3 L828.4 826.2 L828.6 826 L828.8 825.8 L829 825.6 L829.2 825.5 L829.3 825.3 L829.5 825 L829.7 824.8 L829.9 824.6 L830.1 824.3 L830.3 824 L830.5 823.8 L830.6 823.5 L830.8 823.1 L831 822.8 L831.2 822.5 L831.4 822.1 L831.6 821.7 L831.8 821.3 L831.9 820.9 L832.1 820.4 L832.3 820 L832.5 819.5 L832.7 819 L832.9 818.5 L833 817.9 L833.2 817.3 L833.4 816.7 L833.6 816.1 L833.8 815.5 L834 814.8 L834.2 814.1 L834.3 813.4 L834.5 812.7 L834.7 811.9 L834.9 811.1 L835.1 810.3 L835.3 809.5 L835.5 808.6 L835.6 807.8 L835.8 806.8 L836 805.9 L836.2 805 L836.4 804 L836.6 803 L836.7 802 L836.9 801 L837.1 799.9 L837.3 798.8 L837.5 797.7 L837.7 796.6 L837.9 795.5 L838 794.4 L838.2 793.2 L838.4 792 L838.6 790.9 L838.8 789.7 L839 788.5 L839.2 787.3 L839.3 786.1 L839.5 784.9 L839.7 783.7 L839.9 782.5 L840.1 781.3 L840.3 780 L840.4 778.9 L840.6 777.7 L840.8 776.5 L841 775.3 L841.2 774.2 L841.4 773 L841.6 771.9 L841.7 770.8 L841.9 769.8 L842.1 768.7 L842.3 767.7 L842.5 766.7 L842.7 765.7 L842.9 764.8 L843 763.9 L843.2 763 L843.4 762.2 L843.6 761.4 L843.8 760.7 L844 760 L844.1 759.3 L844.3 758.7 L844.5 758.2 L844.7 757.6 L844.9 757.2 L845.1 756.8 L845.3 756.4 L845.4 756.1 L845.6 755.8 L845.8 755.6 L846 755.4 L846.2 755.3 L846.4 755.3 L846.6 755.3 L846.7 755.4 L846.9 755.5 L847.1 755.7 L847.3 755.9 L847.5 756.2 L847.7 756.5 L847.8 756.9 L848 757.3 L848.2 757.8 L848.4 758.3 L848.6 758.9 L848.8 759.5 L849 760.2 L849.1 760.9 L849.3 761.7 L849.5 762.5 L849.7 763.3 L849.9 764.2 L850.1 765.1 L850.2 766 L850.4 767 L850.6 768 L850.8 769 L851 770.1 L851.2 771.2 L851.4 772.3 L851.5 773.4 L851.7 774.5 L851.9 775.7 L852.1 776.9 L852.3 778 L852.5 779.2 L852.7 780.4 L852.8 781.6 L853 782.8 L853.2 784.1 L853.4 785.3 L853.6 786.5 L853.8 787.7 L853.9 788.9 L854.1 790.1 L854.3 791.2 L854.5 792.4 L854.7 793.6 L854.9 794.7 L855.1 795.9 L855.2 797 L855.4 798.1 L855.6 799.2 L855.8 800.2 L856 801.3 L856.2 802.3 L856.4 803.3 L856.5 804.3 L856.7 805.3 L856.9 806.2 L857.1 807.1 L857.3 808 L857.5 808.9 L857.6 809.8 L857.8 810.6 L858 811.4 L858.2 812.2 L858.4 812.9 L858.6 813.6 L858.8 814.4 L858.9 815 L859.1 815.7 L859.3 816.3 L859.5 816.9 L859.7 817.5 L859.9 818.1 L860.1 818.6 L860.2 819.1 L860.4 819.6 L860.6 820.1 L860.8 820.6 L861 821 L861.2 821.4 L861.3 821.8 L861.5 822.2 L861.7 822.6 L861.9 822.9 L862.1 823.2 L862.3 823.6 L862.5 823.8 L862.6 824.1 L862.8 824.4 L863 824.6 L863.2 824.9 L863.4 825.1 L863.6 825.3 L863.8 825.5 L863.9 825.7 L864.1 825.9 L864.3 826.1 L864.5 826.2 L864.7 826.4 L864.9 826.5 L865 826.6 L865.2 826.7 L865.4 826.9 L865.6 827 L865.8 827.1 L866 827.2 L866.2 827.2 L866.3 827.3 L866.5 827.4 L866.7 827.5 L866.9 827.5 L867.1 827.6 L867.3 827.7 L867.5 827.7 L867.6 827.8 L867.8 827.8 L868 827.8 L868.2 827.9" fill="none" stroke="#f09a9a" stroke-width="1.8"/><path d="M846.2 828.3 L846.2 827.9 L846.4 827.9 L846.6 827.8 L846.7 827.8 L846.9 827.7 L847.1 827.7 L847.3 827.6 L847.5 827.6 L847.7 827.5 L847.8 827.5 L848 827.4 L848.2 827.3 L848.4 827.3 L848.6 827.2 L848.8 827.1 L849 827 L849.1 826.9 L849.3 826.8 L849.5 826.7 L849.7 826.6 L849.9 826.5 L850.1 826.3 L850.2 826.2 L850.4 826.1 L850.6 825.9 L850.8 825.7 L851 825.6 L851.2 825.4 L851.4 825.2 L851.5 825 L851.7 824.8 L851.9 824.6 L852.1 824.3 L852.3 824.1 L852.5 823.8 L852.7 823.5 L852.8 823.3 L853 823 L853.2 822.6 L853.4 822.3 L853.6 822 L853.8 821.6 L853.9 821.2 L854.1 820.9 L854.3 820.4 L854.5 820 L854.7 819.6 L854.9 819.1 L855.1 818.7 L855.2 818.2 L855.4 817.6 L855.6 817.1 L855.8 816.6 L856 816 L856.2 815.4 L856.4 814.8 L856.5 814.2 L856.7 813.5 L856.9 812.9 L857.1 812.2 L857.3 811.5 L857.5 810.7 L857.6 810 L857.8 809.2 L858 808.5 L858.2 807.7 L858.4 806.8 L858.6 806 L858.8 805.2 L858.9 804.3 L859.1 803.4 L859.3 802.5 L859.5 801.6 L859.7 800.6 L859.9 799.7 L860.1 798.7 L860.2 797.8 L860.4 796.8 L860.6 795.8 L860.8 794.8 L861 793.8 L861.2 792.8 L861.3 791.7 L861.5 790.7 L861.7 789.7 L861.9 788.6 L862.1 787.6 L862.3 786.6 L862.5 785.5 L862.6 784.5 L862.8 783.5 L863 782.4 L863.2 781.4 L863.4 780.4 L863.6 779.4 L863.8 778.4 L863.9 777.5 L864.1 776.5 L864.3 775.6 L864.5 774.6 L864.7 773.7 L864.9 772.9 L865 772 L865.2 771.2 L865.4 770.4 L865.6 769.6 L865.8 768.8 L866 768.1 L866.2 767.4 L866.3 766.7 L866.5 766.1 L866.7 765.5 L866.9 764.9 L867.1 764.4 L867.3 763.9 L867.5 763.5 L867.6 763.1 L867.8 762.7 L868 762.4 L868.2 762.1 L868.4 761.9 L868.6 761.7 L868.7 761.5 L868.9 761.4 L869.1 761.3 L869.3 761.3 L869.5 761.3 L869.7 761.4 L869.9 761.5 L870 761.6 L870.2 761.8 L870.4 762.1 L870.6 762.3 L870.8 762.6 L871 763 L871.2 763.4 L871.3 763.8 L871.5 764.3 L871.7 764.8 L871.9 765.4 L872.1 766 L872.3 766.6 L872.4 767.3 L872.6 767.9 L872.8 768.7 L873 769.4 L873.2 770.2 L873.4 771 L873.6 771.8 L873.7 772.7 L873.9 773.6 L874.1 774.5 L874.3 775.4 L874.5 776.3 L874.7 777.3 L874.8 778.2 L875 779.2 L875.2 780.2 L875.4 781.2 L875.6 782.2 L875.8 783.3 L876 784.3 L876.1 785.3 L876.3 786.4 L876.5 787.4 L876.7 788.4 L876.9 789.5 L877.1 790.5 L877.3 791.5 L877.4 792.6 L877.6 793.6 L877.8 794.6 L878 795.6 L878.2 796.6 L878.4 797.6 L878.5 798.5 L878.7 799.5 L878.9 800.5 L879.1 801.4 L879.3 802.3 L879.5 803.2 L879.7 804.1 L879.8 805 L880 805.8 L880.2 806.7 L880.4 807.5 L880.6 808.3 L880.8 809.1 L881 809.9 L881.1 810.6 L881.3 811.3 L881.5 812 L881.7 812.7 L881.9 813.4 L882.1 814 L882.2 814.7 L882.4 815.3 L882.6 815.9 L882.8 816.5 L883 817 L883.2 817.5 L883.4 818.1 L883.5 818.6 L883.7 819 L883.9 819.5 L884.1 819.9 L884.3 820.4 L884.5 820.8 L884.7 821.2 L884.8 821.5 L885 821.9 L885.2 822.3 L885.4 822.6 L885.6 822.9 L885.8 823.2 L885.9 823.5 L886.1 823.8 L886.3 824 L886.5 824.3 L886.7 824.5 L886.9 824.7 L887.1 825 L887.2 825.2 L887.4 825.4 L887.6 825.5 L887.8 825.7 L888 825.9 L888.2 826 L888.4 826.2 L888.5 826.3 L888.7 826.4 L888.9 826.6 L889.1 826.7 L889.3 826.8 L889.5 826.9 L889.6 827 L889.8 827.1 L890 827.2 L890.2 827.2 L890.4 827.3 L890.6 827.4 L890.8 827.5 L890.9 827.5 L891.1 827.6 L891.3 827.6 L891.5 827.7 L891.7 827.7 L891.9 827.8 L892.1 827.8 L892.2 827.9 L892.4 827.9 L892.4 828.3 Z" fill="url(#dg7)" fill-opacity="0.8"/><path d="M846.2 827.9 L846.4 827.9 L846.6 827.8 L846.7 827.8 L846.9 827.7 L847.1 827.7 L847.3 827.6 L847.5 827.6 L847.7 827.5 L847.8 827.5 L848 827.4 L848.2 827.3 L848.4 827.3 L848.6 827.2 L848.8 827.1 L849 827 L849.1 826.9 L849.3 826.8 L849.5 826.7 L849.7 826.6 L849.9 826.5 L850.1 826.3 L850.2 826.2 L850.4 826.1 L850.6 825.9 L850.8 825.7 L851 825.6 L851.2 825.4 L851.4 825.2 L851.5 825 L851.7 824.8 L851.9 824.6 L852.1 824.3 L852.3 824.1 L852.5 823.8 L852.7 823.5 L852.8 823.3 L853 823 L853.2 822.6 L853.4 822.3 L853.6 822 L853.8 821.6 L853.9 821.2 L854.1 820.9 L854.3 820.4 L854.5 820 L854.7 819.6 L854.9 819.1 L855.1 818.7 L855.2 818.2 L855.4 817.6 L855.6 817.1 L855.8 816.6 L856 816 L856.2 815.4 L856.4 814.8 L856.5 814.2 L856.7 813.5 L856.9 812.9 L857.1 812.2 L857.3 811.5 L857.5 810.7 L857.6 810 L857.8 809.2 L858 808.5 L858.2 807.7 L858.4 806.8 L858.6 806 L858.8 805.2 L858.9 804.3 L859.1 803.4 L859.3 802.5 L859.5 801.6 L859.7 800.6 L859.9 799.7 L860.1 798.7 L860.2 797.8 L860.4 796.8 L860.6 795.8 L860.8 794.8 L861 793.8 L861.2 792.8 L861.3 791.7 L861.5 790.7 L861.7 789.7 L861.9 788.6 L862.1 787.6 L862.3 786.6 L862.5 785.5 L862.6 784.5 L862.8 783.5 L863 782.4 L863.2 781.4 L863.4 780.4 L863.6 779.4 L863.8 778.4 L863.9 777.5 L864.1 776.5 L864.3 775.6 L864.5 774.6 L864.7 773.7 L864.9 772.9 L865 772 L865.2 771.2 L865.4 770.4 L865.6 769.6 L865.8 768.8 L866 768.1 L866.2 767.4 L866.3 766.7 L866.5 766.1 L866.7 765.5 L866.9 764.9 L867.1 764.4 L867.3 763.9 L867.5 763.5 L867.6 763.1 L867.8 762.7 L868 762.4 L868.2 762.1 L868.4 761.9 L868.6 761.7 L868.7 761.5 L868.9 761.4 L869.1 761.3 L869.3 761.3 L869.5 761.3 L869.7 761.4 L869.9 761.5 L870 761.6 L870.2 761.8 L870.4 762.1 L870.6 762.3 L870.8 762.6 L871 763 L871.2 763.4 L871.3 763.8 L871.5 764.3 L871.7 764.8 L871.9 765.4 L872.1 766 L872.3 766.6 L872.4 767.3 L872.6 767.9 L872.8 768.7 L873 769.4 L873.2 770.2 L873.4 771 L873.6 771.8 L873.7 772.7 L873.9 773.6 L874.1 774.5 L874.3 775.4 L874.5 776.3 L874.7 777.3 L874.8 778.2 L875 779.2 L875.2 780.2 L875.4 781.2 L875.6 782.2 L875.8 783.3 L876 784.3 L876.1 785.3 L876.3 786.4 L876.5 787.4 L876.7 788.4 L876.9 789.5 L877.1 790.5 L877.3 791.5 L877.4 792.6 L877.6 793.6 L877.8 794.6 L878 795.6 L878.2 796.6 L878.4 797.6 L878.5 798.5 L878.7 799.5 L878.9 800.5 L879.1 801.4 L879.3 802.3 L879.5 803.2 L879.7 804.1 L879.8 805 L880 805.8 L880.2 806.7 L880.4 807.5 L880.6 808.3 L880.8 809.1 L881 809.9 L881.1 810.6 L881.3 811.3 L881.5 812 L881.7 812.7 L881.9 813.4 L882.1 814 L882.2 814.7 L882.4 815.3 L882.6 815.9 L882.8 816.5 L883 817 L883.2 817.5 L883.4 818.1 L883.5 818.6 L883.7 819 L883.9 819.5 L884.1 819.9 L884.3 820.4 L884.5 820.8 L884.7 821.2 L884.8 821.5 L885 821.9 L885.2 822.3 L885.4 822.6 L885.6 822.9 L885.8 823.2 L885.9 823.5 L886.1 823.8 L886.3 824 L886.5 824.3 L886.7 824.5 L886.9 824.7 L887.1 825 L887.2 825.2 L887.4 825.4 L887.6 825.5 L887.8 825.7 L888 825.9 L888.2 826 L888.4 826.2 L888.5 826.3 L888.7 826.4 L888.9 826.6 L889.1 826.7 L889.3 826.8 L889.5 826.9 L889.6 827 L889.8 827.1 L890 827.2 L890.2 827.2 L890.4 827.3 L890.6 827.4 L890.8 827.5 L890.9 827.5 L891.1 827.6 L891.3 827.6 L891.5 827.7 L891.7 827.7 L891.9 827.8 L892.1 827.8 L892.2 827.9 L892.4 827.9" fill="none" stroke="#5a98cf" stroke-width="1.8"/><path d="M955.9 828.3 L955.9 827.9 L956 827.9 L956.2 827.8 L956.4 827.8 L956.6 827.8 L956.8 827.8 L957 827.7 L957.2 827.7 L957.3 827.7 L957.5 827.6 L957.7 827.6 L957.9 827.6 L958.1 827.5 L958.3 827.5 L958.5 827.4 L958.6 827.4 L958.8 827.4 L959 827.3 L959.2 827.3 L959.4 827.2 L959.6 827.2 L959.7 827.1 L959.9 827 L960.1 827 L960.3 826.9 L960.5 826.8 L960.7 826.8 L960.9 826.7 L961 826.6 L961.2 826.5 L961.4 826.4 L961.6 826.4 L961.8 826.3 L962 826.2 L962.1 826.1 L962.3 826 L962.5 825.9 L962.7 825.7 L962.9 825.6 L963.1 825.5 L963.3 825.4 L963.4 825.2 L963.6 825.1 L963.8 825 L964 824.8 L964.2 824.7 L964.4 824.5 L964.6 824.3 L964.7 824.2 L964.9 824 L965.1 823.8 L965.3 823.6 L965.5 823.4 L965.7 823.2 L965.8 823 L966 822.8 L966.2 822.5 L966.4 822.3 L966.6 822.1 L966.8 821.8 L967 821.5 L967.1 821.3 L967.3 821 L967.5 820.7 L967.7 820.4 L967.9 820.1 L968.1 819.7 L968.3 819.4 L968.4 819.1 L968.6 818.7 L968.8 818.3 L969 818 L969.2 817.6 L969.4 817.2 L969.5 816.8 L969.7 816.3 L969.9 815.9 L970.1 815.4 L970.3 815 L970.5 814.5 L970.7 814 L970.8 813.5 L971 813 L971.2 812.4 L971.4 811.9 L971.6 811.3 L971.8 810.7 L972 810.1 L972.1 809.5 L972.3 808.8 L972.5 808.2 L972.7 807.5 L972.9 806.8 L973.1 806.1 L973.2 805.4 L973.4 804.7 L973.6 803.9 L973.8 803.1 L974 802.3 L974.2 801.5 L974.4 800.7 L974.5 799.8 L974.7 798.9 L974.9 798 L975.1 797.1 L975.3 796.2 L975.5 795.2 L975.7 794.2 L975.8 793.2 L976 792.2 L976.2 791.2 L976.4 790.1 L976.6 789 L976.8 787.9 L976.9 786.8 L977.1 785.7 L977.3 784.5 L977.5 783.3 L977.7 782.1 L977.9 780.8 L978.1 779.6 L978.2 778.3 L978.4 777 L978.6 775.7 L978.8 774.3 L979 773 L979.2 771.6 L979.4 770.2 L979.5 768.7 L979.7 767.3 L979.9 765.8 L980.1 764.3 L980.3 762.8 L980.5 761.2 L980.6 759.7 L980.8 758.1 L981 756.5 L981.2 754.9 L981.4 753.3 L981.6 751.6 L981.8 749.9 L981.9 748.2 L982.1 746.5 L982.3 744.8 L982.5 743 L982.7 741.3 L982.9 739.5 L983 737.7 L983.2 735.9 L983.4 734.1 L983.6 732.2 L983.8 730.4 L984 728.5 L984.2 726.6 L984.3 724.7 L984.5 722.8 L984.7 720.9 L984.9 719 L985.1 717.1 L985.3 715.2 L985.5 713.2 L985.6 711.3 L985.8 709.3 L986 707.3 L986.2 705.4 L986.4 703.4 L986.6 701.4 L986.7 699.4 L986.9 697.5 L987.1 695.5 L987.3 693.5 L987.5 691.5 L987.7 689.6 L987.9 687.6 L988 685.6 L988.2 683.7 L988.4 681.7 L988.6 679.8 L988.8 677.9 L989 675.9 L989.2 674 L989.3 672.1 L989.5 670.2 L989.7 668.4 L989.9 666.5 L990.1 664.7 L990.3 662.8 L990.4 661 L990.6 659.2 L990.8 657.4 L991 655.7 L991.2 654 L991.4 652.3 L991.6 650.6 L991.7 648.9 L991.9 647.3 L992.1 645.7 L992.3 644.1 L992.5 642.6 L992.7 641 L992.9 639.5 L993 638.1 L993.2 636.7 L993.4 635.3 L993.6 633.9 L993.8 632.6 L994 631.3 L994.1 630.1 L994.3 628.8 L994.5 627.7 L994.7 626.5 L994.9 625.4 L995.1 624.4 L995.3 623.4 L995.4 622.4 L995.6 621.5 L995.8 620.6 L996 619.8 L996.2 619 L996.4 618.2 L996.6 617.5 L996.7 616.8 L996.9 616.2 L997.1 615.7 L997.3 615.1 L997.5 614.7 L997.7 614.2 L997.8 613.9 L998 613.5 L998.2 613.3 L998.4 613 L998.6 612.9 L998.8 612.7 L999 612.6 L999.1 612.6 L999.3 612.6 L999.5 612.7 L999.7 612.8 L999.9 613 L1000.1 613.2 L1000.3 613.4 L1000.4 613.7 L1000.6 614.1 L1000.8 614.5 L1001 615 L1001.2 615.5 L1001.4 616 L1001.5 616.6 L1001.7 617.2 L1001.9 617.9 L1002.1 618.7 L1002.3 619.4 L1002.5 620.3 L1002.7 621.1 L1002.8 622 L1003 623 L1003.2 624 L1003.4 625 L1003.6 626.1 L1003.8 627.2 L1003.9 628.4 L1004.1 629.6 L1004.3 630.8 L1004.5 632.1 L1004.7 633.4 L1004.9 634.7 L1005.1 636.1 L1005.2 637.5 L1005.4 639 L1005.6 640.4 L1005.8 641.9 L1006 643.5 L1006.2 645 L1006.4 646.6 L1006.5 648.3 L1006.7 649.9 L1006.9 651.6 L1007.1 653.3 L1007.3 655 L1007.5 656.7 L1007.6 658.5 L1007.8 660.3 L1008 662.1 L1008.2 663.9 L1008.4 665.8 L1008.6 667.6 L1008.8 669.5 L1008.9 671.4 L1009.1 673.3 L1009.3 675.2 L1009.5 677.1 L1009.7 679 L1009.9 681 L1010.1 682.9 L1010.2 684.9 L1010.4 686.8 L1010.6 688.8 L1010.8 690.8 L1011 692.7 L1011.2 694.7 L1011.3 696.7 L1011.5 698.7 L1011.7 700.6 L1011.9 702.6 L1012.1 704.6 L1012.3 706.5 L1012.5 708.5 L1012.6 710.5 L1012.8 712.4 L1013 714.4 L1013.2 716.3 L1013.4 718.2 L1013.6 720.2 L1013.8 722.1 L1013.9 724 L1014.1 725.9 L1014.3 727.8 L1014.5 729.6 L1014.7 731.5 L1014.9 733.3 L1015 735.2 L1015.2 737 L1015.4 738.8 L1015.6 740.6 L1015.8 742.3 L1016 744.1 L1016.2 745.8 L1016.3 747.5 L1016.5 749.3 L1016.7 750.9 L1016.9 752.6 L1017.1 754.2 L1017.3 755.9 L1017.5 757.5 L1017.6 759.1 L1017.8 760.6 L1018 762.2 L1018.2 763.7 L1018.4 765.2 L1018.6 766.7 L1018.7 768.2 L1018.9 769.6 L1019.1 771 L1019.3 772.4 L1019.5 773.8 L1019.7 775.1 L1019.9 776.5 L1020 777.8 L1020.2 779.1 L1020.4 780.3 L1020.6 781.6 L1020.8 782.8 L1021 784 L1021.2 785.2 L1021.3 786.4 L1021.5 787.5 L1021.7 788.6 L1021.9 789.7 L1022.1 790.8 L1022.3 791.8 L1022.4 792.8 L1022.6 793.8 L1022.8 794.8 L1023 795.8 L1023.2 796.7 L1023.4 797.7 L1023.6 798.6 L1023.7 799.5 L1023.9 800.3 L1024.1 801.2 L1024.3 802 L1024.5 802.8 L1024.7 803.6 L1024.9 804.4 L1025 805.1 L1025.2 805.8 L1025.4 806.5 L1025.6 807.2 L1025.8 807.9 L1026 808.6 L1026.1 809.2 L1026.3 809.8 L1026.5 810.5 L1026.7 811.1 L1026.9 811.6 L1027.1 812.2 L1027.3 812.7 L1027.4 813.3 L1027.6 813.8 L1027.8 814.3 L1028 814.8 L1028.2 815.2 L1028.4 815.7 L1028.5 816.2 L1028.7 816.6 L1028.9 817 L1029.1 817.4 L1029.3 817.8 L1029.5 818.2 L1029.7 818.6 L1029.8 818.9 L1030 819.3 L1030.2 819.6 L1030.4 819.9 L1030.6 820.3 L1030.8 820.6 L1031 820.9 L1031.1 821.1 L1031.3 821.4 L1031.5 821.7 L1031.7 822 L1031.9 822.2 L1032.1 822.4 L1032.2 822.7 L1032.4 822.9 L1032.6 823.1 L1032.8 823.3 L1033 823.5 L1033.2 823.7 L1033.4 823.9 L1033.5 824.1 L1033.7 824.3 L1033.9 824.4 L1034.1 824.6 L1034.3 824.8 L1034.5 824.9 L1034.7 825.1 L1034.8 825.2 L1035 825.3 L1035.2 825.5 L1035.4 825.6 L1035.6 825.7 L1035.8 825.8 L1035.9 825.9 L1036.1 826 L1036.3 826.1 L1036.5 826.2 L1036.7 826.3 L1036.9 826.4 L1037.1 826.5 L1037.2 826.6 L1037.4 826.7 L1037.6 826.7 L1037.8 826.8 L1038 826.9 L1038.2 826.9 L1038.4 827 L1038.5 827.1 L1038.7 827.1 L1038.9 827.2 L1039.1 827.2 L1039.3 827.3 L1039.5 827.3 L1039.6 827.4 L1039.8 827.4 L1040 827.5 L1040.2 827.5 L1040.4 827.6 L1040.6 827.6 L1040.8 827.6 L1040.9 827.7 L1041.1 827.7 L1041.3 827.7 L1041.5 827.8 L1041.7 827.8 L1041.9 827.8 L1042.1 827.8 L1042.2 827.9 L1042.4 827.9 L1042.6 827.9 L1042.6 828.3 Z" fill="url(#dg9)" fill-opacity="1.0"/><path d="M955.9 827.9 L956 827.9 L956.2 827.8 L956.4 827.8 L956.6 827.8 L956.8 827.8 L957 827.7 L957.2 827.7 L957.3 827.7 L957.5 827.6 L957.7 827.6 L957.9 827.6 L958.1 827.5 L958.3 827.5 L958.5 827.4 L958.6 827.4 L958.8 827.4 L959 827.3 L959.2 827.3 L959.4 827.2 L959.6 827.2 L959.7 827.1 L959.9 827 L960.1 827 L960.3 826.9 L960.5 826.8 L960.7 826.8 L960.9 826.7 L961 826.6 L961.2 826.5 L961.4 826.4 L961.6 826.4 L961.8 826.3 L962 826.2 L962.1 826.1 L962.3 826 L962.5 825.9 L962.7 825.7 L962.9 825.6 L963.1 825.5 L963.3 825.4 L963.4 825.2 L963.6 825.1 L963.8 825 L964 824.8 L964.2 824.7 L964.4 824.5 L964.6 824.3 L964.7 824.2 L964.9 824 L965.1 823.8 L965.3 823.6 L965.5 823.4 L965.7 823.2 L965.8 823 L966 822.8 L966.2 822.5 L966.4 822.3 L966.6 822.1 L966.8 821.8 L967 821.5 L967.1 821.3 L967.3 821 L967.5 820.7 L967.7 820.4 L967.9 820.1 L968.1 819.7 L968.3 819.4 L968.4 819.1 L968.6 818.7 L968.8 818.3 L969 818 L969.2 817.6 L969.4 817.2 L969.5 816.8 L969.7 816.3 L969.9 815.9 L970.1 815.4 L970.3 815 L970.5 814.5 L970.7 814 L970.8 813.5 L971 813 L971.2 812.4 L971.4 811.9 L971.6 811.3 L971.8 810.7 L972 810.1 L972.1 809.5 L972.3 808.8 L972.5 808.2 L972.7 807.5 L972.9 806.8 L973.1 806.1 L973.2 805.4 L973.4 804.7 L973.6 803.9 L973.8 803.1 L974 802.3 L974.2 801.5 L974.4 800.7 L974.5 799.8 L974.7 798.9 L974.9 798 L975.1 797.1 L975.3 796.2 L975.5 795.2 L975.7 794.2 L975.8 793.2 L976 792.2 L976.2 791.2 L976.4 790.1 L976.6 789 L976.8 787.9 L976.9 786.8 L977.1 785.7 L977.3 784.5 L977.5 783.3 L977.7 782.1 L977.9 780.8 L978.1 779.6 L978.2 778.3 L978.4 777 L978.6 775.7 L978.8 774.3 L979 773 L979.2 771.6 L979.4 770.2 L979.5 768.7 L979.7 767.3 L979.9 765.8 L980.1 764.3 L980.3 762.8 L980.5 761.2 L980.6 759.7 L980.8 758.1 L981 756.5 L981.2 754.9 L981.4 753.3 L981.6 751.6 L981.8 749.9 L981.9 748.2 L982.1 746.5 L982.3 744.8 L982.5 743 L982.7 741.3 L982.9 739.5 L983 737.7 L983.2 735.9 L983.4 734.1 L983.6 732.2 L983.8 730.4 L984 728.5 L984.2 726.6 L984.3 724.7 L984.5 722.8 L984.7 720.9 L984.9 719 L985.1 717.1 L985.3 715.2 L985.5 713.2 L985.6 711.3 L985.8 709.3 L986 707.3 L986.2 705.4 L986.4 703.4 L986.6 701.4 L986.7 699.4 L986.9 697.5 L987.1 695.5 L987.3 693.5 L987.5 691.5 L987.7 689.6 L987.9 687.6 L988 685.6 L988.2 683.7 L988.4 681.7 L988.6 679.8 L988.8 677.9 L989 675.9 L989.2 674 L989.3 672.1 L989.5 670.2 L989.7 668.4 L989.9 666.5 L990.1 664.7 L990.3 662.8 L990.4 661 L990.6 659.2 L990.8 657.4 L991 655.7 L991.2 654 L991.4 652.3 L991.6 650.6 L991.7 648.9 L991.9 647.3 L992.1 645.7 L992.3 644.1 L992.5 642.6 L992.7 641 L992.9 639.5 L993 638.1 L993.2 636.7 L993.4 635.3 L993.6 633.9 L993.8 632.6 L994 631.3 L994.1 630.1 L994.3 628.8 L994.5 627.7 L994.7 626.5 L994.9 625.4 L995.1 624.4 L995.3 623.4 L995.4 622.4 L995.6 621.5 L995.8 620.6 L996 619.8 L996.2 619 L996.4 618.2 L996.6 617.5 L996.7 616.8 L996.9 616.2 L997.1 615.7 L997.3 615.1 L997.5 614.7 L997.7 614.2 L997.8 613.9 L998 613.5 L998.2 613.3 L998.4 613 L998.6 612.9 L998.8 612.7 L999 612.6 L999.1 612.6 L999.3 612.6 L999.5 612.7 L999.7 612.8 L999.9 613 L1000.1 613.2 L1000.3 613.4 L1000.4 613.7 L1000.6 614.1 L1000.8 614.5 L1001 615 L1001.2 615.5 L1001.4 616 L1001.5 616.6 L1001.7 617.2 L1001.9 617.9 L1002.1 618.7 L1002.3 619.4 L1002.5 620.3 L1002.7 621.1 L1002.8 622 L1003 623 L1003.2 624 L1003.4 625 L1003.6 626.1 L1003.8 627.2 L1003.9 628.4 L1004.1 629.6 L1004.3 630.8 L1004.5 632.1 L1004.7 633.4 L1004.9 634.7 L1005.1 636.1 L1005.2 637.5 L1005.4 639 L1005.6 640.4 L1005.8 641.9 L1006 643.5 L1006.2 645 L1006.4 646.6 L1006.5 648.3 L1006.7 649.9 L1006.9 651.6 L1007.1 653.3 L1007.3 655 L1007.5 656.7 L1007.6 658.5 L1007.8 660.3 L1008 662.1 L1008.2 663.9 L1008.4 665.8 L1008.6 667.6 L1008.8 669.5 L1008.9 671.4 L1009.1 673.3 L1009.3 675.2 L1009.5 677.1 L1009.7 679 L1009.9 681 L1010.1 682.9 L1010.2 684.9 L1010.4 686.8 L1010.6 688.8 L1010.8 690.8 L1011 692.7 L1011.2 694.7 L1011.3 696.7 L1011.5 698.7 L1011.7 700.6 L1011.9 702.6 L1012.1 704.6 L1012.3 706.5 L1012.5 708.5 L1012.6 710.5 L1012.8 712.4 L1013 714.4 L1013.2 716.3 L1013.4 718.2 L1013.6 720.2 L1013.8 722.1 L1013.9 724 L1014.1 725.9 L1014.3 727.8 L1014.5 729.6 L1014.7 731.5 L1014.9 733.3 L1015 735.2 L1015.2 737 L1015.4 738.8 L1015.6 740.6 L1015.8 742.3 L1016 744.1 L1016.2 745.8 L1016.3 747.5 L1016.5 749.3 L1016.7 750.9 L1016.9 752.6 L1017.1 754.2 L1017.3 755.9 L1017.5 757.5 L1017.6 759.1 L1017.8 760.6 L1018 762.2 L1018.2 763.7 L1018.4 765.2 L1018.6 766.7 L1018.7 768.2 L1018.9 769.6 L1019.1 771 L1019.3 772.4 L1019.5 773.8 L1019.7 775.1 L1019.9 776.5 L1020 777.8 L1020.2 779.1 L1020.4 780.3 L1020.6 781.6 L1020.8 782.8 L1021 784 L1021.2 785.2 L1021.3 786.4 L1021.5 787.5 L1021.7 788.6 L1021.9 789.7 L1022.1 790.8 L1022.3 791.8 L1022.4 792.8 L1022.6 793.8 L1022.8 794.8 L1023 795.8 L1023.2 796.7 L1023.4 797.7 L1023.6 798.6 L1023.7 799.5 L1023.9 800.3 L1024.1 801.2 L1024.3 802 L1024.5 802.8 L1024.7 803.6 L1024.9 804.4 L1025 805.1 L1025.2 805.8 L1025.4 806.5 L1025.6 807.2 L1025.8 807.9 L1026 808.6 L1026.1 809.2 L1026.3 809.8 L1026.5 810.5 L1026.7 811.1 L1026.9 811.6 L1027.1 812.2 L1027.3 812.7 L1027.4 813.3 L1027.6 813.8 L1027.8 814.3 L1028 814.8 L1028.2 815.2 L1028.4 815.7 L1028.5 816.2 L1028.7 816.6 L1028.9 817 L1029.1 817.4 L1029.3 817.8 L1029.5 818.2 L1029.7 818.6 L1029.8 818.9 L1030 819.3 L1030.2 819.6 L1030.4 819.9 L1030.6 820.3 L1030.8 820.6 L1031 820.9 L1031.1 821.1 L1031.3 821.4 L1031.5 821.7 L1031.7 822 L1031.9 822.2 L1032.1 822.4 L1032.2 822.7 L1032.4 822.9 L1032.6 823.1 L1032.8 823.3 L1033 823.5 L1033.2 823.7 L1033.4 823.9 L1033.5 824.1 L1033.7 824.3 L1033.9 824.4 L1034.1 824.6 L1034.3 824.8 L1034.5 824.9 L1034.7 825.1 L1034.8 825.2 L1035 825.3 L1035.2 825.5 L1035.4 825.6 L1035.6 825.7 L1035.8 825.8 L1035.9 825.9 L1036.1 826 L1036.3 826.1 L1036.5 826.2 L1036.7 826.3 L1036.9 826.4 L1037.1 826.5 L1037.2 826.6 L1037.4 826.7 L1037.6 826.7 L1037.8 826.8 L1038 826.9 L1038.2 826.9 L1038.4 827 L1038.5 827.1 L1038.7 827.1 L1038.9 827.2 L1039.1 827.2 L1039.3 827.3 L1039.5 827.3 L1039.6 827.4 L1039.8 827.4 L1040 827.5 L1040.2 827.5 L1040.4 827.6 L1040.6 827.6 L1040.8 827.6 L1040.9 827.7 L1041.1 827.7 L1041.3 827.7 L1041.5 827.8 L1041.7 827.8 L1041.9 827.8 L1042.1 827.8 L1042.2 827.9 L1042.4 827.9 L1042.6 827.9" fill="none" stroke="#ff0000" stroke-width="1.8"/><line x1="585.3" y1="828.3" x2="1047.6" y2="828.3" stroke="#2f5f95" stroke-width="2.4"/><path d="M585.4 827.7 L585.6 827.7 L585.8 827.7 L585.9 827.7 L586.1 827.7 L586.3 827.7 L586.5 827.6 L586.7 827.6 L586.9 827.6 L587.1 827.6 L587.2 827.6 L587.4 827.6 L587.6 827.6 L587.8 827.6 L588 827.5 L588.2 827.5 L588.3 827.5 L588.5 827.5 L588.7 827.5 L588.9 827.4 L589.1 827.4 L589.3 827.4 L589.5 827.4 L589.6 827.3 L589.8 827.3 L590 827.3 L590.2 827.2 L590.4 827.2 L590.6 827.2 L590.8 827.1 L590.9 827.1 L591.1 827 L591.3 827 L591.5 826.9 L591.7 826.9 L591.9 826.8 L592 826.8 L592.2 826.7 L592.4 826.6 L592.6 826.6 L592.8 826.5 L593 826.4 L593.2 826.3 L593.3 826.2 L593.5 826.1 L593.7 826 L593.9 825.9 L594.1 825.8 L594.3 825.7 L594.5 825.6 L594.6 825.4 L594.8 825.3 L595 825.2 L595.2 825 L595.4 824.8 L595.6 824.7 L595.7 824.5 L595.9 824.3 L596.1 824.1 L596.3 823.9 L596.5 823.6 L596.7 823.4 L596.9 823.2 L597 822.9 L597.2 822.6 L597.4 822.3 L597.6 822 L597.8 821.7 L598 821.4 L598.2 821.1 L598.3 820.7 L598.5 820.3 L598.7 819.9 L598.9 819.5 L599.1 819.1 L599.3 818.6 L599.4 818.2 L599.6 817.7 L599.8 817.1 L600 816.6 L600.2 816.1 L600.4 815.5 L600.6 814.9 L600.7 814.2 L600.9 813.6 L601.1 812.9 L601.3 812.2 L601.5 811.5 L601.7 810.7 L601.9 809.9 L602 809.1 L602.2 808.2 L602.4 807.3 L602.6 806.4 L602.8 805.5 L603 804.5 L603.1 803.5 L603.3 802.4 L603.5 801.4 L603.7 800.2 L603.9 799.1 L604.1 797.9 L604.3 796.7 L604.4 795.4 L604.6 794.1 L604.8 792.7 L605 791.3 L605.2 789.9 L605.4 788.5 L605.6 786.9 L605.7 785.4 L605.9 783.8 L606.1 782.2 L606.3 780.5 L606.5 778.8 L606.7 777 L606.8 775.2 L607 773.4 L607.2 771.5 L607.4 769.6 L607.6 767.6 L607.8 765.6 L608 763.6 L608.1 761.5 L608.3 759.3 L608.5 757.2 L608.7 755 L608.9 752.7 L609.1 750.4 L609.2 748.1 L609.4 745.7 L609.6 743.3 L609.8 740.9 L610 738.4 L610.2 735.9 L610.4 733.3 L610.5 730.8 L610.7 728.2 L610.9 725.5 L611.1 722.9 L611.3 720.2 L611.5 717.5 L611.7 714.8 L611.8 712 L612 709.2 L612.2 706.4 L612.4 703.6 L612.6 700.8 L612.8 698 L612.9 695.1 L613.1 692.3 L613.3 689.4 L613.5 686.6 L613.7 683.7 L613.9 680.9 L614.1 678 L614.2 675.1 L614.4 672.3 L614.6 669.5 L614.8 666.7 L615 663.8 L615.2 661.1 L615.4 658.3 L615.5 655.6 L615.7 652.8 L615.9 650.2 L616.1 647.5 L616.3 644.9 L616.5 642.3 L616.6 639.7 L616.8 637.2 L617 634.8 L617.2 632.4 L617.4 630 L617.6 627.7 L617.8 625.4 L617.9 623.2 L618.1 621.1 L618.3 619 L618.5 617 L618.7 615 L618.9 613.1 L619.1 611.3 L619.2 609.6 L619.4 607.9 L619.6 606.3 L619.8 604.8 L620 603.4 L620.2 602 L620.3 600.7 L620.5 599.5 L620.7 598.4 L620.9 597.4 L621.1 596.5 L621.3 595.7 L621.5 594.9 L621.6 594.2 L621.8 593.7 L622 593.2 L622.2 592.8 L622.4 592.5 L622.6 592.3 L622.8 592.2 L622.9 592.2 L623.1 592.3 L623.3 592.5 L623.5 592.8 L623.7 593.1 L623.9 593.6 L624 594.1 L624.2 594.8 L624.4 595.5 L624.6 596.3 L624.8 597.2 L625 598.2 L625.2 599.3 L625.3 600.4 L625.5 601.7 L625.7 603 L625.9 604.4 L626.1 605.8 L626.3 607.4 L626.5 609 L626.6 610.7 L626.8 612.4 L627 614.3 L627.2 616.2 L627.4 618.1 L627.6 620.1 L627.7 622.2 L627.9 624.3 L628.1 626.4 L628.3 628.7 L628.5 630.9 L628.7 633.2 L628.9 635.5 L629 637.9 L629.2 640.3 L629.4 642.8 L629.6 645.2 L629.8 647.7 L630 650.2 L630.1 652.8 L630.3 655.3 L630.5 657.8 L630.7 660.4 L630.9 663 L631.1 665.5 L631.3 668.1 L631.4 670.7 L631.6 673.2 L631.8 675.8 L632 678.3 L632.2 680.8 L632.4 683.4 L632.6 685.8 L632.7 688.3 L632.9 690.7 L633.1 693.1 L633.3 695.5 L633.5 697.8 L633.7 700.1 L633.8 702.4 L634 704.6 L634.2 706.8 L634.4 708.9 L634.6 711 L634.8 713 L635 715 L635.1 716.9 L635.3 718.8 L635.5 720.6 L635.7 722.3 L635.9 724 L636.1 725.6 L636.3 727.2 L636.4 728.7 L636.6 730.1 L636.8 731.4 L637 732.7 L637.2 734 L637.4 735.1 L637.5 736.2 L637.7 737.2 L637.9 738.2 L638.1 739 L638.3 739.8 L638.5 740.6 L638.7 741.2 L638.8 741.8 L639 742.4 L639.2 742.8 L639.4 743.2 L639.6 743.5 L639.8 743.8 L640 744 L640.1 744.1 L640.3 744.2 L640.5 744.2 L640.7 744.1 L640.9 744 L641.1 743.9 L641.2 743.6 L641.4 743.4 L641.6 743.1 L641.8 742.7 L642 742.3 L642.2 741.8 L642.4 741.3 L642.5 740.8 L642.7 740.2 L642.9 739.7 L643.1 739 L643.3 738.4 L643.5 737.7 L643.7 737 L643.8 736.3 L644 735.6 L644.2 734.8 L644.4 734.1 L644.6 733.4 L644.8 732.6 L644.9 731.9 L645.1 731.1 L645.3 730.4 L645.5 729.7 L645.7 729 L645.9 728.3 L646.1 727.6 L646.2 727 L646.4 726.4 L646.6 725.8 L646.8 725.2 L647 724.7 L647.2 724.3 L647.4 723.8 L647.5 723.5 L647.7 723.1 L647.9 722.8 L648.1 722.6 L648.3 722.4 L648.5 722.3 L648.6 722.2 L648.8 722.2 L649 722.2 L649.2 722.3 L649.4 722.5 L649.6 722.7 L649.8 722.9 L649.9 723.3 L650.1 723.7 L650.3 724.1 L650.5 724.6 L650.7 725.2 L650.9 725.8 L651.1 726.4 L651.2 727.1 L651.4 727.9 L651.6 728.7 L651.8 729.5 L652 730.4 L652.2 731.3 L652.3 732.3 L652.5 733.3 L652.7 734.4 L652.9 735.4 L653.1 736.5 L653.3 737.6 L653.5 738.8 L653.6 739.9 L653.8 741.1 L654 742.3 L654.2 743.5 L654.4 744.7 L654.6 745.9 L654.7 747.1 L654.9 748.3 L655.1 749.6 L655.3 750.8 L655.5 752 L655.7 753.2 L655.9 754.4 L656 755.5 L656.2 756.7 L656.4 757.8 L656.6 758.9 L656.8 760 L657 761.1 L657.2 762.1 L657.3 763.2 L657.5 764.1 L657.7 765.1 L657.9 766 L658.1 766.9 L658.3 767.8 L658.4 768.6 L658.6 769.4 L658.8 770.1 L659 770.8 L659.2 771.5 L659.4 772.1 L659.6 772.7 L659.7 773.3 L659.9 773.8 L660.1 774.2 L660.3 774.7 L660.5 775 L660.7 775.4 L660.9 775.7 L661 775.9 L661.2 776.2 L661.4 776.3 L661.6 776.5 L661.8 776.6 L662 776.6 L662.1 776.6 L662.3 776.6 L662.5 776.6 L662.7 776.5 L662.9 776.3 L663.1 776.2 L663.3 776 L663.4 775.8 L663.6 775.5 L663.8 775.2 L664 774.9 L664.2 774.6 L664.4 774.2 L664.6 773.8 L664.7 773.4 L664.9 773 L665.1 772.5 L665.3 772.1 L665.5 771.6 L665.7 771.1 L665.8 770.6 L666 770.1 L666.2 769.6 L666.4 769 L666.6 768.5 L666.8 767.9 L667 767.4 L667.1 766.9 L667.3 766.3 L667.5 765.8 L667.7 765.2 L667.9 764.7 L668.1 764.2 L668.3 763.6 L668.4 763.1 L668.6 762.6 L668.8 762.2 L669 761.7 L669.2 761.2 L669.4 760.8 L669.5 760.4 L669.7 760 L669.9 759.6 L670.1 759.3 L670.3 759 L670.5 758.7 L670.7 758.4 L670.8 758.2 L671 757.9 L671.2 757.8 L671.4 757.6 L671.6 757.5 L671.8 757.4 L672 757.3 L672.1 757.3 L672.3 757.3 L672.5 757.3 L672.7 757.4 L672.9 757.4 L673.1 757.6 L673.2 757.7 L673.4 757.9 L673.6 758.1 L673.8 758.3 L674 758.6 L674.2 758.9 L674.4 759.2 L674.5 759.6 L674.7 760 L674.9 760.4 L675.1 760.8 L675.3 761.2 L675.5 761.7 L675.6 762.2 L675.8 762.7 L676 763.2 L676.2 763.8 L676.4 764.3 L676.6 764.9 L676.8 765.5 L676.9 766.1 L677.1 766.7 L677.3 767.3 L677.5 767.9 L677.7 768.5 L677.9 769.1 L678.1 769.8 L678.2 770.4 L678.4 771 L678.6 771.6 L678.8 772.2 L679 772.9 L679.2 773.5 L679.3 774 L679.5 774.6 L679.7 775.2 L679.9 775.8 L680.1 776.3 L680.3 776.8 L680.5 777.3 L680.6 777.8 L680.8 778.3 L681 778.7 L681.2 779.2 L681.4 779.6 L681.6 779.9 L681.8 780.3 L681.9 780.6 L682.1 780.9 L682.3 781.2 L682.5 781.4 L682.7 781.6 L682.9 781.8 L683 781.9 L683.2 782 L683.4 782.1 L683.6 782.1 L683.8 782.1 L684 782.1 L684.2 782 L684.3 781.9 L684.5 781.8 L684.7 781.6 L684.9 781.4 L685.1 781.1 L685.3 780.9 L685.5 780.5 L685.6 780.2 L685.8 779.8 L686 779.3 L686.2 778.9 L686.4 778.4 L686.6 777.8 L686.7 777.2 L686.9 776.6 L687.1 776 L687.3 775.3 L687.5 774.6 L687.7 773.9 L687.9 773.1 L688 772.3 L688.2 771.5 L688.4 770.7 L688.6 769.8 L688.8 769 L689 768.1 L689.2 767.2 L689.3 766.2 L689.5 765.3 L689.7 764.3 L689.9 763.3 L690.1 762.4 L690.3 761.4 L690.4 760.4 L690.6 759.4 L690.8 758.4 L691 757.4 L691.2 756.4 L691.4 755.4 L691.6 754.5 L691.7 753.5 L691.9 752.5 L692.1 751.6 L692.3 750.7 L692.5 749.8 L692.7 748.9 L692.9 748.1 L693 747.2 L693.2 746.4 L693.4 745.7 L693.6 744.9 L693.8 744.2 L694 743.6 L694.1 743 L694.3 742.4 L694.5 741.9 L694.7 741.4 L694.9 740.9 L695.1 740.6 L695.3 740.2 L695.4 739.9 L695.6 739.7 L695.8 739.5 L696 739.4 L696.2 739.3 L696.4 739.3 L696.5 739.4 L696.7 739.5 L696.9 739.6 L697.1 739.8 L697.3 740.1 L697.5 740.4 L697.7 740.8 L697.8 741.2 L698 741.7 L698.2 742.3 L698.4 742.8 L698.6 743.5 L698.8 744.2 L699 744.9 L699.1 745.7 L699.3 746.5 L699.5 747.4 L699.7 748.3 L699.9 749.3 L700.1 750.2 L700.2 751.3 L700.4 752.3 L700.6 753.4 L700.8 754.5 L701 755.6 L701.2 756.8 L701.4 758 L701.5 759.2 L701.7 760.4 L701.9 761.7 L702.1 762.9 L702.3 764.2 L702.5 765.5 L702.7 766.8 L702.8 768.1 L703 769.4 L703.2 770.7 L703.4 772 L703.6 773.3 L703.8 774.6 L703.9 775.9 L704.1 777.2 L704.3 778.5 L704.5 779.8 L704.7 781.1 L704.9 782.3 L705.1 783.6 L705.2 784.8 L705.4 786.1 L705.6 787.3 L705.8 788.5 L706 789.7 L706.2 790.8 L706.4 792 L706.5 793.1 L706.7 794.2 L706.9 795.3 L707.1 796.4 L707.3 797.4 L707.5 798.4 L707.6 799.4 L707.8 800.4 L708 801.4 L708.2 802.3 L708.4 803.2 L708.6 804.1 L708.8 805 L708.9 805.8 L709.1 806.6 L709.3 807.4 L709.5 808.2 L709.7 808.9 L709.9 809.6 L710.1 810.3 L710.2 811 L710.4 811.7 L710.6 812.3 L710.8 812.9 L711 813.5 L711.2 814.1 L711.3 814.6 L711.5 815.2 L711.7 815.7 L711.9 816.1 L712.1 816.6 L712.3 817.1 L712.5 817.5 L712.6 817.9 L712.8 818.3 L713 818.7 L713.2 819.1 L713.4 819.4 L713.6 819.7 L713.8 820.1 L713.9 820.4 L714.1 820.6 L714.3 820.9 L714.5 821.2 L714.7 821.4 L714.9 821.7 L715 821.9 L715.2 822.1 L715.4 822.3 L715.6 822.5 L715.8 822.7 L716 822.9 L716.2 823.1 L716.3 823.2 L716.5 823.4 L716.7 823.5 L716.9 823.6 L717.1 823.8 L717.3 823.9 L717.5 824 L717.6 824.1 L717.8 824.2 L718 824.3 L718.2 824.4 L718.4 824.5 L718.6 824.6 L718.7 824.7 L718.9 824.8 L719.1 824.8 L719.3 824.9 L719.5 825 L719.7 825 L719.9 825.1 L720 825.1 L720.2 825.2 L720.4 825.2 L720.6 825.3 L720.8 825.3 L721 825.4 L721.1 825.4 L721.3 825.4 L721.5 825.5 L721.7 825.5 L721.9 825.5 L722.1 825.6 L722.3 825.6 L722.4 825.6 L722.6 825.7 L722.8 825.7 L723 825.7 L723.2 825.7 L723.4 825.8 L723.6 825.8 L723.7 825.8 L723.9 825.8 L724.1 825.8 L724.3 825.9 L724.5 825.9 L724.7 825.9 L724.8 825.9 L725 825.9 L725.2 825.9 L725.4 825.9 L725.6 826 L725.8 826 L726 826 L726.1 826 L726.3 826 L726.5 826 L726.7 826 L726.9 826 L727.1 826.1 L727.3 826.1 L727.4 826.1 L727.6 826.1 L727.8 826.1 L728 826.1 L728.2 826.1 L728.4 826.1 L728.5 826.1 L728.7 826.1 L728.9 826.1 L729.1 826.2 L729.3 826.2 L729.5 826.2 L729.7 826.2 L729.8 826.2 L730 826.2 L730.2 826.2 L730.4 826.2 L730.6 826.2 L730.8 826.2 L731 826.2 L731.1 826.2 L731.3 826.2 L731.5 826.2 L731.7 826.2 L731.9 826.2 L732.1 826.2 L732.2 826.2 L732.4 826.3 L732.6 826.3 L732.8 826.3 L733 826.3 L733.2 826.3 L733.4 826.3 L733.5 826.3 L733.7 826.3 L733.9 826.3 L734.1 826.3 L734.3 826.3 L734.5 826.3 L734.7 826.3 L734.8 826.3 L735 826.3 L735.2 826.3 L735.4 826.3 L735.6 826.3 L735.8 826.3 L735.9 826.3 L736.1 826.3 L736.3 826.3 L736.5 826.3 L736.7 826.3 L736.9 826.3 L737.1 826.3 L737.2 826.3 L737.4 826.3 L737.6 826.3 L737.8 826.3 L738 826.3 L738.2 826.3 L738.4 826.3 L738.5 826.3 L738.7 826.3 L738.9 826.3 L739.1 826.3 L739.3 826.3 L739.5 826.3 L739.6 826.3 L739.8 826.3 L740 826.3 L740.2 826.3 L740.4 826.3 L740.6 826.3 L740.8 826.3 L740.9 826.3 L741.1 826.3 L741.3 826.3 L741.5 826.3 L741.7 826.3 L741.9 826.3 L742 826.3 L742.2 826.3 L742.4 826.3 L742.6 826.3 L742.8 826.3 L743 826.3 L743.2 826.3 L743.3 826.3 L743.5 826.2 L743.7 826.2 L743.9 826.2 L744.1 826.2 L744.3 826.2 L744.5 826.2 L744.6 826.2 L744.8 826.2 L745 826.2 L745.2 826.2 L745.4 826.2 L745.6 826.2 L745.7 826.2 L745.9 826.2 L746.1 826.2 L746.3 826.2 L746.5 826.2 L746.7 826.2 L746.9 826.2 L747 826.2 L747.2 826.1 L747.4 826.1 L747.6 826.1 L747.8 826.1 L748 826.1 L748.2 826.1 L748.3 826.1 L748.5 826.1 L748.7 826.1 L748.9 826.1 L749.1 826.1 L749.3 826.1 L749.4 826.1 L749.6 826.1 L749.8 826 L750 826 L750.2 826 L750.4 826 L750.6 826 L750.7 826 L750.9 826 L751.1 826 L751.3 826 L751.5 826 L751.7 826 L751.9 825.9 L752 825.9 L752.2 825.9 L752.4 825.9 L752.6 825.9 L752.8 825.9 L753 825.9 L753.1 825.9 L753.3 825.9 L753.5 825.8 L753.7 825.8 L753.9 825.8 L754.1 825.8 L754.3 825.8 L754.4 825.8 L754.6 825.8 L754.8 825.8 L755 825.7 L755.2 825.7 L755.4 825.7 L755.6 825.7 L755.7 825.7 L755.9 825.7 L756.1 825.7 L756.3 825.6 L756.5 825.6 L756.7 825.6 L756.8 825.6 L757 825.6 L757.2 825.6 L757.4 825.5 L757.6 825.5 L757.8 825.5 L758 825.5 L758.1 825.5 L758.3 825.5 L758.5 825.4 L758.7 825.4 L758.9 825.4 L759.1 825.4 L759.3 825.4 L759.4 825.3 L759.6 825.3 L759.8 825.3 L760 825.3 L760.2 825.3 L760.4 825.2 L760.5 825.2 L760.7 825.2 L760.9 825.2 L761.1 825.1 L761.3 825.1 L761.5 825.1 L761.7 825 L761.8 825 L762 825 L762.2 825 L762.4 824.9 L762.6 824.9 L762.8 824.9 L762.9 824.8 L763.1 824.8 L763.3 824.7 L763.5 824.7 L763.7 824.7 L763.9 824.6 L764.1 824.6 L764.2 824.5 L764.4 824.5 L764.6 824.4 L764.8 824.4 L765 824.3 L765.2 824.3 L765.4 824.2 L765.5 824.2 L765.7 824.1 L765.9 824 L766.1 824 L766.3 823.9 L766.5 823.8 L766.6 823.8 L766.8 823.7 L767 823.6 L767.2 823.5 L767.4 823.4 L767.6 823.3 L767.8 823.2 L767.9 823.1 L768.1 823 L768.3 822.9 L768.5 822.8 L768.7 822.7 L768.9 822.6 L769.1 822.4 L769.2 822.3 L769.4 822.1 L769.6 822 L769.8 821.8 L770 821.7 L770.2 821.5 L770.3 821.3 L770.5 821.1 L770.7 820.9 L770.9 820.7 L771.1 820.5 L771.3 820.3 L771.5 820 L771.6 819.8 L771.8 819.5 L772 819.3 L772.2 819 L772.4 818.7 L772.6 818.4 L772.8 818 L772.9 817.7 L773.1 817.4 L773.3 817 L773.5 816.6 L773.7 816.2 L773.9 815.8 L774 815.4 L774.2 814.9 L774.4 814.4 L774.6 813.9 L774.8 813.4 L775 812.9 L775.2 812.4 L775.3 811.8 L775.5 811.2 L775.7 810.6 L775.9 809.9 L776.1 809.3 L776.3 808.6 L776.5 807.9 L776.6 807.1 L776.8 806.3 L777 805.5 L777.2 804.7 L777.4 803.8 L777.6 803 L777.7 802 L777.9 801.1 L778.1 800.1 L778.3 799.1 L778.5 798 L778.7 796.9 L778.9 795.8 L779 794.7 L779.2 793.5 L779.4 792.2 L779.6 791 L779.8 789.7 L780 788.3 L780.2 787 L780.3 785.5 L780.5 784.1 L780.7 782.6 L780.9 781 L781.1 779.5 L781.3 777.8 L781.4 776.2 L781.6 774.5 L781.8 772.7 L782 770.9 L782.2 769.1 L782.4 767.2 L782.6 765.3 L782.7 763.4 L782.9 761.4 L783.1 759.3 L783.3 757.3 L783.5 755.1 L783.7 753 L783.8 750.8 L784 748.5 L784.2 746.2 L784.4 743.9 L784.6 741.6 L784.8 739.2 L785 736.7 L785.1 734.3 L785.3 731.8 L785.5 729.2 L785.7 726.7 L785.9 724.1 L786.1 721.4 L786.3 718.8 L786.4 716.1 L786.6 713.4 L786.8 710.6 L787 707.9 L787.2 705.1 L787.4 702.3 L787.5 699.5 L787.7 696.6 L787.9 693.8 L788.1 690.9 L788.3 688 L788.5 685.1 L788.7 682.2 L788.8 679.4 L789 676.5 L789.2 673.6 L789.4 670.7 L789.6 667.8 L789.8 664.9 L790 662 L790.1 659.2 L790.3 656.3 L790.5 653.5 L790.7 650.7 L790.9 647.9 L791.1 645.1 L791.2 642.4 L791.4 639.7 L791.6 637.1 L791.8 634.4 L792 631.8 L792.2 629.3 L792.4 626.8 L792.5 624.4 L792.7 622 L792.9 619.6 L793.1 617.3 L793.3 615.1 L793.5 613 L793.7 610.9 L793.8 608.8 L794 606.9 L794.2 605 L794.4 603.2 L794.6 601.5 L794.8 599.8 L794.9 598.2 L795.1 596.8 L795.3 595.4 L795.5 594.1 L795.7 592.9 L795.9 591.7 L796.1 590.7 L796.2 589.8 L796.4 589 L796.6 588.2 L796.8 587.6 L797 587.1 L797.2 586.6 L797.4 586.3 L797.5 586.1 L797.7 586 L797.9 585.9 L798.1 586 L798.3 586.2 L798.5 586.5 L798.6 586.9 L798.8 587.4 L799 587.9 L799.2 588.6 L799.4 589.4 L799.6 590.3 L799.8 591.3 L799.9 592.3 L800.1 593.5 L800.3 594.7 L800.5 596 L800.7 597.5 L800.9 599 L801.1 600.5 L801.2 602.2 L801.4 603.9 L801.6 605.7 L801.8 607.5 L802 609.5 L802.2 611.5 L802.3 613.5 L802.5 615.6 L802.7 617.8 L802.9 620 L803.1 622.2 L803.3 624.5 L803.5 626.8 L803.6 629.2 L803.8 631.6 L804 634 L804.2 636.5 L804.4 639 L804.6 641.5 L804.8 644 L804.9 646.5 L805.1 649 L805.3 651.6 L805.5 654.1 L805.7 656.6 L805.9 659.2 L806 661.7 L806.2 664.2 L806.4 666.7 L806.6 669.2 L806.8 671.7 L807 674.1 L807.2 676.5 L807.3 678.9 L807.5 681.3 L807.7 683.6 L807.9 685.8 L808.1 688.1 L808.3 690.3 L808.4 692.4 L808.6 694.5 L808.8 696.5 L809 698.5 L809.2 700.4 L809.4 702.3 L809.6 704.1 L809.7 705.8 L809.9 707.5 L810.1 709.1 L810.3 710.6 L810.5 712.1 L810.7 713.5 L810.9 714.8 L811 716 L811.2 717.1 L811.4 718.2 L811.6 719.2 L811.8 720.1 L812 720.9 L812.1 721.6 L812.3 722.2 L812.5 722.8 L812.7 723.3 L812.9 723.6 L813.1 723.9 L813.3 724.1 L813.4 724.2 L813.6 724.2 L813.8 724.1 L814 724 L814.2 723.7 L814.4 723.3 L814.6 722.9 L814.7 722.4 L814.9 721.8 L815.1 721.1 L815.3 720.3 L815.5 719.4 L815.7 718.5 L815.8 717.4 L816 716.3 L816.2 715.1 L816.4 713.9 L816.6 712.6 L816.8 711.2 L817 709.7 L817.1 708.1 L817.3 706.5 L817.5 704.9 L817.7 703.2 L817.9 701.4 L818.1 699.6 L818.3 697.7 L818.4 695.8 L818.6 693.9 L818.8 691.9 L819 689.9 L819.2 687.8 L819.4 685.7 L819.5 683.6 L819.7 681.5 L819.9 679.4 L820.1 677.3 L820.3 675.1 L820.5 673 L820.7 670.8 L820.8 668.7 L821 666.6 L821.2 664.5 L821.4 662.4 L821.6 660.4 L821.8 658.4 L822 656.4 L822.1 654.5 L822.3 652.6 L822.5 650.7 L822.7 648.9 L822.9 647.2 L823.1 645.5 L823.2 643.9 L823.4 642.4 L823.6 640.9 L823.8 639.6 L824 638.3 L824.2 637.1 L824.4 635.9 L824.5 634.9 L824.7 634 L824.9 633.1 L825.1 632.4 L825.3 631.7 L825.5 631.2 L825.7 630.8 L825.8 630.5 L826 630.2 L826.2 630.1 L826.4 630.1 L826.6 630.3 L826.8 630.5 L826.9 630.8 L827.1 631.2 L827.3 631.8 L827.5 632.4 L827.7 633.2 L827.9 634 L828.1 635 L828.2 636 L828.4 637.2 L828.6 638.4 L828.8 639.7 L829 641.2 L829.2 642.6 L829.3 644.2 L829.5 645.8 L829.7 647.6 L829.9 649.3 L830.1 651.2 L830.3 653.1 L830.5 655 L830.6 657 L830.8 659.1 L831 661.2 L831.2 663.3 L831.4 665.4 L831.6 667.6 L831.8 669.8 L831.9 672 L832.1 674.2 L832.3 676.5 L832.5 678.7 L832.7 681 L832.9 683.2 L833 685.5 L833.2 687.7 L833.4 689.9 L833.6 692.1 L833.8 694.2 L834 696.4 L834.2 698.5 L834.3 700.6 L834.5 702.6 L834.7 704.6 L834.9 706.6 L835.1 708.5 L835.3 710.4 L835.5 712.2 L835.6 714 L835.8 715.7 L836 717.4 L836.2 719 L836.4 720.5 L836.6 722 L836.7 723.5 L836.9 724.8 L837.1 726.2 L837.3 727.4 L837.5 728.6 L837.7 729.7 L837.9 730.8 L838 731.8 L838.2 732.8 L838.4 733.7 L838.6 734.5 L838.8 735.3 L839 736 L839.2 736.7 L839.3 737.3 L839.5 737.8 L839.7 738.3 L839.9 738.8 L840.1 739.2 L840.3 739.6 L840.4 739.9 L840.6 740.2 L840.8 740.4 L841 740.6 L841.2 740.8 L841.4 741 L841.6 741.1 L841.7 741.2 L841.9 741.3 L842.1 741.3 L842.3 741.4 L842.5 741.4 L842.7 741.5 L842.9 741.5 L843 741.5 L843.2 741.5 L843.4 741.5 L843.6 741.5 L843.8 741.5 L844 741.6 L844.1 741.6 L844.3 741.7 L844.5 741.7 L844.7 741.8 L844.9 741.9 L845.1 742 L845.3 742.2 L845.4 742.4 L845.6 742.6 L845.8 742.8 L846 743 L846.2 743.3 L846.4 743.6 L846.6 744 L846.7 744.4 L846.9 744.8 L847.1 745.2 L847.3 745.7 L847.5 746.2 L847.7 746.8 L847.8 747.3 L848 747.9 L848.2 748.6 L848.4 749.2 L848.6 749.9 L848.8 750.7 L849 751.4 L849.1 752.2 L849.3 753 L849.5 753.9 L849.7 754.7 L849.9 755.6 L850.1 756.5 L850.2 757.4 L850.4 758.3 L850.6 759.3 L850.8 760.2 L851 761.2 L851.2 762.2 L851.4 763.1 L851.5 764.1 L851.7 765.1 L851.9 766.1 L852.1 767.1 L852.3 768 L852.5 769 L852.7 769.9 L852.8 770.9 L853 771.8 L853.2 772.7 L853.4 773.6 L853.6 774.5 L853.8 775.3 L853.9 776.2 L854.1 777 L854.3 777.7 L854.5 778.5 L854.7 779.2 L854.9 779.9 L855.1 780.5 L855.2 781.1 L855.4 781.7 L855.6 782.2 L855.8 782.7 L856 783.2 L856.2 783.6 L856.4 784 L856.5 784.3 L856.7 784.6 L856.9 784.8 L857.1 785 L857.3 785.2 L857.5 785.3 L857.6 785.3 L857.8 785.3 L858 785.3 L858.2 785.2 L858.4 785.1 L858.6 784.9 L858.8 784.7 L858.9 784.5 L859.1 784.2 L859.3 783.8 L859.5 783.5 L859.7 783 L859.9 782.6 L860.1 782.1 L860.2 781.6 L860.4 781 L860.6 780.4 L860.8 779.8 L861 779.1 L861.2 778.4 L861.3 777.7 L861.5 777 L861.7 776.2 L861.9 775.4 L862.1 774.6 L862.3 773.8 L862.5 772.9 L862.6 772.1 L862.8 771.2 L863 770.3 L863.2 769.4 L863.4 768.5 L863.6 767.6 L863.8 766.7 L863.9 765.8 L864.1 764.9 L864.3 764 L864.5 763.1 L864.7 762.2 L864.9 761.3 L865 760.5 L865.2 759.6 L865.4 758.8 L865.6 758 L865.8 757.2 L866 756.4 L866.2 755.6 L866.3 754.9 L866.5 754.2 L866.7 753.5 L866.9 752.8 L867.1 752.2 L867.3 751.6 L867.5 751 L867.6 750.5 L867.8 750 L868 749.5 L868.2 749.1 L868.4 748.7 L868.6 748.4 L868.7 748 L868.9 747.8 L869.1 747.5 L869.3 747.3 L869.5 747.2 L869.7 747 L869.9 746.9 L870 746.9 L870.2 746.9 L870.4 746.9 L870.6 747 L870.8 747.1 L871 747.2 L871.2 747.4 L871.3 747.6 L871.5 747.9 L871.7 748.2 L871.9 748.5 L872.1 748.8 L872.3 749.2 L872.4 749.6 L872.6 750.1 L872.8 750.5 L873 751 L873.2 751.6 L873.4 752.1 L873.6 752.7 L873.7 753.3 L873.9 753.9 L874.1 754.5 L874.3 755.1 L874.5 755.8 L874.7 756.4 L874.8 757.1 L875 757.8 L875.2 758.5 L875.4 759.2 L875.6 759.9 L875.8 760.7 L876 761.4 L876.1 762.1 L876.3 762.8 L876.5 763.5 L876.7 764.3 L876.9 765 L877.1 765.7 L877.3 766.4 L877.4 767.1 L877.6 767.8 L877.8 768.5 L878 769.1 L878.2 769.8 L878.4 770.4 L878.5 771 L878.7 771.7 L878.9 772.3 L879.1 772.8 L879.3 773.4 L879.5 773.9 L879.7 774.5 L879.8 775 L880 775.5 L880.2 775.9 L880.4 776.4 L880.6 776.8 L880.8 777.2 L881 777.6 L881.1 778 L881.3 778.3 L881.5 778.6 L881.7 778.9 L881.9 779.2 L882.1 779.5 L882.2 779.7 L882.4 779.9 L882.6 780.1 L882.8 780.3 L883 780.4 L883.2 780.5 L883.4 780.6 L883.5 780.7 L883.7 780.8 L883.9 780.8 L884.1 780.9 L884.3 780.9 L884.5 780.9 L884.7 780.8 L884.8 780.8 L885 780.7 L885.2 780.7 L885.4 780.6 L885.6 780.4 L885.8 780.3 L885.9 780.2 L886.1 780 L886.3 779.9 L886.5 779.7 L886.7 779.5 L886.9 779.3 L887.1 779 L887.2 778.8 L887.4 778.6 L887.6 778.3 L887.8 778 L888 777.8 L888.2 777.5 L888.4 777.2 L888.5 776.9 L888.7 776.6 L888.9 776.3 L889.1 775.9 L889.3 775.6 L889.5 775.3 L889.6 774.9 L889.8 774.6 L890 774.2 L890.2 773.9 L890.4 773.5 L890.6 773.1 L890.8 772.8 L890.9 772.4 L891.1 772 L891.3 771.6 L891.5 771.2 L891.7 770.9 L891.9 770.5 L892.1 770.1 L892.2 769.7 L892.4 769.3 L892.6 768.9 L892.8 768.5 L893 768.1 L893.2 767.7 L893.3 767.3 L893.5 766.9 L893.7 766.5 L893.9 766.1 L894.1 765.7 L894.3 765.3 L894.5 764.9 L894.6 764.6 L894.8 764.2 L895 763.8 L895.2 763.4 L895.4 763 L895.6 762.6 L895.7 762.2 L895.9 761.9 L896.1 761.5 L896.3 761.1 L896.5 760.7 L896.7 760.4 L896.9 760 L897 759.6 L897.2 759.3 L897.4 758.9 L897.6 758.6 L897.8 758.2 L898 757.9 L898.2 757.5 L898.3 757.2 L898.5 756.9 L898.7 756.5 L898.9 756.2 L899.1 755.9 L899.3 755.5 L899.4 755.2 L899.6 754.9 L899.8 754.6 L900 754.3 L900.2 754 L900.4 753.7 L900.6 753.4 L900.7 753.1 L900.9 752.9 L901.1 752.6 L901.3 752.3 L901.5 752.1 L901.7 751.8 L901.9 751.5 L902 751.3 L902.2 751.1 L902.4 750.8 L902.6 750.6 L902.8 750.4 L903 750.1 L903.1 749.9 L903.3 749.7 L903.5 749.5 L903.7 749.3 L903.9 749.1 L904.1 748.9 L904.3 748.8 L904.4 748.6 L904.6 748.4 L904.8 748.2 L905 748.1 L905.2 747.9 L905.4 747.8 L905.6 747.7 L905.7 747.5 L905.9 747.4 L906.1 747.3 L906.3 747.2 L906.5 747.1 L906.7 747 L906.8 746.9 L907 746.8 L907.2 746.7 L907.4 746.6 L907.6 746.5 L907.8 746.5 L908 746.4 L908.1 746.4 L908.3 746.3 L908.5 746.3 L908.7 746.3 L908.9 746.3 L909.1 746.2 L909.3 746.2 L909.4 746.2 L909.6 746.2 L909.8 746.2 L910 746.3 L910.2 746.3 L910.4 746.3 L910.5 746.3 L910.7 746.4 L910.9 746.4 L911.1 746.5 L911.3 746.6 L911.5 746.6 L911.7 746.7 L911.8 746.8 L912 746.9 L912.2 747 L912.4 747.1 L912.6 747.2 L912.8 747.3 L913 747.4 L913.1 747.5 L913.3 747.7 L913.5 747.8 L913.7 748 L913.9 748.1 L914.1 748.3 L914.2 748.4 L914.4 748.6 L914.6 748.8 L914.8 749 L915 749.1 L915.2 749.3 L915.4 749.5 L915.5 749.7 L915.7 750 L915.9 750.2 L916.1 750.4 L916.3 750.6 L916.5 750.9 L916.6 751.1 L916.8 751.3 L917 751.6 L917.2 751.8 L917.4 752.1 L917.6 752.4 L917.8 752.6 L917.9 752.9 L918.1 753.2 L918.3 753.5 L918.5 753.8 L918.7 754.1 L918.9 754.4 L919.1 754.7 L919.2 755 L919.4 755.3 L919.6 755.6 L919.8 755.9 L920 756.3 L920.2 756.6 L920.3 756.9 L920.5 757.3 L920.7 757.6 L920.9 758 L921.1 758.3 L921.3 758.7 L921.5 759 L921.6 759.4 L921.8 759.8 L922 760.1 L922.2 760.5 L922.4 760.9 L922.6 761.3 L922.8 761.7 L922.9 762 L923.1 762.4 L923.3 762.8 L923.5 763.2 L923.7 763.6 L923.9 764 L924 764.4 L924.2 764.8 L924.4 765.2 L924.6 765.7 L924.8 766.1 L925 766.5 L925.2 766.9 L925.3 767.3 L925.5 767.7 L925.7 768.2 L925.9 768.6 L926.1 769 L926.3 769.5 L926.5 769.9 L926.6 770.3 L926.8 770.8 L927 771.2 L927.2 771.6 L927.4 772.1 L927.6 772.5 L927.7 772.9 L927.9 773.4 L928.1 773.8 L928.3 774.3 L928.5 774.7 L928.7 775.1 L928.9 775.6 L929 776 L929.2 776.5 L929.4 776.9 L929.6 777.4 L929.8 777.8 L930 778.3 L930.2 778.7 L930.3 779.2 L930.5 779.6 L930.7 780 L930.9 780.5 L931.1 780.9 L931.3 781.4 L931.4 781.8 L931.6 782.3 L931.8 782.7 L932 783.2 L932.2 783.6 L932.4 784 L932.6 784.5 L932.7 784.9 L932.9 785.4 L933.1 785.8 L933.3 786.2 L933.5 786.7 L933.7 787.1 L933.9 787.5 L934 788 L934.2 788.4 L934.4 788.8 L934.6 789.2 L934.8 789.7 L935 790.1 L935.1 790.5 L935.3 790.9 L935.5 791.4 L935.7 791.8 L935.9 792.2 L936.1 792.6 L936.3 793 L936.4 793.4 L936.6 793.8 L936.8 794.2 L937 794.6 L937.2 795 L937.4 795.4 L937.5 795.8 L937.7 796.2 L937.9 796.6 L938.1 797 L938.3 797.4 L938.5 797.8 L938.7 798.2 L938.8 798.5 L939 798.9 L939.2 799.3 L939.4 799.7 L939.6 800 L939.8 800.4 L940 800.8 L940.1 801.1 L940.3 801.5 L940.5 801.8 L940.7 802.2 L940.9 802.5 L941.1 802.9 L941.2 803.2 L941.4 803.6 L941.6 803.9 L941.8 804.3 L942 804.6 L942.2 804.9 L942.4 805.3 L942.5 805.6 L942.7 805.9 L942.9 806.2 L943.1 806.5 L943.3 806.9 L943.5 807.2 L943.7 807.5 L943.8 807.8 L944 808.1 L944.2 808.4 L944.4 808.7 L944.6 809 L944.8 809.3 L944.9 809.5 L945.1 809.8 L945.3 810.1 L945.5 810.4 L945.7 810.7 L945.9 810.9 L946.1 811.2 L946.2 811.5 L946.4 811.7 L946.6 812 L946.8 812.3 L947 812.5 L947.2 812.8 L947.4 813 L947.5 813.3 L947.7 813.5 L947.9 813.7 L948.1 814 L948.3 814.2 L948.5 814.4 L948.6 814.7 L948.8 814.9 L949 815.1 L949.2 815.3 L949.4 815.5 L949.6 815.8 L949.8 816 L949.9 816.2 L950.1 816.4 L950.3 816.6 L950.5 816.8 L950.7 817 L950.9 817.2 L951.1 817.3 L951.2 817.5 L951.4 817.7 L951.6 817.9 L951.8 818.1 L952 818.2 L952.2 818.4 L952.3 818.6 L952.5 818.7 L952.7 818.9 L952.9 819.1 L953.1 819.2 L953.3 819.4 L953.5 819.5 L953.6 819.7 L953.8 819.8 L954 820 L954.2 820.1 L954.4 820.2 L954.6 820.4 L954.8 820.5 L954.9 820.6 L955.1 820.7 L955.3 820.9 L955.5 821 L955.7 821.1 L955.9 821.2 L956 821.3 L956.2 821.4 L956.4 821.5 L956.6 821.6 L956.8 821.7 L957 821.8 L957.2 821.9 L957.3 822 L957.5 822 L957.7 822.1 L957.9 822.2 L958.1 822.3 L958.3 822.3 L958.5 822.4 L958.6 822.5 L958.8 822.5 L959 822.6 L959.2 822.6 L959.4 822.6 L959.6 822.7 L959.7 822.7 L959.9 822.7 L960.1 822.8 L960.3 822.8 L960.5 822.8 L960.7 822.8 L960.9 822.8 L961 822.8 L961.2 822.8 L961.4 822.8 L961.6 822.8 L961.8 822.8 L962 822.8 L962.1 822.7 L962.3 822.7 L962.5 822.7 L962.7 822.6 L962.9 822.6 L963.1 822.5 L963.3 822.5 L963.4 822.4 L963.6 822.3 L963.8 822.2 L964 822.1 L964.2 822 L964.4 821.9 L964.6 821.8 L964.7 821.7 L964.9 821.6 L965.1 821.5 L965.3 821.3 L965.5 821.2 L965.7 821 L965.8 820.8 L966 820.7 L966.2 820.5 L966.4 820.3 L966.6 820.1 L966.8 819.9 L967 819.7 L967.1 819.4 L967.3 819.2 L967.5 818.9 L967.7 818.7 L967.9 818.4 L968.1 818.1 L968.3 817.8 L968.4 817.5 L968.6 817.2 L968.8 816.8 L969 816.5 L969.2 816.1 L969.4 815.8 L969.5 815.4 L969.7 815 L969.9 814.6 L970.1 814.1 L970.3 813.7 L970.5 813.3 L970.7 812.8 L970.8 812.3 L971 811.8 L971.2 811.3 L971.4 810.7 L971.6 810.2 L971.8 809.6 L972 809.1 L972.1 808.5 L972.3 807.8 L972.5 807.2 L972.7 806.6 L972.9 805.9 L973.1 805.2 L973.2 804.5 L973.4 803.8 L973.6 803 L973.8 802.3 L974 801.5 L974.2 800.7 L974.4 799.9 L974.5 799 L974.7 798.2 L974.9 797.3 L975.1 796.4 L975.3 795.5 L975.5 794.5 L975.7 793.6 L975.8 792.6 L976 791.6 L976.2 790.5 L976.4 789.5 L976.6 788.4 L976.8 787.3 L976.9 786.2 L977.1 785.1 L977.3 783.9 L977.5 782.7 L977.7 781.5 L977.9 780.3 L978.1 779.1 L978.2 777.8 L978.4 776.5 L978.6 775.2 L978.8 773.8 L979 772.5 L979.2 771.1 L979.4 769.7 L979.5 768.3 L979.7 766.8 L979.9 765.4 L980.1 763.9 L980.3 762.4 L980.5 760.8 L980.6 759.3 L980.8 757.7 L981 756.1 L981.2 754.5 L981.4 752.9 L981.6 751.2 L981.8 749.6 L981.9 747.9 L982.1 746.2 L982.3 744.4 L982.5 742.7 L982.7 740.9 L982.9 739.2 L983 737.4 L983.2 735.6 L983.4 733.7 L983.6 731.9 L983.8 730.1 L984 728.2 L984.2 726.3 L984.3 724.4 L984.5 722.5 L984.7 720.6 L984.9 718.7 L985.1 716.8 L985.3 714.9 L985.5 712.9 L985.6 711 L985.8 709 L986 707.1 L986.2 705.1 L986.4 703.1 L986.6 701.2 L986.7 699.2 L986.9 697.2 L987.1 695.2 L987.3 693.3 L987.5 691.3 L987.7 689.3 L987.9 687.4 L988 685.4 L988.2 683.4 L988.4 681.5 L988.6 679.6 L988.8 677.6 L989 675.7 L989.2 673.8 L989.3 671.9 L989.5 670 L989.7 668.1 L989.9 666.3 L990.1 664.4 L990.3 662.6 L990.4 660.8 L990.6 659 L990.8 657.2 L991 655.5 L991.2 653.8 L991.4 652 L991.6 650.4 L991.7 648.7 L991.9 647.1 L992.1 645.5 L992.3 643.9 L992.5 642.3 L992.7 640.8 L992.9 639.3 L993 637.9 L993.2 636.5 L993.4 635.1 L993.6 633.7 L993.8 632.4 L994 631.1 L994.1 629.9 L994.3 628.7 L994.5 627.5 L994.7 626.3 L994.9 625.3 L995.1 624.2 L995.3 623.2 L995.4 622.2 L995.6 621.3 L995.8 620.4 L996 619.6 L996.2 618.8 L996.4 618 L996.6 617.3 L996.7 616.7 L996.9 616 L997.1 615.5 L997.3 615 L997.5 614.5 L997.7 614.1 L997.8 613.7 L998 613.4 L998.2 613.1 L998.4 612.9 L998.6 612.7 L998.8 612.5 L999 612.5 L999.1 612.4 L999.3 612.4 L999.5 612.5 L999.7 612.6 L999.9 612.8 L1000.1 613 L1000.3 613.3 L1000.4 613.6 L1000.6 613.9 L1000.8 614.3 L1001 614.8 L1001.2 615.3 L1001.4 615.8 L1001.5 616.4 L1001.7 617.1 L1001.9 617.8 L1002.1 618.5 L1002.3 619.3 L1002.5 620.1 L1002.7 621 L1002.8 621.9 L1003 622.8 L1003.2 623.8 L1003.4 624.9 L1003.6 625.9 L1003.8 627.1 L1003.9 628.2 L1004.1 629.4 L1004.3 630.6 L1004.5 631.9 L1004.7 633.2 L1004.9 634.6 L1005.1 635.9 L1005.2 637.4 L1005.4 638.8 L1005.6 640.3 L1005.8 641.8 L1006 643.3 L1006.2 644.9 L1006.4 646.5 L1006.5 648.1 L1006.7 649.8 L1006.9 651.4 L1007.1 653.1 L1007.3 654.8 L1007.5 656.6 L1007.6 658.4 L1007.8 660.1 L1008 661.9 L1008.2 663.8 L1008.4 665.6 L1008.6 667.5 L1008.8 669.3 L1008.9 671.2 L1009.1 673.1 L1009.3 675 L1009.5 676.9 L1009.7 678.9 L1009.9 680.8 L1010.1 682.8 L1010.2 684.7 L1010.4 686.7 L1010.6 688.6 L1010.8 690.6 L1011 692.6 L1011.2 694.6 L1011.3 696.5 L1011.5 698.5 L1011.7 700.5 L1011.9 702.5 L1012.1 704.4 L1012.3 706.4 L1012.5 708.4 L1012.6 710.3 L1012.8 712.3 L1013 714.2 L1013.2 716.2 L1013.4 718.1 L1013.6 720 L1013.8 721.9 L1013.9 723.8 L1014.1 725.7 L1014.3 727.6 L1014.5 729.5 L1014.7 731.3 L1014.9 733.2 L1015 735 L1015.2 736.8 L1015.4 738.6 L1015.6 740.4 L1015.8 742.2 L1016 743.9 L1016.2 745.7 L1016.3 747.4 L1016.5 749.1 L1016.7 750.8 L1016.9 752.5 L1017.1 754.1 L1017.3 755.7 L1017.5 757.3 L1017.6 758.9 L1017.8 760.5 L1018 762 L1018.2 763.6 L1018.4 765.1 L1018.6 766.5 L1018.7 768 L1018.9 769.5 L1019.1 770.9 L1019.3 772.3 L1019.5 773.6 L1019.7 775 L1019.9 776.3 L1020 777.6 L1020.2 778.9 L1020.4 780.2 L1020.6 781.5 L1020.8 782.7 L1021 783.9 L1021.2 785.1 L1021.3 786.2 L1021.5 787.3 L1021.7 788.5 L1021.9 789.6 L1022.1 790.6 L1022.3 791.7 L1022.4 792.7 L1022.6 793.7 L1022.8 794.7 L1023 795.7 L1023.2 796.6 L1023.4 797.5 L1023.6 798.4 L1023.7 799.3 L1023.9 800.2 L1024.1 801 L1024.3 801.9 L1024.5 802.7 L1024.7 803.4 L1024.9 804.2 L1025 805 L1025.2 805.7 L1025.4 806.4 L1025.6 807.1 L1025.8 807.8 L1026 808.4 L1026.1 809.1 L1026.3 809.7 L1026.5 810.3 L1026.7 810.9 L1026.9 811.5 L1027.1 812.1 L1027.3 812.6 L1027.4 813.1 L1027.6 813.7 L1027.8 814.2 L1028 814.6 L1028.2 815.1 L1028.4 815.6 L1028.5 816 L1028.7 816.5 L1028.9 816.9 L1029.1 817.3 L1029.3 817.7 L1029.5 818.1 L1029.7 818.4 L1029.8 818.8 L1030 819.2 L1030.2 819.5 L1030.4 819.8 L1030.6 820.1 L1030.8 820.4 L1031 820.7 L1031.1 821 L1031.3 821.3 L1031.5 821.6 L1031.7 821.8 L1031.9 822.1 L1032.1 822.3 L1032.2 822.6 L1032.4 822.8 L1032.6 823 L1032.8 823.2 L1033 823.4 L1033.2 823.6 L1033.4 823.8 L1033.5 824 L1033.7 824.1 L1033.9 824.3 L1034.1 824.5 L1034.3 824.6 L1034.5 824.8 L1034.7 824.9 L1034.8 825.1 L1035 825.2 L1035.2 825.3 L1035.4 825.5 L1035.6 825.6 L1035.8 825.7 L1035.9 825.8 L1036.1 825.9 L1036.3 826 L1036.5 826.1 L1036.7 826.2 L1036.9 826.3 L1037.1 826.4 L1037.2 826.5 L1037.4 826.5 L1037.6 826.6 L1037.8 826.7 L1038 826.8 L1038.2 826.8 L1038.4 826.9 L1038.5 827 L1038.7 827 L1038.9 827.1 L1039.1 827.1 L1039.3 827.2 L1039.5 827.2 L1039.6 827.3 L1039.8 827.3 L1040 827.4 L1040.2 827.4 L1040.4 827.4 L1040.6 827.5 L1040.8 827.5 L1040.9 827.5 L1041.1 827.6 L1041.3 827.6 L1041.5 827.6 L1041.7 827.7 L1041.9 827.7 L1042.1 827.7 L1042.2 827.7 L1042.4 827.8 L1042.6 827.8 L1042.8 827.8 L1043 827.8 L1043.2 827.8 L1043.3 827.9 L1043.5 827.9 L1043.7 827.9 L1043.9 827.9 L1044.1 827.9 L1044.3 827.9 L1044.5 828 L1044.6 828 L1044.8 828 L1045 828 L1045.2 828 L1045.4 828 L1045.6 828 L1045.8 828 L1045.9 828 L1046.1 828 L1046.3 828.1 L1046.5 828.1 L1046.7 828.1 L1046.9 828.1 L1047 828.1 L1047.2 828.1 L1047.4 828.1 L1047.6 828.1" fill="none" stroke="#ff0000" stroke-width="2.6"/><circle cx="622.3" cy="532.8" r="4.2" fill="url(#ud)"/><circle cx="623.3" cy="546.8" r="4.2" fill="url(#ud)"/><circle cx="620.1" cy="582.8" r="4.2" fill="url(#ud)"/><circle cx="618.8" cy="605.2" r="4.2" fill="url(#ud)"/><circle cx="621.1" cy="618.7" r="4.2" fill="url(#ud)"/><circle cx="626.5" cy="615.9" r="4.2" fill="url(#ud)"/><circle cx="617.9" cy="638.1" r="4.2" fill="url(#ud)"/><circle cx="616.6" cy="641.3" r="4.2" fill="url(#ud)"/><circle cx="628.9" cy="637.8" r="4.2" fill="url(#ud)"/><circle cx="629.5" cy="644.5" r="4.2" fill="url(#ud)"/><circle cx="624.4" cy="647.7" r="4.2" fill="url(#ud)"/><circle cx="614.7" cy="661.3" r="4.2" fill="url(#ud)"/><circle cx="625.6" cy="660.6" r="4.2" fill="url(#ud)"/><circle cx="632.5" cy="667.7" r="4.2" fill="url(#ud)"/><circle cx="635.3" cy="674.2" r="4.2" fill="url(#ud)"/><circle cx="634" cy="681.9" r="4.2" fill="url(#ud)"/><circle cx="638.5" cy="685.8" r="4.2" fill="url(#ud)"/><circle cx="616.1" cy="690.9" r="4.2" fill="url(#ud)"/><circle cx="631.6" cy="706.5" r="4.2" fill="url(#ud)"/><circle cx="612.4" cy="706.1" r="4.2" fill="url(#ud)"/><circle cx="607" cy="712.9" r="4.2" fill="url(#ud)"/><circle cx="613.9" cy="714.1" r="4.2" fill="url(#ud)"/><circle cx="643.2" cy="702.8" r="4.2" fill="url(#ud)"/><circle cx="641.7" cy="707.4" r="4.2" fill="url(#ud)"/><circle cx="652.3" cy="707.4" r="4.2" fill="url(#ud)"/><circle cx="650.8" cy="691" r="4.2" fill="url(#ud)"/><circle cx="653.4" cy="691.2" r="4.2" fill="url(#ud)"/><circle cx="692.9" cy="696.4" r="4.2" fill="url(#ud)"/><circle cx="696.6" cy="690.9" r="4.2" fill="url(#ud)"/><circle cx="676.5" cy="709.8" r="4.2" fill="url(#ud)"/><circle cx="668.2" cy="719.3" r="4.2" fill="url(#ud)"/><circle cx="665.1" cy="723.3" r="4.2" fill="url(#ud)"/><circle cx="664" cy="728.8" r="4.2" fill="url(#ud)"/><circle cx="655.4" cy="723.3" r="4.2" fill="url(#ud)"/><circle cx="648.1" cy="724.8" r="4.2" fill="url(#ud)"/><circle cx="644.4" cy="723.8" r="4.2" fill="url(#ud)"/><circle cx="639.9" cy="729.3" r="4.2" fill="url(#ud)"/><circle cx="642.1" cy="731.2" r="4.2" fill="url(#ud)"/><circle cx="687.4" cy="722.9" r="4.2" fill="url(#ud)"/><circle cx="694.7" cy="729.3" r="4.2" fill="url(#ud)"/><circle cx="696.6" cy="733" r="4.2" fill="url(#ud)"/><circle cx="703.9" cy="730.2" r="4.2" fill="url(#ud)"/><circle cx="677.4" cy="732.1" r="4.2" fill="url(#ud)"/><circle cx="681.9" cy="739.4" r="4.2" fill="url(#ud)"/><circle cx="676.5" cy="743" r="4.2" fill="url(#ud)"/><circle cx="673.7" cy="745.8" r="4.2" fill="url(#ud)"/><circle cx="694.4" cy="737.6" r="4.2" fill="url(#ud)"/><circle cx="701.2" cy="743" r="4.2" fill="url(#ud)"/><circle cx="672.4" cy="753.1" r="4.2" fill="url(#ud)"/><circle cx="679.8" cy="756.8" r="4.2" fill="url(#ud)"/><circle cx="688.3" cy="751.3" r="4.2" fill="url(#ud)"/><circle cx="692" cy="754" r="4.2" fill="url(#ud)"/><circle cx="699.3" cy="751.3" r="4.2" fill="url(#ud)"/><circle cx="662.7" cy="748.2" r="4.2" fill="url(#ud)"/><circle cx="611.5" cy="745.2" r="4.2" fill="url(#ud)"/><circle cx="636.2" cy="744" r="4.2" fill="url(#ud)"/><circle cx="649" cy="754" r="4.2" fill="url(#ud)"/><circle cx="651.2" cy="758.6" r="4.2" fill="url(#ud)"/><circle cx="680.1" cy="766.8" r="4.2" fill="url(#ud)"/><circle cx="690.2" cy="769.6" r="4.2" fill="url(#ud)"/><circle cx="597.8" cy="754.9" r="4.2" fill="url(#ud)"/><circle cx="598.7" cy="762.3" r="4.2" fill="url(#ud)"/><circle cx="605.5" cy="762.8" r="4.2" fill="url(#ud)"/><circle cx="608.8" cy="769.6" r="4.2" fill="url(#ud)"/><circle cx="657.8" cy="765.4" r="4.2" fill="url(#ud)"/><circle cx="660" cy="770.5" r="4.2" fill="url(#ud)"/><circle cx="661.8" cy="774.1" r="4.2" fill="url(#ud)"/><circle cx="638" cy="776" r="4.2" fill="url(#ud)"/><circle cx="643.9" cy="773.8" r="4.2" fill="url(#ud)"/><circle cx="656" cy="776.3" r="4.2" fill="url(#ud)"/><circle cx="610.2" cy="778.7" r="4.2" fill="url(#ud)"/><circle cx="603.7" cy="785.1" r="4.2" fill="url(#ud)"/><circle cx="588.3" cy="784.2" r="4.2" fill="url(#ud)"/><circle cx="684.7" cy="781.5" r="4.2" fill="url(#ud)"/><circle cx="685.2" cy="788.4" r="4.2" fill="url(#ud)"/><circle cx="681.9" cy="786.9" r="4.2" fill="url(#ud)"/><circle cx="671" cy="786.9" r="4.2" fill="url(#ud)"/><circle cx="660" cy="787.9" r="4.2" fill="url(#ud)"/><circle cx="654.5" cy="792.4" r="4.2" fill="url(#ud)"/><circle cx="665.1" cy="794.6" r="4.2" fill="url(#ud)"/><circle cx="689.3" cy="795.7" r="4.2" fill="url(#ud)"/><circle cx="702.1" cy="799.4" r="4.2" fill="url(#ud)"/><circle cx="698.4" cy="805.2" r="4.2" fill="url(#ud)"/><circle cx="600.5" cy="806.7" r="4.2" fill="url(#ud)"/><circle cx="670.1" cy="804.3" r="4.2" fill="url(#ud)"/><circle cx="667.3" cy="811.1" r="4.2" fill="url(#ud)"/><circle cx="674.6" cy="811.6" r="4.2" fill="url(#ud)"/><circle cx="590.1" cy="811.1" r="4.2" fill="url(#ud)"/><circle cx="586.8" cy="816.2" r="4.2" fill="url(#ud)"/><circle cx="597.4" cy="821.3" r="4.2" fill="url(#ud)"/><circle cx="604.8" cy="820.2" r="4.2" fill="url(#ud)"/><circle cx="601.5" cy="826.8" r="4.2" fill="url(#ud)"/><circle cx="602.9" cy="832.7" r="4.2" fill="url(#ud)"/><circle cx="590.1" cy="832.7" r="4.2" fill="url(#ud)"/><circle cx="594.1" cy="837.8" r="4.2" fill="url(#ud)"/><circle cx="593.2" cy="845.5" r="4.2" fill="url(#ud)"/><circle cx="585.9" cy="849.1" r="4.2" fill="url(#ud)"/><circle cx="683.8" cy="851.9" r="4.2" fill="url(#ud)"/><circle cx="703.9" cy="818" r="4.2" fill="url(#ud)"/><circle cx="801.8" cy="521.7" r="4.2" fill="url(#ud)"/><circle cx="795" cy="553.3" r="4.2" fill="url(#ud)"/><circle cx="793.7" cy="570.7" r="4.2" fill="url(#ud)"/><circle cx="800.3" cy="571.3" r="4.2" fill="url(#ud)"/><circle cx="798.3" cy="582.9" r="4.2" fill="url(#ud)"/><circle cx="796.4" cy="596.4" r="4.2" fill="url(#ud)"/><circle cx="828.4" cy="583.3" r="4.2" fill="url(#ud)"/><circle cx="823.5" cy="598.4" r="4.2" fill="url(#ud)"/><circle cx="822.2" cy="602.6" r="4.2" fill="url(#ud)"/><circle cx="827" cy="610" r="4.2" fill="url(#ud)"/><circle cx="815.8" cy="623" r="4.2" fill="url(#ud)"/><circle cx="824.7" cy="628.2" r="4.2" fill="url(#ud)"/><circle cx="820.2" cy="644.8" r="4.2" fill="url(#ud)"/><circle cx="830.5" cy="644.3" r="4.2" fill="url(#ud)"/><circle cx="812.5" cy="649.1" r="4.2" fill="url(#ud)"/><circle cx="805.3" cy="647.6" r="4.2" fill="url(#ud)"/><circle cx="790.2" cy="654" r="4.2" fill="url(#ud)"/><circle cx="797" cy="653" r="4.2" fill="url(#ud)"/><circle cx="803.4" cy="656.9" r="4.2" fill="url(#ud)"/><circle cx="826" cy="655.9" r="4.2" fill="url(#ud)"/><circle cx="787.3" cy="668.5" r="4.2" fill="url(#ud)"/><circle cx="821.2" cy="669.4" r="4.2" fill="url(#ud)"/><circle cx="829.9" cy="667.5" r="4.2" fill="url(#ud)"/><circle cx="806.7" cy="674.3" r="4.2" fill="url(#ud)"/><circle cx="834.7" cy="676.6" r="4.2" fill="url(#ud)"/><circle cx="713.6" cy="694" r="4.2" fill="url(#ud)"/><circle cx="705" cy="729.9" r="4.2" fill="url(#ud)"/><circle cx="713.2" cy="743.9" r="4.2" fill="url(#ud)"/><circle cx="724.8" cy="747.1" r="4.2" fill="url(#ud)"/><circle cx="706.1" cy="754.6" r="4.2" fill="url(#ud)"/><circle cx="717.9" cy="769.2" r="4.2" fill="url(#ud)"/><circle cx="714.7" cy="776.1" r="4.2" fill="url(#ud)"/><circle cx="716.8" cy="783" r="4.2" fill="url(#ud)"/><circle cx="708.9" cy="795.5" r="4.2" fill="url(#ud)"/><circle cx="716.2" cy="809.5" r="4.2" fill="url(#ud)"/><circle cx="707.2" cy="818.1" r="4.2" fill="url(#ud)"/><circle cx="708.2" cy="827.7" r="4.2" fill="url(#ud)"/><circle cx="711.5" cy="846" r="4.2" fill="url(#ud)"/><circle cx="720" cy="838.5" r="4.2" fill="url(#ud)"/><circle cx="721.1" cy="843.9" r="4.2" fill="url(#ud)"/><circle cx="730.8" cy="841.7" r="4.2" fill="url(#ud)"/><circle cx="736.8" cy="837.4" r="4.2" fill="url(#ud)"/><circle cx="726.5" cy="800.9" r="4.2" fill="url(#ud)"/><circle cx="733" cy="797.6" r="4.2" fill="url(#ud)"/><circle cx="743.7" cy="796.6" r="4.2" fill="url(#ud)"/><circle cx="750.2" cy="799.8" r="4.2" fill="url(#ud)"/><circle cx="756.6" cy="791.2" r="4.2" fill="url(#ud)"/><circle cx="765.2" cy="791.2" r="4.2" fill="url(#ud)"/><circle cx="772.1" cy="795.9" r="4.2" fill="url(#ud)"/><circle cx="785.6" cy="795.9" r="4.2" fill="url(#ud)"/><circle cx="735.1" cy="813.1" r="4.2" fill="url(#ud)"/><circle cx="738.3" cy="818.1" r="4.2" fill="url(#ud)"/><circle cx="742.6" cy="812.7" r="4.2" fill="url(#ud)"/><circle cx="746.9" cy="808.4" r="4.2" fill="url(#ud)"/><circle cx="726.5" cy="826.7" r="4.2" fill="url(#ud)"/><circle cx="733" cy="825.6" r="4.2" fill="url(#ud)"/><circle cx="756.6" cy="818.1" r="4.2" fill="url(#ud)"/><circle cx="759.8" cy="825.6" r="4.2" fill="url(#ud)"/><circle cx="758.8" cy="831" r="4.2" fill="url(#ud)"/><circle cx="764.1" cy="825.6" r="4.2" fill="url(#ud)"/><circle cx="767.4" cy="819.1" r="4.2" fill="url(#ud)"/><circle cx="769.1" cy="808.4" r="4.2" fill="url(#ud)"/><circle cx="774.2" cy="813.8" r="4.2" fill="url(#ud)"/><circle cx="780.3" cy="820.2" r="4.2" fill="url(#ud)"/><circle cx="777.7" cy="777.2" r="4.2" fill="url(#ud)"/><circle cx="780.7" cy="754.6" r="4.2" fill="url(#ud)"/><circle cx="782.8" cy="749.2" r="4.2" fill="url(#ud)"/><circle cx="781.6" cy="724.1" r="4.2" fill="url(#ud)"/><circle cx="785" cy="718.1" r="4.2" fill="url(#ud)"/><circle cx="788.9" cy="707.7" r="4.2" fill="url(#ud)"/><circle cx="789.3" cy="692.3" r="4.2" fill="url(#ud)"/><circle cx="792.1" cy="685.8" r="4.2" fill="url(#ud)"/><circle cx="753.4" cy="842.8" r="4.2" fill="url(#ud)"/><circle cx="764.1" cy="843.9" r="4.2" fill="url(#ud)"/><circle cx="772.7" cy="838.5" r="4.2" fill="url(#ud)"/><circle cx="779.2" cy="838.5" r="4.2" fill="url(#ud)"/><circle cx="746.9" cy="849.2" r="4.2" fill="url(#ud)"/><circle cx="776" cy="850.3" r="4.2" fill="url(#ud)"/><circle cx="743.7" cy="850.3" r="4.2" fill="url(#ud)"/><circle cx="806.5" cy="694.4" r="4.2" fill="url(#ud)"/><circle cx="811.5" cy="695.5" r="4.2" fill="url(#ud)"/><circle cx="814.7" cy="701.9" r="4.2" fill="url(#ud)"/><circle cx="809.3" cy="721.3" r="4.2" fill="url(#ud)"/><circle cx="816.8" cy="738.5" r="4.2" fill="url(#ud)"/><circle cx="810.4" cy="748.2" r="4.2" fill="url(#ud)"/><circle cx="819" cy="751.4" r="4.2" fill="url(#ud)"/><circle cx="833.6" cy="682.6" r="4.2" fill="url(#ud)"/><circle cx="831.9" cy="705.2" r="4.2" fill="url(#ud)"/><circle cx="832.3" cy="731" r="4.2" fill="url(#ud)"/><circle cx="843.7" cy="681" r="4.2" fill="url(#ud)"/><circle cx="836" cy="689.7" r="4.2" fill="url(#ud)"/><circle cx="848.2" cy="688.1" r="4.2" fill="url(#ud)"/><circle cx="848.9" cy="693.9" r="4.2" fill="url(#ud)"/><circle cx="839.8" cy="703.2" r="4.2" fill="url(#ud)"/><circle cx="849.5" cy="703.2" r="4.2" fill="url(#ud)"/><circle cx="843.7" cy="707.1" r="4.2" fill="url(#ud)"/><circle cx="842.4" cy="714.4" r="4.2" fill="url(#ud)"/><circle cx="866.9" cy="704.2" r="4.2" fill="url(#ud)"/><circle cx="867.9" cy="716.8" r="4.2" fill="url(#ud)"/><circle cx="871.4" cy="716.8" r="4.2" fill="url(#ud)"/><circle cx="864.4" cy="726.8" r="4.2" fill="url(#ud)"/><circle cx="876.6" cy="733.2" r="4.2" fill="url(#ud)"/><circle cx="868.9" cy="736.1" r="4.2" fill="url(#ud)"/><circle cx="878.5" cy="740" r="4.2" fill="url(#ud)"/><circle cx="858.2" cy="740" r="4.2" fill="url(#ud)"/><circle cx="841.8" cy="745.4" r="4.2" fill="url(#ud)"/><circle cx="863.1" cy="746.8" r="4.2" fill="url(#ud)"/><circle cx="872.2" cy="745.8" r="4.2" fill="url(#ud)"/><circle cx="885.3" cy="717.7" r="4.2" fill="url(#ud)"/><circle cx="888.2" cy="718.7" r="4.2" fill="url(#ud)"/><circle cx="894" cy="714.4" r="4.2" fill="url(#ud)"/><circle cx="899.8" cy="723.5" r="4.2" fill="url(#ud)"/><circle cx="900.8" cy="727.4" r="4.2" fill="url(#ud)"/><circle cx="908.5" cy="724.1" r="4.2" fill="url(#ud)"/><circle cx="916.3" cy="719.7" r="4.2" fill="url(#ud)"/><circle cx="897.9" cy="732.3" r="4.2" fill="url(#ud)"/><circle cx="895" cy="737.1" r="4.2" fill="url(#ud)"/><circle cx="907.6" cy="734.6" r="4.2" fill="url(#ud)"/><circle cx="914" cy="741.5" r="4.2" fill="url(#ud)"/><circle cx="893.1" cy="747.7" r="4.2" fill="url(#ud)"/><circle cx="896.9" cy="747.7" r="4.2" fill="url(#ud)"/><circle cx="902.4" cy="749.7" r="4.2" fill="url(#ud)"/><circle cx="926.3" cy="704.2" r="4.2" fill="url(#ud)"/><circle cx="935.6" cy="710" r="4.2" fill="url(#ud)"/><circle cx="928.3" cy="720.6" r="4.2" fill="url(#ud)"/><circle cx="939.5" cy="722.6" r="4.2" fill="url(#ud)"/><circle cx="944.9" cy="730.3" r="4.2" fill="url(#ud)"/><circle cx="926.9" cy="745.4" r="4.2" fill="url(#ud)"/><circle cx="856.3" cy="755.9" r="4.2" fill="url(#ud)"/><circle cx="852" cy="759.7" r="4.2" fill="url(#ud)"/><circle cx="851.5" cy="764.8" r="4.2" fill="url(#ud)"/><circle cx="875.6" cy="757" r="4.2" fill="url(#ud)"/><circle cx="869.4" cy="764.8" r="4.2" fill="url(#ud)"/><circle cx="872.7" cy="768.1" r="4.2" fill="url(#ud)"/><circle cx="865" cy="770" r="4.2" fill="url(#ud)"/><circle cx="908.9" cy="759" r="4.2" fill="url(#ud)"/><circle cx="914.4" cy="758.4" r="4.2" fill="url(#ud)"/><circle cx="920.2" cy="761.3" r="4.2" fill="url(#ud)"/><circle cx="919.2" cy="765.2" r="4.2" fill="url(#ud)"/><circle cx="906.2" cy="766.1" r="4.2" fill="url(#ud)"/><circle cx="901.8" cy="772.5" r="4.2" fill="url(#ud)"/><circle cx="904.3" cy="776.8" r="4.2" fill="url(#ud)"/><circle cx="912" cy="777.7" r="4.2" fill="url(#ud)"/><circle cx="904.7" cy="780.6" r="4.2" fill="url(#ud)"/><circle cx="923.1" cy="775.8" r="4.2" fill="url(#ud)"/><circle cx="922.1" cy="780.6" r="4.2" fill="url(#ud)"/><circle cx="932.7" cy="759.7" r="4.2" fill="url(#ud)"/><circle cx="931.4" cy="768.1" r="4.2" fill="url(#ud)"/><circle cx="933.7" cy="771.9" r="4.2" fill="url(#ud)"/><circle cx="935.6" cy="778.7" r="4.2" fill="url(#ud)"/><circle cx="940.5" cy="777.7" r="4.2" fill="url(#ud)"/><circle cx="946.3" cy="781.6" r="4.2" fill="url(#ud)"/><circle cx="949.2" cy="759.4" r="4.2" fill="url(#ud)"/><circle cx="948.8" cy="770" r="4.2" fill="url(#ud)"/><circle cx="837.9" cy="771" r="4.2" fill="url(#ud)"/><circle cx="838.9" cy="783.5" r="4.2" fill="url(#ud)"/><circle cx="855.3" cy="780.6" r="4.2" fill="url(#ud)"/><circle cx="860.2" cy="780.6" r="4.2" fill="url(#ud)"/><circle cx="874.7" cy="779.7" r="4.2" fill="url(#ud)"/><circle cx="884.4" cy="781.6" r="4.2" fill="url(#ud)"/><circle cx="891.1" cy="780.6" r="4.2" fill="url(#ud)"/><circle cx="892.1" cy="788" r="4.2" fill="url(#ud)"/><circle cx="862.1" cy="788.4" r="4.2" fill="url(#ud)"/><circle cx="910.5" cy="789.9" r="4.2" fill="url(#ud)"/><circle cx="913.4" cy="790.7" r="4.2" fill="url(#ud)"/><circle cx="924.4" cy="787.4" r="4.2" fill="url(#ud)"/><circle cx="929.8" cy="786.4" r="4.2" fill="url(#ud)"/><circle cx="937.6" cy="791.3" r="4.2" fill="url(#ud)"/><circle cx="942.4" cy="791.3" r="4.2" fill="url(#ud)"/><circle cx="942.4" cy="801" r="4.2" fill="url(#ud)"/><circle cx="953.1" cy="793.2" r="4.2" fill="url(#ud)"/><circle cx="883" cy="793.2" r="4.2" fill="url(#ud)"/><circle cx="837.3" cy="799" r="4.2" fill="url(#ud)"/><circle cx="858.6" cy="801" r="4.2" fill="url(#ud)"/><circle cx="881.8" cy="803.5" r="4.2" fill="url(#ud)"/><circle cx="846.6" cy="805.8" r="4.2" fill="url(#ud)"/><circle cx="845.6" cy="811.6" r="4.2" fill="url(#ud)"/><circle cx="854.4" cy="813.2" r="4.2" fill="url(#ud)"/><circle cx="879.5" cy="815.5" r="4.2" fill="url(#ud)"/><circle cx="877.6" cy="819.3" r="4.2" fill="url(#ud)"/><circle cx="890.2" cy="821.3" r="4.2" fill="url(#ud)"/><circle cx="898.9" cy="817.4" r="4.2" fill="url(#ud)"/><circle cx="918.6" cy="820.3" r="4.2" fill="url(#ud)"/><circle cx="930.8" cy="814.5" r="4.2" fill="url(#ud)"/><circle cx="952.1" cy="818.4" r="4.2" fill="url(#ud)"/><circle cx="853.4" cy="825.5" r="4.2" fill="url(#ud)"/><circle cx="887.3" cy="830.6" r="4.2" fill="url(#ud)"/><circle cx="880.5" cy="834.8" r="4.2" fill="url(#ud)"/><circle cx="946.9" cy="829" r="4.2" fill="url(#ud)"/><circle cx="954" cy="835.8" r="4.2" fill="url(#ud)"/><circle cx="993.4" cy="566.3" r="4.2" fill="url(#ud)"/><circle cx="998.7" cy="587.6" r="4.2" fill="url(#ud)"/><circle cx="1001.1" cy="593.4" r="4.2" fill="url(#ud)"/><circle cx="996.3" cy="607" r="4.2" fill="url(#ud)"/><circle cx="1008.4" cy="615.2" r="4.2" fill="url(#ud)"/><circle cx="1005" cy="625.6" r="4.2" fill="url(#ud)"/><circle cx="994.6" cy="634" r="4.2" fill="url(#ud)"/><circle cx="1007.4" cy="634.5" r="4.2" fill="url(#ud)"/><circle cx="997.7" cy="643.2" r="4.2" fill="url(#ud)"/><circle cx="1003.1" cy="642.5" r="4.2" fill="url(#ud)"/><circle cx="1009.8" cy="644.2" r="4.2" fill="url(#ud)"/><circle cx="1014" cy="649.8" r="4.2" fill="url(#ud)"/><circle cx="988.1" cy="657" r="4.2" fill="url(#ud)"/><circle cx="994.6" cy="654.6" r="4.2" fill="url(#ud)"/><circle cx="1000.6" cy="656.3" r="4.2" fill="url(#ud)"/><circle cx="985.6" cy="662.6" r="4.2" fill="url(#ud)"/><circle cx="1003.1" cy="664.3" r="4.2" fill="url(#ud)"/><circle cx="1015.2" cy="662.6" r="4.2" fill="url(#ud)"/><circle cx="988.6" cy="671.5" r="4.2" fill="url(#ud)"/><circle cx="977.7" cy="676.4" r="4.2" fill="url(#ud)"/><circle cx="1043.7" cy="676.4" r="4.2" fill="url(#ud)"/><circle cx="1045.2" cy="686.4" r="4.2" fill="url(#ud)"/><circle cx="1018.6" cy="683.9" r="4.2" fill="url(#ud)"/><circle cx="991.6" cy="692.1" r="4.2" fill="url(#ud)"/><circle cx="1013.5" cy="696.2" r="4.2" fill="url(#ud)"/><circle cx="967.1" cy="710.5" r="4.2" fill="url(#ud)"/><circle cx="979.3" cy="710.5" r="4.2" fill="url(#ud)"/><circle cx="992.4" cy="707.2" r="4.2" fill="url(#ud)"/><circle cx="1025.1" cy="707.2" r="4.2" fill="url(#ud)"/><circle cx="985.5" cy="721.1" r="4.2" fill="url(#ud)"/><circle cx="1028.8" cy="722.1" r="4.2" fill="url(#ud)"/><circle cx="1033.9" cy="721.1" r="4.2" fill="url(#ud)"/><circle cx="1020.2" cy="728.3" r="4.2" fill="url(#ud)"/><circle cx="1015.5" cy="732.3" r="4.2" fill="url(#ud)"/><circle cx="1026.8" cy="732.3" r="4.2" fill="url(#ud)"/><circle cx="1032.9" cy="737.5" r="4.2" fill="url(#ud)"/><circle cx="1045.2" cy="735.4" r="4.2" fill="url(#ud)"/><circle cx="1012" cy="740.5" r="4.2" fill="url(#ud)"/><circle cx="1010.4" cy="748.7" r="4.2" fill="url(#ud)"/><circle cx="1027.8" cy="743.2" r="4.2" fill="url(#ud)"/><circle cx="962.4" cy="747.3" r="4.2" fill="url(#ud)"/><circle cx="982.2" cy="748.7" r="4.2" fill="url(#ud)"/><circle cx="965" cy="755.9" r="4.2" fill="url(#ud)"/><circle cx="970.6" cy="758.9" r="4.2" fill="url(#ud)"/><circle cx="980.2" cy="755.9" r="4.2" fill="url(#ud)"/><circle cx="1017.6" cy="758.9" r="4.2" fill="url(#ud)"/><circle cx="1024.3" cy="753.8" r="4.2" fill="url(#ud)"/><circle cx="1038" cy="751.8" r="4.2" fill="url(#ud)"/><circle cx="982.8" cy="763.6" r="4.2" fill="url(#ud)"/><circle cx="973.6" cy="766.1" r="4.2" fill="url(#ud)"/><circle cx="976.7" cy="769.1" r="4.2" fill="url(#ud)"/><circle cx="959.7" cy="770.2" r="4.2" fill="url(#ud)"/><circle cx="1036.6" cy="763.6" r="4.2" fill="url(#ud)"/><circle cx="1042.7" cy="763" r="4.2" fill="url(#ud)"/><circle cx="975.7" cy="778.3" r="4.2" fill="url(#ud)"/><circle cx="984.9" cy="777.9" r="4.2" fill="url(#ud)"/><circle cx="950.7" cy="787.5" r="4.2" fill="url(#ud)"/><circle cx="963.8" cy="791" r="4.2" fill="url(#ud)"/><circle cx="981.4" cy="786.5" r="4.2" fill="url(#ud)"/><circle cx="1021.7" cy="780.4" r="4.2" fill="url(#ud)"/><circle cx="1039.4" cy="776.3" r="4.2" fill="url(#ud)"/><circle cx="1034.5" cy="781.4" r="4.2" fill="url(#ud)"/><circle cx="974.6" cy="802.9" r="4.2" fill="url(#ud)"/><circle cx="1022.7" cy="796.7" r="4.2" fill="url(#ud)"/><circle cx="1031.9" cy="796.3" r="4.2" fill="url(#ud)"/><circle cx="1040.1" cy="798.4" r="4.2" fill="url(#ud)"/><circle cx="1037" cy="805.9" r="4.2" fill="url(#ud)"/><circle cx="961.4" cy="810" r="4.2" fill="url(#ud)"/><circle cx="956.2" cy="813.1" r="4.2" fill="url(#ud)"/><circle cx="958.3" cy="823.7" r="4.2" fill="url(#ud)"/><circle cx="971.6" cy="828.4" r="4.2" fill="url(#ud)"/><circle cx="965.4" cy="833.5" r="4.2" fill="url(#ud)"/><circle cx="969.5" cy="835.2" r="4.2" fill="url(#ud)"/><circle cx="959.3" cy="849.9" r="4.2" fill="url(#ud)"/><rect x="585.3" y="463.0" width="462.3" height="389.5" fill="none" stroke="#000" stroke-width="2.8"/><line x1="607.4" y1="852.5" x2="607.4" y2="844.8" stroke="#000" stroke-width="2.4"/><line x1="634.9" y1="852.5" x2="634.9" y2="849" stroke="#000" stroke-width="2.4"/><line x1="662.4" y1="852.5" x2="662.4" y2="844.8" stroke="#000" stroke-width="2.4"/><line x1="689.9" y1="852.5" x2="689.9" y2="849" stroke="#000" stroke-width="2.4"/><line x1="717.5" y1="852.5" x2="717.5" y2="844.8" stroke="#000" stroke-width="2.4"/><line x1="745" y1="852.5" x2="745" y2="849" stroke="#000" stroke-width="2.4"/><line x1="772.5" y1="852.5" x2="772.5" y2="844.8" stroke="#000" stroke-width="2.4"/><line x1="800" y1="852.5" x2="800" y2="849" stroke="#000" stroke-width="2.4"/><line x1="827.5" y1="852.5" x2="827.5" y2="844.8" stroke="#000" stroke-width="2.4"/><line x1="855" y1="852.5" x2="855" y2="849" stroke="#000" stroke-width="2.4"/><line x1="882.5" y1="852.5" x2="882.5" y2="844.8" stroke="#000" stroke-width="2.4"/><line x1="910" y1="852.5" x2="910" y2="849" stroke="#000" stroke-width="2.4"/><line x1="937.5" y1="852.5" x2="937.5" y2="844.8" stroke="#000" stroke-width="2.4"/><line x1="965.1" y1="852.5" x2="965.1" y2="849" stroke="#000" stroke-width="2.4"/><line x1="992.6" y1="852.5" x2="992.6" y2="844.8" stroke="#000" stroke-width="2.4"/><line x1="1020.1" y1="852.5" x2="1020.1" y2="849" stroke="#000" stroke-width="2.4"/><line x1="1047.6" y1="852.5" x2="1047.6" y2="844.8" stroke="#000" stroke-width="2.4"/><line x1="918.1" y1="475.1" x2="962.8" y2="475.1" stroke="#ff0000" stroke-width="2.4"/><circle cx="940.2" cy="500.2" r="4.0" fill="url(#ud)"/><g text-rendering="geometricPrecision"><text x="0" y="0" font-family="Liberation Serif" font-weight="bold" font-size="36.50" fill="#000" transform="translate(58.95 50.81) scale(1.037 1)">(a)</text><text x="0" y="0" font-family="Liberation Serif" font-weight="bold" font-size="19.05" fill="#000" transform="translate(34.14 254.37) scale(1.005 1) rotate(-90)">Intensity (a.u.)</text><text x="0" y="0" font-family="Liberation Serif" font-weight="bold" font-size="19.40" fill="#000" transform="translate(46.26 397.76) scale(1.090 1)">0</text><text x="0" y="0" font-family="Liberation Serif" font-weight="bold" font-size="19.40" fill="#000" transform="translate(127.84 397.76) scale(1.090 1)">200</text><text x="0" y="0" font-family="Liberation Serif" font-weight="bold" font-size="19.40" fill="#000" transform="translate(221.31 397.51) scale(1.090 1)">400</text><text x="0" y="0" font-family="Liberation Serif" font-weight="bold" font-size="19.40" fill="#000" transform="translate(313.60 397.51) scale(1.090 1)">600</text><text x="0" y="0" font-family="Liberation Serif" font-weight="bold" font-size="19.40" fill="#000" transform="translate(405.65 397.51) scale(1.090 1)">800</text><text x="0" y="0" font-family="Liberation Serif" font-weight="bold" font-size="19.40" fill="#000" transform="translate(492.88 397.61) scale(1.090 1)">1000</text><text x="0" y="0" font-family="Liberation Serif" font-weight="bold" font-size="19.11" fill="#000" transform="translate(209.88 429.39) scale(1.088 1)">Binding energy (eV)</text><text x="0" y="0" font-family="Liberation Serif" font-weight="bold" font-size="12.05" fill="#000" transform="translate(64.11 327.03) scale(1.130 1) rotate(-90)">Zn3d</text><text x="0" y="0" font-family="Liberation Serif" font-weight="bold" font-size="12.05" fill="#000" transform="translate(95.55 319.15) scale(1.130 1) rotate(-90)">Zn3p</text><text x="0" y="0" font-family="Liberation Serif" font-weight="bold" font-size="12.05" fill="#000" transform="translate(103.97 286.05) scale(1.130 1) rotate(-90)">Si2p</text><text x="0" y="0" font-family="Liberation Serif" font-weight="bold" font-size="12.05" fill="#000" transform="translate(119.29 321.75) scale(1.130 1) rotate(-90)">Zn3s</text><text x="0" y="0" font-family="Liberation Serif" font-weight="bold" font-size="12.05" fill="#000" transform="translate(187.43 244.58) scale(1.130 1) rotate(-90)">C1s</text><text x="0" y="0" font-family="Liberation Serif" font-weight="bold" font-size="12.05" fill="#000" transform="translate(273.98 303.56) scale(1.130 1) rotate(-90)">Zn LMM</text><text x="0" y="0" font-family="Liberation Serif" font-weight="bold" font-size="12.05" fill="#000" transform="translate(285.38 186.86) scale(1.130 1) rotate(-90)">Zn LMM</text><text x="0" y="0" font-family="Liberation Serif" font-weight="bold" font-size="12.05" fill="#000" transform="translate(328.88 214.46) scale(1.130 1) rotate(-90)">Zn LMM</text><text x="0" y="0" font-family="Liberation Serif" font-weight="bold" font-size="12.05" fill="#000" transform="translate(302.86 43.19) scale(1.130 1) rotate(-90)">O1s</text><text x="0" y="0" font-family="Liberation Serif" font-weight="bold" font-size="12.05" fill="#000" transform="translate(508.69 210.34) scale(1.130 1) rotate(-90)">O KLL</text><text x="0" y="0" font-family="Liberation Serif" font-weight="bold" font-size="36.50" fill="#000" transform="translate(597.81 50.61) scale(1.037 1)">(b)</text><text x="0" y="0" font-family="Liberation Serif" font-weight="bold" font-size="19.05" fill="#000" transform="translate(579.59 252.47) scale(1.005 1) rotate(-90)">Intensity (a.u.)</text><text x="0" y="0" font-family="Liberation Serif" font-weight="bold" font-size="22.10" fill="#000" transform="translate(637.89 397.57) scale(0.930 1)">1020</text><text x="0" y="0" font-family="Liberation Serif" font-weight="bold" font-size="22.10" fill="#000" transform="translate(765.09 397.57) scale(0.930 1)">1030</text><text x="0" y="0" font-family="Liberation Serif" font-weight="bold" font-size="22.10" fill="#000" transform="translate(892.69 397.57) scale(0.930 1)">1040</text><text x="0" y="0" font-family="Liberation Serif" font-weight="bold" font-size="22.10" fill="#000" transform="translate(1020.99 397.57) scale(0.930 1)">1050</text><text x="0" y="0" font-family="Liberation Serif" font-weight="bold" font-size="19.11" fill="#000" transform="translate(738.03 429.39) scale(0.979 1)">Binding energy (eV)</text><text x="0" y="0" font-family="Liberation Serif" font-weight="bold" font-size="18.31" fill="#000" transform="translate(649.50 36.36) scale(1.018 1)">1021.6 eV</text><text x="0" y="0" font-family="Liberation Serif" font-weight="bold" font-size="18.31" fill="#000" transform="translate(942.10 183.41) scale(1.018 1)">1044.7 eV</text><text x="0" y="0" font-family="Liberation Serif" font-weight="bold" font-size="16.22" fill="#000" transform="translate(958.41 39.33) scale(1.051 1)">Peak Sum</text><text x="0" y="0" font-family="Liberation Serif" font-weight="bold" font-size="16.22" fill="#000" transform="translate(958.13 60.02) scale(1.051 1)">Zn2p</text><text x="0" y="0" font-family="Liberation Serif" font-weight="bold" font-size="36.50" fill="#000" transform="translate(57.35 498.76) scale(1.037 1)">(c)</text><text x="0" y="0" font-family="Liberation Serif" font-weight="bold" font-size="19.05" fill="#000" transform="translate(33.29 712.17) scale(1.005 1) rotate(-90)">Intensity (a.u.)</text><text x="0" y="0" font-family="Liberation Serif" font-weight="bold" font-size="23.80" fill="#000" transform="translate(193.84 876.50) scale(0.950 1)">530</text><text x="0" y="0" font-family="Liberation Serif" font-weight="bold" font-size="23.80" fill="#000" transform="translate(514.99 876.30) scale(0.950 1)">540</text><text x="0" y="0" font-family="Liberation Serif" font-weight="bold" font-size="20.11" fill="#000" transform="translate(204.90 910.58) scale(0.999 1)">Binding energy (eV)</text><text x="0" y="0" font-family="Liberation Serif" font-weight="bold" font-size="20.72" fill="#000" transform="translate(157.18 625.63) scale(0.967 1)">OI1</text><text x="0" y="0" font-family="Liberation Serif" font-weight="bold" font-size="20.72" fill="#000" transform="translate(142.90 650.43) scale(0.967 1)">530.8 eV</text><text x="0" y="0" font-family="Liberation Serif" font-weight="bold" font-size="20.72" fill="#000" transform="translate(313.28 489.78) scale(0.967 1)">OI2</text><text x="0" y="0" font-family="Liberation Serif" font-weight="bold" font-size="20.72" fill="#000" transform="translate(298.10 515.13) scale(0.967 1)">532.1 eV</text><text x="0" y="0" font-family="Liberation Serif" font-weight="bold" font-size="20.72" fill="#000" transform="translate(401.08 753.43) scale(0.967 1)">OI3</text><text x="0" y="0" font-family="Liberation Serif" font-weight="bold" font-size="20.72" fill="#000" transform="translate(385.85 778.53) scale(0.967 1)">536.3 eV</text><text x="0" y="0" font-family="Liberation Serif" font-weight="bold" font-size="16.97" fill="#000" transform="translate(442.28 485.28) scale(1.092 1)">Peak Sum</text><text x="0" y="0" font-family="Liberation Serif" font-weight="bold" font-size="16.97" fill="#000" transform="translate(443.65 508.73) scale(1.092 1)">O1s</text><text x="0" y="0" font-family="Liberation Serif" font-weight="bold" font-size="36.50" fill="#000" transform="translate(595.91 498.76) scale(1.037 1)">(d)</text><text x="0" y="0" font-family="Liberation Serif" font-weight="bold" font-size="19.05" fill="#000" transform="translate(569.39 712.17) scale(1.005 1) rotate(-90)">Intensity (a.u.)</text><text x="0" y="0" font-family="Liberation Serif" font-weight="bold" font-size="22.10" fill="#000" transform="translate(592.42 876.96) scale(0.910 1)">880</text><text x="0" y="0" font-family="Liberation Serif" font-weight="bold" font-size="22.10" fill="#000" transform="translate(647.42 876.96) scale(0.910 1)">885</text><text x="0" y="0" font-family="Liberation Serif" font-weight="bold" font-size="22.10" fill="#000" transform="translate(702.52 876.96) scale(0.910 1)">890</text><text x="0" y="0" font-family="Liberation Serif" font-weight="bold" font-size="22.10" fill="#000" transform="translate(757.52 876.96) scale(0.910 1)">895</text><text x="0" y="0" font-family="Liberation Serif" font-weight="bold" font-size="22.10" fill="#000" transform="translate(812.52 876.96) scale(0.910 1)">900</text><text x="0" y="0" font-family="Liberation Serif" font-weight="bold" font-size="22.10" fill="#000" transform="translate(867.52 876.96) scale(0.910 1)">905</text><text x="0" y="0" font-family="Liberation Serif" font-weight="bold" font-size="22.10" fill="#000" transform="translate(922.52 877.07) scale(0.910 1)">910</text><text x="0" y="0" font-family="Liberation Serif" font-weight="bold" font-size="22.10" fill="#000" transform="translate(977.62 877.07) scale(0.910 1)">915</text><text x="0" y="0" font-family="Liberation Serif" font-weight="bold" font-size="22.10" fill="#000" transform="translate(1032.62 876.96) scale(0.910 1)">920</text><text x="0" y="0" font-family="Liberation Serif" font-weight="bold" font-size="19.89" fill="#000" transform="translate(733.31 910.62) scale(0.974 1)">Binding energy (eV)</text><text x="0" y="0" font-family="Liberation Serif" font-weight="bold" font-size="14.72" fill="#000" transform="translate(646.65 540.41) scale(0.949 1)">W1</text><text x="0" y="0" font-family="Liberation Serif" font-weight="bold" font-size="14.72" fill="#000" transform="translate(630.47 561.26) scale(0.949 1)">881.4 eV</text><text x="0" y="0" font-family="Liberation Serif" font-weight="bold" font-size="14.72" fill="#000" transform="translate(646.23 612.14) scale(0.949 1)">W2</text><text x="0" y="0" font-family="Liberation Serif" font-weight="bold" font-size="14.72" fill="#000" transform="translate(633.82 632.79) scale(0.949 1)">883.8 eV</text><text x="0" y="0" font-family="Liberation Serif" font-weight="bold" font-size="14.72" fill="#000" transform="translate(671.76 653.89) scale(0.949 1)">W3</text><text x="0" y="0" font-family="Liberation Serif" font-weight="bold" font-size="14.72" fill="#000" transform="translate(659.27 674.89) scale(0.949 1)">885.9 eV</text><text x="0" y="0" font-family="Liberation Serif" font-weight="bold" font-size="14.72" fill="#000" transform="translate(720.69 710.89) scale(0.949 1)">W4</text><text x="0" y="0" font-family="Liberation Serif" font-weight="bold" font-size="14.72" fill="#000" transform="translate(708.27 731.46) scale(0.949 1)">888.1 eV</text><text x="0" y="0" font-family="Liberation Serif" font-weight="bold" font-size="14.72" fill="#000" transform="translate(750.23 579.29) scale(0.949 1)">W5</text><text x="0" y="0" font-family="Liberation Serif" font-weight="bold" font-size="14.72" fill="#000" transform="translate(738.82 597.69) scale(0.949 1)">897.3 eV</text><text x="0" y="0" font-family="Liberation Serif" font-weight="bold" font-size="14.72" fill="#000" transform="translate(819.31 550.54) scale(0.949 1)">W6</text><text x="0" y="0" font-family="Liberation Serif" font-weight="bold" font-size="14.72" fill="#000" transform="translate(806.62 571.54) scale(0.949 1)">899.9 eV</text><text x="0" y="0" font-family="Liberation Serif" font-weight="bold" font-size="14.72" fill="#000" transform="translate(846.74 612.49) scale(0.949 1)">W7</text><text x="0" y="0" font-family="Liberation Serif" font-weight="bold" font-size="14.72" fill="#000" transform="translate(834.27 633.51) scale(0.949 1)">901.9 eV</text><text x="0" y="0" font-family="Liberation Serif" font-weight="bold" font-size="14.72" fill="#000" transform="translate(867.26 655.59) scale(0.949 1)">W8</text><text x="0" y="0" font-family="Liberation Serif" font-weight="bold" font-size="14.72" fill="#000" transform="translate(854.62 676.69) scale(0.949 1)">903.8 eV</text><text x="0" y="0" font-family="Liberation Serif" font-weight="bold" font-size="14.72" fill="#000" transform="translate(916.58 675.09) scale(0.949 1)">W9</text><text x="0" y="0" font-family="Liberation Serif" font-weight="bold" font-size="14.72" fill="#000" transform="translate(905.12 693.19) scale(0.949 1)">907.3 eV</text><text x="0" y="0" font-family="Liberation Serif" font-weight="bold" font-size="14.72" fill="#000" transform="translate(986.88 541.11) scale(0.949 1)">W10</text><text x="0" y="0" font-family="Liberation Serif" font-weight="bold" font-size="14.72" fill="#000" transform="translate(975.62 559.36) scale(0.949 1)">915.6 eV</text><text x="0" y="0" font-family="Liberation Serif" font-weight="normal" font-size="18.45" fill="#000" transform="translate(966.39 481.28) scale(1.049 1)">Peak Sum</text><text x="0" y="0" font-family="Liberation Serif" font-weight="normal" font-size="18.45" fill="#000" transform="translate(966.48 505.98) scale(1.049 1)">Ce3d</text></g><text x="0" y="0" font-family="Liberation Serif" font-weight="bold" font-size="20.58" fill="#000" transform="translate(692.84 64.38) scale(0.933 1)">Zn2p<tspan font-size="0.62em" dy="0.28em">3/2</tspan></text><text x="0" y="0" font-family="Liberation Serif" font-weight="bold" font-size="20.23" fill="#000" transform="translate(953.34 160.35) scale(0.947 1)">Zn2p<tspan font-size="0.62em" dy="0.28em">1/2</tspan></text><text x="0" y="0" font-family="Liberation Serif" font-weight="bold" font-size="12.47" fill="#000" transform="translate(528.59 90.32) scale(1.000 1) rotate(-90)">Zn2p<tspan font-size="0.62em" dy="0.28em">3/2</tspan></text><text x="0" y="0" font-family="Liberation Serif" font-weight="bold" font-size="12.47" fill="#000" transform="translate(538.24 140.02) scale(1.000 1) rotate(-90)">Zn2p<tspan font-size="0.62em" dy="0.28em">1/2</tspan></text></svg></body></html>
